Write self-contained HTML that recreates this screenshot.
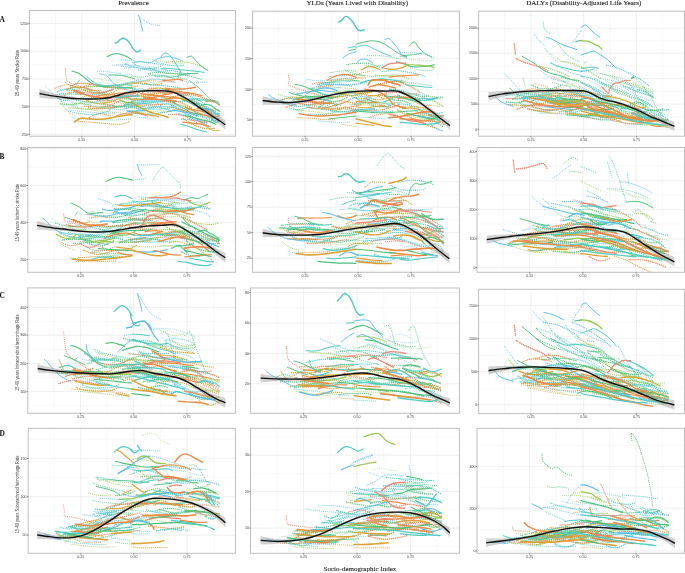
<!DOCTYPE html><html><head><meta charset="utf-8"><style>html,body{margin:0;padding:0;background:#fff;width:685px;height:573px;overflow:hidden}svg{display:block}.T{stroke:#4ccbc1}.S{stroke:#55bdea}.G{stroke:#4cc27a}.LG{stroke:#98c84a}.O{stroke:#ec8a45}.GO{stroke:#dca030}.R{stroke:#f0866f}.PT{stroke:#a8dcef}.PG{stroke:#bde0a5}.PO{stroke:#edd0a6}.DG{stroke:#2fb35f}.w8{stroke-width:0.8}.w9{stroke-width:0.9}.w10{stroke-width:1.0}.w11{stroke-width:1.1}.w12{stroke-width:1.2}.w13{stroke-width:1.3}.w14{stroke-width:1.4}.w15{stroke-width:1.5}.w16{stroke-width:1.6}.w17{stroke-width:1.7}.d{stroke-dasharray:.05 1.9}.e{stroke-dasharray:.05 1.8}</style></head><body>
<svg width="685" height="573" viewBox="0 0 685 573" style="will-change:transform">
<defs><filter id="bl" x="-5%" y="-5%" width="110%" height="110%"><feGaussianBlur stdDeviation="0.12"/></filter><filter id="bl2" x="0" y="0" width="100%" height="100%"><feGaussianBlur stdDeviation="0.28"/></filter></defs><rect width="685" height="573" fill="#fff"/><g filter="url(#bl2)">
<g><line x1="29.5" y1="37.3" x2="235.5" y2="37.3" stroke="#f3f3f3" stroke-width="0.6"/><line x1="29.5" y1="65" x2="235.5" y2="65" stroke="#f3f3f3" stroke-width="0.6"/><line x1="29.5" y1="92.7" x2="235.5" y2="92.7" stroke="#f3f3f3" stroke-width="0.6"/><line x1="29.5" y1="120.4" x2="235.5" y2="120.4" stroke="#f3f3f3" stroke-width="0.6"/><line x1="55.5" y1="10.5" x2="55.5" y2="136.2" stroke="#f3f3f3" stroke-width="0.6"/><line x1="108.2" y1="10.5" x2="108.2" y2="136.2" stroke="#f3f3f3" stroke-width="0.6"/><line x1="161" y1="10.5" x2="161" y2="136.2" stroke="#f3f3f3" stroke-width="0.6"/><line x1="213.8" y1="10.5" x2="213.8" y2="136.2" stroke="#f3f3f3" stroke-width="0.6"/><line x1="29.5" y1="23.4" x2="235.5" y2="23.4" stroke="#ebebeb" stroke-width="0.8"/><line x1="29.5" y1="51.2" x2="235.5" y2="51.2" stroke="#ebebeb" stroke-width="0.8"/><line x1="29.5" y1="79" x2="235.5" y2="79" stroke="#ebebeb" stroke-width="0.8"/><line x1="29.5" y1="106.7" x2="235.5" y2="106.7" stroke="#ebebeb" stroke-width="0.8"/><line x1="29.5" y1="134.3" x2="235.5" y2="134.3" stroke="#ebebeb" stroke-width="0.8"/><line x1="81.8" y1="10.5" x2="81.8" y2="136.2" stroke="#ebebeb" stroke-width="0.8"/><line x1="134.6" y1="10.5" x2="134.6" y2="136.2" stroke="#ebebeb" stroke-width="0.8"/><line x1="187.4" y1="10.5" x2="187.4" y2="136.2" stroke="#ebebeb" stroke-width="0.8"/></g>
<g clip-path="url(#cA1)"><g filter="url(#bl)"><g fill="none" stroke-linecap="round" stroke-linejoin="round"><path class="T w11 d" d="M121.5 59.9c1.1 0 4.5 0 6.8 .2c2.3 .2 4.5 .6 6.8 .9c2.3 .3 4.5 .5 6.8 .8c2.3 .3 4.5 .5 6.8 .8c2.3 .3 4.6 .8 6.9 1.2c2.3 .4 5.7 .9 6.8 1.1"/><path class="S w12 d" d="M138.8 70.3c1.2-.2 4.9-.9 7.3-1.1c2.4-.2 4.8-.1 7.2-.2c2.4-.1 4.9-.4 7.3-.2c2.4 .2 4.9 .8 7.3 1.2c2.4 .4 4.9 .6 7.3 1.1c2.4 .5 4.9 1.4 7.3 2c2.4 .6 6.1 1.5 7.3 1.8"/><path class="PG w11 d" d="M149.1 59.2c1.2 .2 4.7 .8 7.1 1.2c2.4 .4 4.7 1 7.1 1.5c2.4 .5 4.7 1.1 7.1 1.3c2.4 .2 4.7 0 7.1 .1c2.4 .1 5.9 .4 7.1 .5"/><path class="G w12 d" d="M149.4 67.8c1.1 .5 4.5 2 6.8 2.8c2.3 .8 4.6 1.3 6.8 1.8c2.2 .5 4.4 .9 6.7 1.1c2.2 .2 4.6 .2 6.8 .3c2.2 .1 4.4 .2 6.7 .1c2.2 0 5.7-.3 6.8-.4"/><path class="G w10" d="M108.6 75c1.1 0 4.4-.1 6.6 0c2.2 .1 4.3 .1 6.5 .4c2.2 .3 4.3 1 6.5 1.6c2.2 .6 5.5 1.5 6.6 1.8"/><path class="G w11 d" d="M134.1 64c1.1 .5 4.5 2 6.7 2.8c2.2 .8 4.5 1.5 6.7 1.7c2.2 .2 4.5-.2 6.7-.5c2.2-.3 5.6-1.3 6.7-1.6"/><path class="PT w12 d" d="M116.7 64.6c1.1 0 4.4-.2 6.6-.2c2.2 0 4.5 .2 6.7 .4c2.2 .2 4.5 .4 6.7 .6c2.2 .2 4.5 .4 6.7 .6c2.2 .2 4.5 .4 6.7 .7c2.2 .3 5.5 1.1 6.6 1.3"/><path class="T w12 d" d="M155.4 76.2c1.1-.1 4.3-.5 6.4-.5c2.1 0 4.3 .2 6.4 .3c2.1 .1 4.3-.2 6.4 .2c2.1 .4 4.3 1.4 6.4 2c2.1 .6 5.3 1.5 6.4 1.8"/><path class="PT w11 d" d="M112.5 65.4c1.2 0 4.6 .1 6.9 .1c2.3 0 4.6 .1 6.9 .1c2.3 0 4.6-.2 6.9 0c2.3 .2 4.6 .6 6.9 1c2.3 .4 4.6 1 6.9 1.5c2.3 .5 4.6 .9 6.9 1.5c2.3 .6 5.8 1.8 6.9 2.1"/><path class="S w11 d" d="M121.7 66.1c1.1 .1 4.6 .6 6.9 .8c2.3 .2 4.6 .1 6.9 .4c2.3 .2 4.6 .9 6.9 1.1c2.3 .2 4.6 .1 6.9 .3c2.3 .2 5.7 .8 6.9 1"/><path class="T w12 d" d="M156.1 61.7c1.2 .4 4.7 1.6 7.1 2.2c2.4 .6 4.7 1 7.1 1.3c2.4 .3 4.7 .6 7.1 .6c2.4 0 5.9-.5 7.1-.6"/><path class="T w10 d" d="M97.5 71.7c1.3 0 5.1-.5 7.7-.3c2.6 .2 5.2 .8 7.8 1.2c2.6 .4 6.5 .8 7.8 1"/><path class="G w12 d" d="M148.8 73.3c1.3-.1 5.1-.7 7.6-.8c2.5-.1 5 .3 7.5 .4c2.5 .1 5.1 .2 7.6 .4c2.5 .2 5.1 .3 7.6 .7c2.5 .4 5.1 1 7.6 1.5c2.5 .5 5.1 1.1 7.6 1.8c2.5 .7 6.2 1.8 7.5 2.1"/><path class="S w12 d" d="M125.5 63.9c1.3 .5 5.2 2.1 7.8 2.9c2.6 .8 5.1 1.2 7.7 1.7c2.6 .5 5.2 1.2 7.8 1.6c2.6 .4 5.2 .8 7.8 1c2.6 .2 5.1 0 7.7-.1c2.6-.1 6.5-.2 7.8-.3"/><path class="G w11 d" d="M148.5 73.9c1.2 .3 5 1.5 7.4 2c2.4 .5 4.8 .8 7.3 1c2.4 .2 4.9 .3 7.4 .2c2.5-.1 6.1-.6 7.3-.7"/><path class="LG w12 d" d="M166.6 62c1.2-.1 5-.4 7.5-.4c2.5 0 5-.1 7.5 .1c2.5 .2 5 .4 7.5 .9c2.5 .5 5 1.2 7.5 1.9c2.5 .7 6.2 2 7.5 2.4"/><path class="PG w11 d" d="M93.5 77.7c1.2 .2 4.6 1.1 6.9 1.5c2.3 .4 4.6 .9 6.9 1c2.3 .1 4.6-.2 6.9-.2c2.3 0 5.7 .1 6.9 .1"/><path class="T w10" d="M161.7 68.3c1.2 0 4.7 0 7.1 .1c2.4 .1 4.8 .3 7.1 .6c2.3 .3 4.7 .7 7 1c2.3 .3 4.7 .5 7.1 .7c2.4 .2 4.8 .4 7.1 .7c2.3 .3 5.8 .8 7 1"/><path class="T w14 d" d="M124.7 108.6c1.1-.2 4.2-1.1 6.4-1.5c2.2-.4 4.3-.8 6.5-.9c2.2-.1 5.4 .3 6.5 .4"/><path class="O w13 d" d="M89.4 117.4c1.2-.5 4.7-2.5 7-3.1c2.3-.6 4.8-.7 7.1-.4c2.3 .3 5.8 1.8 7 2.1"/><path class="O w15 d" d="M172 97c1.2-.2 4.7-1.1 7-1.4c2.3-.3 4.7-.6 7-.7c2.3-.1 4.7-.2 7 .1c2.3 .3 4.7 1.2 7 1.9c2.3 .7 4.7 1.5 7 2.3c2.3 .8 5.8 2.2 7 2.6"/><path class="GO w13 d" d="M148.7 92.8c1.1 .1 4.5 .4 6.7 .5c2.2 .1 4.5 .3 6.7 .3c2.2 0 4.4-.3 6.6-.4c2.2 0 5.6 .1 6.7 .1"/><path class="O w12 d" d="M168.6 114.7c1.2-.1 5-.6 7.4-.4c2.4 .2 4.9 .8 7.3 1.6c2.4 .8 4.9 1.9 7.4 3.2c2.5 1.2 6.2 3.6 7.4 4.3"/><path class="GO w14 d" d="M145.8 83.3c.9 .2 3.8 1.2 5.6 1.4c1.8 .2 3.7 .3 5.5 .1c1.8-.2 4.7-1.1 5.6-1.3"/><path class="PT w13" d="M137.2 81.9c1.2-.3 5-1.1 7.5-1.6c2.5-.5 5-1 7.5-1.2c2.5-.2 5 0 7.5 .2c2.5 .2 5 .8 7.5 1.3c2.5 .5 6.2 1.2 7.5 1.4"/><path class="G w12 d" d="M192.5 99.4c1.1 .1 4.5 .5 6.7 .7c2.2 .2 4.5 .4 6.7 .5c2.2 .1 4.5-.1 6.7 0c2.2 .1 5.6 .5 6.7 .6"/><path class="G w14 d" d="M202.3 110.7c.9 .1 3.8 0 5.7 .4c1.9 .4 3.7 1.2 5.6 2c1.9 .8 4.8 2.1 5.7 2.5"/><path class="S w13" d="M210.6 117.1c.7 .8 3 4.2 4.4 4.9c1.4 .7 3.6-.7 4.3-.8"/><path class="T w13 d" d="M57.9 98.4c.9 .3 3.6 1.4 5.4 1.7c1.8 .3 3.6 .5 5.4 .3c1.8-.2 4.5-1.2 5.4-1.5"/><path class="PT w11" d="M119.5 96.1c1.2-.7 4.8-3.2 7.1-4.2c2.3-1 4.7-1.3 7-1.8c2.3-.5 4.7-1.3 7-1.2c2.3 .1 4.8 1.1 7.1 1.6c2.3 .5 5.8 1.3 7 1.6"/><path class="O w14 d" d="M111.7 96.4c1.1-.1 4.5-.1 6.7-.5c2.2-.4 4.5-1.5 6.7-1.9c2.2-.5 4.5-.5 6.7-.8c2.2-.3 5.7-.8 6.8-1"/><path class="T w13 d" d="M100.8 107.7c1-.1 4.1-.5 6.1-.7c2-.2 4.1-.1 6.2-.2c2-.1 5.1-.2 6.1-.3"/><path class="LG w13 d" d="M125.7 97.3c1.3-.2 5.3-.9 8-1c2.7-.1 5.3 .3 8 .2c2.7-.1 5.2-.5 7.9-.7c2.7-.2 6.7-.5 8-.6"/><path class="T w12 d" d="M68.9 111c1.2 .3 4.6 1.6 6.9 2.1c2.3 .5 4.7 .5 7 .7c2.3 .2 4.6 .7 6.9 .7c2.3 0 4.6-.1 6.9-.4c2.3-.3 4.7-.9 7-1.5c2.3-.6 5.8-1.9 6.9-2.3"/><path class="S w12" d="M127.3 111.4c1 0 3.9 0 5.9-.1c2-.1 3.9-.4 5.9-.5c2-.1 4.9-.1 5.9-.1"/><path class="T w13 d" d="M163.9 93.5c1.2-.2 4.9-1.3 7.3-1.4c2.4-.1 4.9 .3 7.3 .8c2.4 .5 5 1.6 7.4 2.4c2.4 .8 4.9 1.2 7.3 2.2c2.4 1 4.9 2.4 7.3 3.6c2.4 1.2 6.1 3.2 7.3 3.8"/><path class="T w14 d" d="M102.2 92.7c1.1-.4 4.5-1.4 6.7-2.1c2.2-.7 4.5-1.6 6.8-2.1c2.2-.5 4.5-.4 6.7-.6c2.2-.2 4.5-.4 6.7-.3c2.2 .1 5.6 .9 6.7 1.1"/><path class="O w14" d="M197.2 108.5c1.3 .1 5.1-.6 7.7 .6c2.6 1.2 6.4 5.6 7.7 6.7"/><path class="G w12 d" d="M121.7 85.8c1.1-.4 4.3-2.1 6.5-2.6c2.2-.5 4.4-.6 6.6-.6c2.2 0 5.4 .3 6.5 .4"/><path class="O w12 d" d="M67.6 90.7c1.2-.1 4.6-.3 6.9-.4c2.3-.1 4.7-.2 7-.3c2.3-.1 4.7-.3 7-.2c2.3 .1 4.6 .8 6.9 .9c2.3 .1 5.8-.1 7-.1"/><path class="G w13 d" d="M60.3 103.8c1 .2 3.9 .7 5.8 .9c1.9 .2 3.8 .2 5.7 .1c1.9-.1 4.8-.7 5.8-.8"/><path class="LG w12 d" d="M144.2 90.7c1.3-.2 5.2-1.2 7.7-1.5c2.6-.3 5-.4 7.6-.4c2.6 0 5.1 .1 7.7 .3c2.6 .2 5.1 .6 7.6 1c2.5 .4 6.3 1.3 7.6 1.6"/><path class="O w13" d="M106.8 99.3c1.3-.3 5.1-1.7 7.7-2.1c2.6-.4 5.1-.4 7.7-.2c2.6 .2 6.5 1 7.8 1.2"/><path class="T w14 d" d="M130.8 107.2c1.2 .2 4.8 1.1 7.2 1.4c2.4 .3 4.8 .2 7.2 .3c2.4 .1 4.9 .1 7.3 .1c2.4 0 4.8 .2 7.2 .1c2.4-.1 4.8-.6 7.2-.9c2.4-.3 6-.7 7.2-.8"/><path class="LG w12 d" d="M67 104.6c1-.1 4.1-.5 6.1-.8c2-.2 4.1-.7 6.1-.7c2 0 4.1 .5 6.1 .9c2 .4 5.1 1.2 6.1 1.5"/><path class="S w14 d" d="M179.4 114.6c1.3 .3 5.2 .8 7.9 1.7c2.7 .9 5.3 2.3 8 3.5c2.7 1.2 5.3 2.3 8 3.5c2.7 1.2 6.6 3.2 7.9 3.8"/><path class="T w14 d" d="M161.4 97.6c1.2 .3 5 1.2 7.5 1.8c2.5 .6 4.9 1.5 7.4 1.8c2.5 .3 4.9 .3 7.4 .1c2.5-.2 6.2-.9 7.4-1.1"/><path class="GO w14 d" d="M200.3 121.4c1.1 .9 4.2 3.8 6.3 5.3c2.1 1.5 4.3 2.9 6.4 3.5c2.1 .6 5.2 .1 6.3 .1"/><path class="R w13 d" d="M143 92.3c1-.6 4-3 6.1-3.6c2.1-.6 4.1-.8 6.2-.3c2.1 .5 5.2 2.9 6.2 3.5"/><path class="GO w12" d="M185.2 107.2c1.1 .5 4.5 2.1 6.8 3.1c2.3 1 4.5 1.8 6.8 2.7c2.3 .9 4.6 1.7 6.9 2.5c2.3 .8 4.5 1.9 6.8 2.4c2.3 .5 5.7 .5 6.8 .6"/><path class="R w11" d="M149.5 91c1.1 .2 4.5 .7 6.7 .9c2.2 .2 4.5 .2 6.7 .3c2.2 .1 4.5 .1 6.7 .2c2.2 .1 4.5 0 6.7 .2c2.2 .2 4.5 .6 6.7 .7c2.2 .1 5.5 0 6.6 0"/><path class="T w14 d" d="M131.6 112.6c1.2 .2 4.8 .8 7.2 1c2.4 .2 4.9 .3 7.3 .3c2.4 0 4.8 .2 7.2 0c2.4-.2 4.8-.9 7.2-1.2c2.4-.3 6.1-.5 7.3-.6"/><path class="GO w12 d" d="M91.4 97.4c1-.2 4.2-.8 6.3-1.2c2.1-.4 4.1-.8 6.2-.9c2.1-.1 4.1 .1 6.2 .2c2.1 .1 5.3 .2 6.3 .2"/><path class="O w14 d" d="M114.4 95c1 .2 4.2 .9 6.3 .9c2.1 0 4.2-.3 6.3-.7c2.1-.4 4.2-1 6.3-1.4c2.1-.5 5.2-1.1 6.3-1.3"/><path class="PT w14" d="M140.1 99.4c1.1 0 4.3 0 6.5 0c2.2 0 4.3 0 6.5 .1c2.2 .1 4.4 .2 6.6 .3c2.2 0 4.3-.1 6.5 0c2.2 .1 5.5 .5 6.6 .6"/><path class="O w14 d" d="M105.9 87.4c1.1 .1 4.4 .3 6.6 .4c2.2 .1 4.3 .3 6.5 .3c2.2 0 4.4-.2 6.6-.4c2.2-.2 4.4-.3 6.6-.6c2.2-.3 5.4-1.1 6.5-1.3"/><path class="T w12" d="M114.6 97.6c1 0 4 0 6-.2c2-.2 4-.8 6-1c2-.2 4.1 .1 6.1 0c2-.1 5-.5 6-.6"/><path class="O w14 d" d="M103.5 103.5c1 .2 4 1.6 5.9 1.5c2-.1 3.8-1.1 5.8-1.9c2-.8 4.9-2.3 5.9-2.8"/><path class="GO w13 d" d="M147.8 91.9c1.3-.6 5.3-3.3 7.9-3.8c2.6-.5 5.3-.2 7.9 .5c2.6 .7 6.6 3.1 7.9 3.7"/><path class="GO w14 d" d="M169.1 99.9c1.3 .2 5.1 .7 7.6 1.4c2.5 .7 5.1 1.7 7.6 2.8c2.5 1.1 6.3 3.1 7.6 3.7"/><path class="R w13 d" d="M82.8 87.3c1-.4 4-2.1 6-2.6c2-.5 4-.6 6-.3c2 .3 5 1.8 6 2.1"/><path class="PG w11" d="M68.5 107.8c1.3 .1 5.1 .2 7.7 .4c2.6 .2 5.1 .9 7.7 1c2.6 .1 5.1 0 7.7-.1c2.6-.1 5.1-.5 7.7-.7c2.6-.2 6.4-.5 7.7-.6"/><path class="G w14 d" d="M160.5 105.1c.9-.2 3.6-1 5.4-1.1c1.8-.1 3.5 .1 5.3 .5c1.8 .4 4.5 1.8 5.4 2.1"/><path class="PG w12 d" d="M108.1 83.5c1.2 .2 4.7 1.2 7.1 1.5c2.4 .2 4.7 .1 7.1 0c2.4-.1 4.7-.4 7.1-.7c2.4-.3 4.7-.7 7.1-1.2c2.4-.5 4.7-.9 7.1-1.6c2.4-.7 5.9-1.9 7.1-2.3"/><path class="PT w12 d" d="M142.6 101.9c1.1 .1 4.5 .4 6.7 .4c2.2 0 4.5-.4 6.7-.4c2.2 0 5.5 .3 6.6 .4"/><path class="S w12 d" d="M148.4 106.8c1.2-.1 4.8-.5 7.2-.5c2.4 0 4.8 .1 7.2 .2c2.4 .1 4.8-.1 7.2 .2c2.4 .3 6 1.6 7.2 1.9"/><path class="S w14 d" d="M131.3 101.3c1.2-.1 4.9-.5 7.4-.6c2.4-.1 4.9 .1 7.3 .1c2.4 0 5 .1 7.4 .1c2.4 0 4.9-.3 7.3-.3c2.4 0 4.9 0 7.3 .3c2.4 .3 6.2 1.1 7.4 1.3"/><path class="GO w13" d="M66 90.1c1.1-.5 4.3-2.2 6.5-2.7c2.2-.5 4.3-.3 6.5-.2c2.2 .1 4.2 0 6.4 .6c2.2 .6 5.4 2.7 6.5 3.2"/><path class="T w13 d" d="M75.7 98.6c1.1 0 4.5-.1 6.7-.1c2.2 0 4.5-.1 6.7-.1c2.2 0 4.5-.1 6.7-.1c2.2 0 4.5 0 6.7-.2c2.2-.2 4.5-.9 6.7-1.1c2.2-.2 5.7-.2 6.8-.3"/><path class="PT w12 d" d="M55.9 94.8c1.3-.1 5.2-.7 7.8-.9c2.6-.2 5.3-.1 7.9-.1c2.6 0 5.2-.1 7.8 .1c2.6 .2 5.3 .7 7.9 1.1c2.6 .4 6.5 1 7.8 1.2"/><path class="G w13 d" d="M109.2 109.3c1.1-.3 4.5-1.5 6.8-1.9c2.2-.4 4.5-.6 6.7-.7c2.2-.1 4.5 0 6.8 .1c2.2 0 5.6 .2 6.7 .2"/><path class="T w12 d" d="M59.4 93.8c1.1 0 4.5 .1 6.8 .1c2.3 0 4.5 0 6.8 .1c2.3 .1 4.5 .2 6.8 .3c2.3 .1 4.5 0 6.8 .1c2.3 .1 4.5 .2 6.8 .3c2.3 .1 5.7 .2 6.8 .2"/><path class="LG w12 d" d="M79.2 103c1.1-.2 4.5-1.1 6.8-1.3c2.3-.2 4.5 .2 6.8 .2c2.3 0 4.6-.2 6.9-.1c2.3 .1 5.7 .7 6.8 .8"/><path class="GO w13 d" d="M182 96.8c1.2 .5 4.9 1.7 7.4 2.7c2.5 1 4.9 2.3 7.4 3.6c2.5 1.3 4.9 2.8 7.4 4.3c2.4 1.5 6.1 3.9 7.3 4.7"/><path class="O w15 d" d="M131.2 105.7c1.3-.1 5.2-.5 7.8-.6c2.6-.1 5.2 0 7.8-.1c2.6 0 5.2-.1 7.8-.2c2.6-.1 6.6-.4 7.9-.5"/><path class="PT w12 d" d="M191.2 103.4c1.3 .9 5.3 3.8 7.9 5.4c2.6 1.6 5.2 3 7.8 4.3c2.6 1.3 6.5 2.9 7.8 3.5"/><path class="PG w14 d" d="M147.1 80.8c1 .4 4.1 1.9 6.1 2.2c2 .3 4 .1 6-.2c2-.3 5.1-1.2 6.1-1.4"/><path class="O w11" d="M177.6 108.8c1.2 .3 4.7 1.3 7 2c2.3 .7 4.6 1.5 6.9 2c2.3 .5 4.7 .9 7 1.3c2.3 .4 4.6 .8 6.9 1.1c2.3 .4 4.7 .9 7 1c2.3 .1 5.8-.2 6.9-.2"/><path class="O w12 d" d="M159 91.2c1.2-.2 5-1.4 7.5-1.4c2.5 0 6.3 1.1 7.6 1.3"/><path class="O w14 d" d="M70.6 86c1-.4 4-2 6-2.4c2-.4 4.1-.1 6.1-.1c2 0 4.1-.2 6.1 .1c2 .3 5.1 1.7 6.1 2"/><path class="GO w12 d" d="M173 109.4c.9 0 3.8-.1 5.6 .1c1.8 .2 3.7 .8 5.5 1.1c1.8 .3 4.7 .8 5.6 .9"/><path class="LG w12 d" d="M79.3 98.9c.9-.5 3.7-2.2 5.5-2.7c1.8-.5 3.7-.5 5.5 0c1.8 .5 4.6 2.6 5.5 3.1"/><path class="G w12 d" d="M189.5 108c1.2 .9 5 3.9 7.5 5.5c2.5 1.6 4.9 2.9 7.4 4.1c2.5 1.2 5 2.3 7.5 2.8c2.5 .5 6.2 .2 7.4 .3"/><path class="G w14 d" d="M116.6 97c1.2 .3 4.8 1.2 7.2 1.6c2.4 .3 4.7 .4 7.1 .5c2.4 .1 4.8 .2 7.2 .1c2.4-.1 4.7-.3 7.1-.5c2.4-.2 4.7-.3 7.1-.8c2.4-.5 6-1.8 7.2-2.2"/><path class="T w14 d" d="M57.4 91.7c1.1-.4 4.5-2 6.8-2.5c2.3-.5 4.5-.5 6.8-.2c2.3 .2 4.5 1 6.8 1.7c2.3 .8 5.7 2.3 6.8 2.8"/><path class="S w12 d" d="M181.6 119.2c1.1 0 4.4 .1 6.6 .2c2.2 .1 4.4 .2 6.6 .6c2.2 .4 4.5 1.4 6.7 1.9c2.2 .5 5.5 1.2 6.6 1.4"/><path class="T w13 d" d="M143.4 102.2c1.3-.2 5.2-.9 7.9-1c2.7-.1 5.3 .3 8 .3c2.7 0 5.3-.4 8-.2c2.7 .2 6.7 1 8 1.2"/><path class="T w15 d" d="M184 99.5c1.2-.1 4.8-.6 7.1-.7c2.3-.1 4.7-.1 7 .1c2.3 .2 4.8 .5 7.1 .9c2.3 .4 4.7 1 7 1.5c2.3 .5 5.9 1.5 7.1 1.8"/><path class="PT w15 d" d="M157.3 102.5c1.1 .2 4.5 .7 6.7 .9c2.2 .2 4.4 0 6.7 .3c2.2 .3 4.6 .8 6.8 1.4c2.2 .6 5.6 1.8 6.7 2.2"/><path class="O w11" d="M95.9 96.4c1.2-.2 4.9-1.2 7.4-1.5c2.5-.3 5-.3 7.5-.6c2.5-.3 5-.8 7.5-1c2.5-.2 5-.3 7.5-.4c2.5-.1 6.3-.1 7.5-.1"/><path class="T w11" d="M196.7 102.8c1.3 1.2 5.1 5.4 7.6 7.2c2.5 1.8 5 3.1 7.5 3.7c2.5 .6 6.2 .1 7.5 .1"/><path class="GO w15 d" d="M86.8 100.4c1.1 .4 4.5 1.6 6.7 2.2c2.2 .5 4.4 1.1 6.6 1.1c2.2 0 4.4-.5 6.6-.9c2.2-.4 4.5-.6 6.7-1.5c2.2-.9 5.5-3.2 6.6-3.9"/><path class="T w15 d" d="M183.2 98.1c1.2 .3 4.8 1.2 7.2 1.9c2.4 .7 4.8 1.4 7.2 2.4c2.4 1 4.9 2.7 7.3 3.9c2.4 1.2 4.8 2.1 7.2 3.5c2.4 1.4 6 4 7.2 4.8"/><path class="GO w14 d" d="M103.9 87.2c1.2-.1 4.9-.2 7.4-.5c2.5-.3 4.9-.7 7.4-1.1c2.5-.4 4.9-1.2 7.4-1.5c2.5-.3 5-.3 7.4-.5c2.4-.2 4.9-.5 7.3-.5c2.4 0 6.2 .2 7.4 .2"/><path class="R w13 d" d="M97.5 100.3c1.1 .1 4.5 .6 6.7 .6c2.2 0 4.5-.4 6.8-.7c2.2-.3 4.5-.9 6.7-1.2c2.2-.3 4.5-.3 6.8-.8c2.2-.5 4.4-1.6 6.7-2.2c2.2-.6 5.7-1.1 6.8-1.3"/><path class="O w11" d="M130.7 99.1c1.1 0 4.4-.1 6.6 0c2.2 .1 4.4 .4 6.6 .4c2.2 0 4.4 0 6.6-.1c2.2-.1 5.5-.6 6.6-.7"/><path class="T w12 d" d="M196.3 116.5c.9 .1 3.8 .2 5.7 .4c1.9 .2 3.9 .1 5.8 .7c1.9 .6 4.8 2.2 5.8 2.7"/><path class="PT w15 d" d="M76.5 99.9c1.1 .3 4.5 1.5 6.8 2.1c2.3 .5 4.5 1.2 6.8 1.2c2.3 0 4.6-.8 6.9-1.3c2.3-.5 5.7-1.4 6.8-1.7"/><path class="T w11" d="M176.3 92.8c1.1 .9 4.5 3.8 6.7 5.5c2.2 1.7 4.4 3.1 6.7 4.4c2.2 1.3 4.6 2.6 6.8 3.6c2.2 1 4.5 1.5 6.7 2.1c2.2 .7 5.6 1.5 6.7 1.8"/><path class="LG w15 d" d="M87 86.8c1.2 0 4.9-.2 7.3-.2c2.4 0 4.8 0 7.2-.1c2.4 0 6-.2 7.2-.2"/><path class="S w12" d="M167.9 111.3c1.2-.1 4.9-.7 7.4-.6c2.5 .1 4.9 .6 7.4 1.1c2.5 .5 4.9 1 7.4 1.6c2.5 .6 6.2 1.8 7.4 2.1"/><path class="GO w14 d" d="M183.2 118.5c1.3 .8 5.2 3.7 7.8 5.1c2.6 1.4 5.2 2.2 7.8 3.1c2.6 .9 5.2 1.9 7.8 2.1c2.6 .2 6.5-.5 7.8-.6"/><path class="LG w13" d="M120 99.8c.9 .4 3.8 2.1 5.6 2.5c1.8 .4 3.7 .6 5.5 0c1.8-.6 4.6-3.2 5.5-3.8"/><path class="T w11" d="M123.5 105.8c1.2-.3 4.7-1.5 7-1.8c2.3-.3 4.7 .1 7 0c2.3-.1 4.7-.5 7-.5c2.3 0 5.8 .4 6.9 .5"/><path class="T w14 d" d="M124.4 104.5c1.1-.3 4.5-1.3 6.8-1.7c2.2-.4 4.5-.3 6.7-.5c2.2-.2 4.5-.6 6.8-.6c2.3 0 4.5 .2 6.8 .5c2.3 .3 5.7 .9 6.8 1.1"/><path class="GO w15 d" d="M135.9 95.5c1.1 0 4.3-.2 6.4-.3c2.1-.1 4.3-.1 6.4-.3c2.1-.2 5.2-.7 6.3-.8"/><path class="T w13 d" d="M142.3 84.3c1.2 .1 4.7 .3 7.1 .4c2.4 .1 4.7 .2 7.1 .4c2.4 .2 4.8 .3 7.2 .5c2.4 .2 4.7 .5 7.1 .8c2.4 .3 4.7 .8 7.1 1.3c2.4 .5 6 1.7 7.2 2"/><path class="S w14 d" d="M118.9 97.5c1-.3 4-1.7 6-2.1c2-.4 4-.3 6-.2c2 .1 5 .5 6 .6"/><path class="GO w13" d="M164.7 99.4c1.1-.2 4.5-.9 6.7-1.1c2.2-.2 4.4-.6 6.6-.4c2.2 .2 4.5 1 6.7 1.7c2.2 .7 5.6 2.2 6.7 2.6"/><path class="GO w14 d" d="M84.3 106.1c1.1 .1 4.4 .2 6.6 .4c2.2 .2 4.4 .7 6.6 .7c2.2 0 4.3-.4 6.5-.6c2.2-.2 5.5-.7 6.6-.8"/><path class="O w14 d" d="M88.6 107.8c1.2 .2 4.6 .8 6.9 .9c2.3 .2 4.6 .2 6.9 0c2.3-.2 4.6-.6 6.9-.9c2.3-.3 4.6-.4 6.9-.9c2.3-.5 5.7-1.6 6.9-1.9"/><path class="T w15 d" d="M112.7 105.7c1.3 .1 5.1 .9 7.7 .9c2.6 0 5.1-.4 7.7-.8c2.6-.4 5.2-.6 7.7-1.4c2.6-.8 6.3-3 7.6-3.6"/><path class="GO w12 d" d="M54.8 88.3c1-.4 4.1-1.8 6.2-2.4c2.1-.6 4.2-1.2 6.3-1.2c2.1 0 4.2 .5 6.3 1.2c2.1 .7 5.2 2.7 6.2 3.2"/><path class="LG w13 d" d="M92.8 90.2c1.2 .6 4.7 2.9 7 3.5c2.3 .6 4.7 .5 7 .2c2.3-.3 4.7-1.1 7-2.1c2.3-1 5.8-3.5 6.9-4.2"/><path class="O w14 d" d="M83.8 90.1c1.2 .4 4.9 1.9 7.4 2.5c2.5 .6 4.9 1 7.4 .9c2.5-.1 5-.7 7.5-1.4c2.5-.7 6.2-2.4 7.4-2.9"/><path class="GO w12 d" d="M202.6 106.8c.9 .4 3.7 1.8 5.5 2.3c1.8 .5 3.7 .9 5.6 .9c1.9 0 4.7-.5 5.6-.6"/><path class="S w14 d" d="M171.4 105.6c1.2 .6 4.8 2.2 7.2 3.5c2.4 1.3 4.8 3.1 7.2 4.4c2.4 1.3 4.7 2.1 7.1 3.3c2.4 1.2 4.8 2.7 7.2 3.6c2.4 .9 6 1.6 7.2 1.9"/><path class="GO w13 d" d="M143.6 98.7c1.3-.5 5.2-2.8 7.8-3.3c2.6-.5 5.3-.3 7.9 .2c2.6 .5 6.5 2.4 7.8 2.9"/><path class="O w13" d="M206 101.4c1.1-.1 4.5-1.3 6.7-.7c2.2 .6 5.5 3.5 6.6 4.2"/><path class="R w13 d" d="M76.6 90.7c1.2 .3 4.7 1.4 7.1 1.8c2.4 .4 4.8 .5 7.2 .5c2.4 0 4.7-.2 7.1-.4c2.4-.2 4.7-.6 7.1-1.1c2.4-.5 5.9-1.4 7.1-1.7"/><path class="T w12 d" d="M100.2 84.5c1.1 .2 4.6 .9 6.9 1.1c2.3 .2 4.6 .1 6.9-.1c2.3-.2 4.5-.7 6.8-1.2c2.3-.5 4.6-1.2 6.9-1.7c2.3-.5 4.6-.8 6.9-1.5c2.3-.7 5.7-2 6.8-2.4"/><path class="T w13 d" d="M207.1 101.2c1-.2 4.1-1.9 6.1-1.3c2 .6 5.1 4.2 6.1 5.1"/><path class="R w10" d="M113.5 117.3c1.1-.5 4.5-2.2 6.8-2.9c2.3-.7 4.6-1.1 6.9-1.3c2.3-.2 4.6-.3 6.9-.2c2.3 .2 4.5 .5 6.8 1.1c2.3 .5 5.8 1.8 6.9 2.2"/><path class="T w12 d" d="M132.8 89.6c1.2 .2 4.9 .9 7.4 1.1c2.5 .2 4.9 .3 7.4 .3c2.5 0 5-.2 7.5-.4c2.5-.2 4.9-.5 7.4-.7c2.5-.2 6.2-.4 7.4-.5"/><path class="T w14 d" d="M136.4 110.8c1.2-.4 4.6-2.1 6.9-2.6c2.3-.5 4.6-.1 6.9-.3c2.3-.2 4.6-.9 6.9-.8c2.3 .1 4.6 .8 6.9 1.4c2.3 .6 5.7 1.9 6.8 2.3"/><path class="O w13 d" d="M162.9 101.2c1.2 .2 4.9 .6 7.3 1.1c2.4 .5 4.9 1.4 7.3 2.1c2.4 .7 4.9 1.3 7.3 2c2.4 .7 6.1 1.8 7.3 2.1"/><path class="G w14 d" d="M172.3 101.6c1.2 .8 4.8 3.1 7.2 4.5c2.4 1.4 4.7 2.7 7.1 3.9c2.4 1.2 4.8 2.4 7.2 3.2c2.4 .8 6 1.3 7.2 1.6"/><path class="GO w13 d" d="M64.4 95.5c1-.5 3.9-2.9 5.9-3.3c2-.4 4 .3 6 .8c2 .5 4.9 2 5.9 2.4"/><path class="PT w9 d" d="M54.4 87.4c1.5 .4 5.5 1.5 8.8 2.2c3.3 .7 7.3 1.4 11 2.2c3.7 .8 7.7 1.9 11 2.6c3.3 .7 7.3 1.2 8.8 1.4"/><path class="S w9 d" d="M45.6 86.5c.5 .5 2.2 1.9 3.3 3.1c1.1 1.2 2 2.7 3.3 4c1.3 1.3 2.6 2.5 4.4 3.9c1.8 1.5 4 3.5 6.6 4.8c2.6 1.2 6.2 1.8 8.8 2.7c2.6 .9 5.5 2.3 6.6 2.8"/><path class="LG w10 d" d="M59.9 97.9c.4 .9 1.3 3.7 2.2 5.5c.9 1.8 2 3.4 3.3 5.1c1.3 1.7 2.9 3.6 4.4 4.8c1.5 1.2 3.7 1.8 4.4 2.2"/><path class="G w10 d" d="M65.4 82.6c1.1 .5 4 2.3 6.6 3.3c2.6 1 5.9 1.9 8.8 2.8c2.9 .9 5.9 2 8.8 2.7c2.9 .7 5.9 1.3 8.8 1.7c2.9 .4 7.3 .8 8.8 .9"/><path class="T w10 d" d="M72 102.3c2.2 .4 8.8 1.5 13.2 2.2c4.4 .7 8.8 1.5 13.2 2.2c4.4 .7 8.8 1.7 13.2 2.2c4.4 .5 9.7 .8 13.1 1.1c3.4 .3 6.1 .6 7.3 .7"/><path class="G w10 d" d="M76.4 100.1c2.2 .4 8.8 1.5 13.2 2.2c4.4 .7 8.8 1.5 13.2 2.2c4.4 .7 8.2 1.3 13.1 1.8c4.9 .5 13.4 .8 16.1 .9"/><path class="LG w10 d" d="M72 106.7c2.2 .4 8.8 1.5 13.2 2.2c4.4 .7 8.8 1.6 13.2 2.2c4.4 .5 8.8 .7 13.2 1.1c4.4 .4 9.7 .8 13.1 1.1c3.4 .3 6.1 .4 7.3 .5"/><path class="S w9 d" d="M69.8 110c2.2 .3 8.4 1.1 13.2 1.6c4.8 .5 9.9 1 15.4 1.3c5.5 .3 14.6 .3 17.5 .4"/><path class="T w10 d" d="M72 117.7c2.2 .2 8.4 1 13.2 1.4c4.8 .4 10.3 .7 15.4 .8c5.1 .1 10.1 .2 15.3 0c5.2-.2 13.4-.9 16.1-1.1"/><path class="GO w15" d="M74.2 122.1c1.1-.7 4-3.3 6.6-3.9c2.6-.5 5.5 .4 8.8 .6c3.3 .2 7.3 .7 11 .5c3.7-.2 7.7-1 11-1.6c3.3-.5 5.3-1.2 8.7-1.7c3.4-.5 9.8-1.1 11.7-1.3"/><path class="GO w12 d" d="M76.4 121c2.2 .2 8.8 .7 13.2 1.1c4.4 .4 8.8 .7 13.2 1.1c4.4 .4 9.5 1 13.1 1.1c3.7 0 6.4-.2 8.8-.8c2.4-.5 4.6-2.1 5.5-2.5"/><path class="R w11 d" d="M65.4 68.3c.1 .9 .2 3.6 .4 5.5c.2 1.9 .2 4.6 .9 6.1c.7 1.5 1.1 1.7 3.1 2.7c2 1 5.9 2.3 8.8 3.3c2.9 1 5.9 1.8 8.8 2.6c2.9 .8 6.6 1.9 8.8 2.4c2.2 .5 3.7 .8 4.4 .9"/><path class="G w11" d="M72 71.1c1.1 .4 4.4 1 6.6 2.2c2.2 1.2 4.6 3.4 6.6 4.9c2 1.5 3.3 3.1 5.5 4.4c2.2 1.3 4.2 2.6 7.7 3.3c3.5 .7 9.2 .8 13.2 1.1c4 .2 7.5 .2 10.9 .4c3.4 .2 7.9 .6 9.5 .7"/><path class="T w10" d="M87.4 77.1c.5 .5 1.8 1.7 3.3 2.8c1.5 1.1 3.1 2.8 5.5 3.8c2.4 1 5.5 2 8.8 2.2c3.3 .2 7.6-.5 10.9-.7c3.3-.2 6.1-.4 8.8-.4c2.7 0 6.1 .5 7.3 .6"/><path class="S w8" d="M99.5 73.8c1.3 .4 5.5 .7 7.7 2.2c2.2 1.5 3.7 4.9 5.5 6.6c1.8 1.7 3 2.2 5.4 3.3c2.4 1.1 7.3 2.8 8.8 3.3"/><path class="T w9" d="M75.3 85.2c.4-.4 1.5-1.7 2.2-2.6c.7-.9 1.8-2.2 2.2-2.7"/><path class="O w17" d="M74.2 90.9c1.1 .4 4.4 1.5 6.6 2.2c2.2 .7 4.4 1.6 6.6 2.2c2.2 .6 4.4 .9 6.6 1.3c2.2 .4 4.2 .8 6.6 .9c2.4 .1 6.4-.3 7.7-.4"/><path class="G w11" d="M107.2 56.6c1.5-.5 5.8-3 8.7-3.1c2.9-.1 6.1 1.2 8.8 2.2c2.7 1 6.1 3.2 7.3 3.8"/><path class="T w10 d" d="M115.9 75.5c1.5-.1 6.1-.2 8.8-.4c2.7-.2 6.1-.8 7.3-.9"/><path class="S w10 d" d="M124.7 68.3l7.3-.7"/><path class="G w10 d" d="M94 97.9c2.2 .4 8.8 1.5 13.2 2.2c4.4 .7 9 1.4 13.1 1.8c4.1 .4 9.8 .3 11.7 .4"/><path class="O w10 d" d="M100.6 100.1c1.8 .2 7.3 .6 11 1.1c3.7 .5 7.5 1.6 10.9 2.2c3.4 .6 7.9 1.3 9.5 1.6"/><path class="R w10 d" d="M120.3 89.2l11.7 1.1"/><path class="S w10" d="M138.6 15.5c.3 .9 1.1 2.9 1.8 5.5c.7 2.6 1.8 8.2 2.2 9.9"/><path class="S w10 d" d="M138.6 15.5c1.1 .9 4.4 4 6.6 5.5c2.2 1.5 4 2.5 6.6 3.3c2.6 .8 7.3 1.2 8.8 1.5"/><path class="S w9" d="M132 62.8c1.5-.2 5.9-1.1 8.8-1.1c2.9 0 6.2 1.5 8.8 1.1c2.6-.4 4.8-2.5 6.6-3.3c1.8-.8 2.4-1.1 4.4-1.6c2-.5 5.1-1.4 7.7-1.3c2.6 .1 5.3 1.1 7.7 1.8c2.4 .7 5.5 2.2 6.6 2.6"/><path class="T w10" d="M160.6 57.3c.7-.7 2.9-4 4.4-4.4c1.5-.4 2.9 .9 4.4 2.2c1.5 1.3 2.9 3.4 4.4 5.5c1.5 2.1 3.3 5.1 4.4 7c1.1 1.9 2.2 3 2.2 4.4c0 1.4-1.8 3.3-2.2 4"/><path class="G w10" d="M187 57.3c.7-.2 2.9-1.6 4.4-1.1c1.5 .5 2.8 2.8 4.4 4.4c1.7 1.6 3.5 3.8 5.5 5.5c2 1.7 5.5 3.7 6.6 4.4"/><path class="G w11 d" d="M132 76c1.8 .2 7.3 1.3 11 1.1c3.7-.2 7.3-2 11-2.2c3.7-.2 7.3 .4 11 1.1c3.7 .7 9.2 2.8 11 3.3"/><path class="G w10" d="M178.2 76c1.5-.4 5.5-1.8 8.8-2.2c3.3-.5 9.2-.4 11-.5"/><path class="S w10 d" d="M184.8 81.5c1.5 .2 5.1 1 8.8 1.1c3.7 .1 11-.4 13.2-.5"/><path class="O w14" d="M162.8 80.4c1.5-.1 6.2-.3 8.8-.5c2.6-.2 4.8-.7 6.6-.6c1.8 .1 3.7 .9 4.4 1.1"/><path class="O w13" d="M165 88.1c1.8 .2 7.3 1 11 1.1c3.7 .1 7.7-.2 11-.5c3.3-.3 7.3-1.1 8.8-1.3"/><path class="O w11" d="M167.2 89.2c2.2 .4 8.8 1.9 13.2 2.6c4.4 .7 9.5 1.1 13.2 1.8c3.7 .7 7.3 1.8 8.8 2.2"/><path class="O w10 d" d="M132 82.6c1.5-.2 5.5-.8 8.8-1.1c3.3-.3 7.3-.7 11-.7c3.7 0 7 .4 11 .7c4 .3 11 .9 13.2 1.1"/><path class="O w14" d="M140.8 93.6c1.5 .2 5.9 .7 8.8 1.1c2.9 .4 5.9 .8 8.8 1.1c2.9 .3 5.9 .6 8.8 1c2.9 .4 6.2 .7 8.8 1.1c2.6 .4 5.5 .9 6.6 1.1"/><path class="O w14" d="M143 96.8c1.8 .4 7.3 1.7 11 2.2c3.7 .5 7.3 .7 11 1.1c3.7 .4 9.2 .9 11 1.1"/><path class="O w13" d="M145.2 97.9c1.8-.2 7.7-.6 11-1.1c3.3-.5 6.2-1.6 8.8-2.1c2.6-.5 5.5-.9 6.6-1.1"/><path class="GO w14" d="M132 102.3c1.1 .7 4.4 3.1 6.6 4.4c2.2 1.3 4 2.2 6.6 3.3c2.6 1.1 5.9 2.4 8.8 3.3c2.9 .9 6.4 1.5 8.8 2.2c2.4 .7 4.6 1.5 5.5 1.8"/><path class="GO w12" d="M132 111.1c1.5 .4 5.9 1.5 8.8 2.2c2.9 .7 5.9 1.2 8.8 1.8c2.9 .5 7.3 1.2 8.8 1.5"/><path class="T w10 d" d="M132 115.5c1.5 .4 5.9 1.8 8.8 2.2c2.9 .5 7.3 .4 8.8 .5"/><path class="LG w10 d" d="M132 113.3c2.2-.2 8.8-.7 13.2-1.1c4.4-.4 8.8-1 13.2-1.1c4.4-.1 11 .4 13.2 .5"/><path class="G w11" d="M198 106.7c1.1-.4 4.4-2 6.6-2.2c2.2-.2 4.8 .4 6.6 1.1c1.8 .7 2.9 2.3 4.4 3.3c1.5 1 3.6 2.2 4.3 2.7"/><path class="S w12" d="M204.6 107.8c1.1 .4 4.8 1.3 6.6 2.2c1.8 .9 3.7 2.8 4.4 3.3"/><path class="O w14" d="M187 108.9c1.5 .2 5.9 .5 8.8 1.1c2.9 .5 6.2 1.7 8.8 2.2c2.6 .5 5.5 .9 6.6 1.1"/><path class="T w11" d="M180.4 124.3c1.5 .4 5.9 1.3 8.8 2.2c2.9 .9 5.9 2.4 8.8 3.3c2.9 .9 7.3 1.8 8.8 2.2"/><path class="G w12" d="M184.8 115.5c1.5 .4 5.9 1.5 8.8 2.2c2.9 .7 5.9 1.5 8.8 2.2c2.9 .7 6.6 1.5 8.8 2.2c2.2 .7 3.7 1.8 4.4 2.2"/><path class="O w13" d="M182.6 122.1c1.5 .2 5.5 .7 8.8 1.1c3.3 .4 8.1 .5 11 1.1c2.9 .5 5.5 1.8 6.6 2.2"/><path class="R w12 d" d="M189.2 119.9c1.5 .2 5.9 .7 8.8 1.1c2.9 .4 7.3 .9 8.8 1.1"/><path class="G w8" d="M189.2 80.4c1.5 1.1 6.2 4.4 8.8 6.6c2.6 2.2 4.4 4.4 6.6 6.6c2.2 2.2 5.5 5.4 6.6 6.5"/><path class="G w10" d="M182.6 100.1c1.5 .4 6.2 1.5 8.8 2.2c2.6 .7 5.5 1.8 6.6 2.2"/><path class="T w10 d" d="M176 113.3c1.5 .2 5.9 .7 8.8 1.1c2.9 .4 7.3 .9 8.8 1.1"/><path class="LG w10 d" d="M165 106.7c1.8 .2 7.3 .7 11 1.1c3.7 .4 9.2 .9 11 1.1"/><path class="T w14" d="M115.2 43.1c.4-.2 1.8-.5 2.6-1.1c.8-.6 1.6-1.8 2.4-2.4c.8-.6 1.7-1.3 2.6-1.4c.9-.1 1.7 .4 2.6 .9c.9 .5 2.1 1.4 3 2.3c.9 .9 1.5 2 2.3 3.2c.8 1.2 1.4 2.9 2.3 4.1c.9 1.2 2.1 2.4 3 2.9c.9 .5 1.6 .2 2.3 0c.7-.2 1.7-1.2 2-1.5"/></g></g><path d="M39.5 89.3c2.1 .6 8.6 2.6 12.8 3.6c4.1 1 8.1 1.7 12.1 2.4c4 .7 8.1 1.5 12.2 2c4 .5 8.1 .6 12.1 .7c4 .1 8.7 0 12.2-.3c3.5-.2 6.1-.6 9.1-1.2c3-.6 6.1-1.7 9.1-2.5c3-.8 5.5-1.8 9.1-2.4c3.6-.7 9-1.2 12.6-1.5c3.6-.3 5.9-.3 8.8-.4c2.9-.1 6.2 0 8.8 0c2.6 0 4.5 0 6.5 .2c2 .2 3.7 .3 5.5 .7c1.8 .4 3.7 .8 5.5 1.5c1.8 .7 3.8 1.7 5.6 2.7c1.8 1 3.5 1.9 5.5 3.1c2 1.2 4.4 2.8 6.6 4.2c2.2 1.4 4.4 2.8 6.6 4.2c2.2 1.4 4.4 2.6 6.6 3.9c2.2 1.3 4.4 2.5 6.6 3.7c2.2 1.2 4.6 2.2 6.6 3.2c2 1 4.5 2.4 5.4 2.9L225.4 129.6c-.9-.8-3.4-3.1-5.4-4.7c-2-1.6-4.4-3.2-6.6-4.9c-2.2-1.7-4.4-3.4-6.6-5.1c-2.2-1.7-4.4-3.3-6.6-5c-2.2-1.7-4.4-3.6-6.6-5.2c-2.2-1.6-4.6-3.3-6.6-4.6c-2-1.3-3.7-2.3-5.5-3.3c-1.8-1-3.8-2-5.6-2.7c-1.8-.7-3.7-1.1-5.5-1.5c-1.8-.4-3.5-.5-5.5-.7c-2-.2-3.9-.2-6.5-.2c-2.6 0-5.9-.1-8.8 0c-2.9 .1-5.2 .1-8.8 .4c-3.6 .3-9 .8-12.6 1.5c-3.6 .7-6.1 1.6-9.1 2.4c-3 .8-6.1 1.9-9.1 2.5c-3 .6-5.5 1-9.1 1.2c-3.5 .2-8.2 .2-12.2 .3c-4 0-8.1 .1-12.1 0c-4-.1-8.1-.2-12.2-.4c-4-.2-8-.3-12.1-.6c-4.1-.3-10.7-1.1-12.8-1.3Z" fill="#9a9a9a" fill-opacity="0.45"/><path d="M39.5 93.5c2.1 .4 8.6 1.7 12.8 2.4c4.1 .7 8.1 1.1 12.1 1.6c4 .5 8.1 1 12.2 1.2c4 .2 8.1 .3 12.1 .3c4 0 8.7 0 12.2-.3c3.5-.2 6.1-.6 9.1-1.2c3-.6 6.1-1.7 9.1-2.5c3-.8 5.5-1.8 9.1-2.4c3.6-.7 9-1.2 12.6-1.5c3.6-.3 5.9-.3 8.8-.4c2.9-.1 6.2 0 8.8 0c2.6 0 4.5 0 6.5 .2c2 .2 3.7 .3 5.5 .7c1.8 .4 3.7 .8 5.5 1.5c1.8 .7 3.8 1.7 5.6 2.7c1.8 1 3.5 1.9 5.5 3.2c2 1.3 4.4 2.9 6.6 4.4c2.2 1.5 4.4 3.2 6.6 4.7c2.2 1.5 4.4 2.9 6.6 4.4c2.2 1.5 4.4 3 6.6 4.4c2.2 1.4 4.6 2.8 6.6 4.1c2 1.3 4.5 3.2 5.4 3.8" fill="none" stroke="#111" stroke-width="1.35"/></g>
<clipPath id="cA1"><rect x="29.5" y="10.5" width="206" height="125.7"/></clipPath>
<rect x="29.5" y="10.5" width="206" height="125.7" fill="none" stroke="#bfbfbf" stroke-width="1"/>
<g font-family="Liberation Sans, sans-serif" font-size="3.6" fill="#3a3a3a"><line x1="28.3" y1="23.4" x2="29.5" y2="23.4" stroke="#444" stroke-width="0.7"/><text x="27.9" y="24.6" text-anchor="end">1250</text><line x1="28.3" y1="51.2" x2="29.5" y2="51.2" stroke="#444" stroke-width="0.7"/><text x="27.9" y="52.4" text-anchor="end">1000</text><line x1="28.3" y1="79" x2="29.5" y2="79" stroke="#444" stroke-width="0.7"/><text x="27.9" y="80.2" text-anchor="end">750</text><line x1="28.3" y1="106.7" x2="29.5" y2="106.7" stroke="#444" stroke-width="0.7"/><text x="27.9" y="107.9" text-anchor="end">500</text><line x1="28.3" y1="134.3" x2="29.5" y2="134.3" stroke="#444" stroke-width="0.7"/><text x="27.9" y="135.5" text-anchor="end">250</text><line x1="81.8" y1="136.2" x2="81.8" y2="137.4" stroke="#444" stroke-width="0.7"/><text x="81.8" y="140.8" text-anchor="middle">0.25</text><line x1="134.6" y1="136.2" x2="134.6" y2="137.4" stroke="#444" stroke-width="0.7"/><text x="134.6" y="140.8" text-anchor="middle">0.50</text><line x1="187.4" y1="136.2" x2="187.4" y2="137.4" stroke="#444" stroke-width="0.7"/><text x="187.4" y="140.8" text-anchor="middle">0.75</text></g>
<g><line x1="252.5" y1="12.9" x2="459.5" y2="12.9" stroke="#f3f3f3" stroke-width="0.6"/><line x1="252.5" y1="43.5" x2="459.5" y2="43.5" stroke="#f3f3f3" stroke-width="0.6"/><line x1="252.5" y1="74" x2="459.5" y2="74" stroke="#f3f3f3" stroke-width="0.6"/><line x1="252.5" y1="104.5" x2="459.5" y2="104.5" stroke="#f3f3f3" stroke-width="0.6"/><line x1="252.5" y1="135.1" x2="459.5" y2="135.1" stroke="#f3f3f3" stroke-width="0.6"/><line x1="278.6" y1="11.2" x2="278.6" y2="136.2" stroke="#f3f3f3" stroke-width="0.6"/><line x1="331.6" y1="11.2" x2="331.6" y2="136.2" stroke="#f3f3f3" stroke-width="0.6"/><line x1="384.6" y1="11.2" x2="384.6" y2="136.2" stroke="#f3f3f3" stroke-width="0.6"/><line x1="437.7" y1="11.2" x2="437.7" y2="136.2" stroke="#f3f3f3" stroke-width="0.6"/><line x1="252.5" y1="28.2" x2="459.5" y2="28.2" stroke="#ebebeb" stroke-width="0.8"/><line x1="252.5" y1="58.6" x2="459.5" y2="58.6" stroke="#ebebeb" stroke-width="0.8"/><line x1="252.5" y1="89.3" x2="459.5" y2="89.3" stroke="#ebebeb" stroke-width="0.8"/><line x1="252.5" y1="119.8" x2="459.5" y2="119.8" stroke="#ebebeb" stroke-width="0.8"/><line x1="305.1" y1="11.2" x2="305.1" y2="136.2" stroke="#ebebeb" stroke-width="0.8"/><line x1="358.1" y1="11.2" x2="358.1" y2="136.2" stroke="#ebebeb" stroke-width="0.8"/><line x1="411.1" y1="11.2" x2="411.1" y2="136.2" stroke="#ebebeb" stroke-width="0.8"/></g>
<g clip-path="url(#cA2)"><g filter="url(#bl)"><g fill="none" stroke-linecap="round" stroke-linejoin="round"><path class="PG w12 d" d="M402.3 57c1.3 .4 5.3 1.8 8 2.3c2.7 .5 5.4 .2 8 .5c2.6 .2 5.2 1 7.9 1c2.6 0 6.7-.8 8-.9"/><path class="T w10 d" d="M400.6 52.7c1.1-.1 4.4-.4 6.7-.4c2.2 0 4.6 .2 6.8 .4c2.2 .2 4.5 .6 6.7 1c2.2 .4 4.5 .9 6.7 1.5c2.2 .6 5.6 1.7 6.7 2.1"/><path class="G w11" d="M396.3 61.6c1.3 .4 5.1 1.7 7.6 2.5c2.5 .8 5.1 2 7.6 2.4c2.5 .5 5 .3 7.5 .3c2.5 0 5.1-.2 7.6-.6c2.5-.4 6.3-1.3 7.6-1.6"/><path class="G w10 d" d="M409 66.3c1.1 .5 4.2 2.1 6.3 2.8c2.1 .7 4.2 .9 6.3 1.2c2.1 .3 4.2 .5 6.3 .4c2.1-.1 5.2-.9 6.3-1.1"/><path class="LG w11" d="M404.5 63.9c1.2 .1 4.9 .7 7.4 .9c2.5 .2 4.9 .1 7.4 .3c2.5 .2 5 .4 7.5 .8c2.5 .4 6.2 1.2 7.4 1.4"/><path class="G w10 d" d="M367.7 55.6c1.2 0 4.6 0 6.9 0c2.3 0 4.6 0 6.9 .2c2.3 .2 4.5 .5 6.8 .9c2.3 .4 4.6 .9 6.9 1.3c2.3 .4 5.8 .9 6.9 1.1"/><path class="G w10 d" d="M344.9 70.2c1.1 .4 4.6 1.9 6.9 2.6c2.3 .7 4.6 1 6.9 1.5c2.3 .5 4.6 .9 6.9 1.3c2.3 .4 4.6 .8 6.9 1c2.3 .2 4.6 .2 6.9 .2c2.3 0 4.6-.2 6.9-.4c2.3-.2 5.8-.4 6.9-.5"/><path class="G w12 d" d="M346.9 64.7c1.2-.2 4.8-1 7.2-1.2c2.4-.2 4.9-.3 7.3-.3c2.4 0 4.8-.2 7.2 .2c2.4 .4 4.9 1.6 7.3 2.4c2.4 .8 6 2.2 7.2 2.6"/><path class="T w12 d" d="M306.9 114.5c1.1 0 4.3 .3 6.5 .3c2.2 0 4.4-.2 6.5-.3c2.1-.1 4.2-.1 6.4-.4c2.2-.3 4.3-1 6.5-1.4c2.2-.4 5.4-.8 6.5-.9"/><path class="GO w14 d" d="M359.1 93.5c1.2 .2 4.7 1 7.1 1.4c2.4 .4 4.7 .9 7.1 .9c2.4 0 4.7-.5 7.1-.8c2.4-.3 5.9-1.1 7.1-1.3"/><path class="GO w15 d" d="M334.9 92.2c1.1 .1 4.6 .5 6.9 .6c2.3 .1 4.7 .1 7 .1c2.3 0 4.6-.1 6.9-.2c2.3-.1 4.6-.5 6.9-.6c2.3-.1 4.6 .2 6.9 0c2.3-.2 5.8-1.1 6.9-1.3"/><path class="G w14 d" d="M319.9 102.3c1.2 0 4.7 .3 7 .2c2.3-.1 4.7-.6 7-.9c2.3-.3 4.7-.5 7-1.2c2.3-.7 5.8-2.7 6.9-3.2"/><path class="PG w14 d" d="M278.7 94.1c1.2 .4 4.7 1.9 7.1 2.4c2.4 .5 4.7 .4 7.1 .5c2.4 .1 4.7 .5 7.1 .3c2.4-.2 4.7-.9 7.1-1.6c2.4-.7 5.9-2.2 7.1-2.7"/><path class="O w11" d="M306.8 107.2c1.2 .2 4.7 .9 7.1 1c2.4 .1 4.7 .1 7.1-.1c2.4-.2 4.7-.4 7.1-.9c2.4-.5 4.7-1.3 7.1-2c2.4-.7 4.8-1.2 7.2-1.9c2.4-.8 5.9-2.2 7.1-2.6"/><path class="T w12" d="M291 103c1.3-.4 5.4-1.5 8-2.2c2.6-.7 5.3-1.4 7.9-1.8c2.6-.4 5.2-.7 7.9-.6c2.7 .1 5.4 .5 8 1c2.6 .5 6.6 1.4 7.9 1.7"/><path class="LG w13 d" d="M375.4 75.2c1.1 0 4.5 .3 6.7 .3c2.2 0 4.5-.2 6.7-.3c2.2-.1 4.4-.5 6.6-.3c2.2 .2 4.5 .7 6.7 1.4c2.2 .7 5.6 2.2 6.7 2.6"/><path class="R w13 d" d="M312.5 83.9c.9-.2 3.7-1.1 5.5-1.3c1.8-.2 3.6-.2 5.5-.1c1.9 .1 4.7 .8 5.6 .9"/><path class="GO w14 d" d="M308.9 99.1c1.1-.2 4.5-.6 6.7-1c2.2-.4 4.5-1.3 6.8-1.6c2.2-.2 4.5 .1 6.7 .1c2.2 0 4.5-.2 6.8-.2c2.2 0 5.6 .2 6.7 .3"/><path class="O w14 d" d="M378.7 94.4c1.2 .4 4.8 1.8 7.1 2.2c2.4 .4 4.7 .3 7 .3c2.3 0 4.7-.6 7.1-.5c2.4 .1 5.8 1.1 7 1.3"/><path class="O w13 d" d="M347.8 107.8c1.2 .2 4.9 .9 7.3 1.2c2.4 .3 4.9 .6 7.3 .9c2.4 .3 4.9 .6 7.3 .7c2.4 0 4.8-.2 7.2-.4c2.4-.2 4.9-.4 7.3-.9c2.4-.5 6.1-1.8 7.3-2.1"/><path class="R w12 d" d="M314.5 98.7c1.3-.4 5.1-1.9 7.7-2.2c2.6-.3 5.1-.2 7.6 .1c2.6 .3 6.4 1.2 7.7 1.5"/><path class="T w15 d" d="M431.5 124.9c1 .7 3.9 3 5.9 4c2 1 4.9 1.8 5.9 2.2"/><path class="T w13" d="M361.1 82.7c1.2-.3 4.8-1.5 7.1-2c2.3-.5 4.7-.7 7-1c2.3-.3 4.7-.7 7-.7c2.3 0 4.7 .5 7 .7c2.3 .2 4.7 .3 7 .8c2.3 .5 5.8 1.8 7 2.2"/><path class="PT w13 d" d="M292.9 92.7c.9 .2 3.8 1 5.7 1.1c1.9 .1 3.7-.1 5.6-.5c1.9-.4 4.7-1.7 5.6-2"/><path class="T w12 d" d="M325.8 106.1c1.3-.5 5.3-3.1 8-3.1c2.7 0 6.7 2.4 8 2.9"/><path class="T w14 d" d="M325.3 83.7c1.2 .1 4.7 .4 7.1 .6c2.4 .2 4.6 .6 7 .7c2.4 .1 4.8-.1 7.1-.2c2.4-.1 4.7 0 7-.2c2.3-.2 4.6-.7 7-1.1c2.4-.4 5.9-.9 7.1-1.1"/><path class="G w13 d" d="M399.6 92.7c1.2 .3 4.9 1.3 7.3 1.7c2.4 .4 4.9 .2 7.3 .5c2.4 .3 4.8 1.3 7.2 1.6c2.4 .3 4.9 0 7.3 .1c2.4 .1 4.9 .4 7.3 .5c2.4 .1 6.1 .2 7.3 .2"/><path class="G w14 d" d="M392.6 99.9c1 .1 4.1 .1 6.1 .4c2 .2 4 .5 6 1.1c2 .7 5.1 2.3 6.1 2.8"/><path class="R w12 d" d="M351.1 104.8c1.3-.5 5-2.2 7.6-3c2.6-.8 5.1-1.7 7.7-1.7c2.6 0 5.1 .8 7.6 1.4c2.5 .7 6.3 2.1 7.6 2.5"/><path class="S w14 d" d="M351 110.5c1.1-.2 4.3-.9 6.5-1.1c2.2-.2 4.3 .1 6.5 0c2.2-.1 4.3-.7 6.5-.6c2.2 .1 5.4 .9 6.5 1.1"/><path class="T w13 d" d="M289.7 108.2c1.1 .2 4.5 1.4 6.7 1.5c2.2 .1 4.4-.2 6.6-.7c2.2-.5 5.5-2 6.6-2.4"/><path class="G w12" d="M292.8 100.1c1.1-.3 4.5-1.4 6.7-1.9c2.2-.5 4.5-.9 6.7-1.2c2.2-.3 4.4-.3 6.6-.5c2.2-.2 4.5-.5 6.7-.4c2.2 .1 4.5 .5 6.7 .9c2.2 .4 5.6 1.2 6.7 1.4"/><path class="S w10" d="M295.2 94.5c1.3-.3 5.3-1.4 7.9-1.9c2.6-.5 5.3-.7 8-1.1c2.7-.4 5.4-1 8-1.1c2.6 0 5.2 .5 7.9 .8c2.6 .2 6.7 .6 8 .7"/><path class="T w13 d" d="M283.2 103.2c1.2 .3 4.9 1.4 7.4 1.9c2.5 .5 4.9 1.1 7.4 1.2c2.5 .1 4.9-.2 7.4-.5c2.5-.3 5-.8 7.5-1.3c2.5-.5 4.9-.8 7.4-1.7c2.5-.9 6.2-3.1 7.4-3.7"/><path class="GO w15 d" d="M324.4 108.7c1.2 .2 4.9 .8 7.3 1c2.4 .2 4.9 .5 7.3 0c2.4-.5 6-2.5 7.2-3"/><path class="GO w12 d" d="M314.2 105.8c1.1-.3 4.5-1.3 6.8-1.9c2.3-.5 4.6-1.1 6.9-1.4c2.3-.3 4.6-.5 6.9-.7c2.3-.2 4.5-.8 6.8-.7c2.3 0 4.6 .6 6.9 1c2.3 .4 5.8 1.2 6.9 1.5"/><path class="GO w14 d" d="M330 80.8c1.2-.2 4.8-.8 7.2-1.1c2.4-.3 4.9-.8 7.3-.9c2.4-.1 4.9 .2 7.3 .1c2.4-.1 4.8-.8 7.2-.9c2.4-.2 6.1 0 7.3 0"/><path class="O w15 d" d="M378.9 84c1.1-.2 4.5-.7 6.8-1.1c2.3-.4 4.5-1 6.8-1.2c2.3-.2 4.5-.5 6.8 0c2.3 .5 4.5 1.9 6.8 2.9c2.3 1 4.5 1.8 6.8 3c2.2 1.2 5.6 3.8 6.7 4.5"/><path class="G w12 d" d="M329.1 77.1c1.2-.2 4.8-1.1 7.2-1.4c2.4-.3 4.8-.1 7.2-.3c2.4-.2 4.8-.6 7.2-.7c2.4-.1 4.7 0 7.1 .2c2.4 .2 6 1 7.2 1.2"/><path class="GO w12 d" d="M352 96.8c1.2 .3 4.9 1.5 7.3 1.9c2.4 .4 4.9 .2 7.3 .3c2.4 .1 4.9 .3 7.3 .4c2.4 .1 4.9 .2 7.3 0c2.4-.2 4.9-.6 7.3-1.1c2.4-.5 6.1-1.5 7.3-1.8"/><path class="S w12" d="M354.4 104.6c1.2-.3 4.8-1.4 7.1-1.7c2.4-.3 4.7-.1 7-.1c2.3 0 4.7 0 7 0c2.3 0 4.6-.2 7 0c2.4 .2 5.9 1.2 7.1 1.4"/><path class="G w13 d" d="M280.6 100.3c1.1-.3 4.3-1.5 6.5-1.8c2.2-.3 4.4-.1 6.6 .1c2.2 .2 5.4 .9 6.5 1.1"/><path class="T w12 d" d="M382.3 71.3c1.2-.1 4.8-.3 7.2-.4c2.4-.1 4.9-.4 7.3-.3c2.4 .1 4.8 .6 7.2 .9c2.4 .3 4.8 .8 7.2 1.2c2.4 .4 4.9 .7 7.3 1.4c2.4 .7 6 2.1 7.2 2.5"/><path class="GO w14 d" d="M397.5 110.1c1.2 .8 5 3.1 7.5 4.5c2.5 1.4 5 2.8 7.5 4c2.5 1.2 5 1.8 7.5 2.9c2.5 1.1 5 2.8 7.5 3.8c2.5 1 6.2 2.1 7.5 2.5"/><path class="G w15 d" d="M425.1 112.1c.9 .6 3.6 2.7 5.4 3.6c1.8 1 3.6 1.5 5.4 2.1c1.8 .6 4.5 1.2 5.4 1.4"/><path class="PG w10" d="M307.9 90c1.2-.3 4.6-1.2 7-1.6c2.4-.4 4.8-.5 7.1-.6c2.4-.1 5.8 .2 7 .2"/><path class="R w15 d" d="M379.3 105c1.1 .3 4.3 1.5 6.5 1.8c2.2 .3 4.3 .4 6.5 .1c2.2-.3 5.4-1.7 6.5-2"/><path class="R w14 d" d="M286 107.4c1.2-.5 4.9-2 7.3-2.7c2.4-.7 4.8-1 7.2-1.4c2.4-.4 4.8-1 7.2-1c2.4 0 4.8 .5 7.2 .9c2.4 .4 6 1.2 7.2 1.5"/><path class="G w14 d" d="M420.6 120.5c1.2-.2 5-1.4 7.5-1.2c2.5 .2 5.1 1.2 7.6 2.5c2.5 1.3 6.3 4.3 7.6 5.2"/><path class="PG w15 d" d="M401.3 80.2c1.3 .9 5.2 3.7 7.8 5.3c2.6 1.6 5.2 3 7.8 4.5c2.6 1.5 5.1 3.2 7.7 4.4c2.6 1.2 5.2 2 7.8 2.8c2.6 .8 6.5 1.7 7.8 2"/><path class="GO w15 d" d="M364.7 98.5c1-.5 4.1-2.2 6.2-2.7c2.1-.5 4.2-.5 6.3 0c2.1 .5 5.2 2.4 6.3 2.9"/><path class="O w15 d" d="M300.5 100.3c1 .1 4.1 .6 6.1 .5c2.1-.1 4.1-.6 6.2-.9c2.1-.3 4.1-.4 6.2-.9c2.1-.5 5.1-2 6.1-2.4"/><path class="GO w11" d="M402.5 108.6c1.3-.1 5.3-.6 7.9-.5c2.6 .1 5.3 .5 7.9 1.2c2.6 .7 6.6 2.7 7.9 3.2"/><path class="G w15 d" d="M368.1 103.3c1.1 .5 4.5 2.2 6.8 2.8c2.3 .6 4.5 .6 6.8 .6c2.3 0 4.5 .1 6.8-.6c2.3-.7 5.7-3 6.8-3.6"/><path class="PG w13 d" d="M385.6 101.1c1.2-.5 4.7-2.1 7-2.7c2.3-.6 4.6-1.1 6.9-.9c2.3 .2 4.6 1 6.9 1.9c2.3 .9 5.8 3.1 6.9 3.7"/><path class="PG w15 d" d="M399.2 107.4c1.3-.1 5.3-1.2 7.9-.7c2.6 .5 5.3 2 7.9 3.4c2.6 1.4 5.2 2.7 7.8 4.9c2.6 2.2 6.6 6.8 7.9 8.2"/><path class="T w14 d" d="M354.8 97.3c.9 .6 3.8 2.9 5.7 3.4c1.9 .5 3.7 .4 5.6-.2c1.9-.6 4.8-2.7 5.7-3.2"/><path class="T w13 d" d="M423.3 108.9c1.1 .6 4.4 2.9 6.6 3.7c2.2 .8 4.5 1.1 6.7 1c2.2-.1 5.6-1.2 6.7-1.4"/><path class="T w15 d" d="M331 110.8c1.2 .2 4.8 .8 7.2 .9c2.4 .1 4.8-.1 7.2-.2c2.4-.1 4.8-.4 7.2-.6c2.4-.2 4.8-.4 7.2-.6c2.4-.2 4.8-.1 7.2-.4c2.4-.3 6.1-1.2 7.3-1.5"/><path class="G w15 d" d="M389.7 89.1c1.3 .4 5.2 1.5 7.8 2.3c2.6 .8 5.3 1.9 7.9 2.8c2.6 .9 5.2 1.8 7.8 2.6c2.6 .8 6.6 1.8 7.9 2.1"/><path class="R w13 d" d="M409.5 97.4c1.2 .9 5 4 7.5 5.4c2.5 1.4 5.1 2.6 7.6 3c2.5 .4 6.2-.4 7.5-.5"/><path class="T w11" d="M366.5 98.7c1.1 .5 4.3 2.3 6.5 2.9c2.2 .6 4.3 1 6.5 .9c2.2-.1 4.3-.6 6.5-1.3c2.2-.7 5.4-2.2 6.5-2.6"/><path class="O w12" d="M326.8 80.4c1.2-.6 4.9-2.6 7.3-3.6c2.4-1 4.9-2 7.4-2.3c2.4-.3 4.9-.1 7.3 .4c2.4 .5 6.2 2.1 7.4 2.5"/><path class="GO w11" d="M361 70.1c1.1-.5 4.3-2.7 6.4-3.2c2.1-.5 4.3-.3 6.4 .2c2.1 .5 5.2 2.2 6.3 2.7"/><path class="O w14 d" d="M295 102c1.1 .3 4.5 1.7 6.7 2.1c2.2 .4 4.4 .5 6.6 .4c2.2-.1 4.5-.3 6.7-.8c2.2-.5 4.4-1.2 6.6-2.1c2.2-.9 5.6-2.7 6.7-3.2"/><path class="GO w15 d" d="M410.3 106.6c1.2 .1 4.9 .1 7.3 .4c2.4 .3 4.9 .6 7.4 1.5c2.4 .9 4.9 2.4 7.3 3.8c2.4 1.4 6.1 4 7.3 4.8"/><path class="S w11" d="M306.8 93.5c1.3-.5 5.1-2.4 7.7-3.3c2.6-.9 5.2-1.6 7.8-1.9c2.6-.3 5.1-.5 7.7-.1c2.6 .4 6.4 2.2 7.7 2.7"/><path class="GO w14 d" d="M328.4 98.7c1.1-.2 4.5-1.1 6.7-1.5c2.2-.4 4.4-.5 6.6-.8c2.2-.3 4.5-.7 6.7-.9c2.2-.2 4.5-.1 6.7-.2c2.2-.1 5.5-.2 6.6-.2"/><path class="G w14 d" d="M305.3 95.6c1.2 .4 5 1.6 7.5 2.2c2.5 .6 5.1 1.4 7.6 1.5c2.5 .1 5-.5 7.5-.9c2.5-.4 5-.7 7.5-1.3c2.5-.6 6.2-2.1 7.5-2.5"/><path class="GO w12 d" d="M279.4 100.9c1.1-.5 4.6-2.1 6.9-2.7c2.3-.6 4.5-1 6.8-1c2.3 0 4.6 .2 6.9 .8c2.3 .6 5.7 2.2 6.8 2.7"/><path class="O w14 d" d="M411.1 118.2c1.1 .2 4.4 1 6.5 1.4c2.1 .4 4.3 .7 6.4 1c2.1 .3 4.2 .7 6.4 .8c2.1 .2 4.4 0 6.5 .1c2.1 .1 5.3 .5 6.4 .6"/><path class="T w15 d" d="M397.8 95.2c1.3 .5 5.2 2.1 7.8 2.9c2.6 .8 5.2 1.4 7.8 1.8c2.6 .4 5.2 .6 7.8 .6c2.6 0 5.2-.2 7.8-.6c2.6-.4 6.5-1.3 7.8-1.6"/><path class="PG w12 d" d="M328.6 94.8c1.3-.2 5.3-1.1 8-1.4c2.7-.3 5.3-.4 8-.6c2.7-.2 5.3-.6 8-.5c2.7 .1 5.4 .7 8 .9c2.6 .2 6.6 .2 7.9 .2"/><path class="R w12" d="M389 114.3c1.2 .3 4.9 1 7.3 1.7c2.4 .7 4.9 1.9 7.3 2.7c2.4 .8 4.9 1.7 7.3 2.2c2.4 .5 4.9 .5 7.3 1c2.4 .5 6.1 1.5 7.3 1.8"/><path class="R w14 d" d="M319 87.1c1.3-.2 5.1-.9 7.7-1.3c2.6-.4 6.4-.7 7.7-.9"/><path class="PG w13 d" d="M399.3 110c1.1 .6 4.6 2.7 6.9 3.7c2.3 1 4.7 1.6 7 2.4c2.3 .8 4.6 1.6 6.9 2.2c2.3 .6 4.6 1 6.9 1.2c2.3 .2 5.8-.2 7-.3"/><path class="LG w14 d" d="M421.1 98.6c1.2 0 4.9-.3 7.4 .3c2.5 .6 4.9 1.8 7.4 3.1c2.5 1.3 6.2 3.8 7.4 4.6"/><path class="T w12 d" d="M397.9 103.9c1.1 0 4.2 0 6.3 .2c2.1 .2 4.3 .5 6.4 1.2c2.1 .7 4.3 1.5 6.4 2.7c2.1 1.2 5.3 3.9 6.4 4.7"/><path class="G w12 d" d="M337.7 93.2c1.1 .3 4.5 1.5 6.7 1.9c2.2 .4 4.5 .8 6.7 .7c2.2-.1 4.4-.8 6.6-1.4c2.2-.6 5.6-1.8 6.7-2.2"/><path class="T w14 d" d="M389.8 90.2c1.1-.1 4.4-.5 6.6-.4c2.2 .1 4.3 .5 6.5 1.1c2.2 .6 5.5 2 6.6 2.4"/><path class="O w14 d" d="M322.1 109.3c1.3-.1 5.3-.2 8-.4c2.7-.2 5.3-.4 8-.6c2.7-.2 5.3-.2 8-.5c2.7-.3 5.4-1 8-1.5c2.6-.5 6.6-1.5 7.9-1.8"/><path class="PG w12" d="M376 101.2c1.1 .2 4.2 1.1 6.3 1.5c2.1 .4 4.2 .8 6.3 .8c2.1 0 4.1-.8 6.2-1c2.1-.2 5.2-.2 6.3-.2"/><path class="PG w13 d" d="M350.1 104.2c1.1-.1 4.5-.4 6.8-.5c2.3-.1 4.6-.3 6.8-.3c2.2 0 4.4 .2 6.7 .3c2.2 0 4.5 0 6.8 0c2.3 0 4.5 .1 6.8 .1c2.3 0 5.7-.2 6.8-.3"/><path class="O w12" d="M398 98.6c1.2-.2 4.9-1.2 7.3-1.3c2.4-.1 4.9 .1 7.4 .8c2.4 .7 6.1 2.8 7.3 3.4"/><path class="G w12" d="M428.6 114.4c1.2 .5 4.8 2.7 7.3 2.9c2.4 .2 6.2-1.5 7.4-1.8"/><path class="R w13 d" d="M384.9 92.9c1.1 0 4.5-.1 6.7-.2c2.2-.1 4.4-.4 6.6-.3c2.2 .1 4.4 .6 6.6 .8c2.2 .2 4.5 0 6.7 .2c2.2 .2 5.5 .7 6.6 .8"/><path class="O w15 d" d="M429.4 114.7c1.2 .1 4.7 .4 7 .6c2.3 .2 5.8 .6 6.9 .7"/><path class="G w15 d" d="M318 84.4c1.1-.2 4.5-1.1 6.8-1.5c2.3-.4 4.6-.5 6.9-.9c2.3-.4 4.6-1 6.9-1.3c2.3-.3 4.5-.2 6.8-.3c2.3-.1 4.6-.2 6.9-.1c2.3 .1 5.8 .6 6.9 .7"/><path class="GO w15 d" d="M336.4 94.3c1.2 0 5 .3 7.4 .2c2.4-.1 4.9-.8 7.3-1c2.4-.2 4.8-.1 7.3-.2c2.4-.1 5 .1 7.4-.2c2.4-.3 6.1-1.2 7.3-1.5"/><path class="G w15 d" d="M318.7 107.3c1.1-.6 4.3-3.1 6.4-3.8c2.1-.7 4.4-.9 6.5-.5c2.1 .4 5.3 2.6 6.4 3.1"/><path class="T w13 d" d="M338.6 94.7c1-.5 4.1-2.4 6.1-2.9c2-.5 4.1-.8 6.1-.3c2.1 .5 5.2 2.9 6.2 3.5"/><path class="PT w13 d" d="M319.7 86c1.3-.5 5.2-2.5 7.8-3.2c2.6-.7 5.2-.8 7.8-1.1c2.6-.3 5.2-1 7.8-1c2.6 0 6.4 .7 7.7 .8"/><path class="PG w14 d" d="M408.4 99.9c1.3 .4 5.2 1.6 7.8 2.2c2.6 .6 5.1 1.1 7.7 1.6c2.6 .5 5.1 1.1 7.7 1.5c2.6 .4 6.5 .9 7.8 1.1"/><path class="S w12 d" d="M349 99.8c1.1-.4 4.4-1.6 6.6-2.2c2.2-.6 4.4-1.2 6.6-1.3c2.2 0 4.4 .5 6.6 1c2.2 .5 5.6 1.7 6.7 2"/><path class="PT w15 d" d="M331.7 95.1c1.2-.3 4.9-1.3 7.4-1.7c2.5-.4 5-.5 7.5-.5c2.5 0 6.2 .6 7.5 .7"/><path class="T w12 d" d="M416.2 113.3c1.1 0 4.5-.2 6.8 0c2.3 .2 4.6 .6 6.8 1.1c2.2 .5 4.4 1.2 6.7 2.2c2.2 1 5.7 3.1 6.8 3.7"/><path class="S w13 d" d="M312.8 88.2c1.3-.4 5.2-1.9 7.8-2.6c2.6-.7 5.2-1.3 7.8-1.6c2.6-.2 5.2 0 7.8 .1c2.6 .1 5.2 .1 7.8 .5c2.6 .4 6.5 1.4 7.8 1.7"/><path class="PG w11" d="M332.3 93.2c1.3-.3 5.1-1.5 7.7-1.9c2.6-.4 5.1-.5 7.6-.6c2.5-.1 5-.1 7.6 0c2.6 .1 6.4 .6 7.7 .7"/><path class="O w12 d" d="M369 117.5c1.1-.4 4.5-1.8 6.8-2.4c2.3-.6 4.5-.9 6.8-1.1c2.3-.2 4.5-.4 6.8-.2c2.3 .2 4.5 .2 6.8 1.1c2.3 .9 5.7 3.4 6.8 4.1"/><path class="G w14 d" d="M279.7 102.2c1.1 0 4.4 .3 6.6 .3c2.2 0 4.5-.1 6.7-.3c2.2-.2 4.4-.6 6.6-.6c2.2 0 5.5 .3 6.6 .4"/><path class="T w12 d" d="M353.6 111.4c1.3 0 5.2 .1 7.9 .1c2.6 0 5.4-.3 8-.3c2.6 0 5.3 .2 7.9 .2c2.6 0 5.2 0 7.9 0c2.7 0 6.7-.2 8-.2"/><path class="PT w12 d" d="M299.9 100.5c1.2-.3 4.9-1.5 7.4-1.9c2.5-.4 4.9-.2 7.4-.3c2.5 0 4.9-.1 7.4 0c2.5 .1 6.2 .4 7.4 .5"/><path class="O w13 d" d="M414.7 115.7c1.2-.2 4.7-.9 7.1-.9c2.4 0 4.8 .3 7.2 1c2.4 .7 4.7 1.6 7.1 3c2.4 1.4 6 4.6 7.2 5.5"/><path class="PT w9 d" d="M278.4 95.8c1.5 .4 5.9 1.5 8.8 2.1c2.9 .7 7.3 1.5 8.8 1.8"/><path class="S w9" d="M268.5 94.7c.7 .5 2.8 2.3 4.4 3.2c1.6 .9 3.5 1.5 5.5 2.2c2 .7 3.7 1.4 6.6 2.2c2.9 .8 9.2 2.2 11 2.7"/><path class="LG w10 d" d="M285 102.3c1.1 .7 4.4 3 6.6 4.4c2.2 1.4 4.4 2.9 6.6 4c2.2 1.1 5.5 2.2 6.6 2.6"/><path class="G w10 d" d="M304.8 104.5c2.2 .4 8.8 1.7 13.2 2.2c4.4 .5 8.8 .8 13.2 1.1c4.4 .3 9 .4 13.1 .7c4.1 .3 9.8 .8 11.7 .9"/><path class="T w10 d" d="M309.2 107.8c2.2 .3 8.8 1.1 13.2 1.6c4.4 .5 8.8 1.2 13.2 1.7c4.4 .5 9.7 1.1 13.1 1.4c3.4 .3 6.1 .3 7.3 .4"/><path class="LG w10 d" d="M296 110c2.2 .2 8.8 .6 13.2 1.1c4.4 .5 8.8 1.3 13.2 1.8c4.4 .5 11 1.2 13.2 1.5"/><path class="GO w11 d" d="M297.1 117.3c2 .2 7.9 .6 12.1 .9c4.2 .3 8.8 .8 13.2 1.1c4.4 .3 11 .5 13.2 .6"/><path class="T w10 d" d="M318 121c1.8 .1 7.4 .4 11 .7c3.6 .3 7.2 .8 10.9 .9c3.6 .1 9.2-.4 11-.5"/><path class="PO w10 d" d="M339.9 102.3c1.5 .2 6.1 .7 8.8 1.1c2.7 .4 6.1 .9 7.3 1.1"/><path class="R w10 d" d="M335.6 106.7c1.8 .5 7.5 2 10.9 2.7c3.4 .7 7.9 1.1 9.5 1.3"/><path class="O w10 d" d="M342.1 124.3c1.1 .2 4.3 .7 6.6 1.1c2.3 .4 6.1 .9 7.3 1.1"/><path class="G w10 d" d="M330.1 72.7c1.6-.3 6.7-1.2 9.8-1.6c3.1-.4 6.1-.6 8.8-.6c2.7 0 6.1 .5 7.3 .6"/><path class="S w10 d" d="M307 79.3c1.8 .2 7.3 1.4 11 1.5c3.7 .1 7.4-.5 11-.9c3.6-.4 6.4-1 10.9-1.3c4.5-.3 13.4-.3 16.1-.4"/><path class="T w10 d" d="M322.4 82.1c2.2 .1 8.8 .6 13.2 .5c4.4-.1 9.7-.8 13.1-1.1c3.4-.3 6.1-.6 7.3-.7"/><path class="LG w10 d" d="M324.6 85.9c1.8 .2 7.4 1.1 11 1.5c3.6 .4 7.5 .5 10.9 .7c3.4 .2 7.9 .5 9.5 .6"/><path class="S w10 d" d="M322.4 87c1.5 .2 5.9 1 8.8 1.1c2.9 .1 7.2-.6 8.7-.7"/><path class="R w11 d" d="M288.3 75.5c.2 .8 1 3.4 1.1 4.9c.1 1.5-1.6 3.1-.5 4.4c1.1 1.3 4.5 2.3 7.1 3.3c2.6 1 5.9 1.9 8.8 2.8c2.9 .9 5.9 2 8.8 2.7c2.9 .7 7.3 1.4 8.8 1.7"/><path class="G w10" d="M294.9 84.3c1.3 .3 5.1 .8 7.7 1.6c2.6 .8 5.1 2.2 7.7 3.3c2.6 1.1 5.3 2.4 7.7 3.3c2.4 .9 5.5 1.8 6.6 2.2"/><path class="T w9" d="M310.3 88.1c.9 .5 3.5 1.9 5.5 2.8c2 .9 4.4 2 6.6 2.7c2.2 .7 5.5 1.4 6.6 1.7"/><path class="G w10" d="M289.4 92.5c1.1 .4 4.4 1.6 6.6 2.2c2.2 .6 4.4 1 6.6 1.5c2.2 .5 5.5 1.4 6.6 1.7"/><path class="O w16" d="M297.1 99c1.3 .2 4.9 .6 7.7 1.1c2.8 .5 5.9 1.3 8.8 1.8c2.9 .5 5.9 .9 8.8 1.1c2.9 .2 7.3 .2 8.8 .2"/><path class="O w14" d="M299.3 113.8c1.3 .2 4.6 .9 7.7 1.3c3.1 .4 7.3 .8 11 .9c3.7 .1 7.4-.3 11-.5c3.6-.2 7.6-.4 10.9-.8c3.3-.4 6.1-1 8.8-1.4c2.7-.4 6.1-.9 7.3-1.1"/><path class="G w10" d="M329 118.8c1.8-.2 7.2-.7 10.9-1.1c3.6-.4 8.3-.8 11-1.1c2.7-.3 4.2-.5 5.1-.6"/><path class="T w9" d="M348.3 47.8l7.7-1.5"/><path class="G w9" d="M348.7 50.7l7.3-1.6"/><path class="S w9" d="M343.2 57.9c.9-.6 3.4-2.9 5.5-3.9c2.1-1 6.1-1.8 7.3-2.2"/><path class="G w10" d="M356 44.1c1.5-.4 5.9-1.6 8.8-2.2c2.9-.6 5.9-1.3 8.8-1.1c2.9 .2 5.9 .9 8.8 2.2c2.9 1.3 6.2 3.9 8.8 5.5c2.6 1.6 4 3 6.6 4.4c2.6 1.4 7.3 3.1 8.8 3.7"/><path class="T w9" d="M356 47.4c1.5-.4 5.9-2.4 8.8-2.2c2.9 .2 5.9 2 8.8 3.3c2.9 1.3 5.9 3.1 8.8 4.4c2.9 1.3 7.3 2.8 8.8 3.3"/><path class="S w9" d="M384.6 39.7c.7-.2 2.9-1.6 4.4-1.1c1.5 .5 2.9 2.8 4.4 4.4c1.5 1.6 2.9 3.5 4.4 5.5c1.5 2 2.9 5.1 4.4 6.6c1.5 1.5 3.7 1.8 4.4 2.2"/><path class="G w10" d="M409.9 45.2c.7-.5 2.9-3.7 4.4-3.3c1.5 .4 2.8 3.7 4.4 5.5c1.6 1.8 3.3 3.9 5.5 5.5c2.2 1.6 6.4 3.7 7.7 4.4"/><path class="G w9" d="M400 56.2c1.5-.2 5.9-.7 8.8-1.1c2.9-.4 6.6-.7 8.8-1.1c2.2-.4 3.7-.9 4.4-1.1"/><path class="S w9" d="M357.1 62.8c.6-.5 1.6-2.8 3.3-3.3c1.6-.5 4.6-.5 6.6 0c2 .5 4.6 2.8 5.5 3.3"/><path class="T w10 d" d="M364.8 65c1.5 .2 5.9 1.1 8.8 1.1c2.9 0 7.3-.9 8.8-1.1"/><path class="R w12" d="M382.4 67.6c1.1-.6 4-2.9 6.6-3.7c2.6-.8 6.1-1 8.8-1.1c2.8-.1 6.4 .3 7.7 .4"/><path class="GO w12" d="M384.6 68.3c1.5 .2 5.9 1.2 8.8 1.1c2.9-.1 6.6-1.1 8.8-1.8c2.2-.7 3.7-1.8 4.4-2.2"/><path class="GO w11 d" d="M356 74.9c1.1-.4 4.4-1.7 6.6-2.2c2.2-.5 5.5-.9 6.6-1.1"/><path class="O w12" d="M389 77.1c1.8-.2 7.7-.8 11-1.1c3.3-.3 5.7-.3 8.8-.5c3.1-.2 8.2-.5 9.9-.6"/><path class="O w17" d="M368.1 84.8c.6-.7 1.6-3.6 3.3-4.4c1.6-.8 4.4-.5 6.6-.5c2.2 0 4.4 0 6.6 .5c2.2 .5 4.4 1.5 6.6 2.2c2.2 .7 5.1 1.2 6.6 1.7c1.5 .5 1.8 1.3 2.2 1.6"/><path class="O w14" d="M369.2 87c1.5-.4 5.9-2 8.8-2.2c2.9-.2 5.9 .6 8.8 1.1c2.9 .5 7.3 1.8 8.8 2.2"/><path class="O w14" d="M364.8 89.2c1.5 .2 5.9 .4 8.8 1.1c2.9 .7 6.2 1.8 8.8 3.3c2.6 1.5 4.8 3.6 6.6 5.4c1.8 1.8 2.6 4.2 4.4 5.5c1.8 1.3 4.6 1.7 6.6 2.2c2 .5 4.6 .9 5.5 1.1"/><path class="G w10 d" d="M400 80.4c1.5 .4 5.9 1.6 8.8 2.2c2.9 .5 5.9 .7 8.8 1.1c2.9 .4 6.4 .7 8.8 1.1c2.4 .4 4.6 .9 5.5 1.1"/><path class="T w10" d="M406.6 84.8c1.5 .2 5.9 .7 8.8 1.1c2.9 .4 6.1 .8 8.8 1.1c2.8 .2 6.4 .3 7.7 .4"/><path class="S w10 d" d="M411 93.6c1.5 .2 5.9 .7 8.8 1.1c2.9 .4 7.3 .9 8.8 1.1"/><path class="T w11" d="M411 97.9c1.5 .3 5.9 1.4 8.8 1.8c2.9 .4 5.9 .7 8.8 .4c2.9-.3 7.3-1.8 8.8-2.2"/><path class="G w10" d="M384.6 95.8c1.5 .2 5.9 .6 8.8 1c2.9 .4 5.9 .6 8.8 1.1c2.9 .5 5.9 1.5 8.8 2.2c2.9 .7 7.3 1.8 8.8 2.2"/><path class="O w11 d" d="M395.6 95.8c1.5 .2 5.9 .5 8.8 1c2.9 .5 7.3 1.8 8.8 2.2"/><path class="GO w11" d="M356 101.2c1.8 .2 7.3 .9 11 1.1c3.7 .2 9.2 0 11 0"/><path class="GO w11" d="M356 106.7c1.5 .2 5.9 1.1 8.8 1.1c2.9 0 5.5-.7 8.8-1.1c3.3-.4 9.2-.9 11-1.1"/><path class="G w10" d="M356 111.1c2.2 .2 8.8 .8 13.2 1.1c4.4 .3 8.8 .7 13.2 .7c4.4 0 8.8-.4 13.2-.7c4.4-.3 9.5-.9 13.2-1.1c3.7-.2 7.3-.3 8.8-.4"/><path class="O w17" d="M389 117.7c1.8-.2 7.3-.6 11-1.1c3.7-.5 7.3-1.5 11-2.2c3.7-.7 7.7-1.7 11-2.2c3.3-.5 6.6-.8 8.8-.6c2.2 .2 3.7 1.4 4.4 1.7"/><path class="O w14" d="M400 118.8c1.8 .1 7.3 .3 11 .7c3.7 .4 7.7 1.4 11 1.5c3.3 .1 6.6-.7 8.8-1.1c2.2-.4 3.7-.9 4.4-1.1"/><path class="T w12" d="M400 122.1c1.8 .2 7.3 .7 11 1.1c3.7 .4 7.3 1 11 1.1c3.7 .1 8.1-.1 11-.4c2.9-.3 5.5-1.1 6.6-1.3"/><path class="G w12" d="M406.6 113.3c1.5 .4 5.9 1.5 8.8 2.2c2.9 .7 5.9 1.7 8.8 2.2c2.9 .5 7.3 .9 8.8 1.1"/><path class="GO w14" d="M356 118.8c1.5 .4 5.9 1.5 8.8 2.2c2.9 .7 5.9 1.5 8.8 2.2c2.9 .7 5.9 1.7 8.8 2.2c2.9 .5 7.3 .9 8.8 1.1"/><path class="GO w11" d="M356 123.2c1.5 .2 5.9 .7 8.8 1.1c2.9 .4 7.3 .9 8.8 1.1"/><path class="T w10 d" d="M356 116.6c2.2 .2 8.8 .8 13.2 1.1c4.4 .3 8.8 .6 13.2 .5c4.4-.1 11-.8 13.2-.9"/><path class="S w10" d="M422 97.9c1.5 .2 6.2 1.1 8.8 1.1c2.6 0 5.5-.9 6.6-1.1"/><path class="LG w10 d" d="M356 104.5c2.2 .1 8.8 .5 13.2 .5c4.4 0 11-.4 13.2-.5"/><path class="T w11" d="M417.6 115.5c1.5 .3 5.9 1.2 8.8 1.8c2.9 .5 6.6 .9 8.8 1.5c2.2 .6 3.7 1.8 4.4 2.2"/><path class="T w14" d="M338.5 22c.5-.3 2.3-1.1 3.2-1.8c.9-.7 1.6-2 2.3-2.6c.7-.6 1.2-1.2 2-1.2c.8 0 1.9 .6 2.7 1.2c.8 .6 1.5 1.4 2.3 2.3c.8 .9 1.6 1.7 2.4 2.9c.8 1.2 1.5 2.9 2.3 4.1c.8 1.2 1.4 2.4 2.3 3c.9 .6 2 .9 3 .8c1-.1 2.7-.9 3.2-1.1"/></g></g><path d="M262.6 96.3c2.3 .5 9.4 2.1 13.7 2.9c4.3 .8 8 1.5 12.1 1.7c4.1 .2 8.2 .1 12.2-.3c4.1-.4 8-1.2 12.1-2c4.1-.8 8.1-2.1 12.2-3.1c4.1-1 8.1-2 12.1-2.7c4.1-.8 8.1-1.3 12.2-1.8c4.1-.5 8.1-.7 12.1-.9c4.1-.2 8.1-.3 12.2-.3c4.1 0 8.6 .3 12.1 .3c3.5 0 6.6-.5 9.1-.3c2.5 .2 3.6 .2 6.1 1.2c2.5 1 6.1 2.9 9.1 4.5c3 1.6 6.1 3.2 9.1 5.1c3 1.9 6.1 4.1 9.1 6.1c3 2 6.1 4.1 9.1 6.2c3 2.1 7 5.1 9.1 6.4c2.1 1.3 3.1 1.1 3.7 1.3L450 130.2c-.6-.6-1.6-1.6-3.7-3.6c-2.1-2-6.1-5.5-9.1-8.2c-3-2.7-6.1-5.3-9.1-7.8c-3-2.5-6.1-5-9.1-7.2c-3-2.2-6.1-4.1-9.1-5.8c-3-1.7-6.6-3.6-9.1-4.6c-2.5-1-3.6-1-6.1-1.2c-2.5-.2-5.6 .3-9.1 .3c-3.5 0-8.1-.3-12.1-.3c-4.1 0-8.1 .1-12.2 .3c-4.1 .2-8.1 .5-12.1 .9c-4.1 .5-8.1 1-12.2 1.8c-4.1 .8-8.1 1.7-12.1 2.7c-4.1 1-8.1 2.2-12.2 3.1c-4.1 .9-8 1.6-12.1 2.2c-4.1 .6-8.2 1.3-12.2 1.6c-4.1 .3-7.8 .3-12.1 .4c-4.3 0-11.4-.1-13.7-.1Z" fill="#9a9a9a" fill-opacity="0.45"/><path d="M262.6 100.5c2.3 .2 9.4 1.2 13.7 1.5c4.3 .3 8 .6 12.1 .6c4.1 0 8.2-.4 12.2-.9c4.1-.5 8-1.2 12.1-2.1c4.1-.9 8.1-2.1 12.2-3.1c4.1-1 8.1-2 12.1-2.7c4.1-.8 8.1-1.3 12.2-1.8c4.1-.5 8.1-.7 12.1-.9c4.1-.2 8.1-.3 12.2-.3c4.1 0 8.6 .3 12.1 .3c3.5 0 6.6-.5 9.1-.3c2.5 .2 3.6 .2 6.1 1.2c2.5 1 6.1 2.8 9.1 4.5c3 1.7 6.1 3.5 9.1 5.5c3 2 6.1 4.4 9.1 6.7c3 2.3 6.1 4.6 9.1 7c3 2.4 7 5.7 9.1 7.3c2.1 1.6 3.1 2 3.7 2.4" fill="none" stroke="#111" stroke-width="1.35"/></g>
<clipPath id="cA2"><rect x="252.5" y="11.2" width="207" height="125"/></clipPath>
<rect x="252.5" y="11.2" width="207" height="125" fill="none" stroke="#bfbfbf" stroke-width="1"/>
<g font-family="Liberation Sans, sans-serif" font-size="3.6" fill="#3a3a3a"><line x1="251.3" y1="28.2" x2="252.5" y2="28.2" stroke="#444" stroke-width="0.7"/><text x="250.9" y="29.4" text-anchor="end">200</text><line x1="251.3" y1="58.6" x2="252.5" y2="58.6" stroke="#444" stroke-width="0.7"/><text x="250.9" y="59.8" text-anchor="end">150</text><line x1="251.3" y1="89.3" x2="252.5" y2="89.3" stroke="#444" stroke-width="0.7"/><text x="250.9" y="90.5" text-anchor="end">100</text><line x1="251.3" y1="119.8" x2="252.5" y2="119.8" stroke="#444" stroke-width="0.7"/><text x="250.9" y="121" text-anchor="end">50</text><line x1="305.1" y1="136.2" x2="305.1" y2="137.4" stroke="#444" stroke-width="0.7"/><text x="305.1" y="140.8" text-anchor="middle">0.25</text><line x1="358.1" y1="136.2" x2="358.1" y2="137.4" stroke="#444" stroke-width="0.7"/><text x="358.1" y="140.8" text-anchor="middle">0.50</text><line x1="411.1" y1="136.2" x2="411.1" y2="137.4" stroke="#444" stroke-width="0.7"/><text x="411.1" y="140.8" text-anchor="middle">0.75</text></g>
<g><line x1="478.6" y1="15.6" x2="684.5" y2="15.6" stroke="#f3f3f3" stroke-width="0.6"/><line x1="478.6" y1="40.8" x2="684.5" y2="40.8" stroke="#f3f3f3" stroke-width="0.6"/><line x1="478.6" y1="66.1" x2="684.5" y2="66.1" stroke="#f3f3f3" stroke-width="0.6"/><line x1="478.6" y1="91.4" x2="684.5" y2="91.4" stroke="#f3f3f3" stroke-width="0.6"/><line x1="478.6" y1="116.7" x2="684.5" y2="116.7" stroke="#f3f3f3" stroke-width="0.6"/><line x1="504.5" y1="11.2" x2="504.5" y2="136.2" stroke="#f3f3f3" stroke-width="0.6"/><line x1="557.3" y1="11.2" x2="557.3" y2="136.2" stroke="#f3f3f3" stroke-width="0.6"/><line x1="610" y1="11.2" x2="610" y2="136.2" stroke="#f3f3f3" stroke-width="0.6"/><line x1="662.8" y1="11.2" x2="662.8" y2="136.2" stroke="#f3f3f3" stroke-width="0.6"/><line x1="478.6" y1="28.2" x2="684.5" y2="28.2" stroke="#ebebeb" stroke-width="0.8"/><line x1="478.6" y1="53.2" x2="684.5" y2="53.2" stroke="#ebebeb" stroke-width="0.8"/><line x1="478.6" y1="78.6" x2="684.5" y2="78.6" stroke="#ebebeb" stroke-width="0.8"/><line x1="478.6" y1="104.1" x2="684.5" y2="104.1" stroke="#ebebeb" stroke-width="0.8"/><line x1="478.6" y1="129.3" x2="684.5" y2="129.3" stroke="#ebebeb" stroke-width="0.8"/><line x1="530.9" y1="11.2" x2="530.9" y2="136.2" stroke="#ebebeb" stroke-width="0.8"/><line x1="583.7" y1="11.2" x2="583.7" y2="136.2" stroke="#ebebeb" stroke-width="0.8"/><line x1="636.4" y1="11.2" x2="636.4" y2="136.2" stroke="#ebebeb" stroke-width="0.8"/></g>
<g clip-path="url(#cA3)"><g filter="url(#bl)"><g fill="none" stroke-linecap="round" stroke-linejoin="round"><path class="PT w11 d" d="M582.6 70.8c1.3 .1 5.1 .4 7.7 .8c2.6 .4 5.1 1 7.7 1.5c2.6 .5 5.1 .8 7.7 1.5c2.6 .8 5.1 2.1 7.7 3c2.5 .9 5.1 1.3 7.6 2.4c2.5 1.1 5.1 2.9 7.7 4.2c2.6 1.3 6.4 3.2 7.7 3.8"/><path class="LG w10 d" d="M634 82.7c1.1 .9 4.3 4 6.4 5.5c2.1 1.5 4.3 2.8 6.4 3.3c2.1 .5 5.2 0 6.3 0"/><path class="PG w10 d" d="M550.9 54c1.3 .8 5.2 3.6 7.8 5c2.6 1.4 5.1 2.3 7.7 3.4c2.6 1.1 5.2 2.2 7.8 3.1c2.6 .9 5.2 1.5 7.8 2.2c2.6 .7 5.2 1.4 7.8 1.9c2.6 .5 6.4 .9 7.7 1.1"/><path class="S w12 d" d="M634.1 98c1.1 .3 4.3 .9 6.4 1.6c2.1 .7 4.2 1.2 6.3 2.5c2.1 1.2 5.2 4.2 6.3 5"/><path class="S w11 d" d="M633.7 90.1c1.1 0 4.3-.4 6.5 0c2.2 .4 4.4 1 6.5 2.2c2.1 1.2 5.3 4.2 6.4 5"/><path class="PT w11 d" d="M576.9 74.4c1.2 .6 4.9 2.5 7.4 3.7c2.5 1.2 4.9 2.4 7.4 3.6c2.5 1.2 4.9 2.2 7.4 3.4c2.5 1.2 4.9 2.4 7.4 3.5c2.5 1.1 4.9 2.1 7.4 3.2c2.5 1.1 6.2 2.7 7.4 3.2"/><path class="T w12 d" d="M623.6 86c1.2 .5 4.9 2 7.3 3c2.4 1 4.9 1.9 7.4 2.7c2.5 .8 4.9 1.4 7.4 2.4c2.5 1 6.2 2.8 7.4 3.4"/><path class="PG w11 d" d="M608.1 87.2c1.2 .7 5 2.8 7.5 4c2.5 1.2 5 2.4 7.5 3.4c2.5 1 5 1.7 7.5 2.4c2.5 .7 5 1.3 7.5 1.8c2.5 .5 5 1.1 7.5 1.3c2.5 .2 6.2 0 7.5 0"/><path class="LG w12 d" d="M561.1 61.5c1.3 .2 5.3 .4 8 1c2.7 .6 5.3 1.6 8 2.7c2.7 1.1 5.3 2.2 8 3.7c2.7 1.5 5.3 3.3 8 5c2.7 1.7 6.7 4.3 8 5.2"/><path class="T w11 d" d="M601.5 82.9c1.2 .5 4.8 2 7.2 3.1c2.4 1.1 4.8 2.3 7.2 3.4c2.4 1.1 4.9 2.2 7.3 3.4c2.4 1.2 4.8 2.5 7.2 3.6c2.4 1.1 4.8 1.7 7.2 2.8c2.4 1.1 4.9 2.6 7.3 3.8c2.4 1.2 6 2.8 7.2 3.3"/><path class="PT w11 d" d="M620.6 85.2c1.1 .6 4.3 2.4 6.4 3.8c2.1 1.4 4.2 3.1 6.4 4.4c2.1 1.3 4.4 2.5 6.5 3.4c2.1 .9 4.3 1.5 6.4 2.2c2.1 .8 5.3 1.9 6.4 2.3"/><path class="T w10 d" d="M540.2 70.5c1.2 .8 4.8 3.6 7.2 5.1c2.4 1.5 4.9 2.8 7.3 3.7c2.4 .9 4.8 1.5 7.2 1.8c2.4 .3 6.1-.2 7.3-.2"/><path class="S w12 d" d="M579.4 86.3c1.3 .6 5.1 2.6 7.7 3.8c2.6 1.2 5.1 2.2 7.6 3.3c2.5 1.1 5.1 2.3 7.7 3.4c2.5 1 5.1 1.9 7.6 2.9c2.5 1 5.1 2.3 7.7 3.3c2.6 1 5.1 1.9 7.7 2.8c2.5 .9 6.3 2.1 7.6 2.5"/><path class="LG w12 d" d="M539.2 66.2c1.3 .3 5.2 .9 7.8 1.6c2.6 .7 5.1 1.6 7.7 2.5c2.6 .9 5.1 1.9 7.7 3c2.6 1.1 6.5 2.8 7.8 3.4"/><path class="PG w10 d" d="M599 86.5c1.1 .8 4.6 3.2 6.9 4.7c2.3 1.5 4.6 3 6.9 4.2c2.3 1.2 4.6 1.9 6.9 3c2.3 1.1 4.6 2.5 6.9 3.4c2.3 .9 4.6 1.4 6.9 2.1c2.3 .7 4.7 1.4 7 2c2.3 .6 5.8 1.5 6.9 1.8"/><path class="S w10 d" d="M605.6 79.3c1.3 .2 5.3 .8 7.9 1.4c2.6 .6 5.2 1.3 7.9 2c2.6 .7 5.4 1.5 8 2.3c2.6 .8 5.3 1.6 7.9 2.4c2.6 .8 5.3 1.7 7.9 2.7c2.6 1 6.6 2.8 7.9 3.3"/><path class="PT w12 d" d="M600.5 77.4c1.1 .7 4.3 2.8 6.5 4c2.2 1.2 4.4 2.2 6.6 3.1c2.2 .9 4.4 1.8 6.6 2.3c2.2 .5 4.4 .5 6.6 .7c2.2 .2 5.5 .2 6.6 .3"/><path class="G w10 d" d="M618.4 82.6c1.2 .6 4.7 2.4 7 3.6c2.3 1.2 4.6 2.5 6.9 3.6c2.3 1.1 4.6 2.2 6.9 3c2.3 .8 4.7 1.2 7 1.8c2.3 .6 5.8 1.4 6.9 1.7"/><path class="LG w11 d" d="M552.8 76.8c1.1 .5 4.5 1.8 6.8 2.8c2.3 1 4.5 2.2 6.8 3.2c2.3 1 4.6 1.5 6.9 2.5c2.3 1 4.5 2.3 6.8 3.3c2.3 1 5.7 2.3 6.8 2.8"/><path class="PG w12 d" d="M605.8 74.9c1.3 .6 5.1 2.2 7.7 3.4c2.6 1.1 5.1 2.5 7.7 3.5c2.6 1 5.1 2 7.7 2.8c2.5 .8 5.1 1.2 7.6 2c2.5 .8 5.1 1.8 7.7 2.6c2.6 .8 6.4 1.9 7.7 2.3"/><path class="LG w10 d" d="M599.4 83.3c1.3 .5 5.1 1.7 7.7 2.8c2.6 1.1 5.1 2.6 7.6 3.9c2.5 1.3 5.1 2.5 7.7 3.8c2.6 1.3 5.1 2.6 7.7 3.9c2.6 1.3 5.1 2.4 7.7 3.7c2.5 1.3 5 2.9 7.6 4.4c2.6 1.5 6.4 3.9 7.7 4.7"/><path class="T w11 d" d="M581.2 76.1c1.3 .2 5.1 .7 7.6 1.4c2.5 .7 5 1.8 7.5 2.8c2.5 1 5.1 1.9 7.6 3.2c2.5 1.3 5 2.9 7.5 4.7c2.5 1.8 6.3 5 7.6 6"/><path class="LG w11 d" d="M625.8 82.4c1.1 .3 4.5 1.2 6.8 1.8c2.3 .6 4.6 1 6.9 1.6c2.3 .6 4.5 1.6 6.8 2.3c2.3 .7 5.7 1.5 6.8 1.8"/><path class="G w12 d" d="M561.6 77.5c1.2 .3 4.7 1 7.1 1.6c2.4 .5 4.7 1 7.1 1.7c2.4 .7 4.8 1.4 7.2 2.2c2.4 .8 4.7 1.5 7.1 2.6c2.4 1 4.8 2.4 7.2 3.7c2.4 1.3 4.7 2.5 7.1 3.9c2.4 1.5 6 4 7.2 4.8"/><path class="G w11 d" d="M638 89.2c1.3 .5 5.1 2 7.6 3.3c2.5 1.2 6.2 3.5 7.5 4.2"/><path class="T w12 d" d="M593 89.4c1.3 1 5.2 4.6 7.8 6.1c2.6 1.5 5.2 2.5 7.8 3.1c2.6 .5 6.5 .2 7.8 .2"/><path class="S w12 d" d="M606.6 65.4c1.2 .2 4.7 .6 7 1.2c2.3 .6 4.7 1.4 7 2.4c2.3 1 4.7 2.4 7 3.6c2.3 1.2 4.7 2.1 7 3.4c2.3 1.3 4.7 2.7 7 4.3c2.3 1.6 5.8 4.3 7 5.2"/><path class="G w10 d" d="M563.6 81.4c1.1 1.1 4.6 5 6.9 6.6c2.3 1.6 4.6 2.8 6.9 3.2c2.3 .4 5.8-.5 6.9-.6"/><path class="GO w15 d" d="M598.8 105.2c1.1 .1 4.3 .4 6.4 .5c2.1 .1 4.3 0 6.5 .4c2.2 .4 5.4 1.8 6.5 2.1"/><path class="PT w12 d" d="M625.6 111.5c1.1-.4 4.5-2.1 6.8-2.4c2.3-.3 4.6 0 6.9 .7c2.3 .7 5.7 3.1 6.8 3.7"/><path class="G w12 d" d="M596.5 105.5c1.1-.1 4.5-.4 6.7-.5c2.2-.1 4.5 .1 6.8 .1c2.2 0 4.5-.1 6.7 0c2.2 .1 4.5 .3 6.7 .7c2.2 .4 5.6 1.4 6.7 1.7"/><path class="GO w14 d" d="M548.3 98.4c1.2 .3 4.9 1.5 7.4 1.9c2.5 .4 4.9 .6 7.4 .3c2.5-.3 6.2-1.7 7.4-2"/><path class="G w14 d" d="M601.9 109.5c1.1 .5 4.5 2 6.8 2.8c2.3 .8 4.6 1.8 6.9 2.3c2.3 .5 4.5 .7 6.8 1c2.3 .3 4.5 .7 6.8 1c2.3 .3 4.6 .9 6.9 1c2.3 .1 5.7-.2 6.8-.2"/><path class="GO w12 d" d="M639.8 116.6c1.2 .1 4.7 .2 7.1 .6c2.4 .4 4.7 1 7.1 1.8c2.4 .8 4.8 2 7.2 3.2c2.4 1.2 5.9 3.3 7.1 4"/><path class="G w14 d" d="M563.8 91.2c1 0 3.9-.1 5.8-.2c1.9-.1 3.9-.3 5.8-.3c1.9 0 4.8 .4 5.8 .5"/><path class="R w15 d" d="M506.1 98.5c1.2 0 4.7 .3 7.1 .2c2.4-.1 4.7-.6 7.1-.7c2.4-.1 4.8 .2 7.1 .1c2.4-.1 4.6-.3 7-.5c2.4-.2 5.9-.6 7.1-.7"/><path class="S w12 d" d="M570.5 92.5c1.2 .2 4.7 .7 7.1 .9c2.4 .2 4.7 .1 7.1 .3c2.4 .2 4.7 .8 7.1 1.1c2.4 .3 4.7 .4 7.1 .5c2.4 .1 4.8 .2 7.1 .2c2.4 0 5.8 0 7 0"/><path class="PG w12 d" d="M625.1 116.4c1.1-.1 4.6-.9 6.9-.6c2.3 .3 4.6 1.4 6.9 2.6c2.3 1.2 5.7 3.8 6.8 4.6"/><path class="PG w13 d" d="M568.3 94c1.2 .1 4.6 .4 7 .6c2.4 .2 4.7 .4 7.1 .5c2.4 .1 4.8-.2 7.1-.1c2.4 .1 4.6 .7 7 .7c2.4 0 4.7-.6 7.1-.6c2.4 0 5.9 .3 7.1 .4"/><path class="T w13" d="M576.9 101.1c1.3-.4 5.1-2.2 7.6-2.6c2.5-.4 5.1-.3 7.6 .4c2.5 .7 6.2 3.3 7.5 4"/><path class="G w14 d" d="M620.3 109.4c1-.3 4-1.7 6-2c2-.3 4.1-.8 6.1-.1c2 .7 5 3.5 6 4.2"/><path class="PT w11" d="M542.9 96.5c1.3 0 5.2-.2 7.8-.3c2.6-.1 5.1-.4 7.7-.3c2.6 .1 6.5 .8 7.8 .9"/><path class="O w14 d" d="M649.6 113.3c1 .7 4.1 3.1 6.2 4.2c2.1 1.1 4.2 2.2 6.3 2.5c2.1 .3 5.2-.7 6.2-.8"/><path class="PT w15 d" d="M533.8 110.4c.9 .1 3.7 .6 5.6 .7c1.9 .1 3.7 0 5.6-.1c1.9-.1 4.7-.4 5.6-.5"/><path class="G w14 d" d="M594.9 96.5c1.1 .6 4.5 2.5 6.7 3.6c2.2 1.1 4.4 2.1 6.7 2.8c2.2 .7 4.6 1.3 6.8 1.6c2.2 .3 4.5 .2 6.7 .4c2.2 .2 4.5 .6 6.7 .8c2.2 .2 5.6 .5 6.7 .6"/><path class="PT w14 d" d="M642.1 107.2c1.3 .6 5.1 2.6 7.7 3.6c2.6 1 5.1 1.5 7.7 2.2c2.6 .7 6.4 1.5 7.7 1.8"/><path class="R w13 d" d="M587.5 101.4c1.3 .1 5.1 .3 7.6 .5c2.5 .2 6.4 .5 7.7 .6"/><path class="G w12" d="M576.2 107.3c1.2 .2 5 .5 7.5 .9c2.5 .4 4.9 1.2 7.4 1.5c2.5 .3 5 .1 7.5 .1c2.5 0 4.9 .1 7.4-.1c2.5-.2 6.2-1 7.5-1.2"/><path class="G w12 d" d="M550.5 102.5c1.2 0 4.9 .1 7.3 .2c2.4 .1 4.9 .3 7.3 .2c2.4-.1 4.8-.6 7.2-.6c2.4 0 4.9 .3 7.3 .4c2.4 .1 4.9-.1 7.3 0c2.4 .1 6.1 .7 7.3 .8"/><path class="G w12 d" d="M617.9 120.8c1.2 .4 4.9 1.9 7.4 2.4c2.5 .5 4.9 .5 7.3 .7c2.4 .2 4.9 .3 7.3 .5c2.4 .2 6.1 .5 7.3 .6"/><path class="G w13" d="M553.8 103.3c1.1 .4 4.6 1.9 6.9 2.6c2.3 .7 4.5 1.5 6.8 1.7c2.3 .2 4.6-.1 6.9-.4c2.3-.3 4.6-.7 6.9-1.2c2.3-.5 5.8-1.3 6.9-1.6"/><path class="O w13 d" d="M556.6 88.5c1.2 .3 4.7 1.5 7.1 2.1c2.4 .6 4.7 1.1 7.1 1.4c2.4 .3 4.7 .3 7.1 .4c2.4 .1 4.7 .1 7.1 .2c2.4 0 4.7-.1 7.1 .1c2.4 .2 5.9 1.1 7.1 1.3"/><path class="G w13 d" d="M598 109.6c1.1 .2 4.4 1 6.6 1.4c2.2 .4 4.4 .4 6.6 .8c2.2 .4 5.5 1.5 6.6 1.8"/><path class="T w13 d" d="M609.5 107.7c1.2-.2 4.7-1.1 7.1-1.5c2.4-.4 4.7-.7 7.1-.6c2.4 0 4.8 .3 7.2 .9c2.4 .6 4.7 1.7 7.1 2.7c2.4 1 5.9 2.7 7.1 3.2"/><path class="S w12 d" d="M558.8 94.3c1.2-.3 4.9-1.4 7.3-1.8c2.5-.4 4.9-.3 7.4-.5c2.5-.2 4.8-.7 7.3-.6c2.5 .1 5 .5 7.4 1.2c2.5 .7 4.8 1.8 7.3 2.7c2.5 .9 6.2 2.2 7.4 2.7"/><path class="T w12 d" d="M554.8 102.1c1.1-.2 4.6-1.2 6.8-1.5c2.2-.3 4.4-.6 6.7-.6c2.2 0 4.6 .3 6.8 .6c2.2 .3 5.6 1.2 6.7 1.4"/><path class="GO w14 d" d="M562.5 101.7c1.2 .3 4.7 1.5 7.1 2c2.4 .5 4.8 .7 7.2 1c2.4 .3 4.7 .3 7.1 .6c2.4 .3 4.7 1 7.1 1.4c2.4 .4 4.7 .8 7.1 1.1c2.4 .3 5.9 .6 7.1 .7"/><path class="O w11" d="M622.1 114.1c1.1 .7 4.4 3.4 6.6 4.3c2.2 .9 4.4 .9 6.6 .9c2.2 0 5.5-.6 6.6-.7"/><path class="T w15 d" d="M562.7 101.9c1.2 .1 4.7 .3 7.1 .6c2.4 .2 4.8 .6 7.2 .9c2.4 .3 4.7 .4 7.1 .7c2.4 .3 4.8 .8 7.2 1c2.4 .2 4.8 .2 7.2 .4c2.4 .2 5.9 .5 7.1 .6"/><path class="O w12" d="M590.7 110.2c1.2 .2 5 .6 7.5 1c2.5 .4 4.9 1 7.4 1.5c2.5 .5 6.2 1.5 7.5 1.8"/><path class="G w15 d" d="M506.3 102c1.1 .1 4.3 .5 6.4 .6c2.1 .1 4.3 .1 6.4-.2c2.1-.3 5.2-1.4 6.3-1.7"/><path class="O w12" d="M544.3 99.9c1.2 0 4.9 0 7.3 .1c2.5 .1 4.9 .4 7.4 .3c2.5-.1 4.8-.6 7.3-.7c2.5-.1 5 0 7.4 0c2.5 0 6.1 .3 7.3 .3"/><path class="T w12 d" d="M562.2 109.7c1.1 .3 4.5 1.5 6.8 1.9c2.3 .4 4.6 .8 6.9 .4c2.3-.3 5.7-2.1 6.8-2.5"/><path class="O w14 d" d="M527.8 108.8c1.2 .3 4.9 1.2 7.4 1.6c2.5 .4 5 .7 7.5 .7c2.5 0 4.9-.3 7.4-.5c2.5-.2 5-.4 7.5-.8c2.5-.4 6.2-1.3 7.4-1.6"/><path class="GO w15 d" d="M540.4 96.1c1.1-.2 4.5-.8 6.8-1.2c2.3-.4 4.5-1 6.8-1.2c2.3-.2 4.5 0 6.8 0c2.3 0 4.5 .2 6.8 .3c2.3 .1 4.5-.1 6.8 .2c2.3 .3 5.7 1.5 6.8 1.8"/><path class="O w13 d" d="M538.2 106.1c1.3 0 5.2-.1 7.8 0c2.6 .1 5.3 .4 7.9 .5c2.6 .1 5.3 .2 7.9 .1c2.6-.1 5.2-.3 7.8-.5c2.6-.2 6.6-.3 7.9-.4"/><path class="R w12 d" d="M581.4 103.1c1.1 .4 4.3 1.7 6.5 2.5c2.2 .8 4.3 1.7 6.5 2.6c2.2 .9 4.4 2.1 6.6 2.7c2.2 .6 5.4 .7 6.5 .8"/><path class="G w13 d" d="M633.6 113.5c1.2 .2 4.7 .8 7 1.3c2.3 .5 4.6 1.2 6.9 1.8c2.3 .5 4.6 1 6.9 1.5c2.3 .5 4.7 1.2 7 1.5c2.3 .3 5.8 .4 6.9 .5"/><path class="LG w13 d" d="M575.7 92.9c1.1 .4 4.4 1.8 6.6 2.6c2.2 .8 4.4 1.3 6.6 1.9c2.2 .6 4.4 1.4 6.6 1.6c2.2 .2 4.5 0 6.7-.4c2.2-.4 5.5-1.5 6.6-1.8"/><path class="PT w15 d" d="M540.1 113.2c1.1 0 4.6-.3 6.9-.2c2.3 .1 4.6 .6 6.9 .6c2.3 0 4.7-.4 7-.4c2.3 0 4.6 .4 6.9 .4c2.3 0 4.7-.4 7-.4c2.3 0 5.8 .2 6.9 .2"/><path class="T w12 d" d="M566 114.3c1.1 .1 4.5 .4 6.8 .7c2.3 .3 4.5 1 6.8 1.4c2.3 .4 4.6 .6 6.9 .9c2.3 .3 4.5 .7 6.8 1.1c2.3 .4 4.5 1.2 6.8 1.4c2.3 .2 5.7 0 6.8 0"/><path class="GO w14 d" d="M589.7 113.7c1.3 .3 5.2 1.1 7.9 1.7c2.6 .6 5.3 1.3 8 1.9c2.7 .6 5.4 1.2 8 1.9c2.6 .7 6.6 1.9 7.9 2.3"/><path class="T w12" d="M545.1 100.9c1.2-.3 4.7-1.5 7.1-2c2.4-.5 4.7-1.1 7.1-1.1c2.4 0 4.7 .5 7.1 1c2.4 .5 5.9 1.9 7.1 2.3"/><path class="GO w12 d" d="M631.4 113.9c1.2 .6 4.8 2.5 7.2 3.7c2.4 1.2 4.7 2.4 7.1 3.4c2.4 1 4.8 1.7 7.2 2.5c2.4 .8 4.7 1.7 7.1 2.4c2.4 .7 6 1.4 7.2 1.7"/><path class="R w12 d" d="M565.9 112.3c1.2 .4 5 1.9 7.5 2.5c2.5 .6 5.1 .9 7.6 1.3c2.5 .4 5.1 .8 7.6 1.3c2.5 .5 5.1 1.2 7.6 1.5c2.5 .3 6.2 .1 7.5 .1"/><path class="T w13 d" d="M604.4 107.4c1.1 .3 4.6 1.5 6.9 2.1c2.3 .6 4.7 1.4 7 1.4c2.3 0 5.8-1 7-1.2"/><path class="T w14 d" d="M649.2 117.9c1.1-.5 4.3-2.6 6.4-3c2.1-.4 4.2 0 6.3 .8c2.1 .8 5.3 3.1 6.4 3.7"/><path class="T w14 d" d="M549.6 98.3c1 .2 4.1 .8 6.1 1c2 .2 4.1 .2 6.2 .2c2 0 4.1 .3 6.1 0c2-.3 5.2-1.6 6.2-1.9"/><path class="O w11" d="M631.9 115.8c1.2 .7 4.7 3 7 4.2c2.3 1.2 4.7 2.4 7 3.3c2.3 .9 4.7 1.8 7 2.3c2.3 .5 4.6 .7 7 .8c2.4 .1 5.9-.3 7.1-.4"/><path class="O w12" d="M569.5 111c1.3-.4 5.3-1.9 7.9-2.3c2.6-.4 5.2-.6 7.8-.2c2.6 .4 5.3 1.3 7.9 2.8c2.6 1.5 6.6 5.3 7.9 6.4"/><path class="T w14 d" d="M520 103.5c.9 .3 3.7 1.5 5.6 1.8c1.9 .3 3.8 .7 5.7 .3c1.9-.4 4.7-2.4 5.6-2.9"/><path class="PG w14 d" d="M637.9 113.4c1.1 .5 4.2 2.1 6.3 2.9c2.1 .8 4.2 1.5 6.3 1.9c2.1 .4 4.1 .5 6.2 .7c2.1 .2 5.2 .4 6.3 .5"/><path class="S w13 d" d="M590 102c1 .1 4.1 .1 6.2 .7c2.1 .6 4.2 1.9 6.3 2.7c2.1 .8 5.2 1.8 6.2 2.2"/><path class="O w15 d" d="M606.9 113.6c1.3 .2 5.1 1.1 7.6 1.4c2.5 .3 5.1 .3 7.6 .7c2.5 .4 5.1 .9 7.6 1.5c2.5 .6 5.1 1.3 7.6 1.9c2.5 .6 6.3 1.5 7.6 1.8"/><path class="PT w12 d" d="M590.6 106.3c1.2 .7 4.8 3.1 7.2 4.4c2.4 1.3 4.8 2.7 7.2 3.5c2.4 .8 4.8 1.2 7.2 1.3c2.4 .1 4.8-.5 7.2-.7c2.4-.2 5.9-.6 7.1-.7"/><path class="R w12 d" d="M619.5 112.8c1.3 .1 5.1 .3 7.6 .5c2.5 .2 5.1 .4 7.6 .9c2.5 .5 5.1 1.3 7.7 2.2c2.5 .9 6.3 2.7 7.6 3.2"/><path class="T w14 d" d="M515.8 98.9c1.2-.1 4.7-.6 7.1-.6c2.4 0 4.7 .6 7.1 .6c2.4 0 4.7-.2 7.1-.3c2.4-.1 4.8-.3 7.1-.5c2.4-.2 5.8-.5 7-.6"/><path class="T w12 d" d="M628.9 104.7c1.1-.2 4.5-1.3 6.7-1.3c2.2 0 4.4 .8 6.6 1.6c2.2 .8 5.5 2.8 6.6 3.4"/><path class="LG w14 d" d="M528.3 96.6c1.1-.1 4.3-.2 6.5-.4c2.2-.1 4.3-.3 6.5-.5c2.2-.2 4.3-.6 6.5-.6c2.2 0 4.3 .5 6.5 .7c2.2 .2 5.5 .4 6.6 .5"/><path class="PT w12 d" d="M578.1 92.1c1 .4 3.9 2.1 5.8 2.6c1.9 .5 3.8 .7 5.7 .6c1.9-.1 4.8-1 5.8-1.2"/><path class="G w12 d" d="M618.1 111.8c1.1 0 4.3-.1 6.5 0c2.2 .1 4.4 .1 6.6 .5c2.2 .4 4.3 .9 6.5 1.6c2.2 .8 4.3 1.8 6.5 2.9c2.2 1.1 5.5 3.2 6.6 3.8"/><path class="G w15 d" d="M581.4 116.4c1-.1 4.1-.3 6.1-.4c2-.1 4-.2 6-.1c2 .1 4 .2 6 .6c2 .4 5 1.3 6 1.6"/><path class="S w13 d" d="M516.9 94.3c1.2-.1 4.8-.3 7.1-.6c2.4-.3 4.7-1.2 7-1.4c2.3-.2 4.6 0 7 .1c2.4 .1 4.8 .4 7.1 .7c2.4 .3 5.8 .8 7 .9"/><path class="R w15 d" d="M517.3 109.1c1.3-.4 5.3-2 7.9-2.6c2.6-.6 5.3-.7 7.9-.9c2.6-.2 5.2-.5 7.9-.4c2.6 .1 5.4 .3 8 .8c2.6 .5 6.6 1.8 7.9 2.2"/><path class="PG w12 d" d="M583.8 97.1c1.2 .4 4.9 1.6 7.3 2.2c2.4 .6 4.9 .9 7.3 1.3c2.4 .4 4.9 1.1 7.3 1.1c2.4 0 4.9-.6 7.3-.8c2.4-.2 4.9 .2 7.3-.1c2.4-.3 6.1-1.5 7.3-1.8"/><path class="LG w13 d" d="M565.3 111.2c1.2 .3 4.6 1.3 7 1.9c2.4 .6 4.7 1.3 7.1 1.6c2.4 .3 4.7 .3 7.1 .1c2.4-.2 4.8-.6 7.1-1.1c2.4-.5 5.8-1.4 7-1.7"/><path class="PT w12 d" d="M613.3 114.9c1.3 .6 5.2 3.1 7.7 3.8c2.5 .7 6.3 .2 7.6 .2"/><path class="G w12 d" d="M619.1 116.4c1.1 .2 4.5 .6 6.8 1.2c2.3 .6 4.5 1.6 6.8 2.2c2.3 .6 4.5 1.1 6.8 1.5c2.3 .4 4.5 .6 6.8 1c2.3 .4 4.5 1.1 6.8 1.5c2.3 .4 5.7 .6 6.8 .7"/><path class="S w13 d" d="M564.7 95.4c1.1 0 4.6 .3 6.9 .3c2.3 0 4.6-.3 6.9-.3c2.3 0 4.6 0 6.9 .2c2.3 .2 5.8 1 6.9 1.2"/><path class="R w13 d" d="M612.6 116.4c1.2 0 5-.4 7.5-.3c2.5 .1 5.1 .5 7.6 .7c2.5 .2 5.1 0 7.6 .4c2.5 .4 5.1 1.6 7.6 2.2c2.5 .6 6.3 1.2 7.6 1.4"/><path class="T w13 d" d="M639.5 107c1.2 .4 4.8 2 7.2 2.5c2.4 .5 4.8 .5 7.2 .7c2.4 .2 4.8 .5 7.2 .4c2.4-.1 6-1 7.2-1.2"/><path class="O w14 d" d="M570 95.6c1.3 .2 5.2 .8 7.8 1.1c2.6 .3 5.2 .4 7.8 .8c2.6 .4 6.6 1.2 7.9 1.5"/><path class="T w12 d" d="M641.5 113.2c1-.2 4-1 6-1c2 0 4.1 .2 6.1 .9c2 .7 4 1.8 6 3.1c2 1.3 5 3.8 6 4.6"/><path class="O w15 d" d="M532 106.5c1.2 .3 4.7 1.5 7.1 2c2.4 .5 4.7 1.1 7.1 1.3c2.4 .2 4.7 0 7.1-.2c2.4-.2 4.7-.3 7.1-.8c2.4-.5 5.9-1.9 7.1-2.3"/><path class="G w14 d" d="M567.3 115c1.3 .1 5.1 .3 7.7 .4c2.6 .1 5.2 .3 7.8 .3c2.6 0 5.2-.2 7.8-.3c2.6-.1 6.5-.1 7.8-.1"/><path class="G w13 d" d="M565.4 100.3c1.3 .4 5.1 1.7 7.7 2.2c2.6 .5 5.1 .5 7.6 .7c2.5 .2 5.1 .5 7.7 .5c2.5 0 5.1 0 7.6-.2c2.5-.2 6.4-.9 7.7-1.1"/><path class="G w13 d" d="M542.4 93.6c1.1-.2 4.2-1.2 6.3-1.5c2.1-.3 4.2-.5 6.3-.2c2.1 .3 5.2 1.7 6.2 2"/><path class="G w14 d" d="M512.8 99.3c1-.5 3.8-2.8 5.7-3.3c1.9-.5 3.9 0 5.8 .4c1.9 .4 4.8 1.7 5.8 2"/><path class="R w14 d" d="M539.2 99c1.2 .3 4.9 1.2 7.3 1.7c2.4 .5 4.8 .9 7.2 1c2.4 .1 4.9-.1 7.3-.1c2.4 0 4.9 .4 7.3 .2c2.4-.2 4.9-.8 7.3-1.3c2.4-.5 6-1.3 7.2-1.6"/><path class="LG w15 d" d="M617.4 111.7c1.2 .6 4.7 2.7 7 3.5c2.3 .8 4.6 1.4 6.9 1.6c2.3 .2 5.8-.2 6.9-.3"/><path class="S w12" d="M547.6 102.6c1.1 .2 4.5 .9 6.7 1c2.2 .1 4.4-.3 6.6-.4c2.2-.1 4.4 0 6.6 0c2.2 0 5.6-.2 6.7-.3"/><path class="PG w12" d="M637.8 122.5c1.3 .2 5.1 .8 7.6 1.1c2.5 .3 5.1 .6 7.6 .9c2.5 .3 5.2 .4 7.7 .9c2.5 .5 6.3 1.9 7.6 2.3"/><path class="T w14 d" d="M594.6 113.2c1 .5 4.2 2.3 6.3 3c2.1 .7 4.2 1.1 6.3 1.2c2.1 .1 4.2 0 6.3-.4c2.1-.4 5.2-1.7 6.2-2"/><path class="GO w14 d" d="M508.6 104.6c1.3 .1 5.4 .2 8 .4c2.6 .2 5.2 .6 7.9 .5c2.6-.1 5.4-.6 8-.9c2.6-.3 5.2-.5 7.9-.9c2.6-.3 6.7-1 8-1.2"/><path class="O w12 d" d="M518.8 92.7c1.1-.4 4.6-1.8 6.9-2.5c2.3-.7 4.5-1.4 6.8-1.4c2.3 0 4.6 .7 6.9 1.2c2.3 .5 5.7 1.7 6.8 2"/><path class="PT w13 d" d="M643.8 117.6c1 .7 4.1 3.2 6.1 4.2c2 1 4.1 1.3 6.1 1.7c2 .4 4.2 1 6.2 .9c2-.1 5.1-1.2 6.1-1.4"/><path class="G w15 d" d="M630.7 103.9c.9-.3 3.6-1.7 5.4-1.8c1.8-.1 3.6 .5 5.4 1.2c1.8 .7 4.6 2.2 5.5 2.7"/><path class="GO w11" d="M550.1 106.3c1.2-.3 4.8-1.6 7.2-2.1c2.4-.5 4.9-.7 7.3-1c2.4-.3 4.8-.9 7.2-.9c2.4 0 4.8 .5 7.2 .9c2.4 .5 4.9 .7 7.3 1.8c2.4 1.1 6 4.2 7.2 5"/><path class="R w14 d" d="M531.1 92.8c1-.4 3.9-1.9 5.8-2.3c1.9-.4 3.9-.3 5.8-.1c2 .2 4.9 1.2 5.9 1.5"/><path class="T w14 d" d="M581.4 98.9c1-.1 4.1-.8 6.2-.7c2.1 .1 4.1 .5 6.2 1.1c2.1 .6 5.2 2 6.2 2.4"/><path class="GO w13 d" d="M551.1 103.4c1.2 .1 4.9 .5 7.4 .8c2.5 .3 5 .9 7.5 1c2.5 .1 5-.1 7.5-.1c2.5 0 5 .1 7.5 0c2.5-.1 5-.3 7.5-.4c2.5-.1 6.2-.3 7.5-.4"/><path class="PG w13 d" d="M521.8 93.1c1.1 0 4.4-.2 6.6-.3c2.2-.1 4.4-.5 6.6-.5c2.2 0 4.4 .3 6.6 .4c2.2 .1 4.4 .1 6.6 .1c2.2 0 5.6-.1 6.7-.1"/><path class="R w13 d" d="M606.8 118.5c1.3 .4 5.2 1.8 7.8 2.5c2.6 .7 5.3 .9 7.9 1.4c2.6 .5 5.2 1.3 7.8 1.5c2.6 .2 5.3-.4 7.9-.6c2.6-.2 6.5-.4 7.8-.5"/><path class="O w13 d" d="M555.2 100.8c1.2 .3 5 1.6 7.5 1.9c2.5 .3 5 .5 7.5 .1c2.5-.4 6.2-1.8 7.5-2.2"/><path class="LG w15 d" d="M547.9 100.7c1.2 .1 4.9 .4 7.4 .5c2.5 .1 5 .2 7.5 .4c2.5 .2 5 .7 7.5 .6c2.5 0 4.9-.6 7.4-.9c2.5-.3 6.2-.6 7.5-.7"/><path class="T w12 d" d="M506.1 95.1c1.3-.5 5.1-2.1 7.6-2.7c2.5-.6 5-1.2 7.6-.9c2.5 .3 6.4 2.3 7.7 2.8"/><path class="G w11" d="M554.5 102.7c1 .1 3.9 .3 5.8 .4c1.9 0 3.9 0 5.8-.1c1.9-.1 4.8-.4 5.8-.5"/><path class="T w10" d="M529.3 102.6c1.1-.5 4.4-2.4 6.6-3.1c2.2-.7 4.4-1.2 6.6-1.2c2.2 0 4.3 .5 6.5 1.1c2.2 .6 5.5 2 6.6 2.4"/><path class="T w11" d="M520 98.8c1.3-.4 5.3-1.8 7.9-2.2c2.6-.4 5.3-.2 7.9-.1c2.6 .2 6.6 .8 7.9 1"/><path class="O w13 d" d="M632.8 112.7c1.2 .1 4.7 .5 7 .9c2.3 .4 4.6 .8 6.9 1.5c2.3 .7 4.7 1.6 7 2.4c2.3 .8 4.6 1.5 6.9 2.4c2.3 .9 5.8 2.6 7 3.1"/><path class="GO w13 d" d="M569.4 113.3c1.2 .1 5 .6 7.5 .8c2.5 .2 4.9 .1 7.4 .2c2.5 .1 4.9 0 7.4 .4c2.5 .4 5 1.3 7.5 1.7c2.5 .4 4.9 .5 7.4 .6c2.5 .1 6.2 .2 7.4 .2"/><path class="GO w12 d" d="M559.4 111.8c1.3-.3 5.3-1.4 8-1.8c2.7-.4 5.3-.5 8-.5c2.7 0 5.4 .2 8 .5c2.6 .3 5.2 .8 7.9 1.5c2.6 .7 6.7 2 8 2.4"/><path class="GO w14 d" d="M627.3 113.8c1.3 .8 5.3 3.8 7.9 4.9c2.6 1.2 5.3 1.8 8 2c2.7 .2 6.7-.4 8-.5"/><path class="T w13 d" d="M609.6 105c1.3 .4 5.3 2 7.9 2.6c2.6 .6 5.2 .6 7.8 .9c2.6 .3 5.3 .8 7.9 1c2.6 .2 6.5 0 7.8 0"/><path class="G w13 d" d="M531.8 85.2c1.2 .5 4.9 2.5 7.3 3.1c2.4 .6 4.9 .4 7.3 .4c2.4 0 4.9-.1 7.3-.6c2.4-.5 6.1-2.2 7.3-2.6"/><path class="R w12 d" d="M550.6 102.2c1.3 .2 5.2 1.1 7.8 1.4c2.6 .3 5.2 .5 7.8 .6c2.6 .1 5.2 .2 7.8 .1c2.6-.1 5.2-.7 7.8-.8c2.6-.1 6.5 .1 7.8 .1"/><path class="G w15 d" d="M640.9 117c1 .4 3.8 1.9 5.7 2.4c1.9 .5 3.7 .4 5.6 .5c1.9 .1 4.7 .1 5.6 .1"/><path class="G w14 d" d="M595.3 114.4c1.2-.1 4.8-.8 7.2-.5c2.4 .2 4.7 1.1 7.1 2c2.4 .9 5.9 2.8 7.1 3.4"/><path class="G w14 d" d="M644.5 111.7c.9-.2 3.7-1.2 5.6-1.4c1.9-.2 3.8 0 5.7 .5c1.9 .5 4.7 1.9 5.6 2.3"/><path class="G w13 d" d="M621.6 107.8c.9-.2 3.6-1.1 5.4-1.1c1.8 0 3.7 .4 5.5 1c1.8 .6 4.5 2 5.4 2.4"/><path class="O w12" d="M599 102.9c1.1 .1 4.5 .2 6.7 .5c2.2 .2 4.5 .8 6.7 1c2.2 .2 4.5 0 6.7 .2c2.2 .2 4.5 .7 6.7 1.2c2.2 .5 4.4 1.1 6.6 1.6c2.2 .5 5.6 1.2 6.7 1.4"/><path class="T w12 d" d="M505.1 94.9c1.2 0 5 0 7.5 0c2.5 0 4.9 0 7.4 0c2.5 0 5 .1 7.5 0c2.5-.1 5-.7 7.5-.8c2.5-.1 4.9 .4 7.4 .4c2.5 0 6.2-.2 7.5-.2"/><path class="GO w15 d" d="M596.4 108.1c1 .6 4.1 2.7 6.1 3.4c2 .8 4.1 1 6.2 1.1c2.1 .1 5.2-.5 6.2-.6"/><path class="G w14 d" d="M641.4 107.8c1.2 .4 4.8 2 7.2 2.4c2.4 .4 4.7 .4 7.1 .2c2.4-.2 6-1.2 7.2-1.5"/><path class="T w12 d" d="M523.5 99c1.2-.5 4.8-2.2 7.2-2.8c2.4-.5 4.8-.9 7.2-.5c2.4 .4 6 2.4 7.2 2.9"/><path class="LG w15 d" d="M556.2 102.8c1.2-.4 4.7-2 7-2.4c2.3-.4 4.7-.3 7-.2c2.3 .1 4.6 .2 6.9 .7c2.3 .5 5.8 2 7 2.4"/><path class="O w13 d" d="M542 99.4c1.1-.3 4.6-1.5 6.9-2.1c2.3-.6 4.7-1.3 7-1.5c2.3-.2 4.6 .1 6.9 .3c2.3 .2 4.6 .4 6.9 1c2.3 .6 5.8 2.2 7 2.6"/><path class="G w12 d" d="M588.2 105.2c1-.1 4.1-.5 6.1-.5c2 0 4.1 .1 6.1 .4c2 .3 4.1 .9 6.1 1.6c2 .7 5.1 2.1 6.1 2.5"/><path class="R w16 d" d="M514.3 44.1c.1 .7 .4 2.8 .6 4.4c.2 1.6 .4 4.6 .5 5.5"/><path class="R w16 d" d="M516.5 58.8c1.3 .6 5 2.5 7.7 3.5c2.8 1 5.9 1.8 8.8 2.7c2.9 .9 6.2 1.5 8.8 2.6c2.6 1.1 5.5 3.3 6.6 4"/><path class="G w10" d="M522 56.2c1.1 .6 4.4 2.6 6.6 3.9c2.2 1.3 4.8 2.5 6.6 3.8c1.8 1.2 2.6 2.4 4.4 3.7c1.8 1.3 4.4 3 6.6 4c2.2 1 4 1.5 6.6 2.2c2.6 .7 5.9 1.3 8.8 2.2c2.9 .9 5.8 2.6 8.7 3.3c2.9 .7 7.3 .9 8.8 1.1"/><path class="S w10 d" d="M534.1 34.2c.5 .7 2 2.9 3.3 4.4c1.3 1.5 3.1 3.1 4.4 4.4c1.3 1.3 2.8 2.8 3.3 3.3"/><path class="G w10 d" d="M543.3 22.1c.1 .9 .2 4 .7 5.5c.5 1.5 1.1 2.2 2.2 3.3c1.1 1.1 3.7 2.8 4.4 3.3"/><path class="S w10" d="M546.2 37.5c.7 .2 2.6 .4 4.4 1.1c1.8 .7 4.4 2.2 6.6 3.3c2.2 1.1 4.4 2.4 6.6 3.3c2.2 .9 4.3 1.5 6.5 2.2c2.2 .7 5.5 1.8 6.6 2.2"/><path class="T w11" d="M550.6 62.8c1.1 .5 4.1 2.4 6.6 3.3c2.5 .9 5.8 1.5 8.7 2.2c2.9 .7 6.1 1.7 8.8 2.2c2.7 .5 6.1 .5 7.3 .6"/><path class="T w10 d" d="M545.1 48.5c.5 .7 2 2.9 3.3 4.4c1.3 1.5 2.9 2.8 4.4 4.4c1.5 1.6 3.7 4.6 4.4 5.5"/><path class="G w10 d" d="M557.2 43c.7 .9 3 3.7 4.4 5.5c1.4 1.8 2.5 3.9 4.3 5.5c1.8 1.6 4.4 3.1 6.6 4.4c2.2 1.3 5.5 2.8 6.6 3.3"/><path class="T w10 d" d="M561.6 68.3c1.1 .5 4.3 2.4 6.5 3.3c2.2 .9 4.3 1.5 6.6 2.2c2.3 .7 6.1 1.4 7.3 1.7"/><path class="G w12" d="M575.8 41.9c.5-.2 2.3-.8 3.3-1.1c1-.3 2.4-.4 2.9-.5"/><path class="S w10 d" d="M572.5 43c.7-1.1 2.8-4.4 4.4-6.6c1.6-2.2 4.2-5.5 5.1-6.6"/><path class="S w10 d" d="M504.4 73.8c.7 .7 2.9 2.9 4.4 4.4c1.5 1.5 2.9 2.7 4.4 4.4c1.5 1.7 2.9 3.7 4.4 5.5c1.5 1.8 3.7 4.6 4.4 5.5"/><path class="G w9" d="M509.9 88.1c.6 .5 2 2.2 3.3 3.3c1.3 1.1 3.7 2.8 4.4 3.3"/><path class="S w10" d="M494.5 95.8c.7 .7 2.8 3 4.4 4.3c1.6 1.3 3.5 2.4 5.5 3.3c2 .9 5.1 1.7 6.6 2.2c1.5 .5 1.8 .6 2.2 .7"/><path class="PT w9 d" d="M496.7 95.8c1.3 .4 5.3 1.9 7.7 2.1c2.4 .2 5.5-.9 6.6-1.1"/><path class="GO w10 d" d="M534.1 83.7c.9 .2 3.9 .7 5.5 1.1c1.6 .4 2.9 .7 4.4 1.1c1.5 .4 3.7 1.2 4.4 1.5"/><path class="G w10 d" d="M523.1 78.2c.2 .7 .7 2.9 1.1 4.4c.4 1.5 .9 3.7 1.1 4.4"/><path class="O w16" d="M523.1 100.1c1.3 .4 4.9 1.5 7.7 2.2c2.8 .7 5.9 1.7 8.8 2.2c2.9 .5 5.9 .7 8.8 1.1c2.9 .4 5.9 1 8.8 1.1c2.9 .1 5.8-.4 8.7-.4c2.9 0 6.1 .4 8.8 .4c2.7 0 6.1-.3 7.3-.4"/><path class="GO w14" d="M528.6 96.8c1.1 .4 4 1.6 6.6 2.2c2.6 .6 5.9 1 8.8 1.6c2.9 .5 5.9 1.1 8.8 1.7c2.9 .6 5.9 1.3 8.8 1.8c2.9 .5 5.8 .8 8.7 .9c2.9 .1 7.3-.4 8.8-.5"/><path class="R w10 d" d="M535.2 93.6c1.5 .4 5.9 1.5 8.8 2.2c2.9 .7 7.3 1.8 8.8 2.1"/><path class="G w10 d" d="M519.8 89.2c1.1 .5 4 2.4 6.6 3.3c2.6 .9 5.9 1.5 8.8 2.2c2.9 .7 5.9 1.2 8.8 2.1c2.9 .9 5.9 2.4 8.8 3.3c2.9 .9 7.3 1.8 8.8 2.2"/><path class="S w10 d" d="M522 97.9c1.5 .4 5.9 1.5 8.8 2.2c2.9 .7 7.3 1.8 8.8 2.2"/><path class="T w10 d" d="M533 107.8c1.8 .3 7.3 1.1 11 1.6c3.7 .5 7.4 .9 11 1.3c3.6 .4 7.2 .6 10.9 .9c3.6 .2 9.2 .5 11 .6"/><path class="LG w10 d" d="M522 106.7c1.8 .5 7.3 2.4 11 3.3c3.7 .9 7.3 1.7 11 2.2c3.7 .5 9.2 .9 11 1.1"/><path class="GO w10 d" d="M528.6 108.9c1.8 .4 7.3 1.5 11 2.2c3.7 .7 7.3 1.4 11 1.8c3.7 .5 7.4 .6 11 .9c3.6 .2 7.5 .5 10.9 .6c3.4 .2 7.9 .2 9.5 .3"/><path class="S w9" d="M544 106.7c1.8 .2 7.4 .7 11 1.1c3.6 .4 7.2 .7 10.9 1.1c3.6 .4 9.2 .9 11 1.1"/><path class="G w9" d="M555 96.8c1.8 .4 7.2 1.7 10.9 2.2c3.6 .5 8.3 .5 11 .7c2.7 .2 4.2 .3 5.1 .4"/><path class="PT w9 d" d="M561.6 80.4c1.4 .4 5.8 1.5 8.7 2.2c2.9 .7 7.3 1.8 8.8 2.2"/><path class="G w10 d" d="M552.8 82.6c1.5 .4 5.9 1.5 8.8 2.2c2.9 .7 7.2 1.4 8.7 1.7"/><path class="S w10" d="M581 27.6c.7-.4 2.9-2.8 4.4-2.6c1.5 .2 2.9 2.3 4.4 3.7c1.5 1.4 2.8 3.1 4.4 4.4c1.6 1.4 4.6 3.1 5.5 3.7"/><path class="LG w13" d="M581 40.8c1.1 .1 4.4-.1 6.6 .4c2.2 .5 4.8 2 6.6 2.9c1.8 .9 3.1 1.4 4.4 2.2c1.3 .8 2.8 2.3 3.3 2.8"/><path class="T w10" d="M581 55.1c1.1-.4 4.4-1.6 6.6-2.2c2.2-.6 4.4-2 6.6-1.6c2.2 .4 4.4 2.4 6.6 3.8c2.2 1.4 4.8 2.9 6.6 4.4c1.8 1.5 2.9 2.9 4.4 4.4c1.5 1.5 3.7 3.7 4.4 4.4"/><path class="S w10 d" d="M584.3 62.8l3.3-1.1"/><path class="T w10" d="M581 68.3c1.1-.1 4.4-.5 6.6-.7c2.2-.2 4.8-.5 6.6-.4c1.8 .1 3.7 .9 4.4 1.1"/><path class="S w9" d="M581 71.6c1.1-.2 4.4-.6 6.6-1.1c2.2-.5 5.5-1.3 6.6-1.6"/><path class="G w10 d" d="M600.8 73.8c1.5 .3 6.2 1.2 8.8 1.7c2.6 .5 4.4 1.1 6.6 1.6c2.2 .5 5.5 .9 6.6 1.1"/><path class="R w11" d="M601.9 87c.6 .5 2.2 2.2 3.3 3.3c1.1 1.1 2.6 3.5 3.3 3.3c.7-.2 .2-2.8 1.1-4.4c.9-1.6 2.8-4.4 4.4-5.5c1.6-1.1 3.7-.6 5.5-1.1c1.8-.5 3.7-1.9 5.5-2.2c1.8-.3 4.6 .3 5.5 .4"/><path class="S w10 d" d="M625 80.4c.7 .5 2.9 1.8 4.4 3.3c1.5 1.5 3.3 3.7 4.4 5.5c1.1 1.8 1.5 4 2.2 5.5c.7 1.5 1.8 2.7 2.2 3.2"/><path class="G w10 d" d="M632.7 77.1c.9 .5 3.9 1.8 5.5 3.3c1.6 1.5 2.9 3.7 4.4 5.5c1.5 1.8 2.9 3.5 4.4 5.5c1.5 2 2.9 4 4.4 6.5c1.5 2.5 3.3 6.8 4.4 8.8c1.1 2 1.8 2.8 2.2 3.3"/><path class="DG w14" d="M631.6 78.2l2.2-1.1"/><path class="GO w12" d="M603 95.8c1.5 .2 5.9 .5 8.8 1c2.9 .5 5.9 1.3 8.8 2.2c2.9 .9 5.9 2 8.8 3.3c2.9 1.3 6.2 3.5 8.8 4.4c2.6 .9 5.5 .9 6.6 1.1"/><path class="O w13" d="M581 95.8c1.5 .5 5.9 2.1 8.8 3.2c2.9 1.1 5.9 2 8.8 3.3c2.9 1.3 5.9 2.9 8.8 4.4c2.9 1.5 5.9 2.9 8.8 4.4c2.9 1.5 5.9 3.3 8.8 4.4c2.9 1.1 5.9 1.5 8.8 2.2c2.9 .7 5.9 1.7 8.8 2.2c2.9 .5 7.3 .9 8.8 1.1"/><path class="O w13" d="M581 100.1c1.8 .7 7.3 2.9 11 4.4c3.7 1.5 7.3 2.9 11 4.4c3.7 1.5 7.3 2.9 11 4.4c3.7 1.5 7.3 3.3 11 4.4c3.7 1.1 9.2 1.8 11 2.2"/><path class="O w16" d="M587.6 106.7c1.5 .5 5.9 2.5 8.8 3.3c2.9 .8 5.9 1 8.8 1.6c2.9 .5 5.9 1 8.8 1.7c2.9 .7 5.9 1.5 8.8 2.2c2.9 .7 5.9 1.5 8.8 2.2c2.9 .7 5.9 1.2 8.8 1.8c2.9 .5 5.9 1.2 8.8 1.5c2.9 .2 7.3 0 8.8 0"/><path class="GO w13" d="M581 111.1c1.5 .4 5.9 1.5 8.8 2.2c2.9 .7 5.5 1.2 8.8 1.8c3.3 .5 7.3 .9 11 1.5c3.7 .6 7.3 1.5 11 2.2c3.7 .7 7.3 1.6 11 2.2c3.7 .6 9.2 1.3 11 1.6"/><path class="T w13" d="M581 108.9c1.8 .4 7.3 1.5 11 2.2c3.7 .7 7.3 1.5 11 2.2c3.7 .7 7.3 1.3 11 2.2c3.7 .9 7.3 2.4 11 3.3c3.7 .9 7.3 1.5 11 2.2c3.7 .7 7.3 1.7 11 2.2c3.7 .5 8.1 .7 11 1.1c2.9 .4 5.5 .9 6.6 1.1"/><path class="T w10 d" d="M581 115.5c1.8 .4 7.3 1.5 11 2.2c3.7 .7 7.3 1.2 11 1.8c3.7 .5 9.2 1.2 11 1.5"/><path class="G w12" d="M592 100.1c1.8 .4 7.3 1.5 11 2.2c3.7 .7 7.3 1.3 11 2.2c3.7 .9 7.3 2.1 11 3.3c3.7 1.2 7.3 2.5 11 3.8c3.7 1.3 7.3 2.7 11 3.9c3.7 1.2 8.1 2.4 11 3.3c2.9 .9 5.5 1.8 6.6 2.2"/><path class="S w10" d="M581 82.6c1.1 .5 4.4 2.2 6.6 3.3c2.2 1.1 4.4 2 6.6 3.3c2.2 1.3 4.8 3.1 6.6 4.4c1.8 1.3 3.7 2.7 4.4 3.2"/><path class="T w10 d" d="M581 76c1.5 .4 5.9 1.1 8.8 2.2c2.9 1.1 5.9 2.9 8.8 4.4c2.9 1.5 7.3 3.7 8.8 4.4"/><path class="LG w10 d" d="M607.4 108.9c1.5 .7 5.9 3.1 8.8 4.4c2.9 1.3 5.5 2.3 8.8 3.3c3.3 1 9.2 2.4 11 2.9"/><path class="R w10 d" d="M594.2 106.7c.7-.4 2.6-2.2 4.4-2.2c1.8 0 5.5 1.8 6.6 2.2"/><path class="S w11" d="M631.6 113.3c1.8 .5 7.3 2.4 11 3.3c3.7 .9 7.7 1.5 11 2.2c3.3 .7 7.3 1.8 8.8 2.2"/><path class="T w12" d="M636 115.5c1.8 .5 7.3 2 11 2.7c3.7 .7 7.7 1 11 1.7c3.3 .7 7.3 1.8 8.8 2.2"/><path class="G w10 d" d="M614 89.2c1.8 .5 7.3 2 11 3.3c3.7 1.3 7.7 2.7 11 4.3c3.3 1.6 6.2 3.8 8.8 5.5c2.6 1.7 5.5 3.7 6.6 4.4"/><path class="T w10 d" d="M594.2 78.2c1.5 .7 5.9 3.1 8.8 4.4c2.9 1.3 5.9 2.2 8.8 3.3c2.9 1.1 5.9 2 8.8 3.3c2.9 1.3 7.3 3.7 8.8 4.4"/></g></g><path d="M488.5 92.3c2.1-.2 8.7-.9 12.8-1.2c4.1-.3 8-.3 12.1-.5c4-.2 8.1-.3 12.2-.4c4.1-.1 8.1-.3 12.1-.4c4-.1 8.1-.2 12.2-.3c4 0 8.1 0 12.1 0c4 0 8.7 0 12.2 0c3.5 0 6.6 0 9.1 .3c2.5 .3 4.1 1 6.1 1.8c2 .8 4 2 6 3c2 1 4.1 2.3 6.1 3.1c2 .8 4.1 1.3 6.1 1.8c2 .5 3.5 .6 6 1.2c2.5 .6 6.1 1.4 9.2 2.4c3 1 6.1 2.3 9.1 3.5c3 1.2 6.1 2.2 9.1 3.5c3 1.2 6.1 2.8 9.1 4c3 1.2 6.1 1.9 9.1 2.9c3 1 6.6 2.3 9.1 3.1c2.5 .8 5.1 1.2 6.1 1.4L674.4 131.1c-1-.6-3.6-2-6.1-3.4c-2.5-1.4-6.1-3.4-9.1-4.9c-3-1.5-6.1-2.8-9.1-4.4c-3-1.6-6.1-3.5-9.1-5.1c-3-1.6-6.1-2.9-9.1-4.3c-3-1.4-6.1-2.9-9.1-3.9c-3-1-6.7-1.8-9.2-2.4c-2.5-.6-4-.7-6-1.2c-2-.5-4.1-1-6.1-1.8c-2-.8-4.1-2.1-6.1-3.1c-2-1-4-2.2-6-3c-2-.8-3.6-1.5-6.1-1.8c-2.5-.3-5.5-.2-9.1-.3c-3.5 0-8.2 0-12.2 0c-4 0-8.1 0-12.1 0c-4 0-8.1 .1-12.2 .3c-4 .2-8 .3-12.1 .8c-4.1 .5-8.2 1.2-12.2 1.9c-4.1 .8-7.9 1.6-12.1 2.6c-4.1 1-10.7 3-12.8 3.6Z" fill="#9a9a9a" fill-opacity="0.45"/><path d="M488.5 96.5c2.1-.4 8.7-1.8 12.8-2.4c4.1-.7 8-1 12.1-1.5c4-.5 8.1-.9 12.2-1.2c4.1-.3 8.1-.5 12.1-.6c4-.2 8.1-.2 12.2-.3c4 0 8.1 0 12.1 0c4 0 8.7 0 12.2 0c3.5 0 6.6 0 9.1 .3c2.5 .3 4.1 1 6.1 1.8c2 .8 4 2 6 3c2 1 4.1 2.3 6.1 3.1c2 .8 4.1 1.3 6.1 1.8c2 .5 3.5 .6 6 1.2c2.5 .6 6.1 1.4 9.2 2.4c3 1 6.1 2.4 9.1 3.7c3 1.3 6.1 2.5 9.1 3.9c3 1.4 6.1 3.2 9.1 4.6c3 1.4 6.1 2.3 9.1 3.6c3 1.3 6.6 2.9 9.1 4c2.5 1.1 5.1 2 6.1 2.4" fill="none" stroke="#111" stroke-width="1.35"/></g>
<clipPath id="cA3"><rect x="478.6" y="11.2" width="205.9" height="125"/></clipPath>
<rect x="478.6" y="11.2" width="205.9" height="125" fill="none" stroke="#bfbfbf" stroke-width="1"/>
<g font-family="Liberation Sans, sans-serif" font-size="3.6" fill="#3a3a3a"><line x1="477.4" y1="28.2" x2="478.6" y2="28.2" stroke="#444" stroke-width="0.7"/><text x="477" y="29.4" text-anchor="end">2000</text><line x1="477.4" y1="53.2" x2="478.6" y2="53.2" stroke="#444" stroke-width="0.7"/><text x="477" y="54.4" text-anchor="end">1500</text><line x1="477.4" y1="78.6" x2="478.6" y2="78.6" stroke="#444" stroke-width="0.7"/><text x="477" y="79.8" text-anchor="end">1000</text><line x1="477.4" y1="104.1" x2="478.6" y2="104.1" stroke="#444" stroke-width="0.7"/><text x="477" y="105.3" text-anchor="end">500</text><line x1="477.4" y1="129.3" x2="478.6" y2="129.3" stroke="#444" stroke-width="0.7"/><text x="477" y="130.5" text-anchor="end">0</text><line x1="530.9" y1="136.2" x2="530.9" y2="137.4" stroke="#444" stroke-width="0.7"/><text x="530.9" y="140.8" text-anchor="middle">0.25</text><line x1="583.7" y1="136.2" x2="583.7" y2="137.4" stroke="#444" stroke-width="0.7"/><text x="583.7" y="140.8" text-anchor="middle">0.50</text><line x1="636.4" y1="136.2" x2="636.4" y2="137.4" stroke="#444" stroke-width="0.7"/><text x="636.4" y="140.8" text-anchor="middle">0.75</text></g>
<g><line x1="27.8" y1="167.3" x2="235.5" y2="167.3" stroke="#f3f3f3" stroke-width="0.6"/><line x1="27.8" y1="204.2" x2="235.5" y2="204.2" stroke="#f3f3f3" stroke-width="0.6"/><line x1="27.8" y1="241.1" x2="235.5" y2="241.1" stroke="#f3f3f3" stroke-width="0.6"/><line x1="54" y1="147.5" x2="54" y2="272.3" stroke="#f3f3f3" stroke-width="0.6"/><line x1="107.2" y1="147.5" x2="107.2" y2="272.3" stroke="#f3f3f3" stroke-width="0.6"/><line x1="160.4" y1="147.5" x2="160.4" y2="272.3" stroke="#f3f3f3" stroke-width="0.6"/><line x1="213.6" y1="147.5" x2="213.6" y2="272.3" stroke="#f3f3f3" stroke-width="0.6"/><line x1="27.8" y1="148.8" x2="235.5" y2="148.8" stroke="#ebebeb" stroke-width="0.8"/><line x1="27.8" y1="185.5" x2="235.5" y2="185.5" stroke="#ebebeb" stroke-width="0.8"/><line x1="27.8" y1="222.4" x2="235.5" y2="222.4" stroke="#ebebeb" stroke-width="0.8"/><line x1="27.8" y1="259.6" x2="235.5" y2="259.6" stroke="#ebebeb" stroke-width="0.8"/><line x1="80.6" y1="147.5" x2="80.6" y2="272.3" stroke="#ebebeb" stroke-width="0.8"/><line x1="133.8" y1="147.5" x2="133.8" y2="272.3" stroke="#ebebeb" stroke-width="0.8"/><line x1="187" y1="147.5" x2="187" y2="272.3" stroke="#ebebeb" stroke-width="0.8"/></g>
<g clip-path="url(#cB1)"><g filter="url(#bl)"><g fill="none" stroke-linecap="round" stroke-linejoin="round"><path class="G w11 d" d="M195.7 207.7c1.2-.2 4.8-1.6 7.2-1.4c2.4 .2 6.1 2.2 7.3 2.6"/><path class="LG w12 d" d="M141.6 198.5c1.2 .4 5 1.7 7.4 2.3c2.4 .6 4.9 .8 7.3 1.3c2.4 .4 4.8 1.2 7.3 1.4c2.4 .2 5-.3 7.4-.5c2.4-.2 4.9-.2 7.3-.5c2.4-.3 6.1-1.3 7.3-1.6"/><path class="T w11" d="M152.3 202.6c1.2 .5 4.7 2.1 7 2.8c2.3 .8 4.7 1.2 7 1.7c2.3 .5 4.7 1 7 1.3c2.3 .3 4.7 .4 7 .5c2.3 .1 4.7 .1 7 0c2.3-.1 4.7-.4 7-.8c2.3-.4 5.8-1.5 7-1.8"/><path class="PT w12 d" d="M92.3 211.7c1.2 .2 4.9 .7 7.3 .9c2.4 .2 4.8 .3 7.2 .5c2.4 .2 4.9 .2 7.3 .5c2.4 .3 4.9 1 7.3 1.1c2.4 .1 4.8-.3 7.2-.4c2.4-.1 4.9 0 7.3 0c2.4 0 6-.1 7.2-.1"/><path class="PT w12 d" d="M155.2 196.2c1.2-.2 4.6-.8 6.9-1c2.3-.2 4.7-.3 7-.5c2.3-.2 4.7-.5 7-.4c2.3 .1 4.7 .8 7 1.1c2.3 .3 4.7 .2 7 .8c2.3 .6 5.8 2.1 7 2.5"/><path class="PG w11 d" d="M78.1 213.4c1.2 .2 4.9 .8 7.3 1c2.4 .2 4.9 .3 7.3 .5c2.4 .2 4.8 .4 7.2 .6c2.4 .2 4.9 .2 7.3 .3c2.4 .1 4.9 .2 7.3 .2c2.4 0 6 0 7.2 0"/><path class="G w12 d" d="M173.2 207.4c1.2 .6 4.7 2.8 7 3.4c2.3 .6 4.6 .5 6.9 .1c2.3-.4 5.8-1.9 7-2.3"/><path class="LG w11" d="M187.6 200.7c1.2 .6 5 3.1 7.5 3.8c2.5 .7 5.1 .9 7.6 .5c2.5-.4 6.2-2.6 7.5-3.1"/><path class="G w12 d" d="M114.4 208.7c1.2 0 4.8-.1 7.2-.2c2.4-.1 4.9-.6 7.3-.5c2.4 .1 4.8 .3 7.2 .8c2.4 .5 6 1.8 7.2 2.1"/><path class="LG w11 d" d="M122.2 205.4c1.1-.1 4.6-.3 6.9-.3c2.3 0 4.5 .2 6.8 .3c2.3 .1 4.6 .1 6.9 .2c2.3 .1 4.5 .2 6.8 .5c2.3 .3 4.5 1.1 6.8 1.6c2.3 .5 5.8 1 6.9 1.2"/><path class="PG w11 d" d="M196.5 207.6c1.2 .1 4.6 .5 6.9 .7c2.3 .2 5.7 .4 6.8 .5"/><path class="S w12 d" d="M140.3 204c1.1 0 4.4-.3 6.6-.2c2.2 .1 4.4 .7 6.6 .9c2.2 .2 4.5 .1 6.7 .3c2.2 .2 4.4 .5 6.6 .7c2.2 .2 5.6 .3 6.7 .4"/><path class="G w10 d" d="M159.7 212.2c1.2-.3 4.8-1.3 7.1-1.6c2.3-.3 4.7-.2 7-.1c2.3 .2 4.7 .3 7.1 1c2.4 .7 5.9 2.7 7.1 3.2"/><path class="T w12 d" d="M120.3 203.9c1.2-.2 4.6-.8 6.9-1c2.3-.2 4.5-.4 6.8-.3c2.3 .1 4.6 .7 6.9 1c2.3 .3 4.5 .1 6.8 .6c2.3 .5 5.7 2 6.8 2.4"/><path class="S w11 d" d="M151 202c1.1-.2 4.2-1 6.3-1.3c2.1-.3 4.2-.4 6.3-.3c2.1 .1 4.1 .4 6.2 .8c2.1 .4 5.2 1.4 6.3 1.7"/><path class="T w12 d" d="M181.3 207.9c1.2-.1 4.8-.4 7.2-.5c2.4-.1 4.8-.2 7.2-.1c2.4 .1 4.9 .3 7.3 .6c2.4 .3 6 1.1 7.2 1.3"/><path class="PT w10" d="M137.7 196.8c1.2 .1 4.8 .3 7.2 .6c2.4 .3 4.8 .8 7.2 1.1c2.4 .2 4.7 .2 7.1 .4c2.4 .2 4.8 .3 7.2 .5c2.4 .2 4.8 .5 7.2 .6c2.4 .1 4.7 .1 7.1 0c2.4-.1 6-.4 7.2-.5"/><path class="T w11 d" d="M168.8 204.4c1.3 .5 5.3 2.4 7.9 3.1c2.6 .7 5.3 1.2 7.9 .9c2.6-.3 6.6-2.3 7.9-2.7"/><path class="G w15 d" d="M119.2 242.8c1.2-.4 4.9-1.9 7.4-2.5c2.5-.6 4.9-1.1 7.4-1.3c2.5-.2 4.9-.2 7.4-.2c2.5 0 4.9 .1 7.4 .2c2.5 .1 4.9 0 7.4 .4c2.5 .4 6.2 1.5 7.4 1.8"/><path class="G w14 d" d="M205.1 248.7c1.2 .6 4.7 3 7.1 3.5c2.4 .5 5.9-.2 7.1-.3"/><path class="T w12 d" d="M90 232c1.3 .1 5.3 .6 8 .7c2.7 .1 5.3 .1 8 0c2.7-.1 5.2-.5 7.9-.7c2.7-.2 5.3-.3 8-.7c2.7-.4 6.7-1.5 8-1.8"/><path class="S w15 d" d="M60 233.1c1.3 .5 5.1 2.1 7.7 2.8c2.6 .8 5.1 1.5 7.7 1.7c2.6 .2 5.1-.1 7.7-.6c2.5-.5 6.3-1.8 7.6-2.2"/><path class="T w12 d" d="M134.5 242.1c1.2 0 4.9-.2 7.4-.2c2.5 0 4.9 .3 7.4 .3c2.5 0 5-.3 7.5-.4c2.5-.1 4.9 .2 7.4 .1c2.5-.1 4.9-.8 7.4-.8c2.5 0 6.2 .5 7.5 .6"/><path class="O w13 d" d="M91.6 217.9c1.3-.3 5.2-2.1 7.7-2.1c2.5 0 6.3 1.6 7.6 1.9"/><path class="GO w14 d" d="M102.3 247.3c1.2 .5 4.6 2.3 7 2.8c2.4 .5 4.8 .2 7.1 .2c2.3 0 4.7-.1 7-.4c2.3-.3 4.8-.7 7.1-1.5c2.3-.8 5.8-3 7-3.6"/><path class="PG w14 d" d="M125.9 221.7c1.2 .1 4.7 .6 7 .8c2.3 .2 4.6 .7 6.9 .7c2.3 0 4.7-.5 7-.8c2.3-.3 4.7-.3 7-.8c2.3-.5 5.7-1.8 6.9-2.1"/><path class="R w14 d" d="M100.6 225.7c1.2 .1 5 .8 7.5 .8c2.5 .1 4.9-.3 7.4-.5c2.5-.2 5-.5 7.5-.7c2.5-.2 5 0 7.5-.2c2.5-.2 6.2-.7 7.4-.8"/><path class="GO w13 d" d="M140.5 228.1c1.2-.4 5-1.6 7.5-2.2c2.5-.6 5.1-1.2 7.6-1.5c2.5-.3 5-.6 7.5-.5c2.5 .1 5.1 .4 7.6 1c2.5 .6 6.3 2.3 7.6 2.8"/><path class="O w12 d" d="M62 242.7c1 .4 4.1 2.2 6.1 2.6c2 .4 4.1 .3 6.1 .1c2-.2 5.2-1.2 6.2-1.5"/><path class="LG w11" d="M112.2 232.6c1.3 .4 5.3 2.2 7.9 2.5c2.6 .3 5.2 .3 7.9-.4c2.7-.7 6.7-3.2 8-3.9"/><path class="GO w12 d" d="M156.4 232.6c1.1 .2 4.5 1 6.7 1.3c2.2 .3 4.5 .1 6.7 .3c2.2 .2 4.5 .8 6.7 1c2.2 .2 4.4 .2 6.6 .4c2.2 .2 5.6 .7 6.7 .8"/><path class="S w12" d="M102.5 209.2c1.2 .2 4.7 1.1 7 1.2c2.3 .1 4.6-.6 6.9-.8c2.3-.2 4.7 0 7-.3c2.3-.3 4.7-1 7-1.7c2.3-.7 5.8-1.9 7-2.3"/><path class="T w13 d" d="M158.5 234.5c1 .2 4.1 1.1 6.1 1.3c2 .2 4.1-.1 6.1-.3c2-.2 5.1-.6 6.1-.7"/><path class="LG w11" d="M56.1 234.1c1.1 .6 4.4 2.6 6.6 3.3c2.2 .7 4.4 1.3 6.6 1c2.2-.3 5.5-2.6 6.6-3.1"/><path class="R w12" d="M149 197.7c1.2-.1 4.6-.3 6.9-.3c2.3 0 4.7 .1 7 .2c2.3 .1 4.7 .3 7 .4c2.3 .1 4.6-.1 6.9 .2c2.3 .3 4.7 1 7 1.4c2.3 .4 5.8 1 7 1.2"/><path class="G w12 d" d="M86 241.7c1.2 .5 4.6 2.5 6.9 3.2c2.3 .7 4.5 1.2 6.8 1.1c2.3-.1 4.5-.7 6.8-1.6c2.3-.9 5.8-3.1 6.9-3.7"/><path class="G w14 d" d="M120.7 242.1c1.3 0 5.2 .2 7.8 .1c2.6-.1 5.2-.2 7.8-.4c2.6-.2 5.1-.7 7.7-1c2.6-.3 6.5-.8 7.8-1"/><path class="G w15 d" d="M170.2 239c1.1-.3 4.5-1.5 6.7-1.7c2.2-.2 4.5 .4 6.7 .7c2.2 .3 4.5 .7 6.7 1.3c2.2 .6 4.5 1.6 6.7 2.5c2.2 .9 5.6 2.2 6.7 2.7"/><path class="GO w12" d="M118.5 205.2c1.2 .1 4.7 .6 7.1 .6c2.4 0 4.8-.7 7.1-.8c2.3-.1 4.7 .3 7 .2c2.3-.1 4.7-.6 7.1-.9c2.4-.3 4.8-.5 7.1-.8c2.3-.3 5.8-1 7-1.2"/><path class="PG w12" d="M147.8 215.1c1.2-.2 4.8-.7 7.2-.9c2.4-.2 4.7 0 7.1-.2c2.4-.2 4.7-.7 7.1-.7c2.4 0 4.8 .5 7.2 .8c2.4 .3 4.7 .5 7.1 1.1c2.4 .6 5.9 2.1 7.1 2.5"/><path class="GO w14 d" d="M194.4 227.4c1 .6 4.1 2.4 6.2 3.7c2.1 1.3 4.2 2.9 6.3 4c2.1 1.1 4.1 1.7 6.2 2.5c2.1 .8 5.2 2.2 6.2 2.6"/><path class="G w13 d" d="M181.2 251.8c1 .4 4 1.7 6 2.5c2 .8 4.1 1.8 6.1 2.1c2 .3 4 .2 6-.1c2-.3 5-1.2 6-1.5"/><path class="PT w13 d" d="M107.9 228.8c1-.3 4.2-1.6 6.3-1.8c2.1-.2 4.2 .1 6.3 .3c2.1 .2 5.3 .7 6.4 .9"/><path class="PT w13 d" d="M164.3 233.7c1.2-.3 4.8-1.8 7.3-2.1c2.4-.3 4.9-.1 7.4 .3c2.5 .4 5 1 7.4 2.1c2.4 1.1 4.8 3 7.3 4.5c2.4 1.5 6.2 3.9 7.4 4.7"/><path class="PT w13 d" d="M144.3 235.7c1.1 .1 4.5 .5 6.7 .8c2.2 .3 4.4 .8 6.6 1c2.2 .2 4.4 .3 6.6 0c2.2-.3 4.5-1.3 6.7-1.6c2.2-.3 5.5-.3 6.6-.4"/><path class="S w13 d" d="M79 233.8c1 .1 4 .2 6 .4c2 .2 4 .4 6 .5c2 .1 5 .1 6 .1"/><path class="G w14 d" d="M121 227c1.1-.4 4.5-1.9 6.7-2.5c2.2-.6 4.5-1 6.7-1.2c2.2-.2 4.5-.1 6.8-.1c2.2 0 4.5 0 6.7 .1c2.2 .1 4.5 .2 6.8 .6c2.2 .3 5.6 1.2 6.7 1.5"/><path class="O w14 d" d="M165.9 233.8c1.2-.3 4.8-1.4 7.2-1.7c2.4-.3 4.8-.6 7.2 .1c2.4 .7 4.8 2.6 7.2 3.9c2.4 1.3 4.8 2.5 7.2 4c2.4 1.5 4.7 2.9 7.1 4.8c2.4 1.9 6 5.3 7.2 6.4"/><path class="O w13 d" d="M138.6 230.1c1-.2 4.1-.9 6.2-1.1c2.1-.2 4.1-.3 6.2-.2c2.1 .1 5.2 .5 6.3 .6"/><path class="G w14 d" d="M125.3 215.5c1.2 .1 5 .5 7.5 .4c2.5-.1 5.1-.8 7.6-1.2c2.5-.4 6.2-.8 7.5-1"/><path class="G w12" d="M110.5 233.5c1.2-.2 4.6-.9 6.9-1.3c2.3-.4 4.7-.9 7-1.2c2.3-.3 4.7-.6 7-.7c2.3-.1 4.6 .2 6.9 .2c2.3 0 4.7-.3 7-.4c2.3-.1 5.7 .1 6.9 .1"/><path class="S w14 d" d="M130.7 240.7c1.1-.4 4.5-2 6.8-2.5c2.3-.5 4.6-.8 6.9-.7c2.3 .1 5.7 1 6.8 1.2"/><path class="G w13 d" d="M174.2 231.3c1.3 .2 5.3 .7 8 1.5c2.7 .8 6.7 2.7 8 3.2"/><path class="T w14 d" d="M113.2 222.6c1.3-.1 5.2-.2 7.8-.5c2.6-.3 5.2-1.1 7.8-1.4c2.6-.3 5.2-.6 7.8-.7c2.6-.1 5.3-.2 7.9-.1c2.6 .1 6.5 .7 7.8 .8"/><path class="G w12 d" d="M119.2 220.1c1.2-.1 4.9-.3 7.4-.6c2.5-.3 4.9-.9 7.4-1.1c2.5-.2 4.9-.3 7.4-.3c2.5 0 4.9 .2 7.4 .2c2.5 .1 4.9 .1 7.4 .1c2.5 0 6.2 .2 7.5 .2"/><path class="LG w13 d" d="M155.7 230.5c1.3-.1 5.1-.7 7.7-.8c2.6-.2 5.2-.2 7.7-.1c2.5 .1 5 .3 7.6 .6c2.6 .3 5.1 .6 7.7 1.2c2.6 .6 6.4 1.8 7.7 2.2"/><path class="G w14 d" d="M186.5 240.9c1.2 .8 4.7 3.3 7 4.8c2.3 1.5 4.6 3.2 6.9 4.1c2.3 .9 4.7 1 7 1.4c2.3 .3 5.8 .6 6.9 .7"/><path class="S w13" d="M134.8 251.3c1.1 .1 4.2 .4 6.4 .6c2.2 .2 4.3 .4 6.5 .3c2.2-.1 4.2-.5 6.4-.7c2.2-.2 4.3-.1 6.5-.4c2.2-.3 5.3-1.1 6.4-1.3"/><path class="O w11" d="M67.8 225.2c1.2 .2 4.6 1.1 6.9 1.4c2.3 .3 4.6 .3 6.9 .3c2.3 0 4.6-.2 6.9-.3c2.3-.2 5.8-.5 6.9-.6"/><path class="T w13" d="M171.3 248.5c1.3-.5 5.3-3.7 7.9-3c2.6 .7 6.6 5.8 7.9 7"/><path class="S w12 d" d="M85.9 246.7c1.2 .5 4.7 2.4 7.1 3.1c2.4 .7 4.7 .9 7.1 .9c2.4 0 4.8-.2 7.2-.9c2.4-.7 5.9-2.5 7.1-3"/><path class="O w13" d="M139.3 226.1c1.1-.4 4.5-2 6.7-2.5c2.2-.5 4.5-.6 6.7-.7c2.2-.1 4.5 0 6.7-.1c2.2-.1 4.5-.5 6.7-.4c2.2 .1 4.5 .5 6.7 1c2.2 .5 5.7 1.8 6.8 2.2"/><path class="T w15 d" d="M180.3 231.5c1.3 .4 5.1 1.7 7.7 2.7c2.6 1 5.1 2.1 7.7 3.4c2.6 1.3 5.1 2.8 7.7 4.4c2.6 1.6 5.1 3.4 7.7 5.3c2.6 1.9 6.4 5 7.7 6"/><path class="G w14 d" d="M79.1 236.5c1.2-.1 4.9-.5 7.4-.4c2.5 .1 4.9 .6 7.4 .7c2.5 .1 4.9-.1 7.4-.1c2.5 0 5 0 7.5-.1c2.5-.1 4.9-.2 7.4-.4c2.5-.2 6.2-.5 7.4-.6"/><path class="G w13 d" d="M73.9 243.5c1.1 0 4.5 0 6.8-.2c2.3-.2 4.5-.7 6.8-.8c2.3-.1 4.5-.1 6.8 0c2.3 .1 4.5 .3 6.8 .6c2.3 .3 5.7 1.1 6.8 1.3"/><path class="T w13 d" d="M184.6 229.9c1.2 .2 4.6 .8 6.9 1.2c2.3 .4 4.7 .8 7 1.5c2.3 .7 4.6 2 6.9 2.9c2.3 .9 4.6 1.7 6.9 2.7c2.3 1 5.8 2.7 7 3.2"/><path class="PG w13" d="M64 234.5c1.2 .6 5 2.9 7.4 3.7c2.5 .8 4.8 1 7.3 1.1c2.5 .1 4.9-.3 7.4-.7c2.5-.4 6.2-1.4 7.4-1.7"/><path class="GO w12 d" d="M206.2 240.2c1.1-.2 4.3-1.8 6.5-1.1c2.2 .7 5.5 4.2 6.6 5.1"/><path class="G w14 d" d="M63.7 229.1c1.2 .3 4.9 1.4 7.3 1.6c2.4 .2 4.9-.4 7.3-.6c2.4-.2 6-.5 7.2-.6"/><path class="G w13 d" d="M187.3 232.2c1.3 .7 5.3 3 8 4.1c2.7 1.1 5.3 1.9 8 2.7c2.7 .8 5.3 1.7 8 1.9c2.7 .2 6.7-.4 8-.5"/><path class="PG w12 d" d="M142.4 215.2c1.2 .2 4.9 .6 7.3 .9c2.4 .3 4.8 .7 7.2 .8c2.4 .1 4.9 0 7.3 0c2.4 0 4.8 0 7.2-.1c2.4-.1 4.9-.4 7.3-.4c2.4 0 6.1 .5 7.3 .6"/><path class="G w12 d" d="M121.6 214c1.1-.2 4.5-.8 6.7-1.2c2.2-.4 4.5-1 6.8-1.2c2.2-.2 4.5-.3 6.7-.1c2.2 .2 5.7 .9 6.8 1.1"/><path class="PG w13" d="M145 222.9c1.2 .2 4.9 1.1 7.3 1.5c2.4 .4 4.9 .6 7.4 .7c2.4 .1 4.9 0 7.3 0c2.4 0 4.9-.4 7.3-.2c2.4 .2 4.9 .7 7.3 1.2c2.4 .5 6.1 1.5 7.3 1.8"/><path class="PG w14 d" d="M159 245.9c1.3 0 5.2-.2 7.9-.2c2.7 0 5.3 0 8 .3c2.7 .3 5.3 .9 7.9 1.6c2.6 .7 6.6 2 7.9 2.4"/><path class="G w13 d" d="M103.9 216c1 .2 4 .9 6 1.1c2 .2 4 .4 6 .3c2-.1 4-.5 6-1c2-.5 5.1-1.8 6.1-2.2"/><path class="GO w12 d" d="M169.4 242.7c1.2-.2 4.8-1.2 7.1-1.2c2.3 0 4.7 .7 7 1.4c2.3 .7 4.8 1.7 7.1 2.7c2.3 1 4.7 2.2 7 3.6c2.3 1.4 4.7 3 7.1 4.7c2.4 1.7 5.9 4.7 7.1 5.6"/><path class="R w15 d" d="M79.8 243.5c1.1 .6 4.5 2.7 6.7 3.3c2.2 .6 4.5 .6 6.7 .1c2.2-.5 5.5-2.6 6.6-3.1"/><path class="PG w12 d" d="M76.9 234.6c1.1 .3 4.3 1.1 6.5 1.6c2.2 .5 4.3 1.3 6.5 1.5c2.2 .2 4.3-.3 6.5-.4c2.2-.1 4.3 .1 6.5-.4c2.2-.5 5.4-2 6.5-2.4"/><path class="R w15 d" d="M144.6 213.4c1.1-.5 4.4-2.2 6.6-2.8c2.2-.6 4.5-.9 6.7-.5c2.2 .4 5.5 2.3 6.6 2.7"/><path class="O w15 d" d="M130.3 239.2c1.3 .1 5.1 .6 7.7 .4c2.6-.2 6.5-1.5 7.8-1.8"/><path class="O w14 d" d="M140.4 235.9c1.3-.2 5.2-1 7.8-1.2c2.6-.2 5.2-.3 7.8-.3c2.6 0 5.3 .1 7.9 .2c2.6 .1 5.2 .1 7.8 .3c2.6 .2 6.5 .8 7.8 .9"/><path class="O w14 d" d="M98.9 225.1c1.2 .2 5 1.3 7.5 1.5c2.5 .2 5-.3 7.5-.4c2.5-.1 5-.1 7.5-.4c2.5-.2 5-.6 7.5-1.1c2.5-.6 6.2-1.8 7.5-2.2"/><path class="PT w12 d" d="M75.5 225.2c1.2 .5 4.7 2.7 7.1 3.2c2.4 .6 4.7 .5 7.1 .1c2.4-.4 5.9-2 7.1-2.4"/><path class="LG w12" d="M79.9 238.5c1.1 .2 4.5 .9 6.8 1.4c2.3 .5 4.6 1.4 6.9 1.5c2.3 .1 4.5-.5 6.8-.8c2.3-.3 4.5-.4 6.8-.8c2.3-.4 5.7-1.2 6.9-1.5"/><path class="LG w14 d" d="M155.4 208.9c1.3 .1 5 .3 7.6 .4c2.6 .1 5.1 .2 7.7 .2c2.6 0 5.1-.1 7.6 0c2.5 .1 6.3 .4 7.6 .5"/><path class="G w12" d="M181.8 221.8c1.2 .6 5 2.6 7.5 3.8c2.5 1.2 5 2.1 7.5 3.4c2.5 1.3 5 2.9 7.5 4.2c2.5 1.2 5 2.2 7.5 3.3c2.5 1.1 6.2 2.8 7.5 3.4"/><path class="LG w12" d="M97.6 242.7c1.3-.2 5.2-1.3 7.8-1.4c2.6-.1 6.6 .9 7.9 1.1"/><path class="T w11" d="M99 229c1.2 .3 4.8 1.5 7.3 1.8c2.5 .3 5 .3 7.4-.1c2.5-.4 6.1-1.8 7.3-2.2"/><path class="R w15 d" d="M129.6 226.6c1 .3 3.8 1.7 5.7 1.9c1.9 .2 3.8-.3 5.7-.8c1.9-.5 4.8-1.9 5.7-2.3"/><path class="O w12" d="M152.4 211.3c1.2-.1 4.6-.3 6.9-.3c2.3 0 4.6 .3 6.9 .3c2.3 0 4.6-.2 6.9-.2c2.3 0 4.6-.2 6.9 .2c2.3 .4 4.6 1.5 6.9 2.1c2.3 .6 5.8 1.1 6.9 1.3"/><path class="G w14 d" d="M153.1 233.2c1.3 .2 5.2 1.2 7.8 1.5c2.6 .3 5.2 .7 7.8 .6c2.6-.1 5.3-.6 7.9-.9c2.6-.3 6.5-.7 7.8-.8"/><path class="LG w12 d" d="M166 227c1.3 .5 5 2.3 7.6 3c2.6 .7 5.2 1.2 7.7 1.4c2.6 .2 6.3-.2 7.6-.3"/><path class="PG w13 d" d="M88 217.4c1.2-.1 4.9-.2 7.3-.3c2.4-.1 4.9 0 7.3 0c2.4 0 4.9-.1 7.3-.2c2.4-.1 6.1-.2 7.3-.2"/><path class="G w12 d" d="M178.8 237.6c1.1 .3 4.4 1.1 6.7 1.6c2.2 .5 4.6 .8 6.8 1.2c2.2 .4 4.4 1 6.7 1.4c2.2 .4 4.6 1 6.8 1.3c2.2 .3 4.4 .5 6.7 .6c2.2 .1 5.7-.2 6.8-.2"/><path class="LG w12 d" d="M183.3 218.6c1.2 .5 4.6 2.2 6.9 3c2.3 .8 4.6 1.1 6.9 1.5c2.3 .4 4.7 .7 7 .9c2.3 .2 4.6 .5 6.9 .4c2.3-.1 5.8-.8 6.9-1"/><path class="T w14 d" d="M113.5 212.6c1.2-.5 5-2.6 7.5-3.2c2.5-.6 4.9-.5 7.4-.2c2.5 .3 6.2 1.8 7.5 2.1"/><path class="R w12 d" d="M62.8 226c1.3-.4 5.1-2.1 7.6-2.4c2.5-.3 5.1-.1 7.6 .6c2.5 .7 6.3 2.9 7.6 3.5"/><path class="T w12 d" d="M68.5 232.5c1.2 .3 4.9 1.1 7.4 1.7c2.5 .6 4.9 1.4 7.4 1.7c2.5 .3 4.9 .3 7.4 .2c2.5-.1 4.9-.3 7.4-.9c2.5-.6 6.2-2.2 7.4-2.6"/><path class="GO w12 d" d="M157.6 235c1.2-.4 4.8-1.6 7.2-2.2c2.4-.6 4.9-1.2 7.3-1.2c2.4 0 4.9 .3 7.3 1.2c2.4 .9 4.9 2.5 7.3 4.2c2.4 1.7 6 4.8 7.2 5.7"/><path class="O w15 d" d="M184 217.5c1.3 .7 5.2 2.7 7.8 4.1c2.6 1.4 5.2 3 7.8 4.3c2.6 1.3 6.4 3.2 7.7 3.8"/><path class="GO w14 d" d="M190.6 232c1.2 .4 4.8 1.3 7.2 2.2c2.4 .8 4.7 2 7.1 2.9c2.4 .9 4.8 1.7 7.2 2.5c2.4 .8 6 1.8 7.2 2.2"/><path class="O w13 d" d="M129 217.3c1.2 .3 4.8 1.4 7.1 1.9c2.3 .5 4.7 .9 7 .9c2.3 0 4.7-.6 7-.9c2.3-.3 4.7-.3 7-.8c2.3-.4 5.8-1.6 7-1.9"/><path class="PG w13 d" d="M87.4 220.2c1 .3 4 1.7 6 2.1c2 .4 4.1 .8 6.1 .5c2-.3 5-2.2 6-2.6"/><path class="S w11" d="M100.2 221.4c1-.1 3.9-.4 5.9-.4c2 0 3.9 .4 5.9 .3c2-.1 4.9-.7 5.9-.8"/><path class="PG w14 d" d="M68.9 227.1c1.2 .3 4.7 1.7 7.1 2.1c2.4 .4 4.7 .4 7.1 .6c2.4 .2 4.7 .6 7.1 .6c2.4 0 4.7-.3 7.1-.5c2.4-.2 4.7-.2 7.1-.5c2.4-.3 5.9-1.3 7.1-1.6"/><path class="O w13" d="M104.3 238.3c1.3-.5 5.1-2.2 7.6-3c2.5-.8 5-1.5 7.5-1.8c2.5-.3 5.1-.6 7.6-.3c2.5 .3 6.3 1.7 7.6 2"/><path class="G w12 d" d="M55.6 223.1c1 .3 4.2 1.6 6.3 2.1c2.1 .5 4.3 .9 6.4 1.1c2.1 .2 4.3 .2 6.4 .1c2.1-.2 5.3-.8 6.4-1"/><path class="O w13 d" d="M155.4 217.2c1.2-.4 4.8-2 7.2-2.6c2.4-.6 4.9-1 7.3-1c2.4 0 4.8 .1 7.2 1c2.4 .9 6.1 3.5 7.3 4.2"/><path class="G w13 d" d="M182.7 237.7c1.3 .3 5.1 1.2 7.6 1.9c2.6 .7 5.1 1.8 7.7 2.4c2.6 .6 5.1 .6 7.6 1c2.5 .4 6.3 1.2 7.6 1.4"/><path class="GO w14 d" d="M83.5 250.1c1.3 .5 5.2 2.3 7.8 3c2.6 .7 5.3 1.4 7.9 1.3c2.6-.1 5.3-1 7.9-1.7c2.6-.7 6.6-2.2 7.9-2.6"/><path class="O w11" d="M133.6 232.5c1.2 .4 4.7 1.8 7 2.2c2.3 .4 4.7 .5 7 .3c2.3-.2 4.7-.8 7-1.4c2.3-.6 5.9-1.6 7.1-1.9"/><path class="S w12 d" d="M194.1 235.4c1.1 .2 4.2 .7 6.3 1.2c2.1 .5 4.2 1.2 6.3 1.8c2.1 .6 4.2 1.1 6.3 1.8c2.1 .7 5.2 2 6.3 2.4"/><path class="GO w13 d" d="M73.8 221c.9 .3 3.7 1.7 5.6 2c1.9 .3 3.8 0 5.7-.3c1.9-.3 4.7-1.1 5.6-1.3"/><path class="G w15 d" d="M113 222.3c1.1-.3 4.5-1.4 6.7-1.8c2.2-.4 4.5-.5 6.7-.7c2.2-.2 4.4-.6 6.6-.6c2.2-.1 4.5 0 6.7 .3c2.2 .3 5.6 1.2 6.7 1.4"/><path class="S w11" d="M114.9 211.6c1.3 .3 5.2 1.4 7.8 1.8c2.6 .4 5.2 .8 7.8 .5c2.6-.3 5.2-1.4 7.8-2.2c2.6-.8 6.5-2.2 7.8-2.7"/><path class="T w14 d" d="M83.9 241.1c1.3-.4 5.2-1.8 7.8-2.5c2.6-.7 5.1-1.3 7.7-1.5c2.6-.2 5.2 .5 7.8 .6c2.6 .1 5.2-.2 7.8 .1c2.6 .3 6.5 1.6 7.8 1.9"/><path class="GO w12 d" d="M150.7 238.2c1.1-.1 4.5-.5 6.7-.7c2.2-.2 4.4-.5 6.6-.5c2.2 0 5.5 .4 6.6 .5"/><path class="GO w12 d" d="M91 252.4c1.2-.2 4.7-1.1 7-1.4c2.3-.3 4.7-.4 7-.5c2.3-.1 4.7-.4 7-.3c2.3 .1 5.8 .9 7 1.1"/><path class="GO w14 d" d="M152.6 203.9c1.1 .5 4.5 2.3 6.7 2.8c2.2 .5 4.4 .5 6.6 0c2.2-.5 5.5-2.4 6.6-2.9"/><path class="GO w12 d" d="M78.4 257.4c1.2 0 4.9 0 7.4-.1c2.5-.1 4.9-.6 7.4-.7c2.5-.1 4.9-.1 7.4-.1c2.5 0 4.9 .2 7.4 .1c2.5-.1 4.9-.5 7.4-.5c2.5 0 6.2 .5 7.4 .6"/><path class="G w15 d" d="M62.6 239.9c1.2-.1 4.9-.5 7.3-.6c2.4-.1 4.9-.3 7.3-.2c2.4 .1 4.8 .5 7.2 .9c2.4 .4 6.1 1.3 7.3 1.6"/><path class="T w13" d="M92 259.8c1-.4 4-2.1 6.1-2.5c2-.4 4.1-.1 6.2-.1c2.1-.1 4.1-.4 6.2-.2c2.1 .2 5.2 1.4 6.2 1.7"/><path class="G w12 d" d="M91.7 225c1.3 .3 5.4 1.3 8 1.7c2.6 .4 5.2 .6 7.9 .5c2.7-.1 5.3-.6 8-1.1c2.7-.5 6.7-1.8 8-2.2"/><path class="PT w9 d" d="M51.1 217.4c.9 .7 3.5 3.1 5.5 4.4c2 1.3 4 2.3 6.6 3.3c2.6 1 7.3 2.3 8.8 2.8"/><path class="S w9" d="M43.4 218.5c.7 .7 2.9 2.9 4.4 4.4c1.5 1.5 2.6 2.9 4.4 4.4c1.8 1.5 4 3.3 6.6 4.4c2.6 1.1 6.6 1.6 8.8 2.1c2.2 .5 3.7 .9 4.4 1.1"/><path class="LG w10 d" d="M57.7 238.2c.4 .7 1.1 3.1 2.2 4.4c1.1 1.3 2.8 2.3 4.4 3.3c1.7 1 3.5 2 5.5 2.7c2 .7 5.5 1.4 6.6 1.7"/><path class="G w10 d" d="M72 233.8c1.8 .2 7.3 .8 11 1.1c3.7 .3 7.3 .5 11 .5c3.7 0 7.3-.3 11-.5c3.7-.2 6.4-.2 10.9-.4c4.5-.2 13.4-.6 16.1-.7"/><path class="T w10 d" d="M74.2 237.1c1.8 .2 7.3 .7 11 1.1c3.7 .4 7.3 1 11 1.1c3.7 .1 7.4-.2 11-.4c3.6-.2 6.8-.5 10.9-.7c4.1-.2 11.6-.5 13.9-.6"/><path class="LG w10 d" d="M78.6 241.5c1.8 .1 7.3 .3 11 .5c3.7 .2 7.3 .6 11 .6c3.7 0 7.3-.4 11-.6c3.7-.2 7.5-.3 10.9-.5c3.4-.2 7.9-.3 9.5-.4"/><path class="T w10 d" d="M85.2 226.2c1.5 .3 5.5 1.2 8.8 1.7c3.3 .6 7.3 1.4 11 1.6c3.7 .2 9.1-.6 10.9-.7"/><path class="GO w11 d" d="M76.4 261.3c2.2 .1 8.8 .5 13.2 .5c4.4 0 8.8-.3 13.2-.5c4.4-.2 10.9-.3 13.1-.4"/><path class="T w10 d" d="M69.8 258l11 1.1"/><path class="G w10 d" d="M94 252.5c1.8 .2 7.3 .9 11 1.1c3.7 .2 7.2 .1 10.9 0c3.7-.1 9.2-.5 11-.6"/><path class="T w10 d" d="M100.6 254.7c1.8 .1 7.3 .5 11 .5c3.7 0 7.5-.3 10.9-.5c3.4-.2 7.9-.3 9.5-.4"/><path class="S w10 d" d="M87.4 243.7c1.8 .2 7.3 1 11 1.1c3.7 .1 9.2-.5 11-.6"/><path class="LG w10 d" d="M122.5 209.7l9.5-1.1"/><path class="T w10 d" d="M113.8 204.6c1.5-.1 5.7-.2 8.7-.4c3-.2 7.9-.4 9.5-.5"/><path class="S w10 d" d="M98.4 198.7c1.1 .4 4.6 1.5 6.6 2.2c2 .7 4 1.1 5.5 2.2c1.5 1.1 2.4 3.1 3.3 4.4c.9 1.3 1.8 2.8 2.1 3.3"/><path class="R w11 d" d="M63.6 214.1c.1 .6 .5 2.2 .7 3.3c.2 1.1-.7 2.6 .6 3.3c1.3 .7 4.4 .7 7.1 1.1c2.7 .4 7.3 .9 8.8 1.1"/><path class="G w11" d="M106.1 181.5c.9-.4 3.5-1.9 5.5-2.6c2-.7 4.3-1.5 6.5-1.6c2.2-.1 4.3 .4 6.6 .9c2.3 .4 6.1 1.5 7.3 1.8"/><path class="G w10" d="M70.9 203.1c.9 .4 3.5 1.1 5.5 2.2c2 1.1 4.8 3.1 6.6 4.4c1.8 1.3 2.6 2.7 4.4 3.3c1.8 .6 4 .5 6.6 .4c2.6-.1 7.3-.8 8.8-.9"/><path class="T w9" d="M75.3 215.2l2.2-3.3"/><path class="T w11" d="M114.8 197.1c.9-.3 3.7-1.5 5.5-1.7c1.8-.2 3.5-.2 5.5 .4c2 .6 5.2 2.4 6.2 2.9"/><path class="S w9" d="M87.4 214.1c1.1 .2 4 .7 6.6 1.1c2.6 .4 5.9 1.1 8.8 1.1c2.9 0 5.9-.6 8.8-1.1c2.9-.6 5.3-1.6 8.7-2.2c3.4-.6 9.8-.9 11.7-1.1"/><path class="G w10" d="M65.4 217.4c1.1 .4 4.4 1.5 6.6 2.2c2.2 .7 4.4 1.5 6.6 2.2c2.2 .7 5.5 1.8 6.6 2.2"/><path class="O w17" d="M73.1 219.6c.9 .4 3.5 1.4 5.5 2.2c2 .8 4.4 2.1 6.6 2.6c2.2 .5 4 .6 6.6 .7c2.6 .1 6.2 .2 8.8 0c2.6-.2 5.5-.9 6.6-1.1"/><path class="GO w15" d="M72 259.1c1.8 .2 7.3 .9 11 1.1c3.7 .2 7.3 .2 11 0c3.7-.2 7.3-.7 11-1.1c3.7-.4 7.6-.7 10.9-1.1c3.3-.4 6.1-.7 8.8-1.1c2.7-.4 6.1-.9 7.3-1.1"/><path class="G w11" d="M98.4 248.6c1.5 .1 5.9 .4 8.8 .6c2.9 .2 5.8 .5 8.7 .7c2.9 .2 6.1 .2 8.8 .4c2.7 .2 6.1 .4 7.3 .5"/><path class="GO w12" d="M115.9 247c1.5 .2 6.1 .7 8.8 1.1c2.7 .4 6.1 .9 7.3 1.1"/><path class="O w12" d="M118.1 252.5c1.1 .3 4.3 1.4 6.6 1.8c2.3 .4 6.1 .7 7.3 .9"/><path class="S w10" d="M137.5 164.6c.2 .7 .4 2.6 1.1 4.4c.7 1.8 2.8 5.5 3.3 6.6"/><path class="S w10 d" d="M137.5 164.6c1.3 .1 4.9 .4 7.7 .4c2.8 0 6.2-.3 8.8-.4c2.6-.1 5.5-.3 6.6-.4"/><path class="T w10 d" d="M152.9 180c.9-1.5 3.8-6.7 5.5-8.8c1.7-2.1 2.9-4 4.4-4c1.5 0 2.9 2.6 4.4 4c1.5 1.4 2.9 2.9 4.4 4.4c1.5 1.5 3.1 3.2 4.4 4.4c1.3 1.2 2.6 1.5 3.3 2.6c.7 1.1 1.1 2.8 1.1 4c0 1.2-.9 2.8-1.1 3.3"/><path class="G w10 d" d="M132 180.4c1.1-.2 4-.5 6.6-.9c2.6-.4 7.3-1.1 8.8-1.3"/><path class="GO w10 d" d="M141.9 199.8c1.3-.4 4.9-1.8 7.7-2.2c2.8-.5 7.3-.4 8.8-.5"/><path class="O w12" d="M160.6 197.6c1.1-.1 4.4-.2 6.6-.5c2.2-.3 4.4-.5 6.6-1.3c2.2-.8 5.5-3.1 6.6-3.7"/><path class="G w10" d="M184.8 199.8c1.1-.4 4.4-2 6.6-2.2c2.2-.2 4.8 1.3 6.6 1.1c1.8-.2 2.8-1.5 4.4-2.2c1.7-.7 4.6-1.8 5.5-2.2"/><path class="T w10" d="M132 200.9c1.5 .2 5.9 1.1 8.8 1.1c2.9 0 5.9-.7 8.8-1.1c2.9-.4 7.3-.9 8.8-1.1"/><path class="T w10 d" d="M171.6 204.6c1.5-.2 5.9-.7 8.8-.9c2.9-.2 5.9-.4 8.8-.6c2.9-.2 5.9-.9 8.8-.7c2.9 .2 7.3 1.5 8.8 1.8"/><path class="S w10" d="M140.8 206.4c1.5-.1 5.9-.6 8.8-.5c2.9 .1 5.9 .6 8.8 .9c2.9 .3 7.3 .6 8.8 .7"/><path class="G w11" d="M132 210.8c1.5-.2 5.9-1 8.8-1.1c2.9-.1 5.9 .4 8.8 .6c2.9 .2 5.9 .2 8.8 .5c2.9 .3 5.9 .9 8.8 1.1c2.9 .2 5.9 .2 8.8 0c2.9-.2 5.9-.7 8.8-1.1c2.9-.4 7.3-.9 8.8-1.1"/><path class="O w13" d="M165 211.9c1.5-.2 5.9-1 8.8-1.1c2.9-.1 6.2 .6 8.8 .4c2.6-.2 4.6-1.1 6.6-1.5c2-.4 4.6-.9 5.5-1.1"/><path class="S w10 d" d="M193.6 209.7c1.1 .4 4.4 1.5 6.6 2.2c2.2 .7 5 1.4 6.6 2.2c1.7 .8 2.8 2.3 3.3 2.8"/><path class="R w14" d="M143 222.9c.7-1 2.6-4.7 4.4-6c1.8-1.3 4.4-1.9 6.6-1.7c2.2 .2 4.4 1.7 6.6 2.6c2.2 .9 4.6 2.2 6.6 2.9c2 .7 4.6 .9 5.5 1.1"/><path class="R w11 d" d="M132 219.6c1.5 .1 5.9 .4 8.8 .4c2.9 0 7.3-.3 8.8-.4"/><path class="O w14" d="M149.6 225.1c1.5-.2 5.9-.7 8.8-1.1c2.9-.4 5.9-.7 8.8-1.1c2.9-.4 7.3-.9 8.8-1.1"/><path class="O w13" d="M145.2 231.7c1.5-.2 5.9-1.1 8.8-1.1c2.9 0 7.3 .9 8.8 1.1"/><path class="T w11" d="M132 234.9c1.8 .1 7.3 .5 11 .5c3.7 0 7.3-.2 11-.5c3.7-.3 7.3-.8 11-1.1c3.7-.3 9.2-.8 11-1"/><path class="G w10" d="M182.6 217.4c.7 .9 2.9 4 4.4 5.5c1.5 1.5 2.9 2.2 4.4 3.3c1.5 1.1 3.7 2.8 4.4 3.3"/><path class="G w12" d="M198 231.7c1.1-.3 4.8-1.8 6.6-1.6c1.8 .2 2.9 1.9 4.4 2.7c1.5 .8 2.8 1.2 4.4 2.1c1.6 .9 4.5 2.7 5.4 3.3"/><path class="S w13" d="M206.8 241.5c.7 .4 2.9 1.5 4.4 2.2c1.5 .7 3.1 1.2 4.4 1.8c1.3 .6 2.7 1.2 3.2 1.5"/><path class="O w14" d="M158.4 241.5c1.5-.4 5.9-1.5 8.8-2.2c2.9-.7 5.9-1.8 8.8-2.2c2.9-.4 7.3-.3 8.8-.4"/><path class="R w12" d="M171.6 237.1c1.5 .1 6.2 .3 8.8 .5c2.6 .2 5.5 .5 6.6 .6"/><path class="O w11 d" d="M132 242.6c1.5-.2 5.9-.8 8.8-1.1c2.9-.2 7.3-.3 8.8-.4"/><path class="GO w14" d="M132 250.3c1.5 .4 5.9 1.5 8.8 2.2c2.9 .7 5.9 1.6 8.8 2.2c2.9 .6 5.9 1.1 8.8 1.1c2.9 0 7.3-.9 8.8-1.1"/><path class="O w13" d="M154 250.3c1.5 .4 5.9 1.5 8.8 2.2c2.9 .7 5.9 1.8 8.8 2.2c2.9 .4 7.3 .4 8.8 .5"/><path class="O w16" d="M184.8 248.1c1.5-.2 5.9-.9 8.8-1.1c2.9-.2 6.2-.2 8.8 0c2.6 .2 5.5 .9 6.6 1.1"/><path class="O w13" d="M184.8 256.9c1.5-.2 5.9-.8 8.8-1.1c2.9-.3 5.9-.4 8.8-.6c2.9-.2 7.3-.4 8.8-.5"/><path class="T w12" d="M178.2 261.3c1.5 .2 5.9 .5 8.8 1.1c2.9 .6 5.9 1.7 8.8 2.2c2.9 .6 6.2 1.1 8.8 1.1c2.6 0 5.5-.9 6.6-1.1"/><path class="G w12" d="M184.8 250.3c1.5 .4 5.9 1.5 8.8 2.2c2.9 .7 5.9 1.5 8.8 2.2c2.9 .7 7.3 1.5 8.8 1.8"/><path class="T w12" d="M189.2 258c1.5 .3 5.9 1.1 8.8 1.6c2.9 .6 6.2 1.3 8.8 1.7c2.6 .4 5.5 .4 6.6 .5"/><path class="LG w10 d" d="M132 245.9c2.2 .2 8.8 1 13.2 1.1c4.4 .1 8.8-.4 13.2-.6c4.4-.2 11-.4 13.2-.5"/><path class="T w10 d" d="M132 239.3c2.2-.1 8.8-.2 13.2-.4c4.4-.2 11-.6 13.2-.7"/><path class="G w11" d="M176 245.9c1.5-.1 5.9 0 8.8-.4c2.9-.4 7.3-1.5 8.8-1.8"/><path class="T w10 d" d="M182.6 230.6c1.5 .4 5.9 1.7 8.8 2.2c2.9 .5 7.3 .8 8.8 1"/></g></g><path d="M37.1 221.1c2.5 .7 10.1 2.8 15.2 4c5.1 1.2 10.1 2.1 15.2 3c5.1 .9 10.2 1.8 15.2 2.3c5 .5 10.5 .6 15.1 .6c4.5 0 8.2-.2 12.2-.6c4-.4 8-1.2 12.1-1.8c4-.7 7.6-1.5 12.2-2.1c4.6-.6 10.6-1.2 15.2-1.6c4.6-.4 8.3-.4 12.1-.6c3.8-.2 7.6-.8 10.6-.6c3 .2 4.8 .7 7.6 1.9c2.8 1.2 6.1 3.4 9.1 5.2c3 1.8 6 3.7 9.1 5.6c3.1 1.9 6.1 3.9 9.2 5.9c3.1 2 6.1 4.1 9.1 5.9c3 1.8 7.6 4 9.1 4.8L225.4 262.6c-1.5-1.2-6.1-4.8-9.1-7.3c-3-2.6-6.1-5.4-9.1-8c-3.1-2.6-6.1-5.2-9.2-7.5c-3.1-2.3-6.1-4.6-9.1-6.6c-3-2-6.3-4.3-9.1-5.6c-2.8-1.2-4.6-1.7-7.6-1.9c-3-.2-6.8 .4-10.6 .6c-3.8 .2-7.5 .2-12.1 .6c-4.6 .4-10.6 1-15.2 1.6c-4.6 .6-8.2 1.4-12.2 2.1c-4 .7-8 1.4-12.1 1.8c-4 .4-7.7 .6-12.2 .6c-4.5 0-10-.3-15.1-.6c-5-.3-10.1-1-15.2-1.3c-5.1-.3-10.1-.3-15.2-.6c-5.1-.3-12.7-.8-15.2-1Z" fill="#9a9a9a" fill-opacity="0.45"/><path d="M37.1 225.3c2.5 .4 10.1 1.8 15.2 2.5c5.1 .7 10.1 1.2 15.2 1.8c5.1 .6 10.2 1.4 15.2 1.8c5 .4 10.5 .6 15.1 .6c4.5 0 8.2-.2 12.2-.6c4-.4 8-1.2 12.1-1.8c4-.7 7.6-1.5 12.2-2.1c4.6-.6 10.6-1.2 15.2-1.6c4.6-.4 8.3-.4 12.1-.6c3.8-.2 7.6-.8 10.6-.6c3 .2 4.8 .7 7.6 1.9c2.8 1.2 6.1 3.5 9.1 5.4c3 1.9 6 4 9.1 6.1c3.1 2.1 6.1 4.4 9.2 6.7c3.1 2.3 6.1 4.8 9.1 7c3 2.2 7.6 5 9.1 6" fill="none" stroke="#111" stroke-width="1.35"/></g>
<clipPath id="cB1"><rect x="27.8" y="147.5" width="207.7" height="124.8"/></clipPath>
<rect x="27.8" y="147.5" width="207.7" height="124.8" fill="none" stroke="#bfbfbf" stroke-width="1"/>
<g font-family="Liberation Sans, sans-serif" font-size="3.6" fill="#3a3a3a"><line x1="26.6" y1="148.8" x2="27.8" y2="148.8" stroke="#444" stroke-width="0.7"/><text x="26.2" y="150" text-anchor="end">800</text><line x1="26.6" y1="185.5" x2="27.8" y2="185.5" stroke="#444" stroke-width="0.7"/><text x="26.2" y="186.7" text-anchor="end">600</text><line x1="26.6" y1="222.4" x2="27.8" y2="222.4" stroke="#444" stroke-width="0.7"/><text x="26.2" y="223.6" text-anchor="end">400</text><line x1="26.6" y1="259.6" x2="27.8" y2="259.6" stroke="#444" stroke-width="0.7"/><text x="26.2" y="260.8" text-anchor="end">200</text><line x1="80.6" y1="272.3" x2="80.6" y2="273.5" stroke="#444" stroke-width="0.7"/><text x="80.6" y="276.9" text-anchor="middle">0.25</text><line x1="133.8" y1="272.3" x2="133.8" y2="273.5" stroke="#444" stroke-width="0.7"/><text x="133.8" y="276.9" text-anchor="middle">0.50</text><line x1="187" y1="272.3" x2="187" y2="273.5" stroke="#444" stroke-width="0.7"/><text x="187" y="276.9" text-anchor="middle">0.75</text></g>
<g><line x1="252.5" y1="169" x2="459.5" y2="169" stroke="#f3f3f3" stroke-width="0.6"/><line x1="252.5" y1="194.5" x2="459.5" y2="194.5" stroke="#f3f3f3" stroke-width="0.6"/><line x1="252.5" y1="220" x2="459.5" y2="220" stroke="#f3f3f3" stroke-width="0.6"/><line x1="252.5" y1="245.5" x2="459.5" y2="245.5" stroke="#f3f3f3" stroke-width="0.6"/><line x1="252.5" y1="270.9" x2="459.5" y2="270.9" stroke="#f3f3f3" stroke-width="0.6"/><line x1="278.6" y1="147.5" x2="278.6" y2="272.3" stroke="#f3f3f3" stroke-width="0.6"/><line x1="331.6" y1="147.5" x2="331.6" y2="272.3" stroke="#f3f3f3" stroke-width="0.6"/><line x1="384.6" y1="147.5" x2="384.6" y2="272.3" stroke="#f3f3f3" stroke-width="0.6"/><line x1="437.7" y1="147.5" x2="437.7" y2="272.3" stroke="#f3f3f3" stroke-width="0.6"/><line x1="252.5" y1="156.3" x2="459.5" y2="156.3" stroke="#ebebeb" stroke-width="0.8"/><line x1="252.5" y1="181.7" x2="459.5" y2="181.7" stroke="#ebebeb" stroke-width="0.8"/><line x1="252.5" y1="207.1" x2="459.5" y2="207.1" stroke="#ebebeb" stroke-width="0.8"/><line x1="252.5" y1="232.5" x2="459.5" y2="232.5" stroke="#ebebeb" stroke-width="0.8"/><line x1="252.5" y1="258.2" x2="459.5" y2="258.2" stroke="#ebebeb" stroke-width="0.8"/><line x1="305.1" y1="147.5" x2="305.1" y2="272.3" stroke="#ebebeb" stroke-width="0.8"/><line x1="358.1" y1="147.5" x2="358.1" y2="272.3" stroke="#ebebeb" stroke-width="0.8"/><line x1="411.1" y1="147.5" x2="411.1" y2="272.3" stroke="#ebebeb" stroke-width="0.8"/></g>
<g clip-path="url(#cB2)"><g filter="url(#bl)"><g fill="none" stroke-linecap="round" stroke-linejoin="round"><path class="LG w12 d" d="M373.2 201.4c1 .3 4.1 1.3 6.2 1.7c2.1 .4 4.2 .4 6.2 .6c2.1 .2 4 .6 6.1 .5c2.1-.1 5.2-.9 6.2-1.1"/><path class="T w12 d" d="M348.5 208c1.3 .3 5.1 1.2 7.6 1.6c2.5 .4 5 .6 7.6 .8c2.6 .2 5.1 .2 7.7 .2c2.6 0 6.3-.1 7.6-.1"/><path class="T w11 d" d="M391 185.5c1.2 .5 4.7 2.4 7.1 3.2c2.4 .8 4.7 1.3 7.1 1.6c2.4 .3 4.7 0 7.1 0c2.4 0 4.7 .3 7.1-.1c2.4-.4 5.9-1.8 7.1-2.1"/><path class="S w10" d="M352.3 190.1c1.1 .6 4.4 3 6.6 3.8c2.2 .8 4.5 .9 6.7 1c2.2 .1 4.5 .1 6.7-.2c2.2-.3 5.6-1.2 6.7-1.5"/><path class="T w9" d="M367.1 197.8c1.1 .3 4.6 1.3 6.9 1.7c2.3 .4 4.5 .4 6.8 .7c2.3 .3 4.6 1 6.9 1.1c2.3 .1 4.5-.2 6.8-.3c2.3-.1 5.7-.1 6.8-.1"/><path class="T w12 d" d="M398.3 182.3c1.2-.2 4.8-1.2 7.2-1.5c2.4-.3 4.7-.6 7.1-.6c2.4 0 4.8 .2 7.2 .5c2.4 .3 4.8 .9 7.2 1.6c2.4 .7 6 2.2 7.2 2.6"/><path class="G w11 d" d="M366.2 192c1.3 .2 5.3 .8 7.9 1.1c2.6 .2 5.3 .2 7.9 .4c2.6 .2 5.3 .7 7.9 .9c2.6 .2 5.3 0 7.9 .1c2.6 .1 6.6 .6 7.9 .7"/><path class="S w12 d" d="M391.9 206.1c1.3 .5 5.1 2.4 7.7 3.2c2.6 .8 5.1 1.1 7.7 1.4c2.6 .3 5 .5 7.6 .3c2.6-.2 6.4-1.1 7.7-1.3"/><path class="G w10 d" d="M381.8 191.8c1.1-.3 4.5-1.4 6.7-1.6c2.2-.2 4.4-.1 6.7 .2c2.2 .3 4.6 1.1 6.8 1.8c2.2 .7 5.6 1.8 6.7 2.2"/><path class="R w11" d="M403 222.1c1.1 .3 4.5 1 6.7 1.6c2.2 .6 4.4 1.4 6.7 2.1c2.2 .8 4.6 1.8 6.8 2.4c2.2 .6 4.5 .6 6.7 1.1c2.2 .5 4.5 1.4 6.7 1.8c2.2 .4 5.6 .6 6.7 .7"/><path class="G w12 d" d="M429.7 246c1.1-.3 4.5-2.7 6.8-2c2.3 .7 5.7 5 6.8 6"/><path class="PG w13 d" d="M397.3 225.6c1.1 .5 4.4 2.3 6.6 3.2c2.2 .9 4.4 1.3 6.6 2c2.2 .7 4.4 1.8 6.6 2.2c2.2 .4 4.3 .1 6.5 .2c2.2 .1 5.5 .5 6.6 .6"/><path class="T w10" d="M312 236.4c1.1 .1 4.3 .5 6.4 .5c2.1 0 4.2-.3 6.3-.4c2.1-.1 5.2-.2 6.3-.3"/><path class="G w14 d" d="M313.3 230.1c1.3 0 5.3 .2 7.9 .2c2.6 0 5.3-.1 7.9-.3c2.6-.2 5.3-.8 7.9-1.1c2.6-.3 5.3-.4 7.9-.8c2.6-.4 6.5-1.4 7.8-1.7"/><path class="G w14 d" d="M373 210.8c1.2-.2 4.9-1.1 7.4-1.5c2.5-.4 4.9-.7 7.4-1c2.5-.3 4.9-1 7.4-.7c2.5 .3 6.2 2.2 7.4 2.6"/><path class="T w13" d="M323.4 248.4c1.1 .3 4.5 1.5 6.7 1.8c2.2 .3 4.5 0 6.7-.2c2.2-.2 4.4-.3 6.6-.7c2.2-.3 4.5-.8 6.7-1.4c2.2-.7 5.6-2.1 6.7-2.5"/><path class="S w13 d" d="M363.6 241.7c1.1-.2 4.5-.9 6.8-1.2c2.3-.3 4.5-.3 6.8-.5c2.3-.2 4.5-.7 6.8-.9c2.3-.2 4.5-.1 6.8-.2c2.3-.1 4.5-.5 6.8-.2c2.3 .3 5.7 1.8 6.8 2.1"/><path class="G w12 d" d="M419.7 227.1c1.3 .1 5.2 .2 7.8 .6c2.6 .3 5.3 .8 7.9 1.5c2.6 .8 6.6 2.5 7.9 3"/><path class="T w14 d" d="M301.2 238.9c1.1 .3 4.3 1.6 6.5 2.1c2.2 .5 4.3 .8 6.5 .9c2.2 .2 4.3 .3 6.4 0c2.1-.3 4.3-1.1 6.5-1.7c2.2-.6 5.4-1.7 6.5-2"/><path class="LG w15 d" d="M279.6 227.9c1.2 .1 4.6 .4 7 .5c2.4 .1 4.8 .2 7.1 .1c2.3-.1 4.6-.5 7-.6c2.4-.1 4.8 0 7.1 0c2.4 0 5.8 0 7 0"/><path class="T w12 d" d="M351.5 230c1.2-.5 4.9-2.1 7.3-2.8c2.4-.7 4.9-1 7.3-1.3c2.4-.3 4.8-.3 7.2-.3c2.4 0 4.9-.2 7.3 .1c2.4 .2 6.1 1.2 7.3 1.4"/><path class="PT w14 d" d="M404.9 246.7c1.2-.1 5-.9 7.5-.4c2.5 .5 4.9 1.9 7.4 3.3c2.5 1.4 6.2 4.2 7.5 5"/><path class="GO w13 d" d="M346.3 223.8c1.2-.5 4.7-2.5 7-3.2c2.3-.7 4.7-.9 7.1-1.2c2.4-.3 4.8-.6 7.1-.8c2.4-.2 4.6-.3 7-.2c2.4 .1 5.9 .8 7.1 1"/><path class="T w14 d" d="M374.4 254.5c1.2 .4 4.9 1.8 7.4 2.3c2.5 .5 5 .7 7.5 .9c2.5 .2 4.9 .2 7.4 .1c2.5-.1 5-.6 7.5-.8c2.5-.2 6.2-.3 7.4-.4"/><path class="S w13 d" d="M392.3 230.4c1.1 0 4.5-.4 6.8-.2c2.3 .2 4.5 .7 6.8 1.3c2.3 .6 4.6 1.3 6.9 2.2c2.3 .9 4.5 2 6.8 3.3c2.3 1.3 5.8 3.7 6.9 4.4"/><path class="O w11" d="M297.4 218.2c1.1-.1 4.5-.3 6.8-.3c2.3 0 4.6 .2 6.9 .2c2.3 0 4.5-.1 6.8-.1c2.3 0 4.6 .1 6.9 0c2.3-.1 5.7-.6 6.8-.7"/><path class="T w12 d" d="M366.2 238.6c1.2 0 4.7-.2 7.1-.3c2.4-.1 4.7-.3 7.1-.4c2.4-.1 4.7-.1 7.1-.1c2.4 0 4.7 0 7.1-.1c2.4-.1 5.9-.4 7.1-.5"/><path class="T w11" d="M427.7 225.4c1.3 .5 5.2 2.3 7.8 2.8c2.6 .5 6.5 .2 7.8 .3"/><path class="LG w12 d" d="M284.8 230.4c1.3 .4 5.3 2.1 7.9 2.2c2.6 .1 6.6-1.2 7.9-1.5"/><path class="G w14 d" d="M362.1 228.1c1.2-.5 4.9-2.3 7.4-3.1c2.4-.8 4.9-1.1 7.3-1.6c2.4-.5 4.9-1 7.3-1.3c2.4-.3 4.8-.7 7.3-.5c2.4 .2 5 .9 7.4 1.8c2.4 .9 6.1 3.1 7.3 3.7"/><path class="O w13 d" d="M361.2 215.6c1.2-.3 4.6-1.6 7-2.1c2.4-.5 4.8-.6 7.1-1c2.4-.4 4.7-1.3 7-1.6c2.3-.3 4.7-.4 7.1-.3c2.4 .1 4.6 .3 7 .9c2.4 .6 5.9 2.2 7.1 2.6"/><path class="R w11" d="M405.1 231.1c1.1 .2 4.4 1.1 6.6 1.5c2.2 .4 4.4 .4 6.6 .8c2.2 .4 4.4 1.1 6.6 1.5c2.2 .4 4.4 .4 6.6 .8c2.2 .3 5.5 1.1 6.6 1.3"/><path class="T w13 d" d="M384.5 218.7c1.2 .4 5 1.6 7.5 2.2c2.5 .7 5 1.3 7.5 1.7c2.5 .4 5 .6 7.5 .5c2.5-.1 6.2-1 7.4-1.2"/><path class="LG w15 d" d="M368.3 224.3c1.1 .2 4.4 1 6.5 1.2c2.1 .2 4.2 0 6.4 .1c2.1 .1 4.3 .4 6.5 .2c2.2-.2 4.3-1.3 6.4-1.6c2.1-.3 5.4-.4 6.5-.5"/><path class="S w14 d" d="M288.4 230.1c1.3-.4 5.2-1.8 7.8-2.3c2.6-.5 5.3-.7 7.9-.8c2.6-.1 5.2-.3 7.8 .2c2.6 .5 6.5 2.2 7.8 2.7"/><path class="T w12 d" d="M399.5 225.7c.9 .3 3.6 1.3 5.4 2c1.8 .7 3.5 1.6 5.3 2.2c1.8 .6 4.5 1.2 5.4 1.4"/><path class="G w13 d" d="M423.1 232.6c1.1 .7 4.4 3.2 6.7 4.1c2.2 .9 4.6 1.3 6.8 1.2c2.2-.1 5.6-1.6 6.7-1.9"/><path class="R w13" d="M401 211.1c1.3 .1 5.3 .2 7.9 .7c2.6 .5 5.3 1.2 7.9 2.3c2.6 1.1 5.3 2.8 7.9 4.5c2.6 1.7 5.3 3.6 7.9 5.5c2.6 1.9 6.6 5 7.9 6"/><path class="G w14 d" d="M329.3 236.8c1.2-.1 4.7-.6 7.1-.8c2.4-.2 4.7-.3 7.1-.5c2.4-.2 4.7-.3 7.1-.6c2.4-.2 4.7-.5 7.1-.9c2.4-.4 4.7-1 7.1-1.4c2.4-.4 5.9-1.1 7.1-1.3"/><path class="O w13 d" d="M352.1 222.9c1 .1 4.1 .7 6.2 .8c2.1 .1 4.1 .2 6.2-.1c2.1-.3 5.2-1.4 6.2-1.7"/><path class="T w15 d" d="M280.6 228.1c1.3 0 5.3 0 8 0c2.7 0 5.3 0 8-.1c2.7-.1 5.3-.4 8-.4c2.7 0 5.3 .4 8 .5c2.7 .1 6.7-.2 8-.2"/><path class="T w12 d" d="M375.4 223.6c1.2 .2 4.8 1 7.1 1.3c2.4 .3 4.7 .6 7 .8c2.3 .2 4.7 .2 7 .3c2.3 .1 4.7 .4 7 .4c2.3 0 4.7-.2 7-.5c2.3-.3 5.8-.9 7-1.1"/><path class="S w12 d" d="M368.3 223.8c1.2-.1 4.7-.3 7.1-.4c2.4-.1 4.6-.1 7-.2c2.4-.1 4.7-.2 7.1-.4c2.4-.2 5.9-.8 7.1-1"/><path class="PG w15 d" d="M357.2 245.2c.9-.4 3.8-2 5.6-2.4c1.9-.4 3.7-.4 5.5-.1c1.8 .3 4.7 1.6 5.6 1.9"/><path class="R w12 d" d="M385.6 241.8c1.2-.1 4.8-.7 7.2-.8c2.4-.1 4.8 0 7.2 .2c2.4 .2 4.7 .3 7.1 .9c2.4 .6 4.8 1.9 7.2 2.7c2.4 .8 6 1.8 7.2 2.2"/><path class="LG w12 d" d="M378.9 201.8c1.1-.4 4.5-1.7 6.8-2.4c2.3-.7 4.5-1.5 6.8-1.7c2.3-.2 4.5-.2 6.8 .3c2.3 .5 4.5 1.5 6.8 2.7c2.3 1.2 5.7 3.8 6.8 4.5"/><path class="R w12 d" d="M415.7 215.6c1.2 .2 4.6 .4 6.9 .9c2.3 .5 4.6 1.2 6.9 2.3c2.3 1.1 4.6 2.6 6.9 4.1c2.3 1.5 5.8 4.2 6.9 5.1"/><path class="O w13 d" d="M307.5 243.5c1.1 0 4.5 .2 6.8 0c2.3-.2 4.6-.8 6.8-1c2.2-.2 4.4 .1 6.7 0c2.2-.1 4.5-.4 6.8-.8c2.3-.4 4.5-1.2 6.8-1.5c2.3-.3 5.7-.5 6.8-.6"/><path class="PG w14 d" d="M339.3 230.7c1.3-.6 5.2-2.8 7.8-3.5c2.6-.7 5.2-1 7.8-.6c2.6 .4 6.5 2.6 7.8 3.1"/><path class="T w12 d" d="M380.9 232.9c1.3 0 5.1 .2 7.6 .1c2.5-.1 5.1-.6 7.6-.6c2.5 0 5.1 .2 7.6 .7c2.5 .5 6.3 1.8 7.6 2.1"/><path class="O w12" d="M337.9 215.5c1.1 .4 4.2 2.3 6.3 2.7c2.1 .4 4.1 0 6.2-.5c2.1-.5 5.2-2.1 6.3-2.5"/><path class="O w12 d" d="M432 252c.9 .1 3.7 .1 5.6 .8c1.9 .8 4.8 3.1 5.7 3.7"/><path class="T w12 d" d="M364.5 232.5c1.3-.7 5.2-3.3 7.8-4c2.6-.7 5.2-.7 7.8-.3c2.6 .4 6.5 2.3 7.8 2.8"/><path class="LG w13 d" d="M386.1 213.6c1.2 0 4.8-.1 7.3-.1c2.4 0 5-.1 7.4-.1c2.4 0 4.9-.3 7.3-.1c2.4 .2 4.9 .8 7.3 1.2c2.4 .4 4.9 .9 7.3 1.4c2.4 .5 6.1 1.3 7.3 1.6"/><path class="PG w14 d" d="M402.3 214.4c1.2 .7 4.9 3 7.4 4.1c2.5 1.1 4.9 2 7.4 2.6c2.5 .6 4.9 1.1 7.4 1.2c2.5 .2 6.2-.2 7.5-.3"/><path class="G w13 d" d="M332.4 231c1.2 .3 4.9 1.7 7.4 2.1c2.5 .4 4.9 .6 7.4 .5c2.4-.1 4.9-.4 7.3-.9c2.4-.5 6.2-1.8 7.4-2.1"/><path class="S w13 d" d="M358 260.1c1.2 .2 4.9 .7 7.3 1c2.4 .3 4.9 .7 7.3 .8c2.4 .1 4.9 .1 7.3 0c2.4-.1 4.9-.2 7.3-.7c2.4-.5 6.1-2.1 7.3-2.5"/><path class="R w14 d" d="M372.5 228.5c1.3-.3 5.3-1.7 7.9-2.1c2.6-.4 5.2-.3 7.8-.3c2.6 0 6.6 .5 7.9 .6"/><path class="T w13 d" d="M387.7 237.1c1.2 .2 4.9 .7 7.3 1.2c2.4 .5 4.9 1 7.3 1.6c2.4 .6 4.9 1.3 7.3 2.1c2.4 .8 4.8 1.9 7.3 2.7c2.4 .8 5 1.4 7.4 2.1c2.4 .7 6.1 1.8 7.3 2.2"/><path class="R w13" d="M427 233.2c.9 .1 3.7 .1 5.5 .8c1.8 .8 3.6 2.1 5.4 3.7c1.8 1.6 4.5 5 5.4 6"/><path class="R w13 d" d="M371.2 242c1.1-.3 4.3-1.4 6.5-1.8c2.2-.4 4.3-.6 6.4-.8c2.1-.2 4.3-.5 6.5-.4c2.2 .1 4.3 .6 6.5 1.1c2.2 .5 5.4 1.5 6.5 1.8"/><path class="G w13 d" d="M394.3 223.6c1.3-.6 5.1-3.9 7.7-3.5c2.6 .4 6.4 4.9 7.7 5.9"/><path class="G w14 d" d="M281.3 225.4c1.2-.2 4.9-.7 7.4-1c2.5-.3 5-.5 7.5-.6c2.5-.1 4.9-.2 7.4-.2c2.5 0 4.9 0 7.4 .2c2.5 .2 6.2 1 7.5 1.2"/><path class="O w12 d" d="M331.7 226.7c1.1 .1 4.3 .5 6.5 .6c2.2 .1 4.3-.1 6.5-.1c2.2 0 4.3 0 6.5-.1c2.2-.1 4.4-.2 6.6-.4c2.2-.2 5.4-.9 6.5-1.1"/><path class="PG w14 d" d="M352.1 228.5c1.2 0 5 0 7.5 .1c2.5 .1 4.9 .3 7.4 .3c2.5 0 4.9-.3 7.4-.4c2.5-.1 5 .1 7.5 .1c2.5 0 4.9-.1 7.4-.2c2.5-.1 6.2-.2 7.5-.2"/><path class="T w12 d" d="M350.1 205.6c1.2-.3 4.7-1.7 7.1-2.1c2.4-.4 4.7-.2 7.1-.2c2.4 0 5.9 0 7.1 0"/><path class="S w12" d="M339.5 256c1-.6 4.1-3.2 6.1-3.8c2.1-.6 4.1-.1 6.2 .4c2.1 .5 5.1 2.3 6.1 2.7"/><path class="O w13 d" d="M333.2 226.5c1.2 .3 4.9 1.4 7.4 1.8c2.5 .4 4.9 .8 7.4 .9c2.5 .1 4.9-.1 7.4-.3c2.5-.2 4.9-.7 7.4-1.1c2.5-.4 4.9-.8 7.4-1.5c2.5-.7 6.2-2 7.4-2.4"/><path class="S w13 d" d="M292.5 236.9c1.1 .4 4.4 1.6 6.6 2.2c2.2 .6 4.3 1.1 6.5 1.2c2.2 .1 4.4-.4 6.6-.7c2.2-.3 4.3-.8 6.5-1.4c2.2-.6 5.5-1.8 6.6-2.2"/><path class="G w13" d="M421.5 213.7c1.2 .8 4.9 3.5 7.3 4.5c2.4 1 4.8 1.2 7.2 1.4c2.4 .2 6.1-.4 7.3-.5"/><path class="O w14 d" d="M420.6 227.3c1.2 .4 5 1.3 7.5 2.3c2.5 1 5.1 2.3 7.6 3.7c2.5 1.4 6.3 4.1 7.6 4.9"/><path class="T w13 d" d="M385.1 220c1.2-.1 4.9-.5 7.4-.4c2.4 .1 4.9 .5 7.3 .7c2.4 .2 4.9 .4 7.3 .8c2.4 .4 4.9 1.1 7.4 1.6c2.4 .5 4.9 .7 7.3 1.2c2.4 .5 6.2 1.6 7.4 1.9"/><path class="T w14 d" d="M417.8 214.2c1.1 .8 4.3 3.6 6.4 5.1c2.1 1.6 4.2 3.1 6.3 4.2c2.1 1.1 4.3 1.8 6.4 2.3c2.1 .5 5.3 .7 6.4 .8"/><path class="GO w11" d="M287.5 239c1.2 0 4.9 .1 7.3 .1c2.4 0 4.8-.3 7.2-.3c2.4 0 4.9 .1 7.3 .2c2.4 .1 6 .2 7.2 .2"/><path class="R w15 d" d="M391 217.8c1.2-.2 4.6-.7 7-.9c2.4-.2 4.7-.3 7.1-.1c2.4 .2 4.7 .9 7.1 1.3c2.4 .4 4.7 .7 7.1 1.3c2.4 .6 4.7 1.4 7.1 2.4c2.4 1 5.9 2.8 7.1 3.4"/><path class="O w14 d" d="M293.8 238.4c1.2 .2 4.9 .8 7.4 .9c2.5 .1 4.9-.4 7.4-.4c2.5 0 4.9 .6 7.4 .6c2.5 0 4.9-.3 7.4-.5c2.5-.2 5-.3 7.5-.7c2.5-.4 6.2-1.2 7.4-1.5"/><path class="GO w12" d="M417.7 231.8c1.1 .9 4.3 3.9 6.4 5.2c2.1 1.3 4.3 2 6.4 2.7c2.1 .7 4.3 1.5 6.4 1.7c2.1 .2 5.3-.3 6.4-.4"/><path class="O w14 d" d="M368.7 200.7c1.3 .2 5.2 .8 7.8 1c2.6 .2 5.1 .1 7.7 0c2.6-.1 5.2-.6 7.8-.8c2.6-.2 5.1-.3 7.7-.3c2.6 0 6.5 .1 7.8 .1"/><path class="GO w14 d" d="M400.7 236.3c1-.2 4.1-1.1 6.1-1.1c2 0 4 .5 6 1.1c2 .6 4 1.2 6 2.5c2 1.3 5.1 4.6 6.1 5.5"/><path class="GO w12 d" d="M362.8 213.9c1.2 .2 5 1.2 7.5 1.4c2.5 .2 5.1-.3 7.6-.5c2.5-.2 5-.4 7.5-.7c2.5-.3 5.1-.7 7.6-1.1c2.5-.4 6.2-1.2 7.5-1.4"/><path class="O w13 d" d="M293.5 231.7c1.1 .3 4.4 1.2 6.6 1.7c2.2 .5 4.4 1 6.6 1.2c2.2 .2 4.4 .4 6.6 .2c2.2-.2 4.4-.5 6.6-1.1c2.2-.6 5.5-2.2 6.6-2.6"/><path class="R w12 d" d="M287.7 232.2c1.1 .3 4.4 1.3 6.6 1.6c2.2 .3 4.4 .4 6.6 .1c2.2-.3 5.6-1.8 6.7-2.2"/><path class="PG w14 d" d="M364.4 204.4c1.1 .3 4.5 1.6 6.8 2c2.3 .4 4.6 .5 6.8 .6c2.2 .1 4.4 0 6.7-.2c2.2-.2 4.6-.3 6.8-.8c2.2-.5 5.6-1.8 6.7-2.1"/><path class="T w14 d" d="M322.2 234.4c.9-.6 3.8-2.9 5.7-3.6c1.9-.7 3.7-.9 5.6-.5c1.9 .4 4.7 2.3 5.6 2.8"/><path class="PG w13" d="M343.5 227.6c1.1-.4 4.5-2.2 6.8-2.7c2.3-.5 4.5-.3 6.8-.3c2.3 0 5.7 .2 6.8 .3"/><path class="GO w12 d" d="M392.7 228.5c1.2 0 5-.4 7.5-.2c2.5 .2 5 .4 7.5 1.2c2.5 .8 6.2 2.8 7.4 3.3"/><path class="G w13 d" d="M422.7 241.4c1.2 1.1 4.6 5 6.9 6.6c2.3 1.6 4.5 2.6 6.8 3c2.3 .4 5.8-.3 6.9-.4"/><path class="GO w14 d" d="M348.2 246.2c1.1-.4 4.3-2.1 6.5-2.6c2.2-.5 4.3-.3 6.5-.2c2.2 .1 5.3 .6 6.4 .7"/><path class="G w11" d="M287 230c1.1-.1 4.6-.5 6.9-.5c2.3 0 4.6 .6 6.9 .5c2.3-.1 4.6-.8 6.9-.9c2.3-.1 4.6 .6 6.9 .6c2.3 0 4.6-.5 6.9-.5c2.3 0 5.8 .3 6.9 .4"/><path class="S w14" d="M360.4 208.2c1-.5 4.1-2.4 6.2-3c2.1-.6 4.1-.7 6.2-.5c2.1 .2 5.2 1.5 6.2 1.8"/><path class="PT w14 d" d="M400.8 238.3c1.3 .5 5.1 2.4 7.7 3.2c2.6 .8 5.1 1 7.7 1.6c2.6 .6 5.1 1.7 7.7 2c2.6 .3 6.4 .1 7.7 .1"/><path class="G w13 d" d="M349.2 230.8c1.2 .1 4.9 .5 7.3 .7c2.4 .2 4.9 .3 7.3 .3c2.4 0 4.9-.3 7.3-.5c2.4-.2 4.9-.4 7.3-.7c2.4-.3 6-1.1 7.2-1.3"/><path class="G w12 d" d="M323.5 239.8c1.1 .2 4.5 .9 6.7 1.3c2.2 .4 4.4 1 6.6 1.1c2.2 .1 4.5-.1 6.7-.4c2.2-.2 4.5-.7 6.7-1.1c2.2-.4 4.5-.8 6.7-1.5c2.2-.7 5.6-2.2 6.7-2.6"/><path class="T w12 d" d="M360.7 231.6c1.3-.3 5.3-1.2 8-1.6c2.7-.4 5.3-1 7.9-1.1c2.6-.1 6.7 .5 8 .6"/><path class="R w10" d="M394.6 210.6c1.2-.1 4.9-.5 7.4-.6c2.5-.1 4.9 .1 7.4 .1c2.5 0 4.9-.2 7.4 0c2.5 .2 4.9 1.1 7.4 1.4c2.5 .3 6.2 .6 7.4 .7"/><path class="O w13" d="M373.4 220.7c1.3-.5 5.2-2.4 7.7-3c2.6-.6 5-.8 7.6-.5c2.6 .3 6.4 2 7.7 2.4"/><path class="GO w11" d="M400.4 217.5c1.3 .5 5.2 2 7.9 3.2c2.7 1.2 5.3 2.7 8 4.2c2.7 1.5 5.4 3.2 8 4.8c2.6 1.6 6.6 4.2 7.9 5"/><path class="R w15 d" d="M405.7 227.4c1 .5 3.9 2.3 5.8 3.1c1.9 .8 3.9 1.1 5.8 1.4c1.9 .3 4.8 .3 5.8 .4"/><path class="T w14 d" d="M427.5 234.2c1.3-.6 5.3-3.6 7.9-3.4c2.6 .2 6.6 4 7.9 4.8"/><path class="PO w10 d" d="M276.2 227.3c1.5 .5 5.9 2.1 8.8 2.8c2.9 .7 5.9 1.2 8.8 1.6c2.9 .4 7.3 .9 8.8 1.1"/><path class="S w9" d="M268.5 227.9c.7 .6 2.8 2.6 4.4 3.8c1.6 1.2 3.5 2.1 5.5 3.2c2 1.1 4.4 2.6 6.6 3.3c2.2 .7 4.4 .7 6.6 1.1c2.2 .4 4.4 .8 6.6 1.1c2.2 .3 5.5 .6 6.6 .7"/><path class="T w10 d" d="M302.6 239.3c1.8 .2 7.3 .7 11 1.1c3.7 .4 7.3 1 11 1.1c3.7 .1 7.4-.2 11-.4c3.6-.2 7.5-.5 10.9-.7c3.4-.2 7.9-.5 9.5-.6"/><path class="LG w10 d" d="M307 242.6c1.8 .1 7.3 .5 11 .7c3.7 .2 7.4 .2 11 .4c3.6 .2 7.2 .5 10.9 .5c3.6 0 9.2-.4 11-.5"/><path class="G w10 d" d="M318 237.1c1.8-.1 7.4-.2 11-.4c3.6-.2 7.2-.5 10.9-.7c3.6-.2 8.3-.4 11-.6c2.7-.2 4.2-.4 5.1-.5"/><path class="LG w10 d" d="M282.8 242c.7 .7 2.8 2.8 4.4 3.9c1.6 1.1 3.5 2 5.5 2.7c2 .7 5.5 1.4 6.6 1.7"/><path class="GO w11 d" d="M298.2 252.1c1.8 .1 7.3 .4 11 .4c3.7 0 7.3-.2 11-.4c3.7-.2 9.2-.6 11-.7"/><path class="T w10 d" d="M292.7 252.5l9.9 1.1"/><path class="G w10 d" d="M329 249.2c1.8-.1 7.2-.4 10.9-.6c3.6-.2 8.3-.3 11-.5c2.7-.2 4.2-.3 5.1-.4"/><path class="O w10 d" d="M335.6 236c1.4 .1 5.8 .5 8.7 .7c2.9 .2 7.3 .3 8.8 .4"/><path class="PT w10 d" d="M322.4 245.9c1.8 .2 7.4 .8 11 1.1c3.6 .3 7.1 .7 10.9 .7c3.8 0 9.8-.6 11.7-.7"/><path class="G w10 d" d="M330.1 199.8c.9-.2 3.5-.7 5.5-1.1c2-.4 4.3-.8 6.5-1.1c2.2-.3 4.3-.6 6.6-.5c2.3 .1 6.1 .8 7.3 .9"/><path class="T w10 d" d="M347.6 192.7l8.4 .5"/><path class="T w10 d" d="M339.9 209.7c1.5-.1 6.1-.5 8.8-.7c2.7-.2 6.1-.3 7.3-.4"/><path class="LG w10 d" d="M342.1 214.1l13.9-1.1"/><path class="R w11 d" d="M288.3 218.5c.1 .7-.7 3.4 .6 4.4c1.3 1 4.5 1.2 7.1 1.5c2.6 .2 5.9-.1 8.8 0c2.9 .1 7.3 .6 8.8 .7"/><path class="T w10" d="M342.1 204.6c1.1-.4 4.3-1.8 6.6-2.6c2.3-.8 6.1-1.8 7.3-2.2"/><path class="S w10" d="M322.4 212.5c1.5 .3 5.9 .8 8.8 1.6c2.9 .8 5.8 2.4 8.7 3.3c2.9 .9 6.1 1.7 8.8 2.2c2.7 .5 6.1 .9 7.3 1.1"/><path class="G w10" d="M294.9 216.3c1.3 .4 5.3 1.3 7.7 2.2c2.4 .9 4.4 2.4 6.6 3.3c2.2 .9 4.4 1.8 6.6 2.2c2.2 .4 5.5 .3 6.6 .4"/><path class="T w10" d="M309.2 224c1.1 .1 4.4 .2 6.6 .4c2.2 .2 4 .7 6.6 .7c2.6 0 7.3-.6 8.8-.7"/><path class="O w17" d="M297.1 229.5c1.3 .2 5.3 1 7.7 1.5c2.4 .5 4.4 1 6.6 1.3c2.2 .3 4 .6 6.6 .5c2.6-.1 6.6-.7 8.8-1.1c2.2-.4 3.7-.9 4.4-1.1"/><path class="G w10" d="M289.4 226.2c1.1 .4 4.4 1.9 6.6 2.6c2.2 .7 5.5 1.5 6.6 1.8"/><path class="GO w16" d="M296 253.6c1.5 .2 5.5 .9 8.8 1.1c3.3 .2 7.3 .2 11 0c3.7-.2 7.3-.7 11-1.1c3.7-.4 7.4-1 11-1.5c3.6-.5 7.9-1.3 10.9-1.8c3-.5 6.1-.9 7.3-1.1"/><path class="G w12" d="M318 261.3c1.8 .2 7.4 .8 11 1.1c3.6 .3 7.2 .6 10.9 .7c3.6 .1 8.3-.1 11 0c2.7 .1 4.2 .3 5.1 .4"/><path class="T w11" d="M326.8 258c1.5 .1 5.9 .7 8.8 .7c2.9 0 5.3-.4 8.7-.7c3.4-.3 9.8-.9 11.7-1.1"/><path class="T w10 d" d="M376.9 165.7c.9-1.3 3.7-5.6 5.5-7.7c1.8-2.1 3.9-4.6 5.5-4.8c1.6-.2 2.9 2.2 4.4 3.7c1.5 1.5 2.9 3.8 4.4 5.5c1.5 1.7 2.9 3.3 4.4 4.4c1.5 1.1 3.7 1.8 4.4 2.2"/><path class="GO w11 d" d="M364.8 187.7c1.1-.9 4.4-4.6 6.6-5.5c2.2-.9 4.4 0 6.6 0c2.2 0 5.5 0 6.6 0"/><path class="GO w14" d="M389 183.3c1.1-.3 4.4-1.1 6.6-1.6c2.2-.6 4.8-1 6.6-1.7c1.8-.7 3.3-2.2 3.9-2.7"/><path class="G w11" d="M356 193.2c1.5-.2 5.9-.7 8.8-1.1c2.9-.4 5.9-.7 8.8-1.1c2.9-.4 5.9-.7 8.8-1.1c2.9-.4 6.6-.7 8.8-1.1c2.2-.4 3.7-.9 4.4-1.1"/><path class="S w11" d="M359.3 194.3c1.3-.6 4.9-2.2 7.7-3.3c2.8-1.1 6.2-2.6 8.8-3.3c2.6-.7 5.5-.9 6.6-1.1"/><path class="T w10" d="M356 197.6c1.5-.2 5.9-.7 8.8-1.1c2.9-.4 5.9-.6 8.8-1.1c2.9-.5 5.9-1.2 8.8-1.8c2.9-.6 7.3-1.2 8.8-1.5"/><path class="G w10" d="M408.8 194.3c.4-1.1 1.1-4.8 2.2-6.6c1.1-1.8 2.9-3.8 4.4-4.4c1.5-.6 2.6 1.1 4.4 1.1c1.8 0 4.6-.5 6.6-1.1c2-.6 4.6-1.8 5.5-2.2"/><path class="O w14" d="M389 200.9c1.1-.5 4-2.2 6.6-2.9c2.6-.7 5.9-1.1 8.8-1.5c2.9-.4 6.4-.3 8.8-.7c2.4-.4 4.6-1.2 5.5-1.5"/><path class="O w17" d="M367 205.3c.7-.7 2.9-3.6 4.4-4.4c1.5-.8 2.9-.9 4.4-.7c1.5 .2 2.9 1.3 4.4 1.8c1.5 .5 2.6 .7 4.4 1.1c1.8 .4 4.4 .7 6.6 1.1c2.2 .4 4.8 1.2 6.6 1.1c1.8-.1 3.7-1.3 4.4-1.6"/><path class="R w12" d="M382.4 205.9c1.1-.2 4.4-.8 6.6-1.3c2.2-.5 4.4-1.1 6.6-1.5c2.2-.4 5.5-.9 6.6-1.1"/><path class="S w10" d="M358.2 205.3c.7-.4 2.6-1.8 4.4-2.2c1.8-.4 5.5 0 6.6 0"/><path class="O w14" d="M374.7 211.9c.4 .7 1.6 3.3 2.2 4.4c.6 1.1 .9 1.8 1.1 2.2"/><path class="T w10 d" d="M356 209.7c2.2 .2 8.8 1.1 13.2 1.1c4.4 0 8.8-.8 13.2-1.1c4.4-.3 8.8-.7 13.2-.7c4.4 0 8.8 .6 13.2 .7c4.4 .1 9.3 .1 13.2 0c3.9-.1 8.2-.6 9.9-.7"/><path class="O w14" d="M373.6 210.8c1.8 .4 7.7 2 11 2.2c3.3 .2 6-.4 8.8-1.1c2.8-.7 6.4-2.8 7.7-3.3"/><path class="G w10 d" d="M356 215.2c2.2 .2 8.8 .7 13.2 1.1c4.4 .4 8.8 1 13.2 1.1c4.4 .1 8.8-.3 13.2-.5c4.4-.2 8.8-.4 13.2-.6c4.4-.2 9.3-.5 13.2-.7c3.9-.2 8.2-.3 9.9-.4"/><path class="T w10" d="M360.4 219.1c2.2-.1 8.8-.4 13.2-.6c4.4-.2 11-.6 13.2-.7"/><path class="G w10" d="M400 218.5c1.8-.2 7.3-.8 11-1.1c3.7-.3 7.7-.2 11-.5c3.3-.3 7.3-1.1 8.8-1.3"/><path class="R w12" d="M356 222.9c1.8-.1 7.3-.4 11-.7c3.7-.3 7.7-.5 11-.9c3.3-.4 7.3-1.4 8.8-1.7"/><path class="O w13" d="M367 225.1c1.8 0 7.3 .2 11 0c3.7-.2 7.7-1 11-1.1c3.3-.1 5.9 0 8.8 .4c2.9 .4 7.3 1.8 8.8 2.2"/><path class="S w10" d="M393.4 229.5c1.5-.1 5.9-.5 8.8-.7c2.9-.2 6.2-.6 8.8-.4c2.6 .2 5.5 1.4 6.6 1.7"/><path class="G w10" d="M408.8 222.9c.7-.2 2.9-1.3 4.4-1.1c1.5 .2 2.9 1.1 4.4 2.2c1.5 1.1 2.9 2.9 4.4 4.4c1.5 1.5 3.7 3.7 4.4 4.4"/><path class="GO w13" d="M356 231.7c1.5 .3 5.9 1.6 8.8 2.1c2.9 .5 5.9 1.1 8.8 1.1c2.9 0 6-.4 8.8-1.1c2.8-.7 6.4-2.7 7.7-3.2"/><path class="GO w14" d="M393.4 236c1.5-.2 5.9-1.1 8.8-1.1c2.9 0 6.2 .4 8.8 1.1c2.6 .7 4.8 2.6 6.6 3.3c1.8 .7 3.7 .9 4.4 1.1"/><path class="G w12" d="M424.2 239.3c1.1-.4 4.4-2.2 6.6-2.2c2.2 0 4.4 1.3 6.6 2.2c2.2 .9 5.4 2.8 6.5 3.3"/><path class="T w10 d" d="M356 240.4c2.2 0 8.8 .1 13.2 0c4.4-.1 9.5-.4 13.2-.6c3.7-.2 7.3-.4 8.8-.5"/><path class="LG w10 d" d="M356 243.7c2.2 0 8.8 .1 13.2 0c4.4-.1 11-.3 13.2-.4"/><path class="O w17" d="M376.9 247c1.6 .4 6.8 1.6 9.9 2.2c3.1 .6 5.9 .9 8.8 1.1c2.9 .2 5.9 .2 8.8 0c2.9-.2 5.9-.8 8.8-1.1c2.9-.3 5.9-.4 8.8-.6c2.9-.2 6.8-.5 8.8-.5c2 0 2.8 .4 3.3 .5"/><path class="O w14" d="M389 252.5c1.8 .2 7.7 .7 11 1.1c3.3 .4 5.9 .7 8.8 1.1c2.9 .4 5.9 1 8.8 1.1c2.9 .1 7.3-.5 8.8-.6"/><path class="O w12" d="M391.2 255.8c1.5-.1 5.9-.4 8.8-.6c2.9-.2 7.3-.7 8.8-.9"/><path class="T w12" d="M400 259.1c1.5 .2 5.9 1.1 8.8 1.1c2.9 0 5.9-.7 8.8-1.1c2.9-.4 5.5-.7 8.8-1.1c3.3-.4 9.2-.9 11-1.1"/><path class="G w12" d="M406.6 250.3c1.5 .4 5.9 1.5 8.8 2.2c2.9 .7 5.9 1.4 8.8 1.8c2.9 .4 7.3 .7 8.8 .9"/><path class="GO w16" d="M356 261.3c1.5 .2 5.9 .8 8.8 1.1c2.9 .3 5.9 .5 8.8 .7c2.9 .2 5.9 .3 8.8 .4c2.9 .1 7.3 0 8.8 0"/><path class="GO w12" d="M356 258c1.5 .2 5.9 .7 8.8 1.1c2.9 .4 5.9 .8 8.8 1.1c2.9 .3 7.3 .6 8.8 .7"/><path class="G w11" d="M356 249.2c2.2 .2 8.8 .6 13.2 1.1c4.4 .5 8.8 1.3 13.2 1.8c4.4 .4 11 .8 13.2 .9"/><path class="T w11" d="M356 254.7c2.2 .2 8.8 .7 13.2 1.1c4.4 .4 8.8 .7 13.2 1.1c4.4 .4 8.8 .8 13.2 1.1c4.4 .3 11 .6 13.2 .7"/><path class="S w12" d="M422 252.5c1.5 .3 6.2 1.2 8.8 1.8c2.6 .6 5.5 1.2 6.6 1.5"/><path class="PT w10 d" d="M413.2 218.5c1.5 .2 5.9 .7 8.8 1.1c2.9 .4 7.3 .9 8.8 1.1"/><path class="T w14" d="M338.5 176.7c.5-.1 2.3-.2 3.2-.6c.9-.4 1.6-1.4 2.3-1.8c.7-.4 1-.5 1.8-.5c.8 0 2 .1 2.9 .5c.9 .4 1.4 1.2 2.3 2.1c.9 .9 2 2.4 3 3.2c1 .8 1.9 1.4 2.9 1.8c1 .4 1.9 .8 2.9 .8c1 0 2.1-.7 2.9-.8c.8-.1 1.5 .2 1.8 .2"/></g></g><path d="M262.6 228.7c2.3 .5 8.9 2.3 13.7 3.1c4.8 .8 10.1 1.3 15.2 1.7c5.1 .4 10.6 .6 15.2 .6c4.6 0 8.1-.2 12.1-.6c4-.4 8-1.2 12.1-1.9c4.1-.7 8.2-1.4 12.2-2.1c4.1-.7 8-1.5 12.1-2.1c4.1-.6 8.1-1 12.2-1.5c4.1-.5 7.6-1 12.1-1.6c4.6-.6 11.1-1.8 15.2-1.8c4.1 0 6.1 .7 9.1 1.8c3 1.1 6.1 3.2 9.1 5c3 1.8 6.1 3.6 9.1 5.6c3.1 2 6.1 4.5 9.2 6.7c3.1 2.2 6.1 4.5 9.1 6.6c3 2.1 7.6 4.8 9.1 5.7L449.4 263.5c-1.5-1.4-6.1-5.4-9.1-8.2c-3-2.8-6.1-5.8-9.1-8.6c-3.1-2.8-6.1-5.9-9.2-8.4c-3.1-2.5-6.1-4.6-9.1-6.6c-3-2-6.1-4.2-9.1-5.4c-3-1.2-5.1-1.8-9.1-1.8c-4.1 0-10.6 1.2-15.2 1.8c-4.6 .6-8.1 1.1-12.1 1.6c-4.1 .5-8.1 .9-12.2 1.5c-4.1 .6-8 1.4-12.1 2.1c-4.1 .7-8.2 1.4-12.2 2.1c-4.1 .7-8.1 1.5-12.1 1.9c-4 .4-7.6 .4-12.1 .6c-4.6 .2-10.1 .3-15.2 .5c-5.1 .2-10.4 .4-15.2 .5c-4.8 .1-11.4 0-13.7 0Z" fill="#9a9a9a" fill-opacity="0.45"/><path d="M262.6 232.9c2.3 .3 8.9 1.2 13.7 1.6c4.8 .4 10.1 .5 15.2 .6c5.1 .1 10.6 .1 15.2 0c4.6-.1 8.1-.2 12.1-.6c4-.4 8-1.2 12.1-1.9c4.1-.7 8.2-1.4 12.2-2.1c4.1-.7 8-1.5 12.1-2.1c4.1-.6 8.1-1 12.2-1.5c4.1-.5 7.6-1 12.1-1.6c4.6-.6 11.1-1.8 15.2-1.8c4.1 0 6.1 .6 9.1 1.8c3 1.2 6.1 3.3 9.1 5.2c3 1.9 6.1 3.8 9.1 6.1c3.1 2.3 6.1 5.1 9.2 7.6c3.1 2.5 6.1 5.2 9.1 7.6c3 2.4 7.6 5.8 9.1 6.9" fill="none" stroke="#111" stroke-width="1.35"/></g>
<clipPath id="cB2"><rect x="252.5" y="147.5" width="207" height="124.8"/></clipPath>
<rect x="252.5" y="147.5" width="207" height="124.8" fill="none" stroke="#bfbfbf" stroke-width="1"/>
<g font-family="Liberation Sans, sans-serif" font-size="3.6" fill="#3a3a3a"><line x1="251.3" y1="156.3" x2="252.5" y2="156.3" stroke="#444" stroke-width="0.7"/><text x="250.9" y="157.5" text-anchor="end">125</text><line x1="251.3" y1="181.7" x2="252.5" y2="181.7" stroke="#444" stroke-width="0.7"/><text x="250.9" y="182.9" text-anchor="end">100</text><line x1="251.3" y1="207.1" x2="252.5" y2="207.1" stroke="#444" stroke-width="0.7"/><text x="250.9" y="208.3" text-anchor="end">75</text><line x1="251.3" y1="232.5" x2="252.5" y2="232.5" stroke="#444" stroke-width="0.7"/><text x="250.9" y="233.7" text-anchor="end">50</text><line x1="251.3" y1="258.2" x2="252.5" y2="258.2" stroke="#444" stroke-width="0.7"/><text x="250.9" y="259.4" text-anchor="end">25</text><line x1="305.1" y1="272.3" x2="305.1" y2="273.5" stroke="#444" stroke-width="0.7"/><text x="305.1" y="276.9" text-anchor="middle">0.25</text><line x1="358.1" y1="272.3" x2="358.1" y2="273.5" stroke="#444" stroke-width="0.7"/><text x="358.1" y="276.9" text-anchor="middle">0.50</text><line x1="411.1" y1="272.3" x2="411.1" y2="273.5" stroke="#444" stroke-width="0.7"/><text x="411.1" y="276.9" text-anchor="middle">0.75</text></g>
<g><line x1="477" y1="166.1" x2="684.5" y2="166.1" stroke="#f3f3f3" stroke-width="0.6"/><line x1="477" y1="195.1" x2="684.5" y2="195.1" stroke="#f3f3f3" stroke-width="0.6"/><line x1="477" y1="224.1" x2="684.5" y2="224.1" stroke="#f3f3f3" stroke-width="0.6"/><line x1="477" y1="253.1" x2="684.5" y2="253.1" stroke="#f3f3f3" stroke-width="0.6"/><line x1="503.2" y1="147.5" x2="503.2" y2="272.3" stroke="#f3f3f3" stroke-width="0.6"/><line x1="556.3" y1="147.5" x2="556.3" y2="272.3" stroke="#f3f3f3" stroke-width="0.6"/><line x1="609.5" y1="147.5" x2="609.5" y2="272.3" stroke="#f3f3f3" stroke-width="0.6"/><line x1="662.6" y1="147.5" x2="662.6" y2="272.3" stroke="#f3f3f3" stroke-width="0.6"/><line x1="477" y1="151.6" x2="684.5" y2="151.6" stroke="#ebebeb" stroke-width="0.8"/><line x1="477" y1="180.8" x2="684.5" y2="180.8" stroke="#ebebeb" stroke-width="0.8"/><line x1="477" y1="209.7" x2="684.5" y2="209.7" stroke="#ebebeb" stroke-width="0.8"/><line x1="477" y1="238.9" x2="684.5" y2="238.9" stroke="#ebebeb" stroke-width="0.8"/><line x1="477" y1="267.6" x2="684.5" y2="267.6" stroke="#ebebeb" stroke-width="0.8"/><line x1="529.7" y1="147.5" x2="529.7" y2="272.3" stroke="#ebebeb" stroke-width="0.8"/><line x1="582.9" y1="147.5" x2="582.9" y2="272.3" stroke="#ebebeb" stroke-width="0.8"/><line x1="636" y1="147.5" x2="636" y2="272.3" stroke="#ebebeb" stroke-width="0.8"/></g>
<g clip-path="url(#cB3)"><g filter="url(#bl)"><g fill="none" stroke-linecap="round" stroke-linejoin="round"><path class="T w12 d" d="M593 204.8c1.1 .5 4.4 2 6.6 2.9c2.2 .9 4.4 1.8 6.6 2.4c2.2 .6 4.4 .8 6.6 1c2.2 .2 5.5-.1 6.6-.1"/><path class="G w10 d" d="M578.2 213.4c1.3 .2 5.2 .5 7.8 .9c2.6 .4 5.1 .9 7.7 1.3c2.6 .4 5.1 .4 7.7 1c2.6 .6 5.2 1.6 7.8 2.4c2.6 .8 5.1 1.5 7.7 2.3c2.6 .8 5.1 1.3 7.7 2.3c2.6 1 6.4 2.9 7.7 3.5"/><path class="PG w10 d" d="M607.8 190.8c1.3 0 5.3-.2 7.9 0c2.6 .2 5.2 .3 7.8 1c2.6 .7 5.3 2 7.9 3.4c2.6 1.3 6.5 3.9 7.8 4.7"/><path class="LG w12 d" d="M634.8 213.8c1 0 4.1-.4 6.1-.2c2 .2 4.1 .6 6.1 1.6c2 1 5.1 3.8 6.1 4.5"/><path class="S w12 d" d="M592.8 217.4c1.1 0 4.6-.2 6.8 .2c2.2 .4 4.4 1.4 6.7 2.4c2.2 1 5.7 3 6.8 3.6"/><path class="PG w11 d" d="M569.7 212.1c1.1 .6 4.3 2.6 6.5 3.6c2.2 1 4.3 2.1 6.5 2.6c2.2 .5 4.3 .6 6.5 .5c2.2-.1 5.4-1.1 6.5-1.3"/><path class="G w12 d" d="M588.9 215.6c1.1 .1 4.6 .5 6.8 .8c2.2 .3 4.5 .6 6.7 1c2.2 .4 4.5 1 6.7 1.7c2.2 .7 4.5 1.5 6.8 2.2c2.2 .7 5.6 1.6 6.7 1.9"/><path class="G w10 d" d="M580.2 215.4c1.2 .5 4.7 2.3 7 3.2c2.3 .9 4.7 1.3 7 2.1c2.3 .8 5.8 2.2 7 2.6"/><path class="S w12 d" d="M587 196.2c1.2 .2 4.7 .8 7 1.3c2.3 .5 4.6 .9 6.9 1.7c2.3 .8 5.8 2.5 7 3"/><path class="PT w12 d" d="M583.8 217.6c1.1 .1 4.6 .2 6.9 .5c2.3 .2 4.5 .5 6.8 1c2.3 .5 4.6 1 6.9 1.9c2.3 .9 5.7 3.2 6.8 3.8"/><path class="PT w10" d="M619.6 182.2c1.1 0 4.4-.3 6.6 0c2.2 .3 4.3 1 6.5 1.7c2.2 .7 4.4 1.6 6.6 2.5c2.2 .9 4.3 1.7 6.5 2.8c2.2 1.1 5.5 3.2 6.6 3.9"/><path class="LG w10 d" d="M574.7 210.5c1.2 .2 5 .8 7.5 1.4c2.5 .6 5 1.3 7.5 2.3c2.5 1 6.2 3.1 7.5 3.7"/><path class="S w12 d" d="M551.6 203.2c1.2 .3 4.8 1.1 7.1 1.6c2.4 .5 4.6 1 7 1.6c2.4 .6 4.7 1.2 7.1 1.9c2.4 .7 4.8 1.3 7.1 2.1c2.4 .8 4.6 1.9 7 2.6c2.4 .7 5.9 1.3 7.1 1.6"/><path class="G w10 d" d="M581.6 201.6c1.2 .5 5 2.3 7.5 3.2c2.5 .9 4.9 1.4 7.4 2.3c2.5 .8 4.9 2.1 7.4 2.8c2.5 .8 5 1.1 7.5 1.7c2.5 .6 4.9 1.2 7.4 1.7c2.5 .5 4.9 1 7.4 1.3c2.5 .2 6.2 .2 7.5 .2"/><path class="PG w11 d" d="M570.3 215.2c1.2 .7 5 3.1 7.5 4.2c2.5 1.1 4.9 2 7.4 2.5c2.5 .5 4.9 .4 7.4 .5c2.5 .1 6.2 .2 7.5 .2"/><path class="PG w11 d" d="M623 194.3c1.3 .1 5.1 .4 7.6 .8c2.5 .4 5 .9 7.5 1.7c2.5 .8 5 1.8 7.5 3.3c2.5 1.5 6.2 4.6 7.5 5.5"/><path class="S w12 d" d="M581.5 221c1.2 .3 4.7 1.3 7.1 2c2.4 .7 4.8 1.6 7.2 2.3c2.4 .7 4.7 1.2 7.1 2c2.4 .8 4.7 2.1 7.1 3.1c2.4 1 4.8 2.2 7.2 3.2c2.4 1 5.9 2.6 7.1 3.1"/><path class="T w10 d" d="M607.8 188.6c1.2 .1 4.7 .3 7.1 .4c2.4 .1 4.8-.1 7.1 .2c2.4 .3 4.6 .9 7 1.5c2.4 .6 4.7 1.3 7.1 2.1c2.4 .8 4.8 1.7 7.1 2.8c2.4 1.1 5.8 3 7 3.6"/><path class="LG w12 d" d="M569.1 206.5c1.3 .7 5.1 3.3 7.6 4.4c2.5 1.1 5.1 1.7 7.7 2.1c2.5 .4 6.3 .4 7.6 .5"/><path class="PT w12 d" d="M608.6 211.8c1.3 .7 5.1 3 7.6 4.4c2.5 1.4 5 2.9 7.6 3.9c2.5 1 5.2 1.3 7.7 2c2.5 .7 5.1 1.7 7.6 2.2c2.5 .6 6.3 .9 7.6 1.1"/><path class="LG w9" d="M590.1 216.3c1-.1 4-.5 6-.3c2 .2 4 1.1 6 1.7c2 .6 4 1.2 6 2.1c2 .9 5.1 2.6 6.1 3.1"/><path class="T w12 d" d="M579.3 209.8c1.2-.1 4.9-.7 7.3-.6c2.5 .1 4.9 .8 7.4 1.3c2.5 .6 4.9 1.1 7.3 2c2.4 .9 6.1 2.9 7.3 3.5"/><path class="G w10" d="M626.7 202c1.1-.1 4.4-.6 6.6-.6c2.2 0 4.4-.1 6.6 .4c2.2 .5 4.4 1.4 6.6 2.4c2.2 1 5.5 3.2 6.6 3.8"/><path class="S w12 d" d="M562.6 201.7c1.1 0 4.5-.1 6.8-.2c2.3-.1 4.6-.3 6.8-.1c2.2 .2 4.4 .9 6.7 1.4c2.2 .5 4.6 1 6.8 1.8c2.2 .8 4.4 1.8 6.7 2.7c2.2 .9 5.7 2.3 6.8 2.8"/><path class="LG w12 d" d="M580.3 204.2c1.2 .6 4.7 2.5 7.1 3.6c2.4 1.1 4.8 1.9 7.2 2.9c2.4 1 4.7 2.4 7.1 3.1c2.4 .7 4.7 .8 7.1 1.3c2.4 .5 4.8 1.4 7.2 2c2.4 .6 5.9 1.2 7.1 1.5"/><path class="G w14 d" d="M553.4 251.2c1.1 .1 4.6 .5 6.9 .7c2.3 .2 4.5 .3 6.8 .4c2.3 .1 4.6 .2 6.9 .1c2.3-.2 4.6-.8 6.9-1c2.3-.2 4.6-.1 6.9-.3c2.3-.2 5.8-1 6.9-1.2"/><path class="G w12 d" d="M575.1 247.9c1.3-.2 5.3-1.2 8-1.5c2.7-.3 5.3-.5 8-.5c2.7 0 5.4 .3 8 .6c2.6 .3 5.2 .5 7.9 1c2.6 .5 6.7 1.8 8 2.2"/><path class="GO w12 d" d="M614.3 256.1c1.3 .4 5.3 1.5 7.9 2.5c2.6 1 5.2 2.2 7.9 3.5c2.6 1.3 5.4 3 8 4.3c2.6 1.3 5.2 2.5 7.9 3.7c2.6 1.2 6.7 2.7 8 3.3"/><path class="G w12 d" d="M620.5 248.8c1.1 .1 4.6 0 6.9 .4c2.3 .4 4.7 1.4 7 2.1c2.3 .7 4.6 1.2 6.9 2c2.3 .8 4.6 1.9 6.9 2.8c2.3 .9 4.6 1.5 6.9 2.4c2.3 .9 5.8 2.2 6.9 2.7"/><path class="R w12" d="M511.7 241.8c1.2-.1 4.6-.5 6.9-.7c2.3-.2 4.6-.4 6.9-.6c2.3-.2 5.8-.4 6.9-.5"/><path class="T w12 d" d="M603.5 237.9c1 .4 4.1 1.7 6.1 2.3c2 .6 4 1.3 6 1.5c2 .2 4.1-.3 6.1-.6c2-.3 5-1.2 6-1.4"/><path class="GO w14 d" d="M536.9 226.5c1.1 .3 4.6 1.7 6.9 2.1c2.3 .4 4.6 .4 6.9 .5c2.3 .1 4.6 .5 6.9 .3c2.3-.2 4.6-1 6.9-1.6c2.3-.6 4.6-1.2 6.9-2c2.3-.8 5.8-2.4 6.9-2.9"/><path class="PG w13 d" d="M646.3 232.3c1.2 .7 4.9 3.3 7.3 4.4c2.5 1.1 4.9 1.7 7.4 2.3c2.5 .6 6.1 1 7.3 1.2"/><path class="T w15 d" d="M602.6 240.8c1.1-.2 4.6-1.2 6.9-1.3c2.3-.1 4.6 .1 6.9 .5c2.3 .4 5.8 1.8 6.9 2.2"/><path class="G w12 d" d="M516.7 237.9c1.3 .2 5.4 1.6 8 1.4c2.6-.2 6.6-2.1 7.9-2.5"/><path class="O w14 d" d="M546.8 228.8c1.3-.4 5.3-2 7.9-2.7c2.6-.7 5.4-.9 8-1.3c2.6-.4 5.3-.9 7.9-1c2.6-.1 5.3 .1 7.9 .4c2.6 .3 6.6 1.3 7.9 1.6"/><path class="T w14 d" d="M576.8 232.8c1.1 .1 4.5 .4 6.7 .7c2.2 .3 4.5 .6 6.7 .9c2.2 .3 4.5 .6 6.7 .9c2.2 .3 4.4 .9 6.6 1c2.2 .1 4.5-.2 6.7-.3c2.2-.1 5.6-.4 6.7-.5"/><path class="T w12 d" d="M584.9 249.8c1 .1 4 .4 6 .5c2 .1 4-.3 6-.1c2 .2 5 .9 6 1.1"/><path class="O w13 d" d="M641.5 248.1c1.1 .1 4.5 .3 6.7 .7c2.2 .4 4.5 1.3 6.7 1.8c2.2 .5 4.5 .7 6.7 1.4c2.2 .7 5.6 2.3 6.7 2.8"/><path class="O w14 d" d="M551.9 234.2c1 .2 4.1 1.2 6.2 1.5c2.1 .3 4.1 .6 6.2 .5c2-.1 4-.4 6.1-.9c2.1-.5 5.2-1.8 6.2-2.2"/><path class="O w12" d="M631.1 241c1.2 .5 4.9 2 7.4 3.1c2.5 1.1 5 2.4 7.5 3.3c2.5 .9 4.9 1.7 7.4 2.3c2.5 .6 5 1.2 7.5 1.4c2.5 .2 6.2-.1 7.4-.1"/><path class="T w13 d" d="M640.7 242.6c1.1 .7 4.6 2.8 6.9 3.9c2.3 1.2 4.6 2.1 6.9 3c2.3 .9 4.6 1.9 6.9 2.2c2.3 .3 5.8-.3 6.9-.4"/><path class="G w13 d" d="M554.3 235.1c1 0 4.1-.1 6.1-.1c2 0 4 .1 6 .2c2 .1 4 .2 6 .1c2-.1 5-.4 6-.5"/><path class="O w12 d" d="M569.2 233.3c1.1-.1 4.6-.3 6.9-.5c2.3-.2 4.6-.4 6.9-.4c2.3 0 4.7 .5 7 .6c2.3 .1 4.6-.2 6.9 0c2.3 .2 4.6 .9 6.9 1.1c2.3 .2 5.8-.1 7-.1"/><path class="PT w15 d" d="M523.1 230.2c1-.2 4.2-1 6.3-1.3c2.1-.3 4.2-.5 6.3-.4c2.1 .1 5.2 .6 6.3 .7"/><path class="T w15 d" d="M551.9 234.5c1.2-.1 4.8-.2 7.2-.3c2.4-.2 4.7-.3 7.1-.6c2.4-.3 4.7-.8 7.1-1.1c2.4-.3 4.8-.5 7.2-.5c2.4 0 5.9 .2 7.1 .3"/><path class="GO w15 d" d="M518.3 235.1c1.2 .2 4.9 .8 7.4 1c2.5 .2 4.9 .4 7.4 .2c2.5-.2 4.9-.6 7.4-1.3c2.5-.7 6.2-2.3 7.4-2.8"/><path class="G w14" d="M590.4 220.4c1 .6 3.9 2.9 5.8 3.6c1.9 .7 3.9 .9 5.8 .7c1.9-.2 4.8-1.8 5.8-2.1"/><path class="G w11" d="M594.4 217.3c1.1 .2 4.3 .9 6.4 1.3c2.1 .4 4.3 .8 6.4 .9c2.1 .1 4.2-.6 6.4-.5c2.1 .1 4.4 .7 6.5 .8c2.1 .1 5.3-.2 6.4-.3"/><path class="S w14 d" d="M608.3 225.2c1-.2 4.1-1.2 6.2-1.4c2.1-.2 4.2-.1 6.2 .2c2 .3 5.1 1.2 6.1 1.5"/><path class="T w12 d" d="M646.4 246.9c1.2 .1 4.9 .5 7.3 .8c2.4 .3 4.9 .4 7.3 .9c2.4 .5 6.1 1.9 7.3 2.3"/><path class="T w12 d" d="M538.9 229.8c1.2 0 4.7 .1 7 0c2.3-.1 4.7-.2 7-.4c2.3-.2 4.6-.4 6.9-.7c2.3-.3 5.8-1 7-1.2"/><path class="GO w11" d="M528 249.6c1.1 .2 4.3 1.3 6.4 1.4c2.1 .1 4.2-.2 6.3-.6c2.1-.4 5.3-1.5 6.4-1.8"/><path class="S w12 d" d="M588.5 246.4c1.3-.4 5.1-2 7.7-2.4c2.6-.4 5.1-.2 7.7-.3c2.5-.1 5.1-.3 7.6-.1c2.5 .2 5.1 .8 7.7 1.5c2.6 .7 6.4 2.3 7.7 2.7"/><path class="R w15 d" d="M624.5 226.1c1.2 .4 4.7 1.5 7 2.2c2.3 .8 4.6 1.4 6.9 2.3c2.3 .9 4.7 1.9 7 3c2.3 1.1 4.7 2.2 7 3.3c2.3 1.1 5.8 2.6 6.9 3.1"/><path class="S w12 d" d="M554.2 236.6c1.3-.1 5.2-.6 7.8-.7c2.6-.1 5.2 .2 7.8 .1c2.6-.1 5.2-.3 7.8-.5c2.6-.2 6.5-.7 7.8-.8"/><path class="T w14 d" d="M633.3 235.1c1.1 .7 4.4 3.1 6.6 4.2c2.2 1.1 4.4 1.8 6.6 2.4c2.2 .6 4.3 1.1 6.5 1.2c2.2 .1 5.5-.4 6.6-.5"/><path class="G w14 d" d="M605.8 247.6c1.1-.2 4.5-1.2 6.7-1.5c2.2-.2 4.5-.3 6.7 0c2.2 .3 4.4 .9 6.6 2.1c2.2 1.2 5.6 4.3 6.7 5.2"/><path class="G w12" d="M507.9 243.8c1.2 .1 4.9 .5 7.4 .5c2.5 0 5-.3 7.5-.4c2.5-.1 4.9 .2 7.4 .1c2.5-.1 4.9-.6 7.4-.7c2.5-.1 4.9 .3 7.4 .1c2.5-.2 6.2-1 7.4-1.2"/><path class="O w10" d="M561.5 236.2c1.2-.3 4.8-1.2 7.2-1.7c2.4-.4 4.8-.8 7.2-1c2.4-.2 4.8-.4 7.2-.3c2.4 .1 4.8 .4 7.2 .6c2.4 .2 6 .6 7.2 .7"/><path class="GO w14 d" d="M582.1 247.7c1.1 .2 4.5 .8 6.8 1.4c2.3 .6 4.5 1.5 6.8 2.1c2.3 .6 4.5 1.3 6.8 1.5c2.3 .2 4.6-.3 6.9-.5c2.3-.2 4.5-.3 6.8-.4c2.3-.1 5.7 0 6.8 0"/><path class="G w13 d" d="M569.5 231.8c1.2-.6 4.7-3 7.1-3.8c2.4-.8 4.7-1.2 7.1-1.2c2.4 0 4.7 .5 7.1 1.2c2.4 .7 5.9 2.6 7.1 3.1"/><path class="G w12 d" d="M576.7 222.8c1.2 0 5-.1 7.5 0c2.5 .1 5 .1 7.5 .3c2.5 .2 5 .3 7.5 .6c2.5 .2 6.2 .8 7.5 .9"/><path class="PT w15 d" d="M619.1 245.5c1-.2 4.2-1.1 6.3-1c2.1 .1 4.1 .6 6.2 1.4c2.1 .8 5.2 2.7 6.3 3.3"/><path class="T w14 d" d="M593.4 235.5c1.2 .4 4.7 1.9 7.1 2.6c2.4 .7 4.8 1.3 7.2 1.8c2.4 .5 4.7 .7 7.1 .9c2.4 .2 4.8 .2 7.2 .4c2.4 .2 4.7 .2 7.1 .5c2.4 .2 6 .8 7.2 1"/><path class="S w12 d" d="M645.2 227.4c1.3 .5 5.1 2.1 7.7 3.2c2.6 1.1 5.1 2.4 7.7 3.2c2.6 .8 6.4 1.3 7.7 1.6"/><path class="T w14 d" d="M645.2 245.2c1.3 .4 5.1 1.6 7.7 2.3c2.6 .7 5.1 1.2 7.7 1.9c2.6 .7 6.4 2 7.7 2.4"/><path class="O w14 d" d="M550.7 231.1c1.2-.1 5-.4 7.5-.7c2.5-.3 4.9-.7 7.4-1c2.5-.3 5-.8 7.5-1.1c2.5-.3 4.9-.7 7.4-.8c2.5-.1 5 0 7.5 .2c2.5 .2 6.2 .6 7.4 .7"/><path class="LG w13" d="M563.9 239.8c1.1-.1 4.6-.4 6.9-.7c2.3-.3 4.5-.9 6.8-1c2.3-.1 4.5 .4 6.8 .5c2.3 .1 4.6-.3 6.9-.1c2.3 .2 5.7 .9 6.8 1.1"/><path class="R w13 d" d="M556.7 226.8c1.2-.1 4.8-.5 7.3-.8c2.5-.3 4.9-.6 7.4-1c2.5-.4 4.9-1 7.3-1.2c2.5-.2 5-.2 7.4-.1c2.4 .1 6.1 .4 7.3 .5"/><path class="T w14 d" d="M531 250.9c1.2-.1 4.7-.5 7.1-.7c2.4-.2 4.8-.1 7.1-.4c2.4-.2 4.6-.7 7-1.1c2.4-.4 4.7-.8 7.1-1.1c2.4-.3 4.7-.7 7.1-.9c2.4-.2 5.9-.3 7.1-.4"/><path class="GO w14 d" d="M643.6 240.8c1.1 .9 4.4 4.3 6.7 5.4c2.2 1.1 4.5 1.2 6.8 1.2c2.3 0 5.7-1 6.8-1.2"/><path class="O w11" d="M594.5 232.7c1.3-.1 5.1-.5 7.7-.6c2.6-.1 5.1-.4 7.7-.1c2.5 .3 6.3 1.5 7.6 1.8"/><path class="R w10" d="M586.8 234.7c1.2-.2 5-.8 7.4-1c2.5-.2 4.8-.5 7.3-.4c2.5 .1 4.9 .6 7.4 1c2.5 .4 4.9 .7 7.3 1.4c2.5 .7 6.2 2.4 7.4 2.9"/><path class="GO w12" d="M513.1 240.8c1.1 .1 4.6 .2 6.9 .4c2.3 .2 4.5 .4 6.8 .5c2.3 .1 4.5 .2 6.8 .1c2.3-.1 4.6-.7 6.9-.8c2.3-.1 4.5 .2 6.8 0c2.3-.2 5.7-.9 6.8-1.1"/><path class="GO w12 d" d="M566.1 224.4c1.2-.5 4.8-2.3 7.1-3.1c2.4-.8 4.6-1.5 7-1.9c2.4-.4 4.7-.7 7.1-.4c2.4 .2 4.7 1.1 7 1.9c2.3 .8 5.8 2.5 7 3"/><path class="G w15 d" d="M584.6 239.2c1.2-.1 4.8-.5 7.2-.7c2.4-.2 4.7-.7 7.1-.7c2.4 0 4.8 .3 7.2 .5c2.4 .2 4.8 .4 7.2 .7c2.4 .3 4.7 .5 7.1 1c2.4 .5 6 1.7 7.2 2"/><path class="G w14 d" d="M584.7 230.5c1.3-.1 5.3-.2 8-.3c2.7-.1 5.3-.2 8-.1c2.7 .2 5.3 .7 8 1c2.7 .3 6.7 .8 8 1"/><path class="O w14 d" d="M544.9 232.3c1.2-.1 4.8-.2 7.2-.3c2.4-.1 4.7-.1 7.1-.3c2.4-.2 4.8-.8 7.2-1.1c2.4-.3 4.8-.4 7.2-.6c2.4-.2 5.9-.7 7.1-.8"/><path class="S w14 d" d="M608.3 248.3c1.1 .2 4.3 .8 6.5 1c2.2 .2 4.3 .2 6.5 .2c2.2-.1 5.4-.4 6.5-.5"/><path class="S w12 d" d="M617.7 239.9c1.1 .3 4.5 1.2 6.8 2.1c2.3 .9 4.5 2.1 6.8 3.3c2.3 1.2 4.5 2.6 6.8 3.7c2.3 1.1 4.5 2.1 6.8 3c2.3 .9 4.5 1.7 6.8 2.5c2.3 .8 5.7 1.8 6.8 2.2"/><path class="T w15 d" d="M573.3 224.1c1.2 .1 4.9 .1 7.3 .3c2.5 .2 4.9 .8 7.4 .7c2.5-.1 6.2-.8 7.4-1"/><path class="G w14 d" d="M545 243.8c1.2-.3 4.8-1.7 7.2-2c2.4-.3 4.8-.2 7.2 0c2.4 .2 6.1 1.1 7.3 1.3"/><path class="O w12 d" d="M631.9 245.3c1.3-.2 5.1-2.1 7.6-1.4c2.5 .7 6.2 4.6 7.5 5.5"/><path class="G w13 d" d="M574.6 231.3c1.1-.3 4.6-1.2 6.9-1.7c2.3-.5 4.5-.9 6.8-1.1c2.3-.2 4.6 .1 6.9 .2c2.3 .1 4.6-.1 6.9 .2c2.3 .3 4.6 1.2 6.9 1.8c2.3 .6 5.8 1.2 6.9 1.5"/><path class="O w15 d" d="M524.2 234.8c1.2-.3 5-1.6 7.5-2.1c2.5-.5 5.1-.7 7.6-.8c2.5-.1 5-.2 7.5 .2c2.5 .4 6.2 1.9 7.5 2.3"/><path class="PG w13 d" d="M599.5 229.1c1.1 .1 4.6 .4 6.9 .6c2.3 .2 4.6 .3 6.9 .5c2.3 .2 4.6 .3 6.9 .4c2.3 .1 4.6 .2 6.9 .3c2.3 .1 5.8 .3 6.9 .4"/><path class="G w14 d" d="M535.1 229.5c1.1 .4 4.5 1.8 6.8 2.2c2.3 .4 4.5 .4 6.8 .4c2.3 0 4.5 0 6.8-.3c2.3-.3 4.5-1 6.8-1.6c2.3-.6 5.7-1.6 6.8-1.9"/><path class="GO w14 d" d="M545.4 248.5c1.2 .1 4.8 .7 7.2 .7c2.4 0 4.8-.5 7.2-.7c2.4-.2 4.7-.2 7.1-.3c2.4-.1 4.8-.1 7.2-.3c2.4-.2 4.8-.5 7.2-.7c2.4-.2 5.9-.4 7.1-.5"/><path class="S w12 d" d="M598.1 241.1c1-.1 3.9-.7 5.9-.8c2-.1 4 .1 6 .4c2 .3 5 1.3 6 1.6"/><path class="R w14 d" d="M589.2 256.6c1.2 .6 4.7 2.7 7.1 3.4c2.4 .7 4.7 1 7 .7c2.3-.3 5.8-2.2 7-2.7"/><path class="G w14 d" d="M632.3 255.2c1.2 .2 4.8 1 7.2 1.3c2.4 .3 4.8 .5 7.2 .7c2.4 .2 4.8 .3 7.2 .6c2.4 .3 4.8 .8 7.2 1.3c2.4 .5 6 1.4 7.2 1.7"/><path class="G w14 d" d="M646.5 250.8c1.2 .8 4.9 3.8 7.3 5c2.4 1.2 4.8 1.8 7.2 2.2c2.4 .4 6.1-.1 7.3-.1"/><path class="T w14 d" d="M589.6 247.9c1.1-.3 4.3-1.4 6.5-1.6c2.2-.2 4.3 .1 6.5 .3c2.2 .2 4.3 .3 6.5 .6c2.2 .3 4.3 .7 6.5 1.3c2.2 .7 5.4 2.2 6.5 2.6"/><path class="G w12 d" d="M533.1 225.1c1.3 .4 5.3 2.3 7.9 2.2c2.6-.1 6.6-2.2 7.9-2.6"/><path class="O w12 d" d="M554.1 228.7c1.1 .1 4.5 .4 6.8 .7c2.3 .3 4.5 .8 6.8 .9c2.3 .1 4.6-.1 6.9-.2c2.3-.2 4.5-.5 6.8-.7c2.3-.2 4.6-.1 6.9-.3c2.3-.2 5.7-.8 6.8-1"/><path class="R w12" d="M531.3 235.7c1.3-.3 5.2-1.4 7.8-1.9c2.6-.5 5.2-.7 7.8-1c2.6-.3 5.2-.7 7.8-.7c2.6-.1 5.1 .1 7.7 .4c2.6 .3 6.5 1 7.8 1.2"/><path class="LG w13 d" d="M584.8 240.5c1.2 0 4.7 .2 7 .2c2.3 0 4.7-.3 7-.2c2.3 .1 4.7 .6 7 .9c2.3 .3 4.6 .7 7 1.2c2.4 .5 5.9 1.4 7.1 1.7"/><path class="PG w13 d" d="M627 235.9c1.2 .5 4.8 1.9 7.1 2.8c2.4 .8 4.6 1.8 7 2.3c2.4 .6 4.8 .8 7.1 1c2.4 .2 4.7 .3 7 .1c2.3-.2 5.8-.9 7-1.1"/><path class="PG w14 d" d="M519.2 244c1.3 .1 5.1 .5 7.7 .5c2.5 0 5.1-.2 7.6-.6c2.5-.4 6.3-1.8 7.6-2.1"/><path class="G w14 d" d="M618.8 251.7c1.3 .2 5.3 .1 8 1c2.7 .9 6.7 3.8 8 4.6"/><path class="PT w15 d" d="M531.3 233.1c1.2 .1 4.8 .5 7.2 .5c2.4 0 4.8-.4 7.2-.6c2.4-.2 4.7-.3 7.1-.3c2.4 0 6 .2 7.2 .3"/><path class="G w14 d" d="M531.1 241.5c1.1-.4 4.5-2 6.8-2.7c2.3-.7 4.5-1.2 6.8-1.2c2.3-.1 4.5 .4 6.8 .9c2.3 .5 5.7 1.7 6.8 2"/><path class="T w15 d" d="M584.7 228c1.3-.1 5.1-.5 7.7-.3c2.6 .2 5.1 1.1 7.7 1.4c2.6 .3 5.2 .1 7.8 .2c2.6 .1 5.1 .1 7.7 .5c2.6 .4 6.4 1.5 7.7 1.8"/><path class="O w14 d" d="M629.1 259.8c1.3 0 5.1-.2 7.6-.2c2.5 .1 5 .1 7.5 .5c2.5 .4 5 1 7.5 1.7c2.5 .7 5 1.6 7.5 2.6c2.5 1 6.3 2.7 7.6 3.2"/><path class="GO w13 d" d="M574.7 241.2c1.3-.1 5.1-.3 7.6-.3c2.5 0 5 0 7.6 .1c2.6 .1 6.4 .5 7.7 .6"/><path class="PG w12 d" d="M560 220.5c1.3-.5 5.1-2.5 7.6-3.2c2.5-.7 5.1-1.4 7.6-1.1c2.5 .3 6.3 2.5 7.6 3"/><path class="GO w14 d" d="M619.3 237.2c1.2 .4 4.7 1.3 7.1 2.2c2.4 .9 4.7 2.2 7.1 3.2c2.4 1 4.8 1.8 7.1 2.7c2.4 .9 4.6 1.8 7 2.5c2.4 .7 4.7 1.1 7.1 1.7c2.4 .6 5.9 1.7 7.1 2"/><path class="T w14 d" d="M543.3 227.3c1.1 .2 4.3 .9 6.4 1.1c2.1 .2 4.4 .3 6.5 .1c2.1-.2 4.3-.7 6.4-1.3c2.1-.6 5.3-2 6.4-2.4"/><path class="LG w12 d" d="M608.4 243.8c1.3 .5 5.2 2.1 7.8 2.9c2.6 .8 5.2 1.2 7.8 1.6c2.6 .4 5.1 .7 7.7 .7c2.6 0 5.2-.3 7.8-.7c2.6-.4 6.5-1.6 7.8-1.9"/><path class="S w12" d="M568.7 216.8c1.3-.6 5.1-3.3 7.7-3.5c2.6-.2 6.4 1.8 7.7 2.2"/><path class="GO w12" d="M555.5 236.4c1.1-.2 4.6-1.2 6.9-1.5c2.3-.3 4.6-.4 6.9-.4c2.3 0 4.7 .2 7 .4c2.3 .2 5.8 .8 6.9 1"/><path class="PG w14 d" d="M600.3 231.4c1.1-.2 4.4-.7 6.6-.9c2.2-.2 4.4-.3 6.6-.3c2.2 0 4.4 .1 6.6 .3c2.2 .2 4.3 .5 6.5 1c2.2 .5 5.5 1.8 6.6 2.2"/><path class="R w12 d" d="M643.7 253.5c1 0 4.1-.3 6.2 0c2.1 .3 4.1 .7 6.2 1.8c2.1 1.1 5.2 3.8 6.2 4.6"/><path class="GO w14 d" d="M510.4 242.5c1.3-.4 5.3-1.9 8-2.6c2.7-.7 5.3-1.1 8-1.5c2.7-.4 5.4-1 8-1.1c2.6-.1 5.2 .2 7.9 .7c2.6 .5 6.7 1.8 8 2.2"/><path class="T w13 d" d="M535 245.2c1.2-.1 4.7-.5 7.1-.7c2.4-.2 4.8-.4 7.2-.6c2.4-.2 4.7-.5 7.1-.6c2.4-.1 4.8 .1 7.2 .2c2.4 .1 6 .2 7.2 .3"/><path class="G w15 d" d="M560.6 241.1c1.1 .2 4.6 .7 6.9 1c2.3 .3 4.6 .4 6.9 .6c2.3 .2 4.6 .5 6.9 .5c2.3 0 4.6-.1 6.9-.3c2.3-.2 4.6-.4 6.9-.8c2.3-.4 5.8-1.2 6.9-1.5"/><path class="O w13" d="M636.5 243.6c1.3 .1 5.2 .4 7.9 .8c2.6 .4 5.4 1 8 1.7c2.6 .7 5.2 1.3 7.9 2.3c2.6 1 6.7 2.8 8 3.4"/><path class="GO w15 d" d="M624.8 238.8c1.3 .1 5.3 .1 7.9 .4c2.6 .2 6.5 .9 7.8 1.1"/><path class="T w12 d" d="M577.3 232.2c1.1-.2 4.6-.9 6.9-1.1c2.3-.2 4.5-.1 6.8-.1c2.3 0 4.6 0 6.9 .3c2.3 .3 5.8 1.2 6.9 1.5"/><path class="G w14 d" d="M528.5 237c1.2-.2 4.9-.8 7.3-1.1c2.4-.3 4.8-.7 7.2-.9c2.4-.2 4.9-.4 7.3-.3c2.4 .1 6 .7 7.2 .8"/><path class="T w14 d" d="M637.9 237.3c1.2 .2 4.7 .5 7 .9c2.3 .4 4.6 .6 7 1.4c2.4 .8 4.8 2.1 7.1 3.5c2.4 1.4 5.8 4.2 7 5.1"/><path class="T w11" d="M554.5 247.7c1.1-.3 4.5-1.4 6.8-1.9c2.3-.4 4.6-.5 6.9-.8c2.3-.3 4.5-.8 6.8-.8c2.3-.1 4.5 .3 6.8 .5c2.3 .2 4.5 .5 6.8 .8c2.3 .3 5.7 .8 6.8 1"/><path class="G w13 d" d="M546.3 232.1c1.1 .1 4.5 .3 6.7 .4c2.2 .1 4.5 .2 6.7 .2c2.2 0 4.5 0 6.7 0c2.2 0 4.5 .1 6.7-.1c2.2-.2 4.5-.9 6.7-1.3c2.2-.4 5.6-.9 6.7-1.1"/><path class="T w13" d="M597.1 223.1c1.1 0 4.4-.2 6.6-.3c2.2-.1 4.5-.6 6.7-.5c2.2 .1 4.4 .3 6.6 .8c2.2 .5 4.4 1.1 6.6 2c2.2 .9 5.6 2.8 6.7 3.4"/><path class="R w16 d" d="M513.3 160.2c.1 .9 .4 3.7 .6 5.5c.2 1.8 .2 4.4 .5 5.5c.3 1.1 .9 .9 1.1 1.1"/><path class="R w16 d" d="M516.6 169c1.5-.2 5.9-.5 8.8-1.1c2.9-.6 5.9-1.5 8.8-2.2c2.9-.7 6.6-2.8 8.8-2.2c2.2 .6 3.7 4.6 4.4 5.5"/><path class="S w10 d" d="M552.9 177.8c.9-.6 3.5-1.8 5.5-3.3c2-1.5 4.3-3.8 6.5-5.5c2.2-1.7 5.5-3.7 6.6-4.4"/><path class="G w10 d" d="M563.8 163.5c.9-.7 3.9-3.4 5.5-4.4c1.6-1 2.9-1.7 4.4-1.5c1.5 .2 3.7 2.2 4.4 2.6"/><path class="G w10 d" d="M569.3 172.3c.7-.2 2.5-1.2 4.4-1.1c2 .1 6.1 1.4 7.3 1.7"/><path class="S w10 d" d="M532 196.5c.7 .7 2.6 2.9 4.4 4.4c1.8 1.5 4.4 3.1 6.6 4.4c2.2 1.3 5.5 2.8 6.6 3.3"/><path class="G w10 d" d="M543 198.7c.7 .7 2.9 3.1 4.4 4.4c1.5 1.3 2.9 3 4.4 3.7c1.5 .7 3.7 .6 4.4 .7"/><path class="R w10 d" d="M573.7 199.8c.7 .2 3.2 .7 4.4 1.1c1.2 .4 2.4 .9 2.9 1.1"/><path class="T w10 d" d="M554 210.8c1.1 .7 4.4 3.3 6.6 4.4c2.2 1.1 4.3 1.5 6.5 2.2c2.2 .7 5.5 1.8 6.6 2.2"/><path class="S w10 d" d="M503.4 229.5c1.1 .4 4.4 1.5 6.6 2.2c2.2 .7 4.4 1.4 6.6 2.1c2.2 .7 5.5 1.8 6.6 2.2"/><path class="PO w10 d" d="M533.1 230.6c1.3 .2 4.9 .7 7.7 1.1c2.8 .4 7.3 .9 8.8 1.1"/><path class="LG w10 d" d="M507.8 243.7c1.1 .6 4.4 2.4 6.6 3.3c2.2 .9 4 1.5 6.6 2.2c2.6 .7 5.9 1.7 8.8 2.2c2.9 .6 5.9 1 8.8 1.1c2.9 .1 7.3-.3 8.8-.4"/><path class="O w10 d" d="M534.2 237.1c1.5 .2 5.9 .7 8.8 1.1c2.9 .4 5.9 .7 8.8 1.1c2.9 .4 5.9 .7 8.8 1.1c2.9 .4 5.8 .8 8.7 1.1c2.9 .3 7.3 .4 8.8 .5"/><path class="T w10 d" d="M543 244.8c1.8 .1 7.4 .4 11 .7c3.6 .3 7.2 .7 10.9 .9c3.6 .2 8.3 .4 11 .6c2.7 .2 4.2 .6 5.1 .7"/><path class="G w10 d" d="M521 238.2c1.5 .2 5.9 .6 8.8 1.1c2.9 .5 5.9 1.3 8.8 1.8c2.9 .4 7.3 .8 8.8 .9"/><path class="GO w10 d" d="M564.9 252.5c1.5 .2 6.1 .8 8.8 1.1c2.7 .3 6.1 .6 7.3 .7"/><path class="S w10 d" d="M556.2 238.2c1.5 .1 5.8 .5 8.7 .7c2.9 .2 7.3 .3 8.8 .4"/><path class="LG w10 d" d="M549.6 250.3c1.8 .2 7.4 .9 11 1.1c3.6 .2 9.1 .2 10.9 .3"/><path class="S w10" d="M543 206.4c1.5 .4 5.9 1.5 8.8 2.2c2.9 .7 5.9 1.5 8.8 2.2c2.9 .7 5.8 1.6 8.7 2.2c2.9 .6 7.3 .9 8.8 1.1"/><path class="T w11" d="M562.8 220.7c1.1-.2 4.3-1.3 6.5-1.1c2.2 .2 4.6 1.7 6.6 2.2c2 .6 4.2 .9 5.1 1.1"/><path class="G w10" d="M519.9 218.5c1.3 .4 5.3 1.5 7.7 2.2c2.4 .7 4.4 1.6 6.6 2.2c2.2 .6 4 1 6.6 1.5c2.6 .5 7.3 1.1 8.8 1.3"/><path class="T w10" d="M535.3 222.9c.9 .4 3.5 1.7 5.5 2.2c2 .5 5.5 .9 6.6 1.1"/><path class="S w10" d="M493.5 241.1c.9 .4 3.5 1.6 5.5 2.2c2 .6 4.4 1 6.6 1.5c2.2 .5 5.5 1.3 6.6 1.6"/><path class="O w16" d="M522.1 241.5c1.3 .2 4.9 .8 7.7 1.1c2.8 .3 5.9 .5 8.8 .7c2.9 .2 5.9 .1 8.8 .4c2.9 .2 5.9 .8 8.8 1.1c2.9 .3 5.8 .5 8.7 .7c2.9 .2 6.1 .3 8.8 .4c2.7 .1 6.1 0 7.3 0"/><path class="GO w15" d="M523.2 245.9c1.5 .2 5.9 .7 8.8 1.1c2.9 .4 5.9 .8 8.8 1.1c2.9 .3 5.9 .3 8.8 .5c2.9 .2 5.9 .4 8.8 .6c2.9 .2 7.2 .2 8.7 .3"/><path class="T w10" d="M554 234.9c1.8-.2 7.2-.8 10.9-1.1c3.6-.3 8.3-.4 11-.6c2.7-.2 4.2-.3 5.1-.4"/><path class="T w10 d" d="M609.6 156.9c.4 .5 1.5 2 2.2 3.3c.7 1.3 1.5 2.6 2.2 4.4c.7 1.8 1.3 4 2.2 6.6c.9 2.6 2.4 5.9 3.3 8.8c.9 2.9 1.3 5.9 2.2 8.8c.9 2.9 2.4 6.2 3.3 8.8c.9 2.6 1.8 5.5 2.2 6.6"/><path class="T w10 d" d="M581 166.8c1.1 .4 4 1.1 6.6 2.2c2.6 1.1 7.3 3.7 8.8 4.4"/><path class="T w10 d" d="M607.4 162.4c.4 1.1 1.5 4 2.2 6.6c.7 2.6 1.8 7.3 2.2 8.8"/><path class="S w10 d" d="M627.2 173.4c.2 1.1 .7 4.4 1.1 6.6c.4 2.2 .9 5.5 1.1 6.6"/><path class="LG w10 d" d="M581 181.1c1.1 .6 4.4 2.2 6.6 3.3c2.2 1.1 4.4 2.2 6.6 3.3c2.2 1.1 5.5 2.8 6.6 3.3"/><path class="T w10 d" d="M587.6 191c1.1 .6 4.4 2.2 6.6 3.3c2.2 1.1 5.5 2.8 6.6 3.3"/><path class="R w12" d="M581 203.1c1.1 .1 4.4 .3 6.6 .6c2.2 .2 4.4 .3 6.6 .9c2.2 .6 4.4 2.5 6.6 2.9c2.2 .4 4-.3 6.6-.7c2.6-.4 7.3-1.2 8.8-1.5"/><path class="T w11" d="M581 206.4c1.5-.1 5.9-.6 8.8-.5c2.9 .1 5.9 .5 8.8 .9c2.9 .4 5.9 1.3 8.8 1.8c2.9 .5 7.3 .9 8.8 1.1"/><path class="O w12 d" d="M609.6 206.4c1.1 .7 4.4 3.3 6.6 4.4c2.2 1.1 4.4 1.1 6.6 2.2c2.2 1.1 4.4 2.9 6.6 4.4c2.2 1.5 4.4 2.6 6.6 4.4c2.2 1.8 5.5 5.5 6.6 6.6"/><path class="G w10 d" d="M633.8 211.9c.7-.4 2.9-2.4 4.4-2.2c1.5 .2 2.9 2 4.4 3.3c1.5 1.3 2.9 2.9 4.4 4.4c1.5 1.5 2.9 3.5 4.4 4.4c1.5 .9 3.7 .9 4.4 1.1"/><path class="G w11" d="M581 213c1.5 .2 5.9 .7 8.8 1.1c2.9 .4 5.9 .9 8.8 1.5c2.9 .6 5.9 1.1 8.8 1.8c2.9 .7 5.9 1.5 8.8 2.2c2.9 .7 5.9 1.6 8.8 2.2c2.9 .7 7.3 1.4 8.8 1.7"/><path class="S w10" d="M581 217.4c1.8 .4 7.3 1.5 11 2.2c3.7 .7 7.3 1.7 11 2.2c3.7 .6 9.2 .9 11 1.1"/><path class="O w13" d="M603 217.4c1.1 .4 4.4 1.5 6.6 2.2c2.2 .7 4 1.5 6.6 1.7c2.6 .2 6.2-.3 8.8-.6c2.6-.3 5.5-.9 6.6-1.1"/><path class="O w17" d="M585.4 228.4c1.5 .4 5.9 1.3 8.8 2.2c2.9 .9 5.9 2.3 8.8 3.2c2.9 .9 5.9 1.3 8.8 2.2c2.9 .9 5.9 2 8.8 3.3c2.9 1.3 5.9 2.9 8.8 4.4c2.9 1.5 5.9 2.9 8.8 4.4c2.9 1.5 5.9 3.1 8.8 4.4c2.9 1.3 6.2 2.4 8.8 3.3c2.6 .9 5.5 1.8 6.6 2.2"/><path class="O w13" d="M581 224c1.5 .3 5.9 1 8.8 1.7c2.9 .7 7.3 1.8 8.8 2.2"/><path class="O w14" d="M581 234.9c1.8 .4 7.3 1.5 11 2.2c3.7 .7 7.3 1.4 11 2.2c3.7 .8 7.3 1.6 11 2.7c3.7 1.1 7.3 2.5 11 3.9c3.7 1.4 7.3 3.1 11 4.4c3.7 1.3 7.3 2.4 11 3.3c3.7 .9 9.2 1.8 11 2.2"/><path class="GO w14" d="M594.2 239.3c1.5 .4 5.9 1.5 8.8 2.2c2.9 .7 5.9 1.3 8.8 2.2c2.9 .9 5.9 2.4 8.8 3.3c2.9 .9 5.9 1.5 8.8 2.2c2.9 .7 7.3 1.8 8.8 2.2"/><path class="T w14" d="M581 243.7c1.8 .4 7.3 1.5 11 2.2c3.7 .7 7.3 1.1 11 1.8c3.7 .7 7.3 1.5 11 2.2c3.7 .7 7.3 1.4 11 2.2c3.7 .8 7.3 1.8 11 2.6c3.7 .8 7.3 1.5 11 2.2c3.7 .7 8.1 1.4 11 1.8c2.9 .4 5.5 .3 6.6 .4"/><path class="T w12" d="M581 250.3c1.8 .3 7.3 1.2 11 1.8c3.7 .5 7.3 1.1 11 1.5c3.7 .4 7.3 .7 11 1.1c3.7 .4 7.3 .7 11 1.1c3.7 .4 9.2 .9 11 1.1"/><path class="G w11" d="M581 239.3c1.5 .2 5.9 .7 8.8 1.1c2.9 .4 7.3 1.3 8.8 1.6"/><path class="R w12" d="M581 247c1.5 .3 5.9 1 8.8 1.6c2.9 .6 5.9 1.1 8.8 1.7c2.9 .6 5.9 1.2 8.8 1.8c2.9 .5 7.3 1.2 8.8 1.5"/><path class="GO w13" d="M581 253.6c1.5 .2 5.9 .7 8.8 1.1c2.9 .4 5.9 .8 8.8 1.1c2.9 .3 7.3 .6 8.8 .7"/><path class="S w11" d="M625 233.8c1.5 .2 5.9 .6 8.8 1.1c2.9 .5 7.3 1.8 8.8 2.2"/><path class="LG w10 d" d="M633.8 228.4c1.5 .7 5.9 3.1 8.8 4.4c2.9 1.3 6.2 2.5 8.8 3.2c2.6 .7 5.5 .9 6.6 1.1"/><path class="G w12" d="M638.2 241.5c1.5 .7 5.9 2.9 8.8 4.4c2.9 1.5 5.9 3.1 8.8 4.4c2.9 1.3 7.3 2.8 8.8 3.3"/><path class="T w10 d" d="M620.6 227.3c1.5 .2 5.9 .7 8.8 1.1c2.9 .4 7.3 .9 8.8 1.1"/><path class="S w10 d" d="M647 234.9c1.1 .2 4.8 1 6.6 1.1c1.8 .1 3.7-.5 4.4-.6"/></g></g><path d="M486.7 235.4c2.4-.1 9.6-.5 14.6-.7c5-.2 10.1-.4 15.2-.7c5.1-.3 10.2-.5 15.2-.9c5-.4 10.5-1 15.1-1.5c4.5-.5 8.7-1.2 12.2-1.8c3.5-.6 6.1-1.2 9.1-1.8c3-.6 6.1-1.5 9.1-1.8c3-.3 6.1-.4 9.1-.3c3 .1 6.1 .5 9.1 .9c3 .4 5.6 1.3 9.1 1.8c3.5 .4 8.7 .4 12.2 .9c3.5 .5 6.1 .9 9.1 2.1c3 1.2 6.1 3.4 9.1 5.2c3 1.8 6.1 3.7 9.1 5.5c3 1.8 6.1 3.7 9.1 5.3c3 1.6 5.6 2.9 9.1 4.5c3.5 1.6 10.2 4.1 12.2 4.9L674.4 266.6c-2-1.2-8.6-5-12.2-7.3c-3.5-2.3-6.1-4.2-9.1-6.4c-3-2.2-6.1-4.7-9.1-6.9c-3-2.2-6.1-4.5-9.1-6.6c-3-2.1-6.1-4.5-9.1-5.8c-3-1.3-5.5-1.6-9.1-2.1c-3.5-.5-8.7-.5-12.2-.9c-3.5-.4-6.1-1.3-9.1-1.8c-3-.4-6.1-.8-9.1-.9c-3-.1-6.1-.1-9.1 .3c-3 .3-6.1 1.2-9.1 1.8c-3 .6-5.6 1.2-9.1 1.8c-3.5 .6-7.7 1.2-12.2 1.8c-4.5 .6-10 1-15.1 1.6c-5 .6-10.1 1.3-15.2 2.1c-5.1 .8-10.2 1.9-15.2 3c-5 1.1-12.2 2.9-14.6 3.5Z" fill="#9a9a9a" fill-opacity="0.45"/><path d="M486.7 239.6c2.4-.3 9.6-1.4 14.6-2.1c5-.7 10.1-1.2 15.2-1.8c5.1-.6 10.2-1.1 15.2-1.6c5-.5 10.5-1 15.1-1.5c4.5-.5 8.7-1.2 12.2-1.8c3.5-.6 6.1-1.2 9.1-1.8c3-.6 6.1-1.5 9.1-1.8c3-.3 6.1-.4 9.1-.3c3 .1 6.1 .5 9.1 .9c3 .4 5.6 1.3 9.1 1.8c3.5 .4 8.7 .4 12.2 .9c3.5 .5 6.1 .8 9.1 2.1c3 1.3 6.1 3.6 9.1 5.5c3 1.9 6.1 4.1 9.1 6.1c3 2 6.1 4.1 9.1 6c3 1.9 5.6 3.6 9.1 5.5c3.5 1.9 10.2 5.1 12.2 6.1" fill="none" stroke="#111" stroke-width="1.35"/></g>
<clipPath id="cB3"><rect x="477" y="147.5" width="207.5" height="124.8"/></clipPath>
<rect x="477" y="147.5" width="207.5" height="124.8" fill="none" stroke="#bfbfbf" stroke-width="1"/>
<g font-family="Liberation Sans, sans-serif" font-size="3.6" fill="#3a3a3a"><line x1="475.8" y1="151.6" x2="477" y2="151.6" stroke="#444" stroke-width="0.7"/><text x="475.4" y="152.8" text-anchor="end">400</text><line x1="475.8" y1="180.8" x2="477" y2="180.8" stroke="#444" stroke-width="0.7"/><text x="475.4" y="182" text-anchor="end">300</text><line x1="475.8" y1="209.7" x2="477" y2="209.7" stroke="#444" stroke-width="0.7"/><text x="475.4" y="210.9" text-anchor="end">200</text><line x1="475.8" y1="238.9" x2="477" y2="238.9" stroke="#444" stroke-width="0.7"/><text x="475.4" y="240.1" text-anchor="end">100</text><line x1="475.8" y1="267.6" x2="477" y2="267.6" stroke="#444" stroke-width="0.7"/><text x="475.4" y="268.8" text-anchor="end">0</text><line x1="529.7" y1="272.3" x2="529.7" y2="273.5" stroke="#444" stroke-width="0.7"/><text x="529.7" y="276.9" text-anchor="middle">0.25</text><line x1="582.9" y1="272.3" x2="582.9" y2="273.5" stroke="#444" stroke-width="0.7"/><text x="582.9" y="276.9" text-anchor="middle">0.50</text><line x1="636" y1="272.3" x2="636" y2="273.5" stroke="#444" stroke-width="0.7"/><text x="636" y="276.9" text-anchor="middle">0.75</text></g>
<g><line x1="27.8" y1="293.4" x2="235.4" y2="293.4" stroke="#f3f3f3" stroke-width="0.6"/><line x1="27.8" y1="321.4" x2="235.4" y2="321.4" stroke="#f3f3f3" stroke-width="0.6"/><line x1="27.8" y1="349.5" x2="235.4" y2="349.5" stroke="#f3f3f3" stroke-width="0.6"/><line x1="27.8" y1="377.6" x2="235.4" y2="377.6" stroke="#f3f3f3" stroke-width="0.6"/><line x1="27.8" y1="405.6" x2="235.4" y2="405.6" stroke="#f3f3f3" stroke-width="0.6"/><line x1="54" y1="287.9" x2="54" y2="413.3" stroke="#f3f3f3" stroke-width="0.6"/><line x1="107.1" y1="287.9" x2="107.1" y2="413.3" stroke="#f3f3f3" stroke-width="0.6"/><line x1="160.3" y1="287.9" x2="160.3" y2="413.3" stroke="#f3f3f3" stroke-width="0.6"/><line x1="213.5" y1="287.9" x2="213.5" y2="413.3" stroke="#f3f3f3" stroke-width="0.6"/><line x1="27.8" y1="307.4" x2="235.4" y2="307.4" stroke="#ebebeb" stroke-width="0.8"/><line x1="27.8" y1="335.1" x2="235.4" y2="335.1" stroke="#ebebeb" stroke-width="0.8"/><line x1="27.8" y1="363.6" x2="235.4" y2="363.6" stroke="#ebebeb" stroke-width="0.8"/><line x1="27.8" y1="391.6" x2="235.4" y2="391.6" stroke="#ebebeb" stroke-width="0.8"/><line x1="80.6" y1="287.9" x2="80.6" y2="413.3" stroke="#ebebeb" stroke-width="0.8"/><line x1="133.7" y1="287.9" x2="133.7" y2="413.3" stroke="#ebebeb" stroke-width="0.8"/><line x1="186.9" y1="287.9" x2="186.9" y2="413.3" stroke="#ebebeb" stroke-width="0.8"/></g>
<g clip-path="url(#cC1)"><g filter="url(#bl)"><g fill="none" stroke-linecap="round" stroke-linejoin="round"><path class="T w11" d="M132.4 339.2c1.2 .4 4.7 1.7 7 2.3c2.3 .6 4.7 1.2 7 1.5c2.3 .3 4.8 .1 7.1 .3c2.3 .2 4.7 1.1 7 1.1c2.3 0 5.8-.8 7-1"/><path class="T w11 d" d="M137.9 350.7c1.1 .5 4.5 2.1 6.7 3c2.2 .9 4.5 1.8 6.7 2.4c2.2 .6 4.5 1 6.7 1.4c2.2 .4 4.5 .7 6.7 .8c2.2 .1 4.5 .1 6.7-.2c2.2-.2 5.6-1.1 6.7-1.3"/><path class="PT w10 d" d="M137.9 339.9c1.2 .2 4.7 .9 7.1 1.4c2.4 .6 4.7 1.3 7.1 1.9c2.4 .6 4.7 .9 7.1 1.4c2.4 .5 4.7 1.1 7.1 1.5c2.4 .4 5.9 .8 7.1 1"/><path class="PT w11 d" d="M164.5 346.7c1.2 0 5-.3 7.4-.2c2.4 .1 4.9 .4 7.3 .8c2.4 .4 4.9 .7 7.3 1.4c2.4 .7 6.2 2.4 7.4 2.9"/><path class="S w11 d" d="M84.6 353.7c1.2 .7 4.7 3.2 7 4.2c2.3 1 4.7 1.5 7 1.8c2.3 .3 4.6 .4 6.9 .2c2.3-.2 5.8-1.1 7-1.3"/><path class="LG w11 d" d="M98.1 353c1.3 .4 5.1 1.4 7.7 2.1c2.6 .7 5.1 1.6 7.7 2.2c2.6 .6 5.1 1.3 7.7 1.7c2.6 .4 5.2 .7 7.8 .9c2.6 .2 5.1 .3 7.7 .5c2.6 .2 5.1 .6 7.7 .6c2.6 0 6.4-.6 7.7-.7"/><path class="LG w11 d" d="M169.7 348.2c1.1 0 4.2-.2 6.3 .1c2.1 .3 4.3 1 6.4 1.5c2.1 .5 4.2 .9 6.3 1.5c2.1 .6 5.2 1.7 6.3 2.1"/><path class="PG w11 d" d="M159.8 330c1 .5 4.1 2.3 6.1 3.2c2 .9 4 1.8 6 2.1c2 .4 4 .4 6 0c2-.4 5.1-1.8 6.1-2.2"/><path class="PG w10 d" d="M140.4 329.4c1.2-.1 4.7-.3 7-.4c2.3-.1 4.7-.3 7-.2c2.3 .1 4.7 .7 7 1c2.3 .3 4.7 .3 7 .8c2.3 .5 4.8 1.4 7.1 2.1c2.3 .7 4.7 1.2 7 1.9c2.3 .8 5.8 2.2 7 2.6"/><path class="T w12 d" d="M128.1 340.8c1.3-.1 5.1-.6 7.6-.6c2.5 0 5.1 .2 7.6 .4c2.5 .2 5.1 .2 7.6 .8c2.5 .6 5.1 1.6 7.6 2.6c2.5 1 6.3 2.7 7.6 3.2"/><path class="PT w11 d" d="M161.2 337.7c1.1 .4 4.6 1.9 6.8 2.6c2.2 .8 4.4 1.4 6.7 1.9c2.2 .5 4.6 .7 6.8 1.1c2.2 .4 4.4 .9 6.7 1.2c2.2 .2 5.7 .2 6.8 .3"/><path class="T w10 d" d="M95.1 351.8c1.1 .2 4.5 1.1 6.8 1.5c2.3 .4 4.5 .5 6.8 .9c2.3 .4 4.5 1.1 6.8 1.5c2.3 .4 4.5 .6 6.8 1c2.3 .4 4.5 1.2 6.8 1.5c2.3 .3 5.7 .4 6.8 .5"/><path class="PG w10 d" d="M155.1 342.6c1.3 .2 5.3 1 8 1.5c2.7 .5 5.3 1 8 1.4c2.7 .4 5.2 .5 7.9 .9c2.7 .4 5.3 1.1 8 1.4c2.7 .4 6.7 .6 8 .7"/><path class="LG w12 d" d="M172.4 340.9c1.3 .7 5.1 3.4 7.6 4.3c2.5 .9 5 1.1 7.5 1c2.5-.1 6.2-1.2 7.5-1.5"/><path class="G w12 d" d="M123.4 338.6c1.3 .2 5.3 .9 7.9 1.4c2.6 .5 5.2 1.1 7.8 1.7c2.6 .6 5.2 1.1 7.8 1.6c2.6 .5 5.2 .9 7.8 1.4c2.6 .4 6.5 1.1 7.8 1.3"/><path class="T w12 d" d="M166.2 342.9c1.2 .5 4.8 2.2 7.2 3.1c2.4 .9 4.8 1.6 7.2 2c2.4 .4 4.8 .3 7.2 .2c2.4-.1 6-.6 7.2-.7"/><path class="T w11 d" d="M165.5 340.3c1.2-.3 4.9-1.4 7.3-1.6c2.4-.2 4.9 0 7.4 .3c2.5 .3 4.9 .7 7.4 1.6c2.5 .9 6.2 3.3 7.4 4"/><path class="PT w12 d" d="M153.4 329.5c1.2-.2 4.7-.9 7-1c2.3-.1 4.6 0 6.9 .2c2.3 .2 4.6 .4 6.9 .8c2.3 .4 4.6 1.1 6.9 1.8c2.3 .7 4.7 1.5 7 2.4c2.3 .9 5.8 2.7 6.9 3.2"/><path class="R w12 d" d="M186.6 378c1.1 .1 4.3 .1 6.5 .3c2.2 .2 4.4 .4 6.6 1.2c2.2 .8 4.3 2.3 6.5 3.4c2.2 1.1 4.4 2 6.6 3.3c2.2 1.3 5.4 3.9 6.5 4.7"/><path class="T w12 d" d="M161.4 365.5c1.2-.1 4.8-.5 7.2-.4c2.4 .1 4.9 .6 7.3 .8c2.4 .2 4.9 .1 7.3 .6c2.4 .5 6 1.8 7.2 2.2"/><path class="G w12" d="M169.5 372.4c1.1 .1 4.5 .4 6.8 .7c2.3 .4 4.6 .8 6.9 1.4c2.3 .6 5.7 1.6 6.8 1.9"/><path class="GO w14 d" d="M201.2 391c1 .8 4 3.8 6 4.9c2 1.1 4.1 1.5 6.1 1.6c2 .1 5-.8 6-.9"/><path class="T w14 d" d="M134.6 370.7c1.2 .2 4.9 .9 7.4 1.3c2.5 .4 4.9 1.1 7.4 1.3c2.5 .2 6.2-.1 7.4-.1"/><path class="G w12 d" d="M124.3 362c1.2-.6 4.9-3 7.3-3.9c2.4-.9 4.9-1.2 7.3-1.4c2.4-.2 4.9-.1 7.3 .5c2.4 .6 4.8 2.1 7.2 3.1c2.4 1 6.1 2.4 7.3 2.9"/><path class="T w12 d" d="M98.9 373.7c1.2-.1 5-.6 7.5-.8c2.5-.2 4.9-.2 7.4-.4c2.5-.1 4.9-.5 7.4-.5c2.5 0 4.9 .2 7.4 .3c2.5 .1 6.2 .5 7.4 .6"/><path class="PG w11" d="M147.8 344.7c1.1 .2 4.5 .9 6.7 1.2c2.2 .2 4.5 .1 6.7 .3c2.2 .2 5.5 .7 6.6 .8"/><path class="GO w13 d" d="M187.1 377.4c1.1 .4 4.3 1.7 6.5 2.5c2.2 .8 4.3 1.4 6.4 2.4c2.1 1 4.2 2.5 6.4 3.6c2.2 1.1 4.3 2.1 6.5 3.1c2.2 1 5.3 2.5 6.4 3"/><path class="T w15 d" d="M147.2 376.1c1.1 .5 4.5 2.3 6.7 2.9c2.2 .6 4.5 .5 6.7 .5c2.2 0 4.5-.2 6.7-.6c2.2-.4 5.5-1.3 6.6-1.6"/><path class="G w13 d" d="M151.1 373.3c1.2 0 5-.2 7.5-.2c2.5 0 5.1-.1 7.6 .2c2.5 .2 5.1 .7 7.6 1.3c2.5 .6 5.1 1.2 7.6 2.1c2.5 .9 6.3 2.9 7.6 3.5"/><path class="G w15 d" d="M148.3 360.3c1.3 0 5.3-.2 7.9 0c2.6 .2 6.6 1.1 7.9 1.3"/><path class="O w13 d" d="M57 371c1.2 0 4.7 .1 7 .2c2.3 .1 4.6 .3 6.9 .3c2.3 0 4.7-.3 7-.2c2.3 .1 4.7 .7 7 .8c2.3 .1 4.7-.4 7-.2c2.3 .2 5.8 1 6.9 1.2"/><path class="R w13" d="M122.7 371.2c1.2 .1 4.8 .5 7.2 .6c2.4 .1 4.8 .1 7.2 .1c2.4-.1 4.8-.2 7.2-.4c2.4-.2 6-.6 7.2-.7"/><path class="O w13 d" d="M182 368.1c1.2 .4 4.9 1.5 7.3 2.1c2.4 .6 4.8 1.2 7.2 1.4c2.4 .2 4.9 0 7.3-.1c2.4-.1 6.1-.4 7.3-.5"/><path class="G w13 d" d="M138.6 387.5c1.1 .2 4.5 1.1 6.8 1.5c2.3 .4 4.5 .9 6.8 1.2c2.3 .3 4.6 .6 6.9 .8c2.3 .2 4.5 .5 6.8 .7c2.3 .2 4.5 .4 6.8 .4c2.3 0 5.7-.2 6.8-.3"/><path class="S w13" d="M159.6 389.3c.9 .7 3.6 3.2 5.4 4c1.8 .8 3.6 1.2 5.4 .9c1.8-.3 4.5-2.3 5.4-2.8"/><path class="O w12" d="M152.5 360.4c1.1 .3 4.5 1.4 6.8 1.8c2.3 .4 4.5 .5 6.8 .7c2.3 .2 4.5 .4 6.8 .5c2.3 .1 4.5 .2 6.8 .4c2.3 .2 4.5 .8 6.8 1.1c2.3 .3 5.7 .4 6.8 .5"/><path class="T w13" d="M134.5 380.5c1.2-.4 4.8-1.6 7.2-2.2c2.4-.6 4.7-1.2 7.1-1.3c2.4-.1 4.8 .2 7.2 .4c2.4 .2 4.8 .3 7.2 .7c2.4 .4 4.8 1.1 7.2 1.8c2.4 .7 6 1.9 7.2 2.3"/><path class="LG w14 d" d="M101.2 372.4c1.1 .4 4.5 2.2 6.7 2.5c2.2 .3 4.4-.1 6.7-.6c2.2-.5 5.7-2 6.8-2.4"/><path class="PG w13 d" d="M162.5 357.8c1.1 .3 4.5 1.4 6.7 2c2.2 .6 4.5 1 6.7 1.4c2.2 .4 4.4 .9 6.6 1.1c2.2 .2 4.5 .4 6.7 .4c2.2 0 5.6-.4 6.7-.5"/><path class="R w14 d" d="M58.9 383.5c1.3-.4 5.1-1.6 7.7-2.1c2.6-.5 5.1-.8 7.7-.9c2.6-.1 5.1 .2 7.7 .6c2.6 .4 5.2 .9 7.8 1.5c2.6 .6 6.4 1.6 7.7 1.9"/><path class="GO w12 d" d="M175.5 375.6c1.2 .1 4.6 .3 6.9 .8c2.3 .5 4.6 1.5 6.9 2.2c2.3 .7 4.6 1.2 6.9 1.9c2.3 .7 4.5 1.7 6.8 2.5c2.3 .8 5.8 2 6.9 2.4"/><path class="PG w12 d" d="M55.8 373.2c1.2 .1 4.7 .4 7.1 .5c2.4 .1 4.8 0 7.2 .1c2.4 .1 4.7 .3 7.1 .4c2.4 .1 4.8 0 7.2 0c2.4 0 5.9 .1 7.1 .1"/><path class="PG w13 d" d="M186.7 375c1.1 .3 4.3 1.3 6.5 1.9c2.2 .6 4.4 .9 6.6 1.4c2.2 .5 4.3 1.1 6.5 1.5c2.2 .4 4.3 .7 6.5 1c2.2 .3 5.4 .8 6.5 .9"/><path class="PG w13 d" d="M91.9 378.7c1-.3 4.1-1.3 6.2-1.8c2.1-.5 4.1-1 6.2-1c2.1 0 4.2 .6 6.2 1c2 .4 5.1 1.2 6.1 1.4"/><path class="T w13" d="M59.2 367.7c.9-.3 3.6-1.6 5.4-1.9c1.8-.3 3.5-.7 5.3-.2c1.8 .5 4.5 2.7 5.4 3.3"/><path class="PG w14 d" d="M129 368.5c1.2 .2 5 1 7.5 1.4c2.5 .4 5 .4 7.5 .7c2.5 .3 5 .7 7.5 1c2.5 .3 5 .8 7.5 .8c2.5 0 6.2-.7 7.4-.8"/><path class="O w13 d" d="M74.6 374.8c1.3-.2 5.1-1.1 7.6-1.2c2.5-.1 5 0 7.6 .3c2.5 .3 6.4 1.4 7.7 1.7"/><path class="O w12 d" d="M112.9 368.8c1.2-.3 4.6-1.5 6.9-2c2.3-.5 4.6-1 6.9-1.2c2.3-.2 4.5-.3 6.8 0c2.3 .3 5.8 1.4 6.9 1.7"/><path class="T w12" d="M122.5 369.5c1.2-.2 4.7-.8 7.1-1.2c2.4-.4 4.8-.9 7.2-1.1c2.4-.2 4.7-.1 7.1 0c2.4 .1 4.7 .2 7.1 .4c2.4 .2 4.8 .4 7.2 .8c2.4 .4 5.9 1.3 7.1 1.6"/><path class="O w13 d" d="M197.9 396.7c1.2 .1 4.8-.1 7.2 .3c2.4 .4 4.7 1.1 7.1 2.1c2.4 1 5.9 3.3 7.1 4"/><path class="G w14 d" d="M151.6 387.3c.9-.2 3.7-1.1 5.5-1.3c1.8-.2 3.7-.5 5.5-.2c1.8 .3 4.6 1.7 5.5 2"/><path class="GO w15 d" d="M152.5 353.1c1.3 .3 5.3 1.5 7.9 1.9c2.6 .4 5.3 .3 7.9 .6c2.6 .3 5.2 .8 7.8 1.3c2.6 .5 6.6 1.6 7.9 1.9"/><path class="O w13 d" d="M129.2 353.7c1.2 .2 5 .6 7.5 .9c2.5 .3 4.9 .6 7.4 1c2.5 .4 5 1.2 7.5 1.6c2.5 .4 5 .6 7.5 .6c2.5 0 4.9-.2 7.4-.4c2.5-.2 6.2-.8 7.5-.9"/><path class="GO w14 d" d="M75.4 368.3c1 .3 3.9 1.8 5.9 2.1c2 .2 4-.2 6-.6c2-.3 4.9-1.2 5.9-1.5"/><path class="R w12 d" d="M187 377.2c1.1 .1 4.3 .2 6.5 .6c2.2 .4 4.2 1.1 6.4 1.8c2.2 .7 4.3 1.3 6.5 2.2c2.2 .9 4.2 1.9 6.4 3c2.2 1.1 5.4 3.1 6.5 3.7"/><path class="T w12 d" d="M82.3 384.8c1.2 .4 5 1.9 7.5 2.4c2.5 .5 5.1 .5 7.6 .6c2.5 .1 5 .2 7.5 .1c2.5-.1 5.1-.2 7.6-.8c2.5-.6 6.2-2.4 7.5-2.9"/><path class="G w15 d" d="M109.9 368c1.3-.2 5.1-.8 7.6-1.3c2.5-.6 5-1.7 7.6-2c2.5-.3 5.2 0 7.7 0c2.6 0 5.1-.2 7.6 .2c2.5 .4 6.3 2 7.6 2.4"/><path class="G w13 d" d="M190.5 394.5c1 .6 4.1 2.5 6.2 3.4c2.1 .9 4.2 1.5 6.3 1.7c2.1 .2 5.2-.5 6.2-.6"/><path class="O w14 d" d="M72.7 378.9c1.2-.3 4.7-1.1 7-1.6c2.3-.5 4.7-1.1 7-1.2c2.3-.1 4.7 .4 7 .5c2.3 .1 4.8 .1 7.1 .3c2.3 .2 4.7 .7 7 1.1c2.3 .4 5.8 1.2 7 1.4"/><path class="G w14 d" d="M174.8 370.1c1.2 .7 4.9 3.1 7.4 4.2c2.4 1.1 4.9 2.1 7.3 2.5c2.4 .4 6.1 0 7.3 0"/><path class="PT w14 d" d="M155.3 361.2c1.1 .5 4.5 2.1 6.7 2.9c2.2 .8 4.5 1.6 6.7 2.1c2.2 .5 4.5 .7 6.7 1.1c2.2 .4 4.5 .9 6.7 1.1c2.2 .2 5.6 .1 6.7 .1"/><path class="G w15 d" d="M94.7 357.6c1.2 .2 4.8 1 7.2 1.3c2.4 .3 4.9 .9 7.3 .7c2.4-.2 6.1-1.5 7.3-1.8"/><path class="GO w15 d" d="M160.6 347.4c1.2 .4 4.6 1.4 6.9 2.1c2.3 .7 4.5 1.8 6.8 2.2c2.3 .4 4.6 .3 6.9 .5c2.3 .2 4.6 .5 6.9 .7c2.3 .2 5.7 .5 6.8 .6"/><path class="G w14 d" d="M143.4 381.6c1.3-.2 5.1-.7 7.6-1c2.5-.3 5-.9 7.5-1c2.5-.1 5 .3 7.5 .6c2.5 .3 5.1 .7 7.6 1.4c2.5 .7 6.2 2.5 7.5 3"/><path class="S w15 d" d="M134.2 368.6c1.1-.1 4.3-.7 6.4-.7c2.1-.1 4.3 .2 6.4 .4c2.1 .2 5.3 .8 6.4 1"/><path class="R w14 d" d="M89 369.9c1.3 .4 5.2 2.2 7.8 2.7c2.6 .5 5.1 .7 7.7 .3c2.6-.4 6.4-2.5 7.7-3"/><path class="O w15 d" d="M178.5 372.9c1.1-.3 4.5-1.4 6.8-1.8c2.3-.4 4.5-.8 6.8-.7c2.3 .1 4.5 .6 6.8 1c2.3 .4 4.5 1 6.8 1.5c2.3 .5 4.5 .9 6.8 1.7c2.3 .8 5.7 2.7 6.8 3.3"/><path class="T w12 d" d="M96.6 369.5c1.2-.3 4.9-1.4 7.3-1.9c2.5-.5 4.9-.7 7.4-1c2.5-.3 4.8-.9 7.3-1c2.5-.1 5 .4 7.4 .6c2.4 .2 4.9 .2 7.3 .6c2.4 .4 6.1 1.5 7.3 1.8"/><path class="LG w13 d" d="M205 390.7c1.2-.1 4.7-.7 7.1-.5c2.4 .2 6 1.6 7.2 1.9"/><path class="T w13 d" d="M87.9 363.6c1.2-.5 4.8-2.2 7.2-2.9c2.4-.7 4.9-.9 7.3-1c2.4-.1 4.9 0 7.3 .1c2.4 .1 4.8 .1 7.2 .6c2.4 .5 6.1 1.8 7.3 2.2"/><path class="LG w14 d" d="M84.8 373c1.3-.2 5.2-.9 7.8-1.2c2.6-.3 5.1-.5 7.7-.5c2.6 0 5.2 .4 7.8 .6c2.6 .1 5.2 .2 7.8 .3c2.6 .1 6.4 .2 7.7 .3"/><path class="GO w12 d" d="M155.9 384c1.3-.4 5.2-1.7 7.8-2.2c2.6-.5 5.3-.9 7.9-.8c2.6 .1 5.3 .5 7.9 1.1c2.6 .6 5.2 1.2 7.8 2.3c2.6 1.1 6.6 3.7 7.9 4.4"/><path class="T w13 d" d="M125.6 378.2c1.2-.3 4.7-1.3 7.1-1.6c2.4-.3 4.8-.2 7.2-.3c2.4-.1 4.8-.6 7.2-.5c2.4 .1 4.7 .5 7.1 .8c2.4 .3 4.8 .3 7.2 .8c2.4 .5 6 1.8 7.2 2.2"/><path class="G w13 d" d="M149.2 382c1-.4 3.9-2.1 5.8-2.4c1.9-.3 3.9-.2 5.9 .6c2 .8 4.9 3.3 5.9 3.9"/><path class="GO w14 d" d="M120.8 374.8c1.2-.4 4.9-1.9 7.4-2.5c2.5-.6 4.9-.9 7.4-.9c2.5-.1 4.9 .4 7.4 .6c2.5 .2 5 .2 7.5 .6c2.5 .4 6.2 1.8 7.4 2.1"/><path class="O w11" d="M177.4 373.5c1.2 .1 4.7 .1 7 .3c2.3 .2 4.7 .4 7 .8c2.3 .4 4.7 .9 7 1.3c2.3 .4 4.6 .7 6.9 1.2c2.3 .5 4.7 1.5 7 2c2.3 .5 5.8 .8 7 .9"/><path class="G w12" d="M122.3 350.6c1.2-.4 4.9-1.7 7.4-2.4c2.4-.7 4.9-1.7 7.3-1.9c2.4-.2 4.9 .3 7.4 .8c2.5 .5 5 1.3 7.4 2.1c2.4 .8 6.1 2.3 7.3 2.8"/><path class="LG w12 d" d="M184.5 359.4c.9 .3 3.6 1.5 5.4 2c1.8 .5 3.6 1 5.4 1.1c1.8 .1 4.5-.2 5.4-.2"/><path class="PT w12 d" d="M176.8 376.7c1.3 .3 5.2 1.3 7.8 1.9c2.6 .6 5.3 1.1 7.9 1.6c2.6 .5 5.2 1 7.8 1.3c2.6 .3 6.5 .6 7.8 .7"/><path class="LG w12 d" d="M210 385.1c.8-.4 3.1-2.7 4.7-2.4c1.6 .3 3.8 3.3 4.6 4"/><path class="O w14 d" d="M91.7 360.2c1.2 .4 4.8 1.9 7.1 2.6c2.3 .7 4.6 1.3 7 1.6c2.4 .3 4.7 .1 7.1 0c2.4-.1 4.7 0 7.1-.6c2.4-.6 4.7-2.1 7.1-2.9c2.4-.9 5.9-1.8 7.1-2.2"/><path class="GO w14 d" d="M76.2 387.3c1.2 .4 4.8 2.1 7.1 2.7c2.3 .6 4.6 .5 7 .8c2.4 .3 4.8 1.1 7.1 1.1c2.3 0 4.7-.6 7-.9c2.3-.3 4.7-.2 7-.8c2.3-.6 5.9-2.2 7.1-2.7"/><path class="GO w13 d" d="M195.1 383.3c1 .6 4 2.3 6 3.4c2 1.1 4.1 2.2 6.1 3.1c2 .9 4 1.6 6 2.4c2 .8 5.1 1.9 6.1 2.3"/><path class="G w14 d" d="M127.1 367.1c.9 .2 3.7 1.2 5.6 1.4c1.9 .2 3.8 .1 5.7-.1c1.9-.2 4.7-.8 5.6-.9"/><path class="T w13 d" d="M138.9 352.8c1.2 .1 4.9 .6 7.4 .7c2.5 .1 4.9 0 7.4 0c2.5 0 4.9-.1 7.4-.1c2.5 0 6.2 0 7.4 0"/><path class="T w13 d" d="M183 369.5c1 .1 4.1 0 6.1 .5c2 .5 4 1.2 6.1 2.3c2.1 1.1 4.2 2.5 6.2 4.1c2.1 1.6 5.1 4.5 6.1 5.4"/><path class="G w14 d" d="M98.3 370.6c1.2 .6 4.9 2.9 7.3 3.4c2.4 .5 4.9 .2 7.3-.4c2.4-.6 6.1-2.7 7.3-3.2"/><path class="G w14 d" d="M58 372.8c1.3 .1 5 .2 7.6 .5c2.5 .3 5.1 1 7.7 1.1c2.6 .1 5.1-.2 7.7-.3c2.6-.1 5.2 0 7.7 0c2.5 0 6.3 0 7.6 0"/><path class="T w11" d="M110.1 365.2c1.2-.1 4.9-.3 7.3-.4c2.5-.1 4.9-.1 7.4-.1c2.5 0 4.9 .2 7.3 .1c2.4-.1 6.1-.8 7.3-1"/><path class="LG w12 d" d="M113 362.6c1.3-.3 5.2-1.2 7.8-1.7c2.6-.5 5.3-.9 7.9-1.2c2.6-.2 5.3-.5 7.9-.3c2.6 .2 5.3 .8 7.9 1.4c2.6 .6 6.6 1.7 7.9 2.1"/><path class="PG w14 d" d="M198.5 378.6c1.2 0 4.6-.1 6.9 0c2.3 .1 4.7 .6 7 .8c2.3 .2 5.8 .5 6.9 .6"/><path class="GO w13 d" d="M199.2 400.9c1.1 .6 4.5 2.9 6.7 3.6c2.2 .7 4.5 .9 6.7 .4c2.2-.5 5.6-2.7 6.7-3.2"/><path class="GO w12 d" d="M173.6 358c1.1 .4 4.4 1.4 6.6 2.1c2.2 .7 4.5 1.4 6.7 2c2.2 .6 4.5 .8 6.7 1.3c2.2 .5 4.5 1.1 6.7 1.6c2.2 .6 4.4 1.4 6.6 1.7c2.2 .3 5.6 .2 6.7 .3"/><path class="O w12" d="M65.7 376.4c1.1-.4 4.5-1.7 6.7-2.2c2.2-.5 4.5-.8 6.7-.9c2.2-.1 4.5-.2 6.7 0c2.2 .2 4.5 .5 6.7 1.1c2.2 .6 5.7 2.1 6.8 2.5"/><path class="GO w13 d" d="M150.3 360.6c1 .4 4.1 2.2 6.1 2.7c2 .5 4.1 .3 6.1 .3c2 0 5.1-.2 6.1-.3"/><path class="S w14 d" d="M168.9 366.4c1.2 .2 4.6 .8 6.9 1c2.3 .2 4.5 .2 6.8 .5c2.3 .3 4.6 .7 6.9 1.2c2.3 .5 4.5 1.1 6.8 1.6c2.3 .5 4.6 .7 6.9 1.2c2.3 .5 5.7 1.4 6.8 1.7"/><path class="PG w12 d" d="M116.2 361c1.3 .4 5 2 7.6 2.4c2.5 .4 5.1 .1 7.7-.1c2.6-.2 5.1-.4 7.7-.9c2.6-.5 6.3-1.7 7.6-2"/><path class="PT w13" d="M170.1 381.2c1.2 .6 4.8 2.6 7.2 3.7c2.4 1.1 4.7 1.7 7.1 2.7c2.4 1.1 4.8 2.6 7.2 3.6c2.4 1 4.7 1.6 7.1 2.2c2.4 .6 4.7 1.3 7.1 1.7c2.4 .4 6 .4 7.2 .5"/><path class="PT w12 d" d="M66 374.3c1.2 .2 4.8 .9 7.1 1c2.3 .1 4.7-.2 7-.2c2.3 0 4.7 .2 7.1 .2c2.4-.1 5.9-.4 7.1-.5"/><path class="GO w12 d" d="M123.6 380.7c1.2-.3 5-1.4 7.5-1.6c2.5-.2 6.2 .5 7.5 .6"/><path class="S w13" d="M159.9 356.2c1.2 .4 4.6 1.6 6.9 2.3c2.3 .7 4.7 1.4 7 1.8c2.3 .4 4.6 .6 6.9 .9c2.3 .3 4.6 .8 6.9 .9c2.3 .1 4.7-.3 7-.4c2.3-.1 5.8-.3 6.9-.4"/><path class="PT w15 d" d="M132.9 371.4c1.2 .3 4.8 1.1 7.1 1.6c2.3 .5 4.7 1.2 7 1.6c2.3 .4 4.8 .8 7.1 .9c2.3 .1 4.7 .1 7-.2c2.3-.3 4.7-1.2 7-1.7c2.3-.5 5.9-1.1 7.1-1.3"/><path class="G w12" d="M63.8 371.4c1.3-.1 5.1-.3 7.6-.3c2.5 0 5 .3 7.6 .4c2.5 .1 5.2-.2 7.7-.1c2.5 .1 5.1 .2 7.6 .4c2.5 .2 6.3 .6 7.6 .7"/><path class="T w14 d" d="M200.7 382.2c1-.1 4.1-.8 6.2-.8c2.1 0 4.1 .1 6.2 1c2.1 .9 5.2 3.4 6.2 4.1"/><path class="S w12 d" d="M174.5 384.5c1.1 .7 4.5 3.1 6.7 4.2c2.2 1.1 4.4 1.8 6.6 2.4c2.2 .6 4.4 1.1 6.6 1.1c2.2-.1 5.5-1.2 6.6-1.4"/><path class="T w12 d" d="M91.3 360.2c1.3-.1 5.1-.3 7.6-.3c2.5 0 5.1 .4 7.6 .5c2.5 .1 5.1 0 7.6-.2c2.5-.2 6.3-.8 7.6-1"/><path class="T w14 d" d="M142.1 354.3c1.2 .3 5 1.2 7.5 1.8c2.5 .6 5 1.5 7.5 2c2.5 .5 5 .7 7.5 .9c2.5 .2 5 .1 7.5 .1c2.5 .1 5 .1 7.5 .2c2.5 .1 6.2 .4 7.4 .5"/><path class="PG w14 d" d="M194.1 380.2c1.1-.3 4.2-1.6 6.3-1.8c2.1-.2 4.2 .2 6.3 .4c2.1 .2 4.2 .2 6.3 .9c2.1 .7 5.2 2.8 6.3 3.3"/><path class="O w13 d" d="M120.4 371.4c1.2 .3 5 1.4 7.5 1.8c2.5 .4 5 .4 7.5 .3c2.5-.1 5-.4 7.5-.8c2.5-.4 6.2-1.1 7.5-1.3"/><path class="G w13 d" d="M95.8 379.7c1.1-.3 4.5-1.6 6.8-2c2.2-.4 4.5-.4 6.7-.4c2.2 .1 4.5 .3 6.7 .7c2.2 .4 5.6 1.2 6.7 1.4"/><path class="R w13 d" d="M140.1 363.9c1.1 .4 4.5 2.2 6.7 2.7c2.2 .5 4.4 .4 6.7 .2c2.2-.2 5.7-1.4 6.8-1.7"/><path class="T w14 d" d="M95.1 376.9c1.2 0 4.6-.1 6.9-.1c2.3 0 4.5 0 6.8 0c2.3 0 4.5 .1 6.8-.1c2.3-.2 4.5-.7 6.8-.8c2.3-.1 4.5 .3 6.8 .2c2.3-.1 5.7-.4 6.8-.5"/><path class="O w14 d" d="M72.9 374.5c1.1-.1 4.5-.4 6.8-.5c2.3-.1 4.6-.4 6.9-.1c2.3 .3 5.8 1.4 6.9 1.7"/><path class="O w15 d" d="M186.7 369.4c1 0 3.9-.3 5.8 .2c1.9 .5 3.8 1.4 5.7 2.8c1.9 1.4 4.8 4.5 5.7 5.4"/><path class="PT w14 d" d="M81.8 382.8c1.1-.3 4.2-1.7 6.4-2c2.2-.3 4.4-.1 6.5 0c2.1 .1 4.2 .3 6.4 .7c2.2 .4 5.4 1.5 6.5 1.8"/><path class="PT w12 d" d="M89.4 359.6c1.2-.5 4.9-2.4 7.4-2.9c2.5-.5 5-.9 7.5-.3c2.5 .6 6.2 3.2 7.5 3.9"/><path class="PG w13 d" d="M191.3 387.2c1.2 .1 4.7 .4 7 .8c2.3 .4 4.7 1 7 1.4c2.3 .4 4.7 .5 7 .8c2.3 .3 5.8 .8 7 1"/><path class="T w12 d" d="M134.9 372.7c1.3 .3 5.3 1.2 7.9 1.8c2.6 .6 5.3 1.1 7.9 1.7c2.6 .6 5.2 1.6 7.9 1.8c2.7 .2 5.3-.1 8-.3c2.7-.2 6.6-.8 7.9-.9"/><path class="T w11" d="M134.7 360.9c1.2 .5 4.6 2.5 6.9 3.1c2.3 .6 4.7 1.1 7 .6c2.3-.5 5.8-3.2 6.9-3.8"/><path class="G w14 d" d="M100.3 377.5c1.2 0 4.7 .1 7 .1c2.3 0 4.6 0 7-.1c2.4-.1 5.9-.4 7.1-.5"/><path class="LG w11" d="M91 374.7c1.3-.1 5.3-.4 8-.5c2.7-.1 5.3-.2 8-.1c2.7 .1 5.3 .7 8 .7c2.7 0 5.3-.6 8-.7c2.7-.1 6.6 .3 7.9 .4"/><path class="S w12 d" d="M61.3 369.6c1.1 .2 4.4 .8 6.6 1.1c2.2 .2 4.4 .5 6.6 .4c2.2-.1 5.5-1 6.6-1.2"/><path class="PG w12 d" d="M123 371.7c1.3-.3 5.2-1.2 7.9-1.6c2.7-.4 5.3-.7 8-.8c2.7-.1 5.2 .1 7.9 .3c2.7 .2 5.3 .5 8 1.1c2.7 .6 6.6 1.9 7.9 2.3"/><path class="PO w10 d" d="M52.2 365.4c1.5 .2 5.9 .8 8.8 1.3c2.9 .5 7.3 1.3 8.8 1.6"/><path class="T w10 d" d="M94 349.1c1.1 .4 4.4 1.9 6.6 2.7c2.2 .8 4.1 1.5 6.6 2.2c2.5 .7 5.8 1.5 8.7 2.2c2.9 .7 6.1 1.6 8.8 2.2c2.7 .6 6.1 .9 7.3 1.1"/><path class="S w10 d" d="M83 359.5c1.5 .2 5.9 1.3 8.8 1.1c2.9-.2 5.9-2 8.8-2.2c2.9-.2 5.9 .7 8.8 1.1c2.9 .4 7.2 .9 8.7 1.1"/><path class="T w10 d" d="M124.7 335.3l7.3-.7"/><path class="GO w11 d" d="M72 389.1c1.8 .1 7.3 .3 11 .5c3.7 .2 7.3 .3 11 .6c3.7 .3 7.3 .7 11 1.1c3.7 .4 7.6 .7 10.9 1.1c3.3 .4 6.6 .6 8.8 1.1c2.2 .5 3.7 1.5 4.4 1.8"/><path class="G w10 d" d="M74.2 375.9c1.5 .4 5.9 1.5 8.8 2.2c2.9 .7 5.9 1.5 8.8 2.2c2.9 .7 5.9 1.5 8.8 2.2c2.9 .7 7.3 1.8 8.8 2.2"/><path class="T w10 d" d="M80.8 386.9c1.5 .2 5.5 .7 8.8 1.1c3.3 .4 7.3 .7 11 1.1c3.7 .4 9.2 .9 11 1.1"/><path class="LG w10 d" d="M78.6 391.3c1.8 .2 7.3 .7 11 1.1c3.7 .4 7.3 .7 11 1.1c3.7 .4 7.3 .7 11 1.1c3.7 .4 9.1 .9 10.9 1.1"/><path class="LG w10 d" d="M105 365c1.8 .4 7.6 1.6 10.9 2.2c3.3 .6 6.1 1.3 8.8 1.7c2.7 .4 6.1 .8 7.3 .9"/><path class="O w10 d" d="M111.6 375.9c1.5 .2 5.8 .7 8.7 1.1c2.9 .4 7.3 .9 8.8 1.1"/><path class="R w11 d" d="M63.6 332c.1 1.1 .4 4 .7 6.6c.3 2.6 .6 6.2 1.1 8.8c.5 2.6 1.1 4.8 2.2 6.6c1.1 1.8 2.6 2.9 4.4 4.4c1.8 1.5 4.4 2.9 6.6 4.4c2.2 1.5 4.4 2.9 6.6 4.4c2.2 1.5 5.5 3.7 6.6 4.4"/><path class="T w12" d="M114.2 311.7c.6-.6 2.6-2.9 3.9-3.9c1.3-1 2.5-2.3 4-2.2c1.5 .1 3.2 .9 4.8 2.6c1.7 1.6 4.2 6.1 5.1 7.3"/><path class="T w10" d="M126.9 327.6l5.1-.5"/><path class="S w9" d="M118.1 351.8c1.1-1.1 4.3-4.6 6.6-6.6c2.3-2 6.1-4.6 7.3-5.5"/><path class="G w11" d="M106.1 343.4c.9-.1 3.5-1 5.5-.9c2 .1 4.3 1 6.5 1.6c2.2 .6 5.5 1.8 6.6 2.2"/><path class="G w11" d="M70.9 345.6c.9 .2 3.5 .4 5.5 1.3c2 .9 4.4 2.2 6.6 3.8c2.2 1.6 4.8 3.8 6.6 5.5c1.8 1.7 2.6 2.9 4.4 4.4c1.8 1.5 4.4 3.3 6.6 4.4c2.2 1.1 5.5 1.8 6.6 2.2"/><path class="T w10" d="M86.3 344.7c.2 1 .4 4.1 1.1 6c.7 1.9 1.8 3.8 3.3 5.5c1.5 1.7 3.5 3.1 5.5 4.4c2 1.3 5.5 2.7 6.6 3.3"/><path class="G w10" d="M64.3 355.7c1.3 .5 5.3 2.1 7.7 3.1c2.4 1 4.4 1.9 6.6 2.9c2.2 1 5.5 2.8 6.6 3.3"/><path class="T w9" d="M74.2 360.6l3.3-3.3"/><path class="LG w9" d="M58.8 359.5c.4 .7 1.5 2.8 2.2 4.4c.7 1.6 1.3 3.7 2.2 5.5c.9 1.8 2.8 4.5 3.3 5.4"/><path class="S w9" d="M44.5 359.5c.7 .7 2.9 2.8 4.4 4.4c1.5 1.6 2.8 3.7 4.4 5.5c1.6 1.8 3.7 4 5.5 5.4c1.8 1.4 3.7 2.2 5.5 3.3c1.8 1.1 4.6 2.7 5.5 3.3"/><path class="O w16" d="M73.1 369.8c1.3 .3 5.3 1.1 7.7 1.8c2.4 .7 4.4 1.6 6.6 2.2c2.2 .6 4.4 1.2 6.6 1.7c2.2 .5 4.4 1.1 6.6 1.5c2.2 .4 5.5 .6 6.6 .7"/><path class="GO w14" d="M75.3 381.4c1.3 .3 5 1.1 7.7 1.6c2.8 .5 5.9 .9 8.8 1.3c2.9 .4 5.9 .8 8.8 .9c2.9 .1 7.3-.4 8.8-.5"/><path class="T w11" d="M96.2 382.5c1.5 .4 5.5 1.5 8.8 2.2c3.3 .7 7.6 1.2 10.9 1.8c3.3 .6 6.1 1.1 8.8 1.5c2.7 .4 6.1 .9 7.3 1.1"/><path class="G w11" d="M94 379.2c1.8 .2 7.3 .7 11 1.1c3.7 .4 7.6 .7 10.9 1.1c3.3 .4 6.1 .8 8.8 1.1c2.7 .3 6.1 .4 7.3 .5"/><path class="GO w12" d="M115.9 393.5c1.5 .3 6.6 1.4 8.8 1.8c2.2 .4 3.7 .8 4.4 .9"/><path class="S w10" d="M137.5 293.5c.4 1.3 1.5 4.8 2.2 7.7c.7 2.9 1.8 8.3 2.2 9.9"/><path class="S w10 d" d="M138.6 294.6c1.1 1.8 4.4 7.7 6.6 11c2.2 3.3 4 6.5 6.6 8.8c2.6 2.3 7.3 4 8.8 4.8"/><path class="S w11" d="M132 323.2c1.1-.2 4.6-.7 6.6-1.1c2-.4 4-1.5 5.5-1.1c1.5 .4 2.2 1.8 3.3 3.3c1.1 1.5 2.2 3.7 3.3 5.5c1.1 1.8 2 3.7 3.3 5.5c1.3 1.8 3.7 4.6 4.4 5.5"/><path class="T w10" d="M132 334.2c1.5 .1 5.9 .1 8.8 .4c2.9 .3 7.3 1.1 8.8 1.3"/><path class="G w10 d" d="M161.7 333.1c.6-.2 2.2-1.5 3.3-1.1c1.1 .4 2.4 1.5 3.3 3.3c.9 1.8 1.5 4.9 2.2 7.7c.7 2.8 1.5 6.2 2.2 8.8c.7 2.6 1.8 5.5 2.2 6.6"/><path class="G w10 d" d="M184.8 335.3c.8-.6 3.5-3.7 4.8-3.3c1.3 .4 1.9 2.9 2.9 5.5c1 2.6 2 6.4 3.3 9.9c1.3 3.5 2.9 7.3 4.4 11c1.5 3.7 3.1 8.6 4.4 11c1.3 2.4 2.8 2.8 3.3 3.3"/><path class="S w10 d" d="M165 340.8c1.1 .7 4.4 3 6.6 4.4c2.2 1.4 4.8 3.1 6.6 3.9c1.8 .8 3.7 .8 4.4 .9"/><path class="T w10" d="M132 340.8c1.5 .2 5.9 .4 8.8 1.1c2.9 .7 5.9 2.2 8.8 3.3c2.9 1.1 5.9 2.4 8.8 3.3c2.9 .9 5.9 1.3 8.8 2.2c2.9 .9 7.3 2.8 8.8 3.3"/><path class="O w13" d="M151.8 350.7c.7 .4 2.9 1.3 4.4 2.2c1.5 .9 2.9 2.2 4.4 3.3c1.5 1.1 3.7 2.8 4.4 3.3"/><path class="R w13" d="M144.1 365c.9-.4 3.5-1.6 5.5-2.2c2-.6 4.4-.7 6.6-1.1c2.2-.4 4-1.1 6.6-1.1c2.6 0 5.9 .7 8.8 1.1c2.9 .4 7.3 .9 8.8 1.1"/><path class="O w16" d="M143 362.8c1.1 .2 4.4 .7 6.6 1.1c2.2 .4 4.4 .6 6.6 1.1c2.2 .6 4.4 1.5 6.6 2.2c2.2 .7 4.4 1.5 6.6 2.2c2.2 .7 5.5 1.8 6.6 2.2"/><path class="O w14" d="M154 374.8c1.5 .1 5.9 .3 8.8 .7c2.9 .4 5.9 1.1 8.8 1.5c2.9 .4 5.9 .6 8.8 1.1c2.9 .6 5.9 1.5 8.8 2.2c2.9 .7 7.3 1.8 8.8 2.2"/><path class="G w12" d="M182.6 366.1c1.1 .2 4 .7 6.6 1.1c2.6 .4 7.3 .9 8.8 1.1"/><path class="G w11" d="M165 371.6c1.1 .2 4.4 .7 6.6 1.1c2.2 .4 4 .6 6.6 1.1c2.6 .5 7.3 1.7 8.8 2.1"/><path class="T w12" d="M198 382.5c1.1-.4 4.4-2.3 6.6-2.2c2.2 .1 5.1 2.1 6.6 2.7c1.5 .6 1.8 .5 2.2 .6"/><path class="GO w14" d="M132 380.3c1.5 .7 5.9 3.1 8.8 4.4c2.9 1.3 5.9 2.4 8.8 3.3c2.9 .9 5.9 1.6 8.8 2.2c2.9 .6 7.3 .9 8.8 1.1"/><path class="GO w16" d="M132 389.1c1.5 .2 5.9 .7 8.8 1.1c2.9 .4 5.9 .6 8.8 1.1c2.9 .5 5.9 1.2 8.8 1.8c2.9 .6 5.9 1.1 8.8 1.5c2.9 .4 7.3 .9 8.8 1.1"/><path class="T w12" d="M132 375.9c1.5 .4 5.9 1.5 8.8 2.2c2.9 .7 5.9 1.5 8.8 2.2c2.9 .7 5.9 1.5 8.8 2.2c2.9 .7 5.9 1.5 8.8 2.2c2.9 .7 5.9 1.5 8.8 2.2c2.9 .7 7.3 1.8 8.8 2.2"/><path class="T w12" d="M176 391.3c1.5 .4 5.9 1.5 8.8 2.2c2.9 .7 5.9 1.5 8.8 2.2c2.9 .7 5.9 1.6 8.8 2.2c2.9 .6 6.6 .7 8.8 1.1c2.2 .4 3.7 .9 4.4 1.1"/><path class="O w13" d="M184.8 391.3c1.5 .3 5.9 1.1 8.8 1.8c2.9 .7 6.2 1.6 8.8 2.2c2.6 .6 5.5 1.2 6.6 1.5"/><path class="O w14" d="M178.2 401.2c1.5 .1 5.9 .5 8.8 .7c2.9 .2 5.9 .2 8.8 .4c2.9 .2 6.8 .7 8.8 1.1c2 .4 2.8 .9 3.3 1.1"/><path class="S w12" d="M189.2 393.5c1.5 .6 5.9 2.4 8.8 3.3c2.9 .9 6.1 1.6 8.8 2.2c2.8 .6 6.4 .9 7.7 1.1"/><path class="G w12" d="M132 371.6c1.5 .2 5.9 .6 8.8 1.1c2.9 .5 5.9 1.2 8.8 2.1c2.9 .9 7.3 2.8 8.8 3.3"/><path class="LG w10 d" d="M132 358.4c1.5 .2 5.9 .7 8.8 1.1c2.9 .4 7.3 .9 8.8 1.1"/><path class="T w10 d" d="M132 354c1.5 .2 5.9 .7 8.8 1.1c2.9 .4 7.3 .9 8.8 1.1"/><path class="G w12" d="M132 393.5c1.5 .2 5.9 .7 8.8 1.1c2.9 .4 7.3 .9 8.8 1.1"/><path class="T w10 d" d="M171.6 351.8c1.5 .4 5.9 1.5 8.8 2.2c2.9 .7 6.2 1.1 8.8 2.2c2.6 1.1 5.5 3.7 6.6 4.4"/><path class="T w13" d="M130.5 314c.1 .8 .2 3.2 .8 4.9c.6 1.7 1.6 4.1 2.6 5.3c1 1.2 2.6 1.6 3.5 1.7c.9 .1 1.8-.8 2.2-.9"/><path class="S w12" d="M126.5 328.1c.8-.2 3.1-.4 4.8-1.3c1.7-.9 3.4-3.1 5.2-4c1.8-.9 3.7-1.6 5.3-1.7c1.6-.1 3.1 .5 4.4 1.3c1.3 .8 2.6 2.3 3.5 3.5c.9 1.2 1.4 2.9 1.7 3.5"/></g></g><path d="M37.7 364.3c2.4 .6 9.6 2.5 14.6 3.5c5 1 10.1 1.9 15.2 2.6c5.1 .7 10.2 1.2 15.2 1.6c5 .4 10.5 .5 15.1 .6c4.5 .1 8.7 .4 12.2 .3c3.5-.1 6.1-.5 9.1-.9c3-.4 6.1-1.1 9.1-1.5c3-.4 6.6-.8 9.1-.9c2.5-.1 3.6-.4 6.1 0c2.5 .4 6.1 1.8 9.1 2.4c3 .6 6.1 1 9.1 1.5c3 .5 6.1 1 9.1 1.6c3 .6 6.1 1.2 9.1 2.3c3 1.1 6.1 2.5 9.1 4c3 1.5 6 3.2 9.1 4.8c3.1 1.6 6.1 3.2 9.2 4.7c3.1 1.5 6.1 3 9.1 4.2c3 1.2 7.6 2.4 9.1 2.9L225.4 407.6c-1.5-.9-6.1-3.2-9.1-5.1c-3-1.9-6.1-4.1-9.1-6.1c-3.1-2.1-6.1-4.1-9.2-6.2c-3.1-2.1-6.1-4.3-9.1-6.1c-3-1.8-6.1-3.4-9.1-4.6c-3-1.2-6.1-1.7-9.1-2.4c-3-.7-6.1-1.1-9.1-1.6c-3-.5-6.1-.9-9.1-1.5c-3-.6-6.6-2-9.1-2.4c-2.5-.4-3.6-.1-6.1 0c-2.5 .1-6.1 .5-9.1 .9c-3 .4-6.1 1.1-9.1 1.5c-3 .4-5.5 .8-9.1 .9c-3.5 .1-7.7-.2-12.2-.3c-4.5-.1-10-.4-15.1-.5c-5-.1-10.1-.1-15.2-.2c-5.1-.1-10.2-.3-15.2-.5c-5-.2-12.2-.6-14.6-.7Z" fill="#9a9a9a" fill-opacity="0.45"/><path d="M37.7 368.5c2.4 .4 9.6 1.5 14.6 2.1c5 .6 10.1 1.1 15.2 1.5c5.1 .4 10.2 .6 15.2 .9c5 .2 10.5 .5 15.1 .6c4.5 .1 8.7 .4 12.2 .3c3.5-.1 6.1-.5 9.1-.9c3-.4 6.1-1.1 9.1-1.5c3-.4 6.6-.8 9.1-.9c2.5-.1 3.6-.4 6.1 0c2.5 .4 6.1 1.8 9.1 2.4c3 .6 6.1 1 9.1 1.5c3 .5 6.1 .9 9.1 1.6c3 .7 6.1 1.3 9.1 2.4c3 1.1 6.1 2.6 9.1 4.2c3 1.6 6 3.7 9.1 5.5c3.1 1.8 6.1 3.7 9.2 5.5c3.1 1.8 6.1 3.6 9.1 5.1c3 1.5 7.6 3.3 9.1 4" fill="none" stroke="#111" stroke-width="1.35"/></g>
<clipPath id="cC1"><rect x="27.8" y="287.9" width="207.6" height="125.4"/></clipPath>
<rect x="27.8" y="287.9" width="207.6" height="125.4" fill="none" stroke="#bfbfbf" stroke-width="1"/>
<g font-family="Liberation Sans, sans-serif" font-size="3.6" fill="#3a3a3a"><line x1="26.6" y1="307.4" x2="27.8" y2="307.4" stroke="#444" stroke-width="0.7"/><text x="26.2" y="308.6" text-anchor="end">400</text><line x1="26.6" y1="335.1" x2="27.8" y2="335.1" stroke="#444" stroke-width="0.7"/><text x="26.2" y="336.3" text-anchor="end">300</text><line x1="26.6" y1="363.6" x2="27.8" y2="363.6" stroke="#444" stroke-width="0.7"/><text x="26.2" y="364.8" text-anchor="end">200</text><line x1="26.6" y1="391.6" x2="27.8" y2="391.6" stroke="#444" stroke-width="0.7"/><text x="26.2" y="392.8" text-anchor="end">100</text><line x1="80.6" y1="413.3" x2="80.6" y2="414.5" stroke="#444" stroke-width="0.7"/><text x="80.6" y="417.9" text-anchor="middle">0.25</text><line x1="133.7" y1="413.3" x2="133.7" y2="414.5" stroke="#444" stroke-width="0.7"/><text x="133.7" y="417.9" text-anchor="middle">0.50</text><line x1="186.9" y1="413.3" x2="186.9" y2="414.5" stroke="#444" stroke-width="0.7"/><text x="186.9" y="417.9" text-anchor="middle">0.75</text></g>
<g><line x1="250.5" y1="307.7" x2="459.4" y2="307.7" stroke="#f3f3f3" stroke-width="0.6"/><line x1="250.5" y1="338.1" x2="459.4" y2="338.1" stroke="#f3f3f3" stroke-width="0.6"/><line x1="250.5" y1="368.6" x2="459.4" y2="368.6" stroke="#f3f3f3" stroke-width="0.6"/><line x1="250.5" y1="399" x2="459.4" y2="399" stroke="#f3f3f3" stroke-width="0.6"/><line x1="276.8" y1="288" x2="276.8" y2="413.3" stroke="#f3f3f3" stroke-width="0.6"/><line x1="330.3" y1="288" x2="330.3" y2="413.3" stroke="#f3f3f3" stroke-width="0.6"/><line x1="383.8" y1="288" x2="383.8" y2="413.3" stroke="#f3f3f3" stroke-width="0.6"/><line x1="437.4" y1="288" x2="437.4" y2="413.3" stroke="#f3f3f3" stroke-width="0.6"/><line x1="250.5" y1="292.5" x2="459.4" y2="292.5" stroke="#ebebeb" stroke-width="0.8"/><line x1="250.5" y1="323.1" x2="459.4" y2="323.1" stroke="#ebebeb" stroke-width="0.8"/><line x1="250.5" y1="353.5" x2="459.4" y2="353.5" stroke="#ebebeb" stroke-width="0.8"/><line x1="250.5" y1="383.8" x2="459.4" y2="383.8" stroke="#ebebeb" stroke-width="0.8"/><line x1="303.6" y1="288" x2="303.6" y2="413.3" stroke="#ebebeb" stroke-width="0.8"/><line x1="357.1" y1="288" x2="357.1" y2="413.3" stroke="#ebebeb" stroke-width="0.8"/><line x1="410.6" y1="288" x2="410.6" y2="413.3" stroke="#ebebeb" stroke-width="0.8"/></g>
<g clip-path="url(#cC2)"><g filter="url(#bl)"><g fill="none" stroke-linecap="round" stroke-linejoin="round"><path class="G w12 d" d="M336.6 352c1.2-.1 4.8-.7 7.1-.9c2.3-.2 4.6-.5 7-.5c2.4 0 4.8 .4 7.1 .7c2.4 .3 4.7 .7 7 1.4c2.3 .7 4.7 1.7 7.1 2.7c2.4 1 5.9 2.7 7.1 3.2"/><path class="LG w12 d" d="M309.2 352c1.2 .1 4.8 .6 7.2 .8c2.4 .2 4.8 .1 7.2 .3c2.4 .2 4.8 .4 7.2 .8c2.4 .4 4.8 1.1 7.2 1.4c2.4 .3 4.8 .1 7.2 .4c2.4 .3 4.8 .8 7.2 1.2c2.4 .4 5.9 1.2 7.1 1.4"/><path class="G w11 d" d="M388.5 340.1c1.1 .6 4.6 2.4 6.9 3.3c2.3 .9 4.6 1.4 6.9 2c2.3 .6 4.5 1.2 6.8 1.3c2.3 .1 5.8-.4 6.9-.5"/><path class="PT w10 d" d="M390.6 336.5c1.2-.3 5-1.8 7.5-2c2.5-.2 5 .1 7.5 .9c2.5 .8 6.3 3.1 7.6 3.7"/><path class="PG w11 d" d="M379.3 340.3c1.3 .6 5.1 2.5 7.6 3.3c2.5 .8 5 .9 7.5 1.5c2.5 .6 5.1 1.4 7.6 1.9c2.5 .5 5 .7 7.5 .9c2.5 .2 5.1 .5 7.6 .4c2.5-.1 5-.5 7.5-.8c2.5-.3 6.3-.8 7.6-1"/><path class="PT w10 d" d="M328.3 352.5c1.2 .1 4.7 .3 7 .5c2.3 .2 4.7 .2 7.1 .6c2.4 .4 4.6 1.1 7 1.8c2.4 .7 5.9 2 7.1 2.4"/><path class="PT w12 d" d="M374.7 334.7c1.2 .4 4.7 1.8 7.1 2.7c2.4 .9 4.7 2.1 7.1 2.8c2.4 .7 4.6 .9 7 1.2c2.4 .3 4.7 .6 7.1 .8c2.4 .2 4.7 .5 7.1 .4c2.4-.1 5.9-1 7.1-1.2"/><path class="LG w9" d="M357.1 336.9c1.2-.1 4.9-.6 7.4-.5c2.5 .1 4.9 .4 7.4 .8c2.5 .4 5 .9 7.4 1.7c2.4 .8 6.1 2.5 7.3 3"/><path class="T w12 d" d="M352 350.3c1.3 0 5.1 .1 7.6 .2c2.5 .1 5.1 0 7.6 .2c2.5 .2 5.1 .5 7.6 .8c2.6 .3 5.1 .7 7.7 1c2.6 .3 5.1 .4 7.6 .9c2.5 .5 5.1 1.5 7.6 2.2c2.5 .8 6.3 1.9 7.6 2.3"/><path class="GO w12" d="M365.5 389.3c1.2 0 5-.3 7.5-.2c2.5 .1 4.9 .2 7.4 .6c2.5 .4 6.2 1.3 7.5 1.6"/><path class="T w13 d" d="M397.6 378.4c1.2-.2 4.8-1 7.2-1.3c2.4-.2 4.7-.4 7.1-.2c2.4 .2 4.7 .9 7.1 1.2c2.4 .3 4.7 .2 7.1 .6c2.4 .4 4.8 1.2 7.2 2c2.4 .8 5.9 2.1 7.1 2.5"/><path class="GO w14" d="M310 377.3c1.1-.2 4.6-.7 6.8-1c2.2-.3 4.4-.7 6.7-.9c2.2-.2 4.5-.2 6.8-.3c2.3-.1 4.5-.2 6.8-.2c2.3-.1 4.5-.2 6.8-.1c2.3 .1 5.7 .5 6.8 .6"/><path class="T w14 d" d="M307.5 385c1.2-.2 4.8-.8 7.1-1.1c2.4-.3 4.7-.7 7-.8c2.3-.1 4.6 .3 7 .5c2.4 .2 5.9 .5 7.1 .6"/><path class="GO w13 d" d="M349.8 376.5c1.3 .2 5.3 1 8 1.4c2.7 .4 5.3 1 8 1.2c2.7 .2 5.3 .4 8 .1c2.7-.3 6.7-1.4 8-1.7"/><path class="PT w14 d" d="M417 382.6c1 .4 4.1 1.9 6.1 2.5c2 .6 4.1 .8 6.1 1.3c2 .5 4 1.3 6 1.7c2 .4 5.1 .8 6.1 1"/><path class="T w15 d" d="M372.1 357.2c1.2-.3 4.9-1.3 7.4-1.7c2.5-.4 4.9-.4 7.4-.5c2.4-.1 4.9-.5 7.3-.3c2.4 .2 4.9 .9 7.4 1.3c2.5 .4 4.9 .4 7.4 1c2.5 .6 6.2 2.2 7.4 2.6"/><path class="T w12 d" d="M411.5 382.9c1.2-.1 4.9-.7 7.4-.7c2.5 0 5 .4 7.5 .9c2.5 .5 4.9 1.1 7.4 2c2.5 .9 6.2 2.6 7.5 3.1"/><path class="S w13" d="M299.5 392c1.1 .3 4.4 1.1 6.6 1.6c2.2 .5 4.5 1.2 6.7 1.4c2.2 .2 4.4 .2 6.6-.2c2.2-.4 4.5-1.2 6.7-1.9c2.2-.7 5.6-1.8 6.7-2.2"/><path class="O w14 d" d="M300.1 366.6c1.2 0 4.8 0 7.2 .1c2.4 .1 4.7 .6 7.1 .6c2.4 0 4.8-.6 7.2-.8c2.4-.2 4.8-.1 7.2-.2c2.4-.1 4.8-.4 7.2-.7c2.4-.3 5.9-.8 7.1-1"/><path class="G w12 d" d="M411.6 370.9c1.1 .1 4.3 .3 6.4 .4c2.1 .1 4.3-.3 6.4 0c2.1 .3 4.3 1.2 6.4 1.7c2.1 .5 5.3 1.1 6.4 1.3"/><path class="T w13 d" d="M306.4 362.2c1.2-.2 4.8-.9 7.2-1.4c2.4-.4 4.9-1 7.3-1.3c2.4-.3 4.9-.5 7.3-.7c2.4-.2 4.9-.6 7.3-.7c2.4-.1 4.9 .1 7.3 .2c2.4 .1 6 .2 7.2 .3"/><path class="LG w12 d" d="M326 370.5c1-.4 4-1.9 6-2.6c2-.7 4-1.2 6-1.4c2-.2 4-.1 6 .3c2 .4 5 1.7 6 2.1"/><path class="T w13 d" d="M403 367.9c1.3 .4 5.4 2.2 8 2.7c2.6 .5 5.2 .5 7.9 .2c2.6-.3 6.7-1.6 8-1.9"/><path class="G w13 d" d="M355.7 357.3c1.1-.2 4.6-1.2 6.8-1.5c2.2-.2 4.4-.4 6.7 0c2.2 .4 5.7 2 6.8 2.4"/><path class="G w14 d" d="M294.6 387.3c1.2-.1 4.8-.4 7.2-.6c2.4-.2 4.7-.5 7.1-.5c2.4 0 4.7 .4 7.1 .4c2.4 0 4.7-.2 7.1-.4c2.4-.2 5.9-.6 7.1-.7"/><path class="T w15 d" d="M336.1 384.1c1.1-.3 4.6-1.2 6.9-1.7c2.3-.6 4.6-1.3 6.9-1.6c2.3-.3 4.6-.3 6.9-.4c2.3-.1 4.6-.4 6.9-.1c2.3 .3 4.6 1.1 6.9 1.8c2.3 .7 5.8 2 6.9 2.4"/><path class="LG w13" d="M419.3 372.6c1.2 .5 4.9 2.4 7.4 3c2.4 .6 4.9 1.2 7.3 .8c2.4-.4 6.1-2.5 7.3-3"/><path class="GO w13 d" d="M317.6 386.6c1.3 .2 5.3 .9 7.9 1.2c2.6 .3 5.3 .9 7.9 .9c2.6 0 5.3-.6 7.9-.7c2.6-.1 5.3 .2 7.9-.1c2.6-.3 6.6-1.3 7.9-1.6"/><path class="S w12 d" d="M300.3 371.5c1-.2 4-.8 6-1c2-.2 4-.3 6-.1c2 .2 5 .9 6 1.1"/><path class="G w14 d" d="M379 390.8c1.2 0 4.9 .1 7.3 .2c2.4 .1 4.9 .1 7.4 .2c2.5 .1 4.9-.1 7.4 .1c2.5 .2 4.9 .6 7.4 1.1c2.5 .5 4.9 1.3 7.4 1.9c2.5 .6 6.2 1.6 7.4 1.9"/><path class="O w12 d" d="M309 369.1c1.2 0 4.9 0 7.4 0c2.5 0 4.9-.1 7.4-.1c2.5-.1 5 0 7.5-.2c2.5-.2 4.9-.8 7.4-1.2c2.5-.4 4.9-.5 7.4-.9c2.5-.4 6.2-1.2 7.5-1.5"/><path class="T w14 d" d="M420 390.7c1.2 0 4.7-.3 7.1 .1c2.4 .4 4.7 1.3 7.1 2.2c2.4 .9 5.9 2.8 7.1 3.3"/><path class="O w14 d" d="M406.4 377.8c1.3 .1 5.2-.3 7.7 .7c2.6 1 6.3 4.4 7.6 5.3"/><path class="LG w13" d="M397.7 396.4c1.2 .1 5 .2 7.5 .4c2.5 .2 6.3 .9 7.6 1.1"/><path class="O w14 d" d="M371.4 367.1c1.1 .2 4.4 .9 6.6 1.2c2.2 .3 4.5 .3 6.7 .7c2.2 .4 4.5 .9 6.7 1.4c2.2 .5 5.6 1.2 6.7 1.4"/><path class="R w12" d="M318.6 388.6c1.1-.3 4.5-1.3 6.8-1.7c2.3-.4 4.5-1 6.8-.9c2.3 .1 5.7 1.2 6.8 1.5"/><path class="T w12 d" d="M276.1 377.1c1.3-.4 5.2-2.7 7.9-2.7c2.6 0 6.7 2.3 8 2.8"/><path class="G w12" d="M368.7 377.6c1.3 .1 5.2 .4 7.8 .6c2.6 .2 5.2 .5 7.8 .8c2.6 .3 5.2 .8 7.8 .9c2.6 .1 6.6-.4 7.9-.5"/><path class="G w11" d="M314.2 372.4c1-.4 4-2.2 5.9-2.7c1.9-.5 3.8-.6 5.8-.4c1.9 .2 4.9 1.5 5.9 1.8"/><path class="GO w13 d" d="M296.3 378.1c1.3 .2 5.1 1.1 7.6 1.4c2.5 .3 5.1 .4 7.6 .3c2.5-.1 5.1-.3 7.6-.7c2.6-.4 6.4-1.4 7.7-1.7"/><path class="R w12 d" d="M398.5 359.7c.9-.3 3.7-1.8 5.5-2.1c1.8-.3 3.7-.4 5.5 .2c1.8 .6 4.6 2.9 5.5 3.5"/><path class="LG w14 d" d="M290.7 386.5c1.1-.2 4.5-.8 6.8-1.1c2.3-.3 4.6-.5 6.8-.6c2.2-.1 4.4 .1 6.7 .3c2.2 .2 5.7 .6 6.8 .7"/><path class="GO w13 d" d="M389.5 378.6c1.3 .2 5.1 1.2 7.6 1.5c2.5 .3 5.1 .4 7.6 .5c2.5 .1 6.2-.1 7.5-.1"/><path class="S w12 d" d="M340.5 364.1c1.2 0 4.9 .2 7.4 .2c2.5 0 5 0 7.5-.1c2.5-.1 4.9-.4 7.4-.4c2.5 0 4.9 .4 7.4 .4c2.5 0 6.2-.5 7.4-.6"/><path class="G w14 d" d="M373.2 384.6c1.1 0 4.4 .1 6.6 .1c2.2 0 4.3-.2 6.5-.2c2.2 0 4.3 .3 6.5 .4c2.2 .1 4.4 .2 6.6 .4c2.2 .2 5.4 .6 6.5 .7"/><path class="T w13" d="M387 371.8c1.3-.4 5.2-2 7.8-2.1c2.6-.1 5.2 .4 7.8 1.6c2.6 1.2 6.5 4.4 7.8 5.3"/><path class="T w12 d" d="M405.4 388.4c1.1-.1 4.3-.9 6.4-.8c2.1 .1 4.2 1 6.3 1.7c2.1 .7 5.3 2.2 6.4 2.7"/><path class="T w13 d" d="M405.7 369c1.2 .4 4.8 1.2 7.2 2.1c2.4 .9 4.7 2.2 7.1 3.2c2.4 1 4.7 1.6 7.1 2.6c2.4 1 4.7 2.3 7.1 3.5c2.4 1.2 5.9 2.9 7.1 3.5"/><path class="O w15 d" d="M420.5 372.9c1.1-.2 4.6-1.2 6.9-1.3c2.3-.1 4.7 0 7 .8c2.3 .8 5.8 3.3 6.9 4"/><path class="O w14 d" d="M327.5 357.7c1.3-.1 5.1-.4 7.6-.5c2.6-.1 5.1-.2 7.7-.4c2.6-.2 5-.5 7.6-.6c2.6-.1 6.4 0 7.7 0"/><path class="GO w14 d" d="M424.8 387.6c.9-.4 3.7-2 5.5-2.3c1.8-.3 3.7 .1 5.5 .6c1.8 .4 4.6 1.8 5.5 2.1"/><path class="O w14 d" d="M427.1 399.4c1.2 .2 4.7 .4 7.1 1.1c2.4 .7 5.9 2.5 7.1 3"/><path class="G w11" d="M391.3 380c1.1 .4 4.5 1.6 6.7 2.1c2.2 .5 4.4 .6 6.6 .9c2.2 .3 4.5 .8 6.7 1c2.2 .2 4.5 0 6.7 0c2.2 0 4.5 .3 6.7 .2c2.2-.1 5.5-.6 6.6-.7"/><path class="G w12" d="M346.7 371.5c1.2-.2 4.8-.7 7.2-1.1c2.4-.4 4.8-1.1 7.2-1.2c2.4-.1 4.8 .2 7.2 .3c2.4 .1 4.8 .2 7.2 .4c2.4 .2 4.8 .3 7.2 .6c2.4 .3 6 .9 7.2 1.1"/><path class="LG w12 d" d="M325 379.5c1.1 .1 4.3 .5 6.4 .7c2.1 .2 4.3 .7 6.4 .6c2.1-.1 4.3-.5 6.4-.9c2.1-.4 5.3-1.3 6.4-1.6"/><path class="PG w12 d" d="M329.5 376.5c.9 .2 3.8 1.3 5.6 1.5c1.9 .2 3.6-.2 5.5-.5c1.9-.3 4.7-1 5.6-1.2"/><path class="PT w13 d" d="M356.1 383.9c1 0 4.1-.3 6.1-.2c2 .1 4.1 .8 6.1 .9c2 .1 5.1-.1 6.1-.1"/><path class="O w12 d" d="M412 373.4c1.1 .4 4.6 1.6 6.9 2.4c2.3 .8 4.7 1.7 7 2.5c2.3 .8 4.6 1.3 6.9 2.1c2.3 .8 5.8 2.3 7 2.7"/><path class="GO w14 d" d="M385 366.5c1.3 .8 5.1 4.3 7.7 4.6c2.6 .3 6.4-2.4 7.7-2.9"/><path class="R w14 d" d="M302.4 376.9c1 .3 4 1.3 6 1.7c2 .4 4 .7 6 .8c2 .1 4 0 6-.5c2-.5 5-1.9 6-2.3"/><path class="PG w12 d" d="M297.3 383.8c1.1 .4 4.5 2.1 6.7 2.7c2.2 .6 4.5 .8 6.7 .6c2.2-.1 4.4-.7 6.7-1.5c2.2-.8 5.7-2.7 6.8-3.2"/><path class="T w13 d" d="M389.8 381.2c1.3 .3 5.3 1.7 8 2c2.7 .3 5.3 .2 8 0c2.7-.2 6.7-1 8-1.2"/><path class="T w14 d" d="M326.6 366.4c1.1-.1 4.4-.2 6.5-.5c2.1-.3 4.3-.9 6.4-1.1c2.1-.2 4.2-.1 6.4-.2c2.1-.1 4.4-.2 6.5-.2c2.1 0 5.3 .2 6.4 .2"/><path class="LG w12" d="M304 379.1c1.2 .2 4.7 .8 7 1.1c2.3 .3 4.7 .6 7 .7c2.3 .1 4.7-.1 7-.3c2.3-.2 4.6-.6 7-.9c2.4-.4 4.8-.7 7.1-1.2c2.4-.5 5.8-1.4 7-1.7"/><path class="S w12 d" d="M314.1 382.1c1.1-.4 4.3-1.8 6.5-2.4c2.2-.7 4.3-1.2 6.5-1.5c2.2-.2 4.4-.4 6.5 0c2.1 .4 5.3 1.9 6.4 2.3"/><path class="PT w13 d" d="M328.2 381.2c1.1 .2 4.6 1.3 6.8 1.5c2.2 .2 4.4 .2 6.7-.4c2.2-.6 5.7-2.4 6.8-2.9"/><path class="R w12 d" d="M423 387.1c1 .1 4.1 .2 6.1 .6c2 .4 4.1 1.1 6.1 1.6c2 .5 5.1 1 6.1 1.2"/><path class="S w12" d="M309.3 373.2c1.1 .4 4.3 2 6.5 2.2c2.2 .2 4.3-.3 6.5-.8c2.2-.5 5.4-2 6.5-2.4"/><path class="G w13 d" d="M339.4 394.8c1.1-.2 4.3-.9 6.5-1.2c2.2-.2 4.3-.3 6.5-.3c2.2 0 4.4 .2 6.5 .2c2.1 0 4.2-.4 6.4-.2c2.2 .2 5.4 1.2 6.5 1.4"/><path class="O w11" d="M302.5 387c1.2-.1 4.9-.6 7.4-.8c2.5-.2 4.9-.1 7.4-.3c2.5-.2 4.9-.7 7.4-.8c2.5-.1 4.9 .2 7.4 .2c2.5-.1 4.9-.4 7.4-.5c2.5-.1 6.2 .1 7.4 .1"/><path class="G w14 d" d="M280.8 381.7c1.2-.1 4.8-.4 7.2-.3c2.4 .1 4.8 .6 7.2 .6c2.4 0 4.8-.3 7.2-.4c2.4-.1 4.7-.4 7.1-.4c2.4 0 4.8 .3 7.2 .2c2.4-.1 6-.9 7.2-1.1"/><path class="PT w13 d" d="M411.7 376.9c1.3 .2 5.1 1 7.6 1.4c2.5 .4 5.1 .6 7.6 1.1c2.5 .4 6.3 1.3 7.6 1.6"/><path class="LG w13 d" d="M363.1 373.1c1.3-.2 5.2-1.3 7.8-1.4c2.6-.1 5.3 .3 7.9 .7c2.6 .4 5.3 1 7.9 1.8c2.6 .8 6.6 2.4 7.9 2.9"/><path class="O w11" d="M301.7 375c1.2 .4 4.8 1.6 7.2 2.1c2.4 .5 4.8 .8 7.2 .9c2.4 .1 4.8-.1 7.2-.2c2.4-.1 4.8-.1 7.2-.5c2.4-.4 4.9-.9 7.3-1.6c2.4-.7 6-2.2 7.2-2.7"/><path class="GO w14 d" d="M405.4 371.9c1.2 .1 4.9 .4 7.3 .6c2.4 .2 5 .4 7.4 .6c2.4 .2 6.1 .3 7.3 .4"/><path class="GO w13 d" d="M316.2 394.5c1.1-.2 4.5-.9 6.7-1.2c2.2-.3 4.4-.2 6.6-.4c2.2-.2 4.5-.7 6.7-.7c2.2 0 5.6 .4 6.7 .5"/><path class="S w13" d="M385.4 372.8c.9-.1 3.6-.6 5.4-.6c1.8 0 3.6 .2 5.4 .6c1.8 .4 4.5 1.2 5.4 1.5"/><path class="G w12 d" d="M360.3 366.5c.9 .5 3.7 2.4 5.6 3c1.9 .6 3.6 1 5.5 .7c1.9-.3 4.7-2.2 5.6-2.6"/><path class="T w12 d" d="M413.4 397.3c1.2-.3 4.7-1.7 7-1.8c2.3-.1 4.6 .6 6.9 1.1c2.3 .5 4.7 .9 7 1.9c2.3 1 5.8 3.3 7 4"/><path class="PT w15 d" d="M358.1 348.5c1.2-.5 4.9-2.3 7.3-2.9c2.4-.6 4.9-.9 7.3-.6c2.4 .3 4.8 1.4 7.2 2.4c2.4 1 6.1 2.8 7.3 3.4"/><path class="G w12 d" d="M386.5 364.4c1.2 .2 5 .8 7.5 1c2.5 .2 4.9 0 7.4 .1c2.5 .1 4.9 .4 7.4 .5c2.5 .1 6.2 .3 7.4 .4"/><path class="O w14 d" d="M302.5 383.4c1 .3 4.1 1.5 6.2 1.9c2.1 .4 4.1 .8 6.2 .7c2.1-.1 4.1-.5 6.2-1c2.1-.5 5.2-1.8 6.2-2.2"/><path class="GO w13 d" d="M293 375.9c1.2-.6 4.8-2.9 7.2-3.4c2.4-.5 4.7-.3 7.1 .2c2.4 .5 5.9 2.3 7.1 2.8"/><path class="G w12 d" d="M406.7 383.2c1.2 .5 4.7 2.2 7 3.2c2.3 1 4.6 2.1 6.9 2.8c2.3 .7 4.7 1 7 1.3c2.3 .3 5.8 .6 7 .7"/><path class="GO w12" d="M344.3 374c1.1 .1 4.5 .6 6.8 .7c2.3 .1 4.5 0 6.8-.1c2.3-.1 4.5-.3 6.8-.3c2.3 0 4.5 .2 6.8 .2c2.3 0 5.7-.3 6.8-.4"/><path class="GO w14 d" d="M291.7 372.8c1.2-.1 4.9-.4 7.3-.4c2.4 0 4.9 .5 7.3 .5c2.4 0 4.9-.1 7.4-.3c2.4-.2 4.9-.8 7.3-.9c2.4-.2 6.1 0 7.3 0"/><path class="T w11" d="M423.3 368.1c1 .5 4 2.4 6 2.9c2 .5 4 .6 6 .3c2-.3 5-1.9 6-2.3"/><path class="G w12" d="M403.4 365.9c.9-.2 3.7-.9 5.6-1c1.9-.1 3.7 .1 5.6 .5c1.9 .4 4.7 1.5 5.6 1.8"/><path class="O w11" d="M331.1 369.2c1.1 .1 4.4 .6 6.6 .7c2.2 .1 4.4 .3 6.6 .2c2.2-.1 4.5-.6 6.7-.7c2.2-.1 4.4 0 6.6-.2c2.2-.2 5.5-.8 6.6-1"/><path class="G w13 d" d="M366.9 378.9c1.1 .5 4.5 2.2 6.7 2.9c2.2 .7 4.5 1.1 6.7 1.3c2.2 .2 4.4 .1 6.6 0c2.2-.1 5.6-.5 6.7-.6"/><path class="GO w13 d" d="M422.6 382.1c1 .4 4.1 1.8 6.2 2.6c2.1 .8 4.2 1.6 6.3 2.5c2.1 .9 5.2 2.6 6.2 3.1"/><path class="R w13 d" d="M345.4 356.8c1.1-.2 4.6-.6 6.9-.9c2.3-.4 4.7-1.1 7-1.2c2.3-.1 4.6 .4 6.9 .5c2.3 .1 4.6-.2 6.9 0c2.3 .2 4.6 .8 6.9 1.2c2.3 .4 5.8 1.2 7 1.5"/><path class="G w13 d" d="M412.8 380.5c1.2 .3 4.7 1.2 7.1 1.9c2.4 .7 4.8 1.2 7.2 2.1c2.4 .9 4.7 2.2 7.1 3.4c2.4 1.1 5.9 2.9 7.1 3.5"/><path class="O w13 d" d="M391.4 385.1c1.1-.2 4.6-.9 6.9-1.2c2.3-.3 4.6-.8 6.9-.8c2.3 0 4.6 .4 6.9 .8c2.3 .4 4.6 .7 6.9 1.3c2.3 .6 5.8 1.8 6.9 2.1"/><path class="PT w13 d" d="M425.1 395.1c.9-.3 3.6-1.6 5.4-1.7c1.8-.1 3.6 .2 5.4 .9c1.8 .7 4.5 2.9 5.4 3.5"/><path class="G w14 d" d="M352.3 383.5c1.1-.1 4.5-.4 6.8-.6c2.3-.2 4.6-.6 6.9-.6c2.3 0 4.5 .5 6.8 .8c2.3 .3 5.7 .8 6.8 1"/><path class="GO w12" d="M303.3 369.6c1.1 .1 4.2 .5 6.3 .7c2.1 .2 4.1 .5 6.2 .4c2.1-.1 4.2-.3 6.3-.8c2.1-.5 5.2-1.7 6.2-2"/><path class="LG w13 d" d="M301.1 381.1c1.2 .3 4.9 1.5 7.3 1.9c2.4 .4 4.8 .5 7.2 .7c2.4 .2 4.9 .6 7.3 .5c2.4-.1 4.8-.5 7.2-.8c2.4-.3 4.9-.4 7.3-1.1c2.4-.7 6.1-2.4 7.3-2.9"/><path class="GO w14 d" d="M401 377.4c1.1 .5 4.6 2 6.8 2.9c2.2 .9 4.5 1.9 6.7 2.7c2.2 .8 4.5 1.5 6.7 2.2c2.2 .7 4.5 1.3 6.7 1.9c2.2 .6 4.5 1.3 6.7 1.7c2.2 .4 5.6 .7 6.7 .8"/><path class="PO w10 d" d="M274.2 374.8c1.5 .2 5.9 .7 8.8 1.1c2.9 .4 7.3 .9 8.8 1.1"/><path class="S w10 d" d="M320.4 339c1.5 .6 5.9 2.3 8.8 3.5c2.9 1.2 5.8 2.6 8.7 3.8c2.9 1.2 6.1 2.4 8.8 3.3c2.7 .9 6.1 1.8 7.3 2.2"/><path class="T w10 d" d="M333.6 347.4c1.4 .6 5.8 2.2 8.7 3.3c2.9 1.1 7.3 2.8 8.8 3.3"/><path class="G w10 d" d="M305 382.5c1.8 .3 7.3 1.2 11 1.8c3.7 .6 7.4 1.1 11 1.5c3.6 .4 7.2 .7 10.9 1.1c3.6 .4 9.2 .9 11 1.1"/><path class="T w10 d" d="M294 389.1c1.8 .2 7.3 .7 11 1.1c3.7 .4 7.3 .6 11 1.1c3.7 .5 7.4 1.2 11 1.8c3.6 .6 7.2 1.1 10.9 1.5c3.6 .4 9.2 .9 11 1.1"/><path class="LG w10 d" d="M296.2 391.3c1.8 .3 7.3 1.2 11 1.8c3.7 .6 7.3 1.1 11 1.5c3.7 .4 9.2 .9 11 1.1"/><path class="GO w10 d" d="M340.1 397.9c1.1 .1 4.3 .5 6.6 .7c2.3 .2 6.1 .3 7.3 .4"/><path class="LG w10 d" d="M344.5 365l9.5 .4"/><path class="R w11 d" d="M286.3 346.3c.1 .9 .3 3.5 .6 5.5c.2 2 .1 4.8 .9 6.6c.8 1.8 2.2 2.9 4 4.4c1.8 1.5 4.4 3.1 6.6 4.4c2.2 1.3 5.5 2.8 6.6 3.3"/><path class="T w10" d="M346.7 323.2l7.3-.5"/><path class="G w10" d="M348.9 329.8l5.1-1.8"/><path class="S w9" d="M341.2 341.9c.9-.7 3.4-2.9 5.5-4.4c2.1-1.5 6.1-3.7 7.3-4.4"/><path class="T w10" d="M306.1 350.7c1.3 .1 5.3 .5 7.7 .4c2.4-.1 4.4-.6 6.6-1.1c2.2-.6 4.4-1.6 6.6-2.2c2.2-.6 4.4-1.1 6.6-1.5c2.2-.4 5.4-.6 6.5-.7"/><path class="G w10" d="M329.2 359.5c1.4-.1 5.8-.8 8.7-.7c2.9 .1 6.1 .8 8.8 1.3c2.7 .5 6.1 1.3 7.3 1.6"/><path class="G w10" d="M294 361c1.1 .3 4.4 .9 6.6 1.8c2.2 .9 4.4 2.3 6.6 3.3c2.2 1 4.4 1.9 6.6 2.8c2.2 .9 5.5 2.3 6.6 2.7"/><path class="T w10" d="M309.4 360.1c.2 .8 .4 3.3 1.1 4.9c.7 1.6 1.7 3.1 3.3 4.4c1.6 1.3 5.5 2.8 6.6 3.3"/><path class="G w10" d="M287.4 367.2c1.1 .4 4.4 1.7 6.6 2.6c2.2 .9 4.4 2.1 6.6 2.9c2.2 .8 5.5 1.8 6.6 2.1"/><path class="S w9" d="M266.5 371.6c.7 .5 2.8 2.1 4.4 3.2c1.6 1.1 3.5 2.2 5.5 3.3c2 1.1 4.4 2.2 6.6 3.3c2.2 1.1 4.4 2.4 6.6 3.3c2.2 .9 5.5 1.8 6.6 2.2"/><path class="LG w9" d="M280.8 371.1c.4 .6 1.3 2.5 2.2 3.7c.9 1.2 2.8 2.8 3.3 3.3"/><path class="O w16" d="M295.1 378.1c1.3 .3 4.9 1.2 7.7 1.8c2.8 .6 5.9 1.1 8.8 1.5c2.9 .4 5.9 .7 8.8 1.1c2.9 .4 7.3 .9 8.8 1.1"/><path class="GO w14" d="M298.4 384.7c1.5 .2 5.9 .8 8.8 1.1c2.9 .3 5.9 .5 8.8 .7c2.9 .2 7.3 .3 8.8 .4"/><path class="T w11" d="M322.6 384.7c1.8 .3 7.4 1.2 11 1.8c3.6 .6 7.5 1.1 10.9 1.5c3.4 .4 7.9 .9 9.5 1.1"/><path class="G w11" d="M337.9 382.5c1.5 .1 6.1 .3 8.8 .5c2.7 .2 6.1 .5 7.3 .6"/><path class="T w10" d="M337.9 369.4c1.5 .1 6.1 .2 8.8 .4c2.7 .2 6.1 .6 7.3 .7"/><path class="S w10" d="M354 321c1.5-.2 6.2-1.1 8.8-1.1c2.6 0 4.8 0 6.6 1.1c1.8 1.1 2.9 3.7 4.4 5.5c1.5 1.8 2.9 3.9 4.4 5.5c1.5 1.6 3.7 3.7 4.4 4.4"/><path class="G w11" d="M354 327.6c1.5-.4 6.2-2.2 8.8-2.2c2.6 0 4.4 1.3 6.6 2.2c2.2 .9 4.4 2.2 6.6 3.3c2.2 1.1 5.5 2.8 6.6 3.3"/><path class="G w10 d" d="M384.8 326.5c.6-.2 2.2-1.7 3.3-1.1c1.1 .6 2.4 2.2 3.3 4.4c.9 2.2 1.5 5.9 2.2 8.8c.7 2.9 1.8 7.3 2.2 8.8"/><path class="G w10 d" d="M408.5 330.9c.8-.9 3.5-5.6 4.9-5.1c1.4 .6 2.2 5.2 3.3 8.4c1.1 3.2 2 7.3 3.3 11c1.3 3.7 2.6 7.3 4.4 11c1.8 3.7 5.5 9.2 6.6 11"/><path class="S w10" d="M357.3 336.4c.9-.3 3.5-2 5.5-1.8c2 .2 4.4 1.9 6.6 2.9c2.2 1 4.4 2.2 6.6 3.3c2.2 1.1 4.4 2.5 6.6 3.3c2.2 .8 5.5 1.2 6.6 1.5"/><path class="G w11" d="M365 339.7c1.5 .2 5.9 .4 8.8 1.1c2.9 .7 5.9 2.2 8.8 3.3c2.9 1.1 6.2 2.4 8.8 3.3c2.6 .9 5.5 1.8 6.6 2.2"/><path class="LG w10 d" d="M354 348.5c1.5-.3 5.9-1.5 8.8-1.6c2.9-.1 6.6 .4 8.8 .9c2.2 .5 3.7 1.8 4.4 2.2"/><path class="T w10 d" d="M367.2 344.1c1.5 .6 5.9 2.2 8.8 3.3c2.9 1.1 5.9 2.2 8.8 3.3c2.9 1.1 7.3 2.8 8.8 3.3"/><path class="R w13" d="M382.6 354c1.1-.4 4-1.9 6.6-2.2c2.6-.3 6.1 .1 8.8 .4c2.8 .3 6.4 1.1 7.7 1.3"/><path class="R w13" d="M368.3 359.5c.9-.3 3.5-1.8 5.5-1.6c2 .2 4.4 1.7 6.6 2.7c2.2 1 4.4 2.2 6.6 3.3c2.2 1.1 5.5 2.8 6.6 3.3"/><path class="O w17" d="M373.8 369.8c.7-.2 2.9-1 4.4-.9c1.5 .1 2.6 .8 4.4 1.6c1.8 .8 4.4 2.4 6.6 3.3c2.2 .9 4.4 1.4 6.6 2.1c2.2 .7 4.4 1.5 6.6 2.2c2.2 .7 5.5 1.8 6.6 2.2"/><path class="O w13" d="M382.6 372.7c1.1 .2 4.4 1 6.6 1.5c2.2 .5 5.5 1.4 6.6 1.7"/><path class="G w11" d="M391.4 358.4c1.5-.1 5.9-.5 8.8-.5c2.9 0 5.5 .4 8.8 .5c3.3 .1 8.8 .2 11 .4c2.2 .2 1.8 .6 2.2 .7"/><path class="S w10 d" d="M404.6 360.6c1.1 .6 4.9 2.2 6.6 3.3c1.6 1.1 2.8 2.8 3.3 3.3"/><path class="T w13" d="M417.8 377c1.1 .3 4.4 1.1 6.6 1.6c2.2 .5 4.6 .7 6.6 1.3c2 .6 4.6 1.8 5.5 2.2"/><path class="G w11" d="M402.4 368.3c1.1 .6 4.4 2.2 6.6 3.3c2.2 1.1 4.8 2.2 6.6 3.2c1.8 1 3.7 2.4 4.4 2.9"/><path class="GO w14" d="M391.4 378.1c1.5 .4 5.9 1.5 8.8 2.2c2.9 .7 6.2 1.5 8.8 2.2c2.6 .7 5.5 1.5 6.6 1.8"/><path class="R w11 d" d="M354 375.9c1.5 .3 5.9 1.4 8.8 1.8c2.9 .4 7.3 .8 8.8 .9"/><path class="T w12" d="M354 381.4c1.8 .2 7.3 .7 11 1.1c3.7 .4 7.3 .7 11 1.1c3.7 .4 7.3 .7 11 1.1c3.7 .4 7.3 .8 11 1.1c3.7 .3 7.3 .5 11 .7c3.7 .2 9.2 .3 11 .4"/><path class="G w12" d="M354 388c1.8 .1 7.3 .4 11 .7c3.7 .3 7.3 .7 11 .9c3.7 .2 7.3 .3 11 .6c3.7 .3 7.3 .6 11 1.1c3.7 .5 7.3 1.2 11 1.8c3.7 .6 7.3 1.1 11 1.5c3.7 .4 9.2 .9 11 1.1"/><path class="O w16" d="M380.4 393.5c1.5 .2 5.9 .7 8.8 1.1c2.9 .4 5.9 .7 8.8 1.1c2.9 .4 5.9 .7 8.8 1.1c2.9 .4 5.9 .7 8.8 1.1c2.9 .4 6.4 .7 8.8 1.1c2.4 .4 4.6 .9 5.5 1.1"/><path class="GO w16" d="M354 395.7c1.5 .2 5.9 .7 8.8 1.1c2.9 .4 5.9 .7 8.8 1.1c2.9 .4 5.9 .7 8.8 1.1c2.9 .4 7.3 .9 8.8 1.1"/><path class="T w13" d="M398 397.9c1.5 .2 5.9 .7 8.8 1.1c2.9 .4 5.9 .7 8.8 1.1c2.9 .4 5.9 .9 8.8 1.1c2.9 .2 6.6 .2 8.8 0c2.2-.2 3.7-1.2 4.4-1.5"/><path class="O w12" d="M354 384.7c1.5 .2 5.9 .8 8.8 1.1c2.9 .3 5.9 .5 8.8 .7c2.9 .2 7.3 .3 8.8 .4"/><path class="LG w10 d" d="M354 391.3c2.2 .1 8.8 .3 13.2 .5c4.4 .2 8.8 .4 13.2 .6c4.4 .2 11 .6 13.2 .7"/><path class="T w10 d" d="M354 400.1c1.8 .1 7.3 .3 11 .5c3.7 .2 9.2 .5 11 .6"/><path class="S w10 d" d="M393.6 351.8c1.5 .7 5.9 3.1 8.8 4.4c2.9 1.3 7.3 2.8 8.8 3.3"/><path class="G w10 d" d="M354 358.4c1.5 .4 5.9 1.5 8.8 2.2c2.9 .7 5.9 1.5 8.8 2.2c2.9 .7 7.3 1.8 8.8 2.2"/><path class="T w14" d="M337.3 301.1c.5-.5 2.3-2.1 3.2-3.2c.9-1.1 1.5-2.5 2.3-3.2c.8-.7 1.6-1.2 2.4-1.2c.8 .1 1.4 .7 2.3 1.5c.9 .8 2 2.1 2.9 3.5c.9 1.4 1.7 3.1 2.4 4.7c.7 1.6 1 3.1 1.7 4.7c.7 1.6 1.4 3.4 2.4 4.6c1 1.2 2.4 2.4 3.5 2.7c1.1 .3 2.4-.8 2.9-.9"/></g></g><path d="M260.6 374c2.3 .3 8.9 1.4 13.7 2c4.8 .6 10.1 1 15.2 1.3c5.1 .3 10.6 .7 15.2 .7c4.6 0 8.1-.4 12.1-.8c4-.4 8-1 12.1-1.5c4.1-.5 8.2-1.1 12.2-1.6c4.1-.5 8.5-1.1 12.1-1.5c3.6-.4 6.1-.7 9.2-.6c3.1 .1 6.1 .4 9.1 .9c3 .5 6.1 1.5 9.1 2.2c3 .7 6.1 1.3 9.1 1.8c3 .5 6.1 .5 9.1 1.2c3 .7 6.1 1.8 9.1 3c3 1.2 6.1 2.7 9.1 4.2c3 1.5 6.1 3.1 9.1 4.6c3 1.4 6.1 3 9.1 4.1c3 1.1 6.7 2 9.1 2.7c2.4 .7 4.6 1.1 5.5 1.3L449.8 407.6c-.9-.6-3.1-2.2-5.5-3.6c-2.4-1.4-6.1-2.9-9.1-4.6c-3-1.7-6.1-3.7-9.1-5.6c-3-1.9-6.1-3.9-9.1-5.7c-3-1.8-6.1-3.6-9.1-4.9c-3-1.3-6.1-2.4-9.1-3.1c-3-.7-6.1-.7-9.1-1.2c-3-.5-6.1-1.1-9.1-1.8c-3-.7-6.1-1.7-9.1-2.2c-3-.5-6.1-.8-9.1-.9c-3.1-.1-5.6 .2-9.2 .6c-3.6 .4-8 1-12.1 1.5c-4.1 .5-8.2 1.1-12.2 1.6c-4.1 .5-8.1 1.1-12.1 1.5c-4 .4-7.6 .7-12.1 1c-4.6 .3-10.1 .5-15.2 .7c-5.1 .2-10.4 .5-15.2 .7c-4.8 .2-11.4 .7-13.7 .8Z" fill="#9a9a9a" fill-opacity="0.45"/><path d="M260.6 378.2c2.3 .1 8.9 .4 13.7 .6c4.8 .2 10.1 .2 15.2 .3c5.1 .1 10.6 .1 15.2 0c4.6-.1 8.1-.5 12.1-.9c4-.4 8-1 12.1-1.5c4.1-.5 8.2-1.1 12.2-1.6c4.1-.5 8.5-1.1 12.1-1.5c3.6-.4 6.1-.7 9.2-.6c3.1 .1 6.1 .4 9.1 .9c3 .5 6.1 1.5 9.1 2.2c3 .7 6.1 1.3 9.1 1.8c3 .5 6.1 .5 9.1 1.2c3 .7 6.1 1.7 9.1 3c3 1.3 6.1 3 9.1 4.6c3 1.6 6.1 3.4 9.1 5.1c3 1.7 6.1 3.5 9.1 4.9c3 1.4 6.7 2.7 9.1 3.7c2.4 1 4.6 2 5.5 2.4" fill="none" stroke="#111" stroke-width="1.35"/></g>
<clipPath id="cC2"><rect x="250.5" y="288" width="208.9" height="125.3"/></clipPath>
<rect x="250.5" y="288" width="208.9" height="125.3" fill="none" stroke="#bfbfbf" stroke-width="1"/>
<g font-family="Liberation Sans, sans-serif" font-size="3.6" fill="#3a3a3a"><line x1="249.3" y1="292.5" x2="250.5" y2="292.5" stroke="#444" stroke-width="0.7"/><text x="248.9" y="293.7" text-anchor="end">80</text><line x1="249.3" y1="323.1" x2="250.5" y2="323.1" stroke="#444" stroke-width="0.7"/><text x="248.9" y="324.3" text-anchor="end">60</text><line x1="249.3" y1="353.5" x2="250.5" y2="353.5" stroke="#444" stroke-width="0.7"/><text x="248.9" y="354.7" text-anchor="end">40</text><line x1="249.3" y1="383.8" x2="250.5" y2="383.8" stroke="#444" stroke-width="0.7"/><text x="248.9" y="385" text-anchor="end">20</text><line x1="303.6" y1="413.3" x2="303.6" y2="414.5" stroke="#444" stroke-width="0.7"/><text x="303.6" y="417.9" text-anchor="middle">0.25</text><line x1="357.1" y1="413.3" x2="357.1" y2="414.5" stroke="#444" stroke-width="0.7"/><text x="357.1" y="417.9" text-anchor="middle">0.50</text><line x1="410.6" y1="413.3" x2="410.6" y2="414.5" stroke="#444" stroke-width="0.7"/><text x="410.6" y="417.9" text-anchor="middle">0.75</text></g>
<g><line x1="478.6" y1="322.2" x2="684.5" y2="322.2" stroke="#f3f3f3" stroke-width="0.6"/><line x1="478.6" y1="355.3" x2="684.5" y2="355.3" stroke="#f3f3f3" stroke-width="0.6"/><line x1="478.6" y1="388.3" x2="684.5" y2="388.3" stroke="#f3f3f3" stroke-width="0.6"/><line x1="504.5" y1="289.3" x2="504.5" y2="413.6" stroke="#f3f3f3" stroke-width="0.6"/><line x1="557.3" y1="289.3" x2="557.3" y2="413.6" stroke="#f3f3f3" stroke-width="0.6"/><line x1="610" y1="289.3" x2="610" y2="413.6" stroke="#f3f3f3" stroke-width="0.6"/><line x1="662.8" y1="289.3" x2="662.8" y2="413.6" stroke="#f3f3f3" stroke-width="0.6"/><line x1="478.6" y1="305.7" x2="684.5" y2="305.7" stroke="#ebebeb" stroke-width="0.8"/><line x1="478.6" y1="338.6" x2="684.5" y2="338.6" stroke="#ebebeb" stroke-width="0.8"/><line x1="478.6" y1="371.6" x2="684.5" y2="371.6" stroke="#ebebeb" stroke-width="0.8"/><line x1="478.6" y1="404.8" x2="684.5" y2="404.8" stroke="#ebebeb" stroke-width="0.8"/><line x1="530.9" y1="289.3" x2="530.9" y2="413.6" stroke="#ebebeb" stroke-width="0.8"/><line x1="583.7" y1="289.3" x2="583.7" y2="413.6" stroke="#ebebeb" stroke-width="0.8"/><line x1="636.4" y1="289.3" x2="636.4" y2="413.6" stroke="#ebebeb" stroke-width="0.8"/></g>
<g clip-path="url(#cC3)"><g filter="url(#bl)"><g fill="none" stroke-linecap="round" stroke-linejoin="round"><path class="S w10 d" d="M636.2 370.7c1 .3 3.8 1.2 5.7 2c1.9 .8 3.7 1.6 5.6 2.5c1.9 .9 4.7 2.2 5.6 2.6"/><path class="G w11 d" d="M581.6 355.3c1 .1 4.1 .1 6.1 .5c2 .4 4 1.1 6 2.2c2 1.1 4 3 6 4.7c2 1.7 5 4.7 6 5.6"/><path class="T w12 d" d="M600.8 354.2c1.3 .5 5 2.1 7.6 3.2c2.6 1.1 5.1 2.5 7.7 3.7c2.6 1.2 5.1 2.5 7.7 3.6c2.6 1.1 5.1 2 7.7 3.1c2.6 1.1 6.4 2.9 7.7 3.5"/><path class="G w12 d" d="M548.5 354.4c1.2 .6 4.9 2.5 7.3 3.6c2.4 1.1 4.8 2.1 7.2 3c2.4 .9 4.9 1.6 7.3 2.7c2.4 1.1 6 3 7.2 3.6"/><path class="T w11 d" d="M558.2 344.9c1.1 .7 4.6 3.1 6.9 4.4c2.3 1.3 4.7 2.3 7 3.4c2.3 1.1 4.6 2.1 6.9 3c2.3 .9 4.6 1.5 6.9 2.1c2.3 .6 4.7 1 7 1.6c2.3 .6 5.8 1.6 6.9 1.9"/><path class="PT w11" d="M569.4 357.7c1.2 .3 4.7 1 7.1 1.6c2.4 .6 4.7 1 7.1 1.8c2.4 .8 4.7 1.7 7.1 2.8c2.4 1.1 4.7 2.4 7.1 3.8c2.4 1.4 5.9 4 7.1 4.8"/><path class="PT w11 d" d="M573.7 352.4c1.3 1.1 5.1 4.6 7.7 6.8c2.6 2.2 5.1 4.3 7.7 6.1c2.6 1.8 5.1 3.3 7.7 4.9c2.6 1.6 5.1 3.1 7.7 4.5c2.6 1.4 5.1 2.8 7.7 4c2.6 1.2 6.4 2.8 7.7 3.4"/><path class="LG w11 d" d="M583.2 344c1.2 .1 4.7 .1 7 .6c2.3 .6 4.6 1.3 6.9 2.7c2.3 1.4 5.8 4.8 7 5.7"/><path class="T w11 d" d="M593.7 350.5c1.3 .8 5.2 3.2 7.8 4.8c2.6 1.6 5.1 3.3 7.7 4.6c2.6 1.3 5.1 2.1 7.7 3.1c2.6 1 5.2 2 7.8 2.9c2.6 .9 6.4 2.3 7.7 2.7"/><path class="S w10 d" d="M571.4 328.8c1.1 .4 4.4 1.6 6.6 2.4c2.2 .8 4.5 1.5 6.7 2.5c2.2 1 4.5 2.4 6.7 3.4c2.2 1 4.4 1.9 6.6 2.8c2.2 .9 5.6 2.3 6.7 2.7"/><path class="LG w12 d" d="M587.9 352.3c1.3 1 5.2 4.4 7.8 6.2c2.6 1.8 5.2 3.2 7.8 4.8c2.6 1.6 5.2 3.3 7.8 4.8c2.6 1.5 5.2 2.9 7.8 4.2c2.6 1.3 5.2 2.6 7.8 3.7c2.6 1.1 6.5 2.5 7.8 3"/><path class="T w12 d" d="M556.1 336.8c1.1 .7 4.4 3 6.7 4.4c2.2 1.4 4.6 2.8 6.8 4.2c2.2 1.4 4.4 3.1 6.7 4.4c2.2 1.3 4.6 2.1 6.8 3.4c2.2 1.3 4.4 3.1 6.7 4.4c2.2 1.3 5.7 2.7 6.8 3.2"/><path class="T w11 d" d="M600.8 349.2c1.2 1.1 4.8 4.5 7.1 6.4c2.4 1.9 4.6 3.4 7 4.8c2.4 1.4 4.8 2.5 7.1 3.6c2.4 1.1 5.8 2.3 7 2.8"/><path class="T w11" d="M627.5 360.7c1.1 .4 4.3 1.3 6.4 2.2c2.1 .9 4.3 2.2 6.4 3.4c2.1 1.2 4.3 2.4 6.4 3.9c2.1 1.5 5.3 4.2 6.4 5.1"/><path class="G w12 d" d="M615.2 369.7c1.3 .8 5.1 3.5 7.6 5c2.5 1.5 5.1 2.7 7.6 3.9c2.5 1.2 5 2.6 7.5 3.4c2.5 .8 5.1 1.1 7.6 1.5c2.5 .4 6.3 .7 7.6 .8"/><path class="S w11" d="M553.4 356.9c1.2 1 5 4.2 7.5 6.2c2.5 2 5 3.9 7.5 5.6c2.5 1.7 5 3.1 7.5 4.5c2.5 1.4 5 2.5 7.5 3.6c2.5 1.1 5.1 2.1 7.6 3.1c2.5 .9 6.2 2.2 7.5 2.6"/><path class="S w12 d" d="M572.3 322.5c1.3 .5 5.1 1.6 7.7 2.8c2.6 1.2 5.1 2.9 7.7 4.5c2.6 1.6 5.1 3.1 7.7 4.8c2.6 1.7 5.2 3.3 7.8 5.3c2.6 2 6.4 5.8 7.7 6.9"/><path class="T w10 d" d="M541.5 329.8c1.2 .4 4.8 1.4 7.2 2.4c2.4 1 4.7 2.3 7.1 3.4c2.4 1.1 4.8 2.2 7.2 3.4c2.4 1.2 4.7 2.3 7.1 3.8c2.4 1.5 4.7 3.6 7.1 5.3c2.4 1.7 6 4.1 7.2 4.9"/><path class="S w11 d" d="M631.4 368.6c1.2 .3 4.9 .7 7.3 1.7c2.4 1 4.8 2.4 7.2 4.3c2.4 1.9 6 6 7.2 7.2"/><path class="G w11 d" d="M536.9 339.2c1.2 .5 4.9 2.1 7.3 3.1c2.4 1 4.8 1.8 7.2 2.9c2.4 1.1 4.8 2.5 7.2 3.4c2.4 .9 4.8 1.3 7.2 2.1c2.4 .8 4.9 1.9 7.3 2.8c2.4 .9 4.8 1.7 7.2 2.5c2.4 .8 6 2.1 7.2 2.5"/><path class="G w11 d" d="M634.2 371.5c1 1 4.2 4.7 6.3 6.1c2.1 1.4 4.2 2 6.3 2.6c2.1 .6 5.2 .6 6.3 .7"/><path class="G w12 d" d="M536.6 328.3c1 1.1 4.1 4.6 6.1 6.4c2 1.8 4 3.3 6.1 4.5c2 1.2 4.2 2.1 6.2 2.8c2 .7 5.1 1 6.1 1.2"/><path class="S w12 d" d="M543.8 322.1c1.1 .2 4.6 .9 6.9 1.4c2.3 .5 4.6 .9 6.9 1.7c2.3 .8 4.6 1.7 6.9 2.8c2.3 1.1 4.6 2.2 6.9 3.6c2.3 1.4 5.8 3.9 6.9 4.7"/><path class="LG w11 d" d="M612.3 368.6c1.1 .3 4.4 .9 6.6 1.6c2.2 .7 4.5 1.6 6.7 2.8c2.2 1.2 4.4 2.6 6.6 4.2c2.2 1.6 4.4 3.5 6.6 5.5c2.2 2 5.5 5.6 6.6 6.7"/><path class="LG w12 d" d="M577.3 336.6c1.2 .9 5 3.8 7.5 5.4c2.5 1.6 5 2.8 7.5 4.4c2.5 1.6 5 3.8 7.5 5.3c2.5 1.5 5 2.7 7.5 3.9c2.5 1.2 6.2 3 7.5 3.6"/><path class="G w12 d" d="M612.8 361.3c1.1 .7 4.5 2.7 6.7 4c2.2 1.3 4.5 2.6 6.7 3.6c2.2 1 4.5 1.9 6.8 2.6c2.2 .7 4.5 1 6.7 1.5c2.2 .5 4.5 1.2 6.7 1.7c2.2 .5 5.6 .9 6.7 1.1"/><path class="LG w12 d" d="M600.6 358.8c1.1 1 4.5 4.1 6.8 5.9c2.2 1.8 4.5 3.4 6.7 4.8c2.2 1.4 4.5 2.3 6.8 3.3c2.2 1 4.5 1.7 6.7 2.5c2.2 .8 5.7 1.7 6.8 2.1"/><path class="PG w11 d" d="M613.2 362.6c1.1 .5 4.5 2 6.7 3.2c2.2 1.2 4.5 2.3 6.7 3.8c2.2 1.5 4.5 3.4 6.7 5c2.2 1.6 4.5 3 6.7 4.6c2.2 1.6 5.7 4 6.8 4.8"/><path class="G w11" d="M630.1 391.9c1-.2 4.2-1.1 6.3-1.2c2.1-.1 4.2 0 6.3 .7c2.1 .7 5.2 2.9 6.3 3.5"/><path class="O w13" d="M566 380.3c1.3-.2 5.2-1.3 7.9-1.4c2.6-.1 5.4 .1 8 .6c2.6 .6 5.2 1.5 7.9 2.7c2.6 1.2 6.7 3.8 8 4.5"/><path class="O w11" d="M602.3 375.3c1 .1 4.1 0 6.2 .4c2.1 .4 4.1 1.1 6.2 1.8c2.1 .7 4.2 1.3 6.3 2.2c2.1 .9 5.2 2.8 6.2 3.3"/><path class="T w12 d" d="M611 379.5c1.2 0 4.8-.1 7.2 .1c2.4 .2 4.8 .5 7.2 1c2.4 .5 4.7 1.4 7.1 2.2c2.4 .8 4.8 1.6 7.2 2.6c2.4 1 5.9 2.8 7.1 3.4"/><path class="PG w13 d" d="M593.1 379.8c1.2-.2 4.9-1.1 7.4-1.4c2.5-.3 4.9-.7 7.4-.6c2.5 .1 4.9 .7 7.4 1.2c2.5 .5 4.9 .8 7.4 1.6c2.5 .8 6.2 2.5 7.4 3"/><path class="PG w13 d" d="M581.4 368.1c1-.3 3.8-1.6 5.7-1.9c1.9-.3 3.8-.3 5.7 .2c1.9 .5 4.8 2.4 5.7 2.9"/><path class="GO w14 d" d="M613.2 384.1c1.3-.3 5.4-1.7 8-2c2.6-.3 5.2-.4 7.9 .1c2.6 .5 6.7 2.5 8 3"/><path class="GO w12 d" d="M613.5 382.4c1.3 .5 5.4 1.9 8 2.8c2.6 .9 5.3 1.8 7.9 2.7c2.6 .9 5.2 1.8 7.9 2.6c2.6 .8 5.4 1.4 8 2.1c2.6 .7 6.6 1.6 7.9 1.9"/><path class="GO w14 d" d="M648 398.8c1.1 .3 4.5 1.6 6.7 2c2.2 .4 4.5 .3 6.8 .2c2.3-.1 5.7-.9 6.8-1.1"/><path class="T w15 d" d="M595.8 373.7c1 .3 4.1 1.3 6.2 1.8c2.1 .5 4.1 .9 6.2 1.2c2.1 .3 5.2 .5 6.2 .6"/><path class="T w14 d" d="M527.2 373.1c1.1 .3 4.4 1.2 6.6 1.6c2.2 .4 4.4 1 6.6 1c2.2 0 4.4-.7 6.6-1c2.2-.3 5.5-.9 6.6-1.1"/><path class="GO w13" d="M540.2 370.6c1.2 .3 4.9 1.2 7.4 1.8c2.5 .6 5 1.3 7.5 1.6c2.5 .3 4.9 .2 7.4 0c2.5-.2 5-.6 7.5-1.2c2.5-.6 6.2-2 7.4-2.4"/><path class="LG w15 d" d="M523.9 375.3c1.1-.4 4.4-1.5 6.6-2.1c2.2-.6 4.4-1.4 6.6-1.6c2.2-.2 4.4 .1 6.6 .4c2.2 .3 4.4 .6 6.6 1.2c2.2 .6 5.4 2.2 6.5 2.7"/><path class="O w12 d" d="M521.7 383.7c1.3 0 5.1-.2 7.7-.1c2.5 .1 5.1 .4 7.6 .5c2.5 .1 5.2 .2 7.7 .2c2.5 0 5-.1 7.6-.1c2.5-.1 6.4-.2 7.7-.2"/><path class="PT w14 d" d="M601.5 390c1.3-.1 5.2-1.3 7.8-.5c2.6 .8 6.4 4.6 7.7 5.5"/><path class="GO w13" d="M616.9 378.7c1.2-.2 4.8-1.1 7.2-1.4c2.4-.3 4.8-.4 7.2-.3c2.4 .1 4.8 .5 7.2 1c2.4 .5 4.8 1.1 7.2 1.8c2.4 .8 4.8 1.7 7.2 2.7c2.4 1 6 2.8 7.2 3.3"/><path class="T w12 d" d="M592.1 385c1.3 .9 5.1 4 7.6 5.4c2.5 1.4 5 2 7.5 2.9c2.5 .9 5.1 1.9 7.6 2.3c2.5 .4 5 .3 7.5 .3c2.5 0 6.3-.2 7.6-.2"/><path class="T w11" d="M542.3 366.7c1.3-.2 5.3-.8 7.9-1.1c2.6-.3 5.3-.8 8-.8c2.7 0 5.3 .1 8 .6c2.7 .5 6.7 1.9 8 2.3"/><path class="PT w13 d" d="M515.8 368.2c1.1 .2 4.5 1.1 6.8 1.3c2.3 .2 4.6 .2 6.9 .2c2.3 0 4.6 0 6.9-.3c2.3-.3 5.8-1.2 6.9-1.5"/><path class="G w13 d" d="M550.1 373.7c1.2 .1 4.7 .6 7 .7c2.3 .1 4.6-.1 6.9 0c2.3 .1 4.7 .2 7 .3c2.3 .1 4.6 .1 6.9 .1c2.3 .1 5.8 .2 7 .2"/><path class="O w11" d="M622.1 393.3c1.2 .2 4.8 .7 7.1 1.1c2.4 .4 4.6 .7 7 1.1c2.4 .4 4.7 .9 7.1 1.1c2.4 .2 4.6-.1 7-.1c2.4 0 5.9-.1 7.1-.1"/><path class="S w11" d="M590.2 386c1.3 .3 5.3 1.1 8 1.7c2.7 .6 5.4 1.4 8 2.1c2.6 .7 5.2 1.2 7.9 1.9c2.6 .7 5.3 1.5 8 2.1c2.7 .6 6.7 1.2 8 1.5"/><path class="T w15 d" d="M547.4 378.8c1.3 .1 5.3 .5 8 .8c2.7 .3 5.4 .9 8 1c2.6 .1 6.6-.6 7.9-.7"/><path class="LG w12 d" d="M596.3 367.9c1.2 .6 4.7 2.5 7.1 3.5c2.4 1 4.7 1.8 7.1 2.4c2.4 .7 4.7 1.1 7.1 1.5c2.4 .4 4.7 .7 7.1 .9c2.4 .2 4.7 .1 7.1 .2c2.4 .1 5.9 .1 7.1 .1"/><path class="PT w14 d" d="M524.7 376.1c1 .3 4.1 1.2 6.2 1.7c2 .5 4.1 1.1 6.1 1.2c2 .1 4.1-.5 6.2-.9c2.1-.4 5.2-1.2 6.2-1.5"/><path class="PG w13 d" d="M622.4 379.7c1.2 .5 4.9 2.1 7.4 2.9c2.5 .8 5 1.5 7.5 2c2.5 .5 4.9 1 7.4 1.2c2.5 .2 4.9 0 7.4-.2c2.5-.2 6.2-.8 7.5-1"/><path class="R w12 d" d="M591.9 386.5c1.3 .6 5.3 2.9 8 3.8c2.7 .9 6.7 1.2 8 1.5"/><path class="R w12 d" d="M544.6 387.7c1.1 .2 4.5 1.1 6.8 1.5c2.3 .4 4.6 .8 6.8 1c2.2 .2 4.4-.1 6.7 .1c2.2 .2 4.5 .8 6.8 .8c2.3 0 4.5-.3 6.8-.6c2.3-.3 5.7-.9 6.8-1.1"/><path class="G w14 d" d="M556.8 375.7c1.3 .4 5.3 2 7.9 2.4c2.6 .4 5.2 .3 7.8 .3c2.6-.1 6.6-.5 7.9-.6"/><path class="T w13 d" d="M517.7 376.1c1.2 .5 5 2.5 7.5 3.1c2.5 .6 5 .8 7.5 .7c2.5-.1 5.1-.7 7.6-1.3c2.5-.6 6.2-1.7 7.5-2"/><path class="T w13 d" d="M639.1 390.3c1.2 .1 4.9 .2 7.3 .3c2.4 .1 4.9 0 7.3 .1c2.4 .1 4.9 .3 7.3 .4c2.4 .1 6.1 .3 7.3 .4"/><path class="LG w13 d" d="M648.4 396c1.1 .8 4.4 3.6 6.6 4.6c2.2 1 4.5 1.4 6.7 1.2c2.2-.2 5.5-1.8 6.6-2.2"/><path class="GO w11" d="M532.2 371.2c1.2-.2 4.7-1.1 7.1-1.5c2.4-.4 4.8-.6 7.2-.7c2.4-.1 4.7 .2 7.1 .4c2.4 .1 4.7 .1 7.1 .5c2.4 .4 6 1.8 7.2 2.2"/><path class="S w15 d" d="M520.2 381.8c1.2 .1 4.8 .3 7.2 .4c2.4 .1 4.9-.2 7.3-.1c2.4 .1 4.9 .7 7.3 .8c2.4 .1 4.9 0 7.3-.1c2.4-.1 4.8-.5 7.2-.6c2.4-.1 6.1 .1 7.3 .1"/><path class="G w12 d" d="M639.8 397.6c1.2 .4 4.7 2.1 7.1 2.7c2.4 .6 4.8 .4 7.2 .6c2.4 .1 4.7 .6 7.1 .3c2.4-.3 5.9-1.9 7.1-2.3"/><path class="O w13" d="M612.6 396.1c1.1 .5 4.5 2 6.7 2.8c2.2 .8 4.5 1.5 6.7 2c2.2 .5 4.5 .6 6.7 1.1c2.2 .5 4.4 1.2 6.6 1.8c2.2 .6 4.5 1.1 6.7 1.5c2.2 .4 5.6 .7 6.7 .8"/><path class="T w12 d" d="M549.7 385.1c1.1 .1 4.5 .3 6.8 .3c2.3 0 4.5-.5 6.8-.4c2.3 .1 5.7 .8 6.8 .9"/><path class="G w12 d" d="M588.5 377.6c1-.4 4.2-2.2 6.3-2.3c2.1-.1 4.3 .7 6.4 1.7c2.1 1 5.2 3.6 6.3 4.3"/><path class="R w14 d" d="M529.3 378.4c1.2-.4 4.9-2 7.4-2.7c2.5-.7 5-1.1 7.4-1.3c2.4-.2 4.9-.3 7.3 0c2.4 .3 4.9 1.1 7.4 1.8c2.5 .7 6.1 2.1 7.3 2.5"/><path class="G w14 d" d="M527.2 372.9c1.2 .4 4.8 1.9 7.2 2.6c2.4 .7 4.8 1.4 7.2 1.5c2.4 .1 4.8-.4 7.2-1c2.4-.6 6-2.2 7.2-2.6"/><path class="G w13" d="M638.4 393.1c1.2-.1 5-.6 7.5-.6c2.5-.1 5-.1 7.5 .3c2.5 .4 4.9 1.2 7.4 1.9c2.5 .7 6.2 2.1 7.5 2.5"/><path class="GO w12" d="M544.3 367.5c1.1 .2 4.5 .7 6.7 1.1c2.2 .4 4.5 .9 6.8 1.1c2.2 .2 4.5 .3 6.7 .1c2.2-.2 5.6-.9 6.7-1.1"/><path class="O w13 d" d="M522.3 362c1.3-.5 5.1-2.3 7.6-2.8c2.5-.5 5.1-.3 7.6-.2c2.5 .1 5.1 .6 7.6 1c2.5 .4 6.2 1.3 7.5 1.6"/><path class="T w13 d" d="M583.9 383.4c.9 .7 3.6 3.1 5.5 4c1.9 .9 3.7 1.6 5.6 1.6c1.9 0 4.7-1.3 5.6-1.6"/><path class="G w14 d" d="M523.9 377.2c1.1-.6 4.5-3.2 6.8-3.9c2.3-.6 4.6-.6 6.9 0c2.3 .6 5.7 2.9 6.8 3.5"/><path class="PT w12" d="M511.5 380.1c1.2-.3 5-1.3 7.5-1.9c2.5-.6 5-1.5 7.5-1.8c2.5-.3 5-.2 7.5-.1c2.5 .1 5 .3 7.5 .5c2.5 .2 5 .2 7.5 .8c2.5 .6 6.2 2.2 7.5 2.6"/><path class="PT w15 d" d="M638.4 394.1c1.2 1 4.8 4.3 7.2 5.8c2.4 1.5 4.7 2.9 7.1 3c2.4 .1 6-2 7.2-2.4"/><path class="T w10" d="M564.7 383.9c.9-.3 3.7-1.5 5.5-1.7c1.8-.2 3.7-.1 5.5 .4c1.8 .5 4.6 2 5.5 2.4"/><path class="O w13 d" d="M527.4 385.4c1.1 .1 4.6 .2 6.9 .4c2.3 .2 4.7 .5 7 .6c2.3 .1 4.6 0 6.9 0c2.3 0 4.6 .1 6.9-.1c2.3-.2 5.8-.9 7-1.1"/><path class="O w14 d" d="M556.9 379.4c1.2 .1 4.9 .3 7.4 .5c2.5 .2 4.9 .5 7.3 .5c2.5 0 4.9-.6 7.4-.6c2.5 0 6.2 .3 7.4 .4"/><path class="G w12" d="M512.4 371.7c1.1-.4 4.5-1.9 6.7-2.5c2.2-.6 4.5-1 6.8-1.3c2.3-.3 4.6-.6 6.8-.4c2.2 .2 4.4 .8 6.7 1.4c2.2 .6 5.7 1.7 6.8 2"/><path class="GO w12 d" d="M538.8 381.5c1.2-.4 4.9-1.8 7.3-2.2c2.4-.4 4.9-.1 7.3-.1c2.4 0 4.9 0 7.3 .2c2.5 .2 5 .3 7.4 .8c2.4 .5 6.1 1.7 7.3 2"/><path class="G w13" d="M597 378.2c1.3 .5 5.1 2.2 7.6 3c2.5 .8 5.1 1.3 7.6 1.9c2.5 .6 5.1 1.6 7.7 2c2.5 .4 6.3 .6 7.6 .7"/><path class="G w14 d" d="M553.6 384c1.2 0 4.7 .1 7.1 .2c2.4 .1 4.8 .3 7.2 .4c2.4 .1 4.7-.1 7.1 0c2.4 .1 4.8 .2 7.2 .5c2.4 .3 6 .9 7.2 1.1"/><path class="G w14 d" d="M572.6 378.2c1-.2 4.2-1.2 6.3-1.4c2.1-.1 4.2 0 6.3 .5c2.1 .5 4.1 1.3 6.2 2.6c2.1 1.3 5.3 4.5 6.3 5.4"/><path class="T w13 d" d="M589.1 371.8c1.1 .3 4.3 1.2 6.5 1.8c2.2 .6 4.3 1 6.5 1.5c2.2 .5 5.4 1.4 6.5 1.7"/><path class="GO w12" d="M519 371.1c1.1 .4 4.5 1.9 6.8 2.5c2.2 .6 4.5 .6 6.7 .8c2.2 .1 4.5 .2 6.8 .1c2.3-.1 4.6-.4 6.8-.9c2.2-.5 5.6-1.8 6.7-2.2"/><path class="PG w12" d="M569.6 377.7c1.3 .7 5.3 3.8 7.9 4c2.6 .2 6.6-2.4 7.9-2.9"/><path class="O w11" d="M579.2 383c1.2 .4 4.8 1.8 7.2 2.7c2.4 .9 4.8 2 7.2 2.7c2.4 .7 4.8 .9 7.2 1.5c2.4 .6 4.7 1.5 7.1 1.8c2.4 .3 4.8 .1 7.2-.1c2.4-.1 6-.7 7.2-.8"/><path class="O w14 d" d="M613.5 380.2c1.1 .7 4.3 3 6.5 4c2.2 1 4.4 1.7 6.6 2c2.2 .3 5.4-.3 6.5-.4"/><path class="T w13 d" d="M566.8 378.5c1.3-.2 5.2-1 7.8-1.4c2.6-.4 5.2-.8 7.8-.7c2.6 .1 5.1 .5 7.7 1c2.6 .5 5.2 1.3 7.8 2c2.6 .7 6.5 1.9 7.8 2.3"/><path class="PG w14 d" d="M588.7 376.9c1 .2 4.2 .6 6.3 1.1c2.1 .6 4.2 1.6 6.3 2.2c2.1 .6 5.2 1.2 6.3 1.5"/><path class="O w12 d" d="M603.7 379c1.3-.1 5.1-1.3 7.7-.9c2.6 .4 6.4 2.6 7.7 3.1"/><path class="T w14 d" d="M580.3 383.7c1.1 .1 4.5 .1 6.7 .4c2.2 .3 4.5 .8 6.7 1.3c2.2 .5 4.5 .9 6.8 1.5c2.2 .6 4.5 1.5 6.7 2.2c2.2 .7 4.5 1.4 6.7 2.2c2.2 .8 5.6 2.1 6.7 2.5"/><path class="GO w12" d="M640.1 391.5c1.1-.2 4.3-1.6 6.5-1.5c2.2 .1 4.4 .8 6.6 1.8c2.2 1 5.4 3.5 6.5 4.2"/><path class="G w13 d" d="M637.5 390.8c1.3-.4 5.2-2.4 7.9-2.2c2.6 .2 6.7 2.8 8 3.4"/><path class="G w15 d" d="M556.6 363.4c1.1 .1 4.6 .3 6.9 .3c2.3 0 4.7-.3 7-.2c2.3 .1 4.7 .4 7 .8c2.3 .4 4.7 .9 7 1.5c2.3 .6 4.6 1.3 6.9 2.2c2.3 .9 5.8 2.7 7 3.2"/><path class="G w12 d" d="M632.8 391c1.2-.1 4.7-.4 7.1-.5c2.4-.1 4.7 0 7.1-.1c2.4-.1 4.7-.5 7.1-.3c2.4 .2 4.7 1.2 7.1 1.7c2.4 .5 5.9 1.2 7.1 1.4"/><path class="GO w12 d" d="M650.9 392.2c1-.1 3.9-.6 5.8-.3c1.9 .3 3.9 1.1 5.8 1.9c1.9 .8 4.8 2.4 5.8 2.9"/><path class="PG w14 d" d="M636.8 399.2c1.3 .5 5.3 2.2 7.9 3c2.6 .8 5.2 1.2 7.8 1.6c2.6 .4 5.3 .6 7.9 .5c2.6-.1 6.6-.9 7.9-1.1"/><path class="GO w15 d" d="M523.7 382.5c1.2 .2 4.8 .9 7.2 1.2c2.4 .3 4.8 .4 7.2 .5c2.4 .1 4.7-.1 7.1-.1c2.4 0 4.8 .1 7.2 0c2.4-.1 4.8-.2 7.2-.4c2.4-.2 5.9-.6 7.1-.7"/><path class="LG w11" d="M553.4 385.3c1.1-.2 4.6-.9 6.9-1.1c2.3-.2 4.6-.2 6.9 0c2.3 .2 4.7 .6 7 1c2.3 .4 5.8 1.2 6.9 1.5"/><path class="G w12" d="M506.4 368c1.3-.1 5.3-.5 7.9-.8c2.6-.3 5.3-.8 7.9-.9c2.6-.1 5.3 0 7.9 .1c2.6 .1 5.3 .3 7.9 .6c2.6 .3 6.6 .9 7.9 1.1"/><path class="G w14 d" d="M644.6 395.4c.9-.1 3.7-1 5.5-.8c1.8 .2 3.6 1.1 5.5 1.9c1.9 .8 4.7 2.3 5.6 2.8"/><path class="T w13 d" d="M520.4 378.2c1.1 .4 4.5 2 6.8 2.4c2.3 .4 4.6 .6 6.9 .2c2.3-.4 5.7-2.4 6.8-2.9"/><path class="O w13 d" d="M535.6 358.9c1.1-.4 4.6-1.9 6.9-2.5c2.3-.6 4.5-1.1 6.8-1.2c2.3-.1 4.6 .2 6.9 .5c2.3 .3 4.5 .6 6.8 1.2c2.3 .6 5.8 2.2 6.9 2.6"/><path class="O w11" d="M587.6 382.6c1.3 .2 5.3 1 7.9 1.5c2.6 .5 5.2 .9 7.9 1.6c2.6 .7 5.4 1.9 8 2.7c2.6 .8 5.3 1.1 7.9 2c2.6 .9 6.6 3 7.9 3.6"/><path class="GO w13" d="M564.9 376.1c1.2 .2 4.9 1.1 7.4 1.4c2.5 .2 4.9 .1 7.4 .1c2.5 .1 6.2 .2 7.5 .2"/><path class="PG w12 d" d="M606.3 389.4c1.1 .1 4.4 .5 6.6 .9c2.2 .4 4.3 1.1 6.5 1.4c2.2 .3 4.3 .4 6.5 .5c2.2 .1 4.4 .1 6.6 0c2.2-.1 5.4-.5 6.5-.6"/><path class="G w12" d="M610.2 390.8c1.2 0 4.7-.1 7.1-.1c2.4 0 4.8-.1 7.2 .1c2.4 .2 5.9 1 7.1 1.2"/><path class="PT w13" d="M615.1 376.8c1.3 .6 5.1 2.7 7.7 3.9c2.6 1.2 5.1 2.4 7.7 3.2c2.6 .8 5.1 1.2 7.7 1.5c2.6 .3 5.1 .5 7.7 .5c2.6 0 6.4-.3 7.7-.4"/><path class="PT w15 d" d="M624.9 388.3c1.1 .1 4.5 .7 6.8 .9c2.3 .2 4.5 .4 6.8 .5c2.3 .1 4.5 .2 6.8 .3c2.3 .1 4.5 .3 6.8 .4c2.3 .1 4.5 0 6.8-.1c2.3-.1 5.7-.2 6.8-.3"/><path class="PG w12 d" d="M550.6 377.3c1.2 .5 4.9 2.3 7.3 2.9c2.4 .6 4.9 .8 7.4 .4c2.5-.4 6.1-2.3 7.3-2.8"/><path class="T w13 d" d="M600.8 387.2c1.3-.1 5.3-.3 7.9-.3c2.6 0 5.3 .2 7.9 .5c2.6 .3 5.3 .8 7.9 1.4c2.6 .6 6.6 1.9 7.9 2.3"/><path class="G w13 d" d="M616.7 380.2c1.2 0 4.9-.1 7.3-.1c2.4 0 4.9 0 7.3 .3c2.4 .3 4.9 1 7.3 1.4c2.4 .4 4.9 .4 7.3 1.1c2.4 .7 4.9 2 7.3 3c2.5 1 6.2 2.3 7.4 2.8"/><path class="G w15 d" d="M577 367.3c1.2-.2 4.7-1 7-1c2.3 0 4.7 .3 7 1c2.3 .7 4.7 2 7 3.2c2.3 1.2 5.8 3.5 7 4.2"/><path class="G w12 d" d="M536.7 375.3c1.2 .2 5 .8 7.5 1.4c2.5 .6 4.9 1.7 7.4 2c2.5 .3 4.9-.1 7.4-.1c2.5 0 4.9 .3 7.4 .3c2.5-.1 4.9-.3 7.4-.6c2.5-.3 6.2-1.1 7.4-1.3"/><path class="T w13 d" d="M629.1 385.6c1.3-.2 5.2-1.1 7.8-1.2c2.6-.1 5.2 .1 7.8 .6c2.6 .5 5.2 1.4 7.8 2.4c2.6 .9 6.5 2.8 7.8 3.3"/><path class="G w11" d="M577.4 393.3c1.1-.4 4.5-1.8 6.8-2.1c2.3-.3 4.6-.1 6.9 .2c2.3 .2 4.5 .7 6.8 1.3c2.3 .6 4.6 1.4 6.9 2.3c2.3 .9 5.8 2.6 6.9 3.1"/><path class="PG w11" d="M591.7 381.4c1.3 .1 5.4 .4 8 .9c2.6 .5 5.2 1.1 7.9 2c2.6 .9 5.3 2.1 8 3.2c2.7 1.1 6.7 2.8 8 3.3"/><path class="G w13 d" d="M581.8 389.5c1.2 .3 5 1 7.5 1.6c2.5 .6 5 1.7 7.5 2.3c2.5 .6 5 1 7.5 1.4c2.5 .4 5 .5 7.5 .8c2.5 .3 6.2 1 7.5 1.2"/><path class="G w14 d" d="M591.7 358.4c1.3 .3 5.1 1 7.6 1.6c2.5 .6 5.1 1.3 7.6 1.9c2.5 .6 5.1 .9 7.6 1.5c2.5 .6 5.1 1.6 7.6 2.3c2.5 .7 6.3 1.5 7.6 1.8"/><path class="G w15 d" d="M611.6 369.6c1.2 .4 4.9 2 7.4 2.7c2.5 .7 4.9 .9 7.4 1.3c2.5 .4 4.9 1.2 7.4 1.2c2.5 0 6.2-.8 7.4-1"/><path class="T w11" d="M654.5 397.2c1.1 .1 4.6 .2 6.9 .6c2.3 .4 5.8 1.5 6.9 1.8"/><path class="LG w13 d" d="M565.2 381.3c1.2-.3 4.9-1.5 7.4-1.8c2.5-.3 4.9-.5 7.4-.1c2.5 .4 4.9 1.4 7.4 2.7c2.5 1.3 6.1 4.2 7.3 5.1"/><path class="O w12 d" d="M590.7 368.2c1 .2 3.9 .8 5.8 1.1c1.9 .3 3.9 .8 5.8 .8c1.9 0 4.8-.5 5.8-.6"/><path class="LG w14 d" d="M652.3 397.3c.9-.1 3.5-1 5.3-.8c1.8 .2 3.6 1.1 5.4 1.9c1.8 .8 4.4 2.2 5.3 2.6"/><path class="G w14 d" d="M607.3 381.1c1.2 .1 4.9 .2 7.3 .4c2.4 .1 4.9 .1 7.3 .5c2.4 .4 4.9 1.2 7.3 2c2.4 .8 4.9 1.6 7.3 2.5c2.4 .9 4.9 1.4 7.3 2.6c2.4 1.2 6.1 3.7 7.3 4.4"/><path class="GO w12 d" d="M657 399.7c1 .7 3.8 3.6 5.7 3.9c1.9 .3 4.7-1.6 5.6-1.9"/><path class="G w14 d" d="M542.8 359.8c1.1-.1 4.5-.5 6.7-.7c2.2-.2 4.5-.2 6.8-.3c2.2-.1 4.5-.6 6.7-.5c2.2 .1 4.5 .5 6.8 .9c2.2 .4 5.6 1.2 6.7 1.5"/><path class="PG w14 d" d="M627.4 380.1c1.3 .2 5.1 1.1 7.6 1.5c2.5 .4 5.1 .6 7.7 .9c2.6 .3 5.1 .6 7.7 .8c2.6 .2 5.1 .6 7.7 .5c2.6-.1 6.4-1.1 7.7-1.3"/><path class="GO w13 d" d="M637.2 388.7c1.3 .6 5.2 2.2 7.8 3.4c2.6 1.2 5.2 2.8 7.8 3.7c2.6 .9 5.1 1.2 7.7 1.5c2.6 .3 6.5 .2 7.8 .2"/><path class="O w13 d" d="M552.1 384.1c1.2-.1 4.7-.4 7-.3c2.3 .1 4.6 .7 6.9 .9c2.3 .2 4.7 0 7 .2c2.3 .2 4.7 .4 7 .8c2.3 .4 4.7 .9 7 1.5c2.3 .6 5.8 1.7 6.9 2"/><path class="G w13 d" d="M629.4 392.4c.9-.5 3.7-2.7 5.6-3.2c1.9-.5 3.7-.4 5.6 .2c1.9 .6 4.7 2.9 5.6 3.5"/><path class="O w14 d" d="M568.5 377.2c1.2-.2 4.9-.9 7.4-1c2.5-.1 4.9-.2 7.4 .2c2.5 .4 4.9 1.4 7.4 2.3c2.5 .9 4.9 2.1 7.4 3.2c2.5 1.1 4.9 2.2 7.4 3.4c2.5 1.2 6.2 3 7.4 3.6"/><path class="T w14 d" d="M536.9 372.4c1.2 .4 4.7 1.9 7.1 2.3c2.4 .4 4.7 .2 7.1 .3c2.4 .1 4.8 .6 7.2 .5c2.4-.1 4.7-.5 7.1-1c2.4-.5 5.9-1.7 7.1-2"/><path class="GO w14 d" d="M577.9 383c1.2 .6 4.8 2.4 7.2 3.3c2.4 .9 4.7 1.6 7.1 2.1c2.4 .5 4.7 .9 7.1 1.1c2.4 .2 4.8 0 7.2-.1c2.4-.1 5.9-.6 7.1-.7"/><path class="S w12 d" d="M614.5 391c1.3 .4 5.3 1.4 7.9 2.3c2.6 .9 5.3 2.4 7.9 3.2c2.6 .8 5.3 1.1 7.9 1.6c2.6 .5 5.3 .9 7.9 1.2c2.6 .3 6.6 .3 7.9 .4"/><path class="T w12 d" d="M549.7 385.5c1.2 .1 4.9 .4 7.4 .8c2.5 .4 5 1.2 7.5 1.5c2.5 .3 5 .3 7.5 .4c2.5 .1 5 .1 7.5 .2c2.5 .1 5 .1 7.5 .1c2.5 0 6.2-.1 7.5-.1"/><path class="G w12 d" d="M646 391.8c1.2 .3 4.9 1.7 7.4 2.1c2.5 .4 5 .4 7.5 .3c2.5-.1 6.2-.7 7.4-.8"/><path class="GO w13 d" d="M537 383.4c1.1-.5 4.6-2.6 6.9-3.1c2.3-.5 4.7-.5 7 .1c2.3 .6 5.8 3.1 7 3.7"/><path class="O w14 d" d="M562.1 375.3c1.2 .1 4.7 .5 7.1 .7c2.4 .2 4.7 .1 7.1 .4c2.4 .3 4.7 .9 7.1 1.5c2.4 .6 4.8 1.2 7.2 2c2.4 .8 4.7 1.7 7.1 2.5c2.4 .8 5.9 1.8 7.1 2.1"/><path class="S w13 d" d="M546 362.8c1.3 .4 5.2 2 7.7 2.6c2.5 .6 5 .9 7.6 1c2.5 .1 5.2 .2 7.7-.2c2.5-.4 6.3-2 7.6-2.4"/><path class="S w12 d" d="M590.1 377.6c.9 .6 3.7 2.8 5.6 3.6c1.9 .8 3.8 1.3 5.7 1.1c1.9-.2 4.8-2.1 5.7-2.5"/><path class="G w14 d" d="M527 377c1.1 .2 4.5 .8 6.8 1c2.3 .2 4.5 .2 6.8 .3c2.3 .1 4.5 .4 6.8 .3c2.3-.1 4.5-.6 6.8-.9c2.3-.3 5.7-.8 6.8-.9"/><path class="R w16 d" d="M514.3 325.4c.1 .7 .4 2.8 .6 4.4c.2 1.7 .4 4.6 .5 5.5"/><path class="R w16 d" d="M516.5 340.8c1.3 .7 5 3 7.7 4.4c2.8 1.4 5.9 2.6 8.8 3.9c2.9 1.3 6 2.2 8.8 3.8c2.8 1.6 6.4 4.6 7.7 5.5"/><path class="S w10 d" d="M533 311.1c.7 .9 2.9 3.9 4.4 5.5c1.5 1.6 2.9 3.1 4.4 4.4c1.5 1.3 3.7 2.8 4.4 3.3"/><path class="G w10 d" d="M544 318.8c.7 1.1 2.9 4.4 4.4 6.6c1.5 2.2 2.9 5 4.4 6.6c1.5 1.6 2.9 2.2 4.4 3.3c1.5 1.1 3.7 2.8 4.4 3.3"/><path class="T w10 d" d="M565.9 325.4c.7 1.1 2.9 4.8 4.4 6.6c1.5 1.8 2.6 2.9 4.4 4.4c1.8 1.5 5.5 3.7 6.6 4.4"/><path class="S w10 d" d="M572.5 321c.7-1.3 2.8-5.3 4.4-7.7c1.6-2.4 4.2-5.5 5.1-6.6"/><path class="T w10 d" d="M557.2 345.2c1.5 .7 5.8 3.3 8.7 4.4c2.9 1.1 6.1 1.6 8.8 2.2c2.7 .6 6.1 .9 7.3 1.1"/><path class="S w10 d" d="M504.4 346.3c.7 .9 2.9 3.5 4.4 5.5c1.5 2 2.9 4.6 4.4 6.6c1.5 2 2.9 3.7 4.4 5.5c1.5 1.8 3.7 4.6 4.4 5.5"/><path class="PO w10 d" d="M496.7 371.6c1.3 .2 5.3 1.1 7.7 1.1c2.4 0 5.5-.9 6.6-1.1"/><path class="GO w10 d" d="M534.1 357.9c.9 .1 3.5 .5 5.5 .9c2 .4 5.5 1.5 6.6 1.8"/><path class="R w10 d" d="M535.2 369.4c1.1 .6 4.4 2.4 6.6 3.3c2.2 .9 4.4 1.4 6.6 2.1c2.2 .7 5.5 1.8 6.6 2.2"/><path class="T w10 d" d="M522 380.3c1.8 .6 7.3 2.2 11 3.3c3.7 1.1 7.3 2.4 11 3.3c3.7 .9 7.4 1.5 11 2.2c3.6 .7 7.2 1.5 10.9 2.2c3.6 .7 9.2 1.5 11 1.8"/><path class="LG w10 d" d="M522 384.7c1.8 .4 7.3 1.9 11 2.7c3.7 .8 7.3 1.5 11 2.2c3.7 .7 7.4 1.6 11 2.2c3.6 .6 9.1 1.4 10.9 1.7"/><path class="GO w10 d" d="M528.6 388c1.8 .4 7.3 1.5 11 2.2c3.7 .7 7.3 1.6 11 2.2c3.7 .6 7.4 1.1 11 1.6c3.6 .5 7.5 1 10.9 1.3c3.4 .3 7.9 .3 9.5 .4"/><path class="LG w10 d" d="M565.9 362.8c1.5 .2 6.1 .7 8.8 1.1c2.7 .4 6.1 .9 7.3 1.1"/><path class="S w10 d" d="M544 378.1c1.8 .4 7.4 1.6 11 2.2c3.6 .6 9.1 .9 10.9 1.1"/><path class="G w10" d="M522 326.5c1.1 .9 4.4 3.7 6.6 5.5c2.2 1.8 4.4 3.7 6.6 5.5c2.2 1.8 4.4 3.9 6.6 5.5c2.2 1.6 4.4 3.3 6.6 4.4c2.2 1.1 5.5 1.8 6.6 2.2"/><path class="S w10" d="M544 312.6c1.1 .2 4.4 .6 6.6 1.3c2.2 .7 4.4 1.7 6.6 2.7c2.2 1 5.5 2.7 6.6 3.3"/><path class="T w11" d="M550.6 338.6c1.1 .6 4.1 2.2 6.6 3.3c2.5 1.1 5.8 2.9 8.7 3.3c2.9 .4 6.1-1.1 8.8-1.1c2.7 0 6.1 .9 7.3 1.1"/><path class="G w12" d="M574.7 321l7.3-1.1"/><path class="LG w9" d="M508.8 359.5c.4 .6 1.3 2.2 2.2 3.3c.9 1.1 2.8 2.8 3.3 3.3"/><path class="S w10" d="M494.5 370.5c.7 .9 2.8 4 4.4 5.4c1.6 1.4 3.7 2 5.5 2.7c1.8 .7 4 1.2 5.5 1.7c1.5 .5 2.8 .9 3.3 1.1"/><path class="O w16" d="M523.1 375.5c1.3 .4 5.3 1.6 7.7 2.6c2.4 1 4.4 2.5 6.6 3.3c2.2 .8 4.4 1.1 6.6 1.6c2.2 .5 4.4 1 6.6 1.3c2.2 .3 5.5 .3 6.6 .4"/><path class="G w10" d="M517.6 360.6c1.1 .6 4.4 2.2 6.6 3.3c2.2 1.1 4 2.2 6.6 3.3c2.6 1.1 5.9 2.4 8.8 3.3c2.9 .9 5.9 1.5 8.8 2.2c2.9 .7 7.3 1.8 8.8 2.1"/><path class="O w13" d="M561.6 381.4c1.4 .3 5.8 1.1 8.7 1.6c2.9 .5 6.9 1 8.8 1.3c2 .3 2.4 .3 2.9 .4"/><path class="T w11" d="M565.9 386.9c1.5 .2 6.1 .8 8.8 1.1c2.7 .3 6.1 .6 7.3 .7"/><path class="G w10" d="M565.9 375.9c1.5 .4 6.1 1.7 8.8 2.2c2.7 .6 6.1 .9 7.3 1.1"/><path class="S w10" d="M581 305.6c.7-.4 2.9-2.8 4.4-2.6c1.5 .2 2.9 2.3 4.4 3.7c1.5 1.4 2.8 2.9 4.4 4.4c1.6 1.5 4.6 3.7 5.5 4.4"/><path class="LG w13" d="M581 319.9c1.1 .1 4.4 .1 6.6 .6c2.2 .6 4.8 1.8 6.6 2.7c1.8 .9 3.1 1.7 4.4 2.6c1.3 .9 2.8 2.4 3.3 2.9"/><path class="T w10" d="M581 333.1c1.1-.4 4.4-1.5 6.6-2.2c2.2-.7 4.4-2.4 6.6-2.2c2.2 .2 4.4 2 6.6 3.3c2.2 1.3 4.6 2.8 6.6 4.4c2 1.6 4 3.9 5.5 5.5c1.5 1.6 2.8 3.7 3.3 4.4"/><path class="S w10 d" d="M587.6 340.8l6.6 1.1"/><path class="T w10" d="M581 344.1c1.1 .4 4.4 1.6 6.6 2.2c2.2 .6 4.8 1 6.6 1.5c1.8 .5 3.7 1.1 4.4 1.3"/><path class="G w10" d="M587.6 350.7c1.1 .2 4.4 .9 6.6 1.1c2.2 .2 5.5 0 6.6 0"/><path class="S w10 d" d="M581 351.8c1.5 .4 5.9 1.1 8.8 2.2c2.9 1.1 6.2 2.9 8.8 4.4c2.6 1.5 5.5 3.7 6.6 4.4"/><path class="G w10" d="M598.6 357.3c1.5 .2 6.2 .7 8.8 1.1c2.6 .4 5.5 .9 6.6 1.1"/><path class="R w12" d="M607.4 372.7c.6-.6 2.2-2 3.3-3.3c1.1-1.3 2-3.3 3.3-4.4c1.3-1.1 2.9-1.5 4.4-2.2c1.5-.7 2.4-1.8 4.4-2.2c2-.4 6.4 0 7.7 0"/><path class="S w10 d" d="M618.4 346.3c.6 .9 2.2 3.5 3.3 5.5c1.1 2 2 4.4 3.3 6.6c1.3 2.2 2.9 4.4 4.4 6.6c1.5 2.2 3.3 4.6 4.4 6.6c1.1 2 1.8 4.5 2.2 5.4"/><path class="G w10 d" d="M637.1 366.1c.5 .2 2 .2 3.3 1.1c1.3 .9 3.3 2.2 4.4 4.4c1.1 2.2 1.5 6.5 2.2 8.7c.7 2.2 1.8 3.7 2.2 4.4"/><path class="G w10 d" d="M618.4 358.4c1.1 .7 4.4 2.8 6.6 4.4c2.2 1.7 4.4 3.3 6.6 5.5c2.2 2.2 4.4 5.2 6.6 7.6c2.2 2.4 4.8 4.8 6.6 6.6c1.8 1.8 3.7 3.7 4.4 4.4"/><path class="O w13" d="M581 373.8c1.5 .3 5.9 1.3 8.8 2.1c2.9 .8 5.9 1.6 8.8 2.7c2.9 1.1 5.9 2.6 8.8 3.9c2.9 1.3 5.9 2.7 8.8 4c2.9 1.3 5.9 2.5 8.8 3.7c2.9 1.2 5.9 2.2 8.8 3.3c2.9 1.1 5.9 2.4 8.8 3.3c2.9 .9 7.3 1.8 8.8 2.2"/><path class="O w13" d="M603 375.9c1.5 .4 5.9 1.5 8.8 2.2c2.9 .7 5.9 1.1 8.8 2.2c2.9 1.1 5.9 2.8 8.8 4.4c2.9 1.6 5.9 3.7 8.8 4.9c2.9 1.2 7.3 1.8 8.8 2.2"/><path class="GO w14" d="M581 380.3c1.5 .4 5.9 1.3 8.8 2.2c2.9 .9 5.9 2.2 8.8 3.3c2.9 1.1 5.9 2.1 8.8 3.3c2.9 1.2 5.9 2.8 8.8 4c2.9 1.2 5.9 2.1 8.8 3.1c2.9 1 7.3 2.3 8.8 2.8"/><path class="O w16" d="M581 386.9c1.5 .4 5.9 1.4 8.8 2.2c2.9 .8 5.9 1.8 8.8 2.7c2.9 .9 5.9 1.8 8.8 2.8c2.9 1 5.9 2.3 8.8 3.3c2.9 1 5.9 2 8.8 2.7c2.9 .7 7.3 1.1 8.8 1.3"/><path class="T w14" d="M581 384.7c1.8 .4 7.3 1.3 11 2.2c3.7 .9 7.3 2.3 11 3.3c3.7 1 7.3 2 11 2.9c3.7 .9 7.3 1.7 11 2.6c3.7 .9 7.3 1.9 11 2.7c3.7 .8 7.3 1.6 11 2.2c3.7 .6 7.4 .8 11 1.3c3.6 .5 9.1 1.2 10.9 1.5"/><path class="T w12" d="M581 393.5c1.8 .4 7.3 1.5 11 2.2c3.7 .7 7.3 1.1 11 1.8c3.7 .7 7.3 1.6 11 2.2c3.7 .6 7.3 1.1 11 1.5c3.7 .4 7.3 .8 11 1.1c3.7 .3 9.2 .4 11 .5"/><path class="G w12" d="M592 380.3c1.8 .4 7.3 1.8 11 2.7c3.7 .9 7.3 1.8 11 2.8c3.7 1 7.3 2.2 11 3.3c3.7 1.1 7.3 2.2 11 3.3c3.7 1.1 7.3 2.2 11 3.3c3.7 1.1 9.2 2.8 11 3.3"/><path class="LG w10 d" d="M581 391.3c1.8 .3 7.3 1.1 11 1.8c3.7 .7 7.3 1.5 11 2.2c3.7 .7 9.2 1.8 11 2.2"/><path class="T w10 d" d="M581 356.2c1.5 .7 5.9 2.8 8.8 4.4c2.9 1.6 5.9 3.9 8.8 5.5c2.9 1.6 7.3 3.7 8.8 4.4"/><path class="G w10 d" d="M581 365c1.5 .6 5.9 2.2 8.8 3.3c2.9 1.1 7.3 2.8 8.8 3.3"/><path class="S w11" d="M581 380.3c1.1 .4 4.4 1.5 6.6 2.2c2.2 .7 5.5 1.5 6.6 1.8"/><path class="GO w10 d" d="M638.2 391.3c1.5 .3 6.2 1.4 8.8 1.8c2.6 .4 5.5 .3 6.6 .4"/></g></g><path d="M488.5 366.4c2.1-.1 8.1-.4 12.8-.5c4.7-.1 10.1-.1 15.2-.1c5.1 0 10.2 0 15.2 .1c5 .1 10.5 .2 15.1 .4c4.5 .2 8.7 .4 12.2 .6c3.5 .2 6.1 .4 9.1 .6c3 .2 6.6 .5 9.1 .9c2.5 .4 4.1 .6 6.1 1.2c2 .6 3.6 1.2 6.1 2.4c2.5 1.2 6.1 3.2 9.1 4.6c3 1.4 6.1 2.7 9.1 3.9c3 1.2 6.1 2.1 9.1 3.1c3 1 6.1 1.9 9.1 3c3 1.1 6.1 2.2 9.1 3.3c3 1.1 6.1 2 9.1 3c3 1 6.1 2.3 9.1 3.2c3 .9 5.6 1.4 9.1 2.1c3.5 .7 10.2 1.6 12.2 1.9L674.4 409.7c-2-.7-8.6-2.7-12.2-4.1c-3.5-1.4-6.1-2.5-9.1-4c-3-1.5-6.1-3.3-9.1-4.8c-3-1.5-6.1-2.8-9.1-4.2c-3-1.4-6.1-2.8-9.1-4c-3-1.2-6.1-2-9.1-3c-3-1-6.1-1.9-9.1-3.1c-3-1.2-6.1-2.5-9.1-3.9c-3-1.4-6.6-3.4-9.1-4.6c-2.5-1.2-4.1-1.8-6.1-2.4c-2-.6-3.6-.9-6.1-1.2c-2.5-.4-6.1-.6-9.1-.9c-3-.2-5.6-.4-9.1-.6c-3.5-.2-7.7-.4-12.2-.6c-4.5-.1-10-.5-15.1-.3c-5 .2-10.1 .7-15.2 1.3c-5.1 .6-10.5 1.4-15.2 2.3c-4.7 .9-10.7 2.7-12.8 3.2Z" fill="#9a9a9a" fill-opacity="0.45"/><path d="M488.5 370.6c2.1-.3 8.1-1.3 12.8-1.8c4.7-.5 10.1-.9 15.2-1.2c5.1-.3 10.2-.7 15.2-.7c5-.1 10.5 .2 15.1 .4c4.5 .2 8.7 .4 12.2 .6c3.5 .2 6.1 .4 9.1 .6c3 .2 6.6 .5 9.1 .9c2.5 .4 4.1 .6 6.1 1.2c2 .6 3.6 1.2 6.1 2.4c2.5 1.2 6.1 3.2 9.1 4.6c3 1.4 6.1 2.7 9.1 3.9c3 1.2 6.1 2.1 9.1 3.1c3 1 6.1 1.9 9.1 3c3 1.1 6.1 2.4 9.1 3.6c3 1.2 6.1 2.4 9.1 3.7c3 1.3 6.1 2.7 9.1 3.9c3 1.2 5.6 2.1 9.1 3.1c3.5 1 10.2 2.5 12.2 3" fill="none" stroke="#111" stroke-width="1.35"/></g>
<clipPath id="cC3"><rect x="478.6" y="289.3" width="205.9" height="124.3"/></clipPath>
<rect x="478.6" y="289.3" width="205.9" height="124.3" fill="none" stroke="#bfbfbf" stroke-width="1"/>
<g font-family="Liberation Sans, sans-serif" font-size="3.6" fill="#3a3a3a"><line x1="477.4" y1="305.7" x2="478.6" y2="305.7" stroke="#444" stroke-width="0.7"/><text x="477" y="306.9" text-anchor="end">1500</text><line x1="477.4" y1="338.6" x2="478.6" y2="338.6" stroke="#444" stroke-width="0.7"/><text x="477" y="339.8" text-anchor="end">1000</text><line x1="477.4" y1="371.6" x2="478.6" y2="371.6" stroke="#444" stroke-width="0.7"/><text x="477" y="372.8" text-anchor="end">500</text><line x1="477.4" y1="404.8" x2="478.6" y2="404.8" stroke="#444" stroke-width="0.7"/><text x="477" y="406" text-anchor="end">0</text><line x1="530.9" y1="413.6" x2="530.9" y2="414.8" stroke="#444" stroke-width="0.7"/><text x="530.9" y="418.2" text-anchor="middle">0.25</text><line x1="583.7" y1="413.6" x2="583.7" y2="414.8" stroke="#444" stroke-width="0.7"/><text x="583.7" y="418.2" text-anchor="middle">0.50</text><line x1="636.4" y1="413.6" x2="636.4" y2="414.8" stroke="#444" stroke-width="0.7"/><text x="636.4" y="418.2" text-anchor="middle">0.75</text></g>
<g><line x1="28.2" y1="439.2" x2="235.4" y2="439.2" stroke="#f3f3f3" stroke-width="0.6"/><line x1="28.2" y1="477.6" x2="235.4" y2="477.6" stroke="#f3f3f3" stroke-width="0.6"/><line x1="28.2" y1="515.9" x2="235.4" y2="515.9" stroke="#f3f3f3" stroke-width="0.6"/><line x1="54.3" y1="428.3" x2="54.3" y2="553.3" stroke="#f3f3f3" stroke-width="0.6"/><line x1="107.4" y1="428.3" x2="107.4" y2="553.3" stroke="#f3f3f3" stroke-width="0.6"/><line x1="160.5" y1="428.3" x2="160.5" y2="553.3" stroke="#f3f3f3" stroke-width="0.6"/><line x1="213.5" y1="428.3" x2="213.5" y2="553.3" stroke="#f3f3f3" stroke-width="0.6"/><line x1="28.2" y1="458.4" x2="235.4" y2="458.4" stroke="#ebebeb" stroke-width="0.8"/><line x1="28.2" y1="496.8" x2="235.4" y2="496.8" stroke="#ebebeb" stroke-width="0.8"/><line x1="28.2" y1="535.1" x2="235.4" y2="535.1" stroke="#ebebeb" stroke-width="0.8"/><line x1="80.8" y1="428.3" x2="80.8" y2="553.3" stroke="#ebebeb" stroke-width="0.8"/><line x1="133.9" y1="428.3" x2="133.9" y2="553.3" stroke="#ebebeb" stroke-width="0.8"/><line x1="187" y1="428.3" x2="187" y2="553.3" stroke="#ebebeb" stroke-width="0.8"/></g>
<g clip-path="url(#cD1)"><g filter="url(#bl)"><g fill="none" stroke-linecap="round" stroke-linejoin="round"><path class="LG w11 d" d="M88.8 493.1c1.2 .3 4.9 1.5 7.4 1.9c2.5 .4 4.9 .4 7.4 .3c2.5-.1 6.2-.5 7.4-.6"/><path class="S w10 d" d="M162.3 465.4c1 .2 4 .9 6 1.2c2 .3 4 .5 6 .8c2 .3 4.1 1 6.1 1.2c2 .2 5-.1 6-.1"/><path class="T w11 d" d="M169.9 466.8c1.2 0 4.8 0 7.2 .2c2.4 .2 4.8 .7 7.2 .9c2.4 .2 4.8 .3 7.2 .5c2.4 .2 4.9 .8 7.3 .9c2.4 .2 6 0 7.2 0"/><path class="T w12 d" d="M96.2 477.3c1.2 .1 5 .5 7.5 .9c2.5 .4 5.1 1.1 7.6 1.5c2.5 .4 5.1 .5 7.6 .7c2.5 .2 5.1 .2 7.6 .3c2.5 .1 5 .2 7.5 .5c2.5 .2 5.1 .8 7.6 1c2.5 .2 6.3 .2 7.6 .2"/><path class="S w11 d" d="M112.2 465.2c1.2 0 4.7 0 7.1 .1c2.4 .1 4.7 .2 7.1 .6c2.4 .4 5.9 1.3 7.1 1.6"/><path class="G w11" d="M115.4 461.2c1.2 .3 4.8 1.3 7.3 1.9c2.5 .6 4.9 1 7.4 1.5c2.5 .5 5 1 7.4 1.4c2.4 .4 4.9 .9 7.3 1c2.4 .1 4.9 0 7.4-.1c2.4-.1 4.9-.1 7.3-.4c2.4-.3 6.2-1.1 7.4-1.3"/><path class="G w12 d" d="M140.7 476.8c1.1-.1 4.4-.6 6.6-.7c2.2-.1 4.4-.1 6.6 0c2.2 .1 4.3 .2 6.5 .5c2.2 .2 4.4 .5 6.6 1c2.2 .5 5.5 1.8 6.6 2.2"/><path class="G w10 d" d="M167.2 474.5c1.3 .7 5.3 3.6 8 4.4c2.7 .8 5.3 .9 8 .5c2.7-.4 6.6-2.2 7.9-2.6"/><path class="PG w9" d="M179.9 478.1c1.3 .2 5.1 .7 7.6 1.2c2.5 .5 5.1 1.2 7.6 1.6c2.5 .4 5 .7 7.5 .7c2.5 .1 6.3-.3 7.6-.4"/><path class="G w10 d" d="M192 482.5c1 .7 4.1 3.3 6.1 4c2 .7 4 .6 6 .2c2-.4 5.1-2.2 6.1-2.6"/><path class="PT w12 d" d="M146.6 470.3c1.3-.2 5.2-1.1 7.8-1.2c2.6-.1 5.2 .2 7.8 .3c2.6 .1 5.1 0 7.7 .1c2.6 .1 5.2 .5 7.8 .8c2.6 .3 5.2 .6 7.8 1.2c2.6 .6 5.1 1.5 7.7 2.2c2.6 .7 6.5 1.8 7.8 2.1"/><path class="G w12 d" d="M97.1 478.9c1.2 .1 5 .5 7.4 .6c2.5 .1 4.9-.1 7.3 .1c2.4 .2 4.9 .8 7.3 1c2.4 .2 4.9 0 7.3 .1c2.4 .1 4.9 .4 7.3 .6c2.4 .2 4.9 .8 7.3 .9c2.4 .1 6.1-.1 7.3-.1"/><path class="PT w12 d" d="M190.4 480.8c1.1-.3 4.4-1.7 6.6-1.9c2.2-.2 4.4-.1 6.6 .6c2.2 .7 5.5 2.8 6.6 3.4"/><path class="PG w10" d="M187.4 488.4c1.3 .8 5.1 4 7.6 4.8c2.5 .8 5.1 .4 7.6 0c2.5-.4 6.3-1.8 7.6-2.2"/><path class="LG w10 d" d="M99.4 480.5c1.2 .1 4.8 .2 7.2 .3c2.4 .1 4.7 .1 7.1 .3c2.4 .2 4.7 .9 7.1 1.2c2.4 .2 4.8 .2 7.2 .3c2.4 .1 5.9 .3 7.1 .4"/><path class="S w14 d" d="M124.4 494.6c1.3 .3 5.2 1.7 7.8 1.8c2.6 .1 5.2-.1 7.8-1c2.6-.9 6.5-3.6 7.8-4.3"/><path class="R w13 d" d="M98.3 535.5c1.2-.2 4.6-.9 7-1.2c2.4-.3 4.7-.3 7.1-.6c2.4-.2 4.8-.7 7.1-.9c2.3-.2 4.7-.3 7-.6c2.3-.3 4.7-.8 7.1-1.1c2.4-.3 5.9-.5 7.1-.6"/><path class="GO w14 d" d="M77.1 530.5c1.2-.1 4.6-.4 6.9-.7c2.3-.3 4.6-.7 6.9-1c2.3-.3 4.6-.6 6.9-.8c2.3-.2 5.8-.2 7-.3"/><path class="PG w13" d="M191.6 494.1c1 .1 4.1 .4 6.1 .8c2 .4 4.1 .9 6.1 1.4c2.1 .5 5.2 1.4 6.2 1.7"/><path class="T w12 d" d="M93.2 514.6c1.2-.5 4.9-2.2 7.3-2.9c2.4-.7 4.9-1.2 7.3-1.4c2.4-.2 6 0 7.2 0"/><path class="G w13 d" d="M94.3 530.7c1.2 .1 5 1 7.5 .8c2.5-.2 5-.6 7.5-1.9c2.5-1.3 6.2-4.9 7.5-5.9"/><path class="G w13" d="M67.8 534.3c1.1-.2 4.5-.8 6.7-1c2.2-.2 4.5 .1 6.8-.2c2.2-.3 4.5-1.1 6.7-1.6c2.2-.5 4.5-1 6.8-1.4c2.2-.4 4.5-.7 6.7-1.2c2.2-.5 5.6-1.4 6.7-1.7"/><path class="T w12 d" d="M76.7 529.8c1.1-.6 4.5-2.5 6.8-3.5c2.2-1 4.5-1.6 6.7-2.2c2.2-.6 4.5-1.1 6.7-1.5c2.2-.4 4.5-.8 6.8-1c2.2-.2 5.6-.1 6.7-.1"/><path class="S w15 d" d="M103.7 514.4c.9 0 3.8-.1 5.6-.1c1.8 0 3.6 .3 5.5 .1c1.9-.2 4.7-1.2 5.6-1.4"/><path class="G w12" d="M193.6 488.8c1.3-.2 5.1-1.1 7.6-1c2.5 .1 5 .9 7.5 1.8c2.5 .9 6.3 3.1 7.6 3.7"/><path class="GO w12 d" d="M175.8 496.5c1.2 .3 4.6 1.4 6.9 2c2.3 .6 4.6 1.4 6.9 1.7c2.3 .3 4.6 .1 6.9-.1c2.3-.1 4.6-.3 6.9-.8c2.3-.5 5.8-1.8 6.9-2.2"/><path class="GO w14 d" d="M187.2 512c1-.1 4-.6 6-.6c2 0 3.9 .7 5.9 .8c2 .1 5-.3 6-.4"/><path class="PT w14 d" d="M201.3 499.4c1-.3 4-1.6 6-1.6c2 .1 4 .9 6 1.9c2 1 5 3.3 6 3.9"/><path class="G w13 d" d="M69.9 536.2c1.1 .1 4.2 .4 6.4 .6c2.1 .2 4.3 .7 6.5 .5c2.2-.2 4.3-1.1 6.5-1.6c2.2-.5 4.2-.7 6.4-1.4c2.2-.7 5.4-2.2 6.5-2.7"/><path class="T w14 d" d="M156.5 530.8c1.1-.2 4.3-.9 6.4-1.2c2.1-.3 4.2-.6 6.3-.6c2.1 0 4.2 .3 6.3 .5c2.1 .2 5.3 .8 6.4 .9"/><path class="LG w12 d" d="M141.2 519.7c1.3-.5 5.3-2.6 7.9-2.9c2.6-.3 6.6 .8 7.9 1"/><path class="G w12 d" d="M156 510.7c1.1-.3 4.5-1.4 6.7-1.8c2.2-.4 4.5-.5 6.7-.5c2.2 0 4.4 .3 6.6 .6c2.2 .3 5.6 1.1 6.7 1.3"/><path class="PG w13 d" d="M165.2 501.3c1.3 .1 5.3 .8 7.9 .9c2.6 .1 6.6 0 7.9 0"/><path class="S w13 d" d="M73 534.6c1.2-.2 5-1.1 7.5-1.3c2.5-.2 5.1-.2 7.6-.1c2.5 .1 6.3 .4 7.6 .5"/><path class="GO w14 d" d="M82.2 532.6c1.2-.3 4.7-1.4 7-1.9c2.3-.5 4.7-.8 7-1c2.3-.2 4.6-.7 6.9-.5c2.3 .2 4.7 1.1 7 1.6c2.3 .5 5.8 1.2 6.9 1.5"/><path class="G w13" d="M82.7 533.1c1.1 .1 4.6 .8 6.9 .7c2.3-.1 4.6-.6 6.9-1.1c2.3-.5 4.6-1.3 6.9-1.9c2.3-.6 4.6-.9 6.9-1.7c2.3-.8 4.6-2.2 6.9-3.2c2.3-1 5.7-2.5 6.8-3"/><path class="LG w13 d" d="M128.9 503.8c1.3-.3 5.1-1.1 7.6-1.7c2.5-.6 5-1.2 7.5-1.6c2.5-.4 5.1-.6 7.6-.7c2.5-.1 5.1 .1 7.6 .4c2.5 .3 6.3 1.2 7.6 1.5"/><path class="G w12 d" d="M191.6 511.3c1.2 .4 4.6 1.8 6.9 2.4c2.3 .6 4.7 .8 7 1c2.3 .2 4.6 .2 6.9 0c2.3-.2 5.8-1 6.9-1.2"/><path class="T w13 d" d="M203.4 493c1.3 1 5.2 4.9 7.9 5.8c2.7 .9 6.7-.4 8-.5"/><path class="LG w13" d="M185 510.5c1.1 .1 4.5 .3 6.8 .5c2.3 .2 4.6 .3 6.9 .5c2.3 .2 4.6 .6 6.9 .9c2.3 .3 4.5 .7 6.8 .9c2.3 .2 5.8 .2 6.9 .3"/><path class="T w13 d" d="M149.2 493.5c1.2 0 4.9 0 7.4-.1c2.5-.1 4.9-.5 7.4-.6c2.5-.1 4.9 .2 7.4 .3c2.5 .1 4.9 .1 7.4 .3c2.5 .1 4.9 .5 7.4 .6c2.5 .1 6.2 0 7.4 0"/><path class="G w15 d" d="M141.3 481.5c1.2-.5 4.7-2.1 7-3c2.3-.9 4.7-1.8 7-2.2c2.3-.4 4.6-.2 6.9-.1c2.3 .1 4.7 .4 7 .7c2.3 .3 4.7 .6 7 1.3c2.3 .7 5.8 2.3 7 2.8"/><path class="T w13 d" d="M179.2 506.9c1.1 .4 4.4 1.8 6.6 2.5c2.2 .7 4.3 1.1 6.5 1.6c2.2 .5 4.4 1.2 6.6 1.4c2.2 .2 4.3 0 6.5 0c2.2 0 5.5-.1 6.6-.1"/><path class="GO w12 d" d="M205.7 501.2c1.1-.1 4.5-1.2 6.8-.9c2.3 .3 5.7 2.2 6.8 2.6"/><path class="T w13 d" d="M165.4 482.6c1.1 0 4.3 0 6.4 0c2.1 0 4.2-.2 6.4 0c2.2 .2 5.4 1 6.5 1.2"/><path class="PG w11" d="M55.2 538.1c1.1-.3 4.6-1.6 6.9-2c2.3-.4 4.6-.4 6.9-.4c2.3 0 4.6-.1 6.9 .2c2.3 .3 5.8 1.2 6.9 1.5"/><path class="G w15 d" d="M159.2 509.5c1.2 .3 4.9 1.2 7.3 1.8c2.4 .6 5 1.6 7.4 1.9c2.4 .3 4.8-.1 7.3-.3c2.4-.2 4.9-.4 7.4-.8c2.5-.4 6.1-1.5 7.3-1.8"/><path class="G w14 d" d="M56.2 533.5c1.2 .5 5 2.4 7.5 2.7c2.5 .3 5.1-.2 7.6-.7c2.5-.5 6.2-2.2 7.5-2.6"/><path class="T w15 d" d="M206.2 496.6c1.1 .1 4.3 .1 6.5 .5c2.2 .4 5.5 1.6 6.6 1.9"/><path class="GO w11" d="M111.2 508.7c1.3 0 5.1 .1 7.6-.2c2.5-.3 5.1-1.3 7.6-1.8c2.5-.5 5-.6 7.5-1.3c2.5-.7 5.1-1.7 7.6-2.8c2.5-1.1 6.3-3 7.6-3.6"/><path class="GO w12 d" d="M75.8 530.3c1.2-.1 4.6-.4 6.9-.7c2.3-.3 4.5-.6 6.8-1.1c2.3-.5 4.6-1.5 6.9-2.2c2.3-.8 4.6-1.3 6.9-2.3c2.3-1 5.7-2.9 6.8-3.5"/><path class="S w12 d" d="M104.5 520.9c1.2 0 5 .1 7.5 0c2.5-.1 5.1-.2 7.6-.5c2.5-.3 5-.8 7.5-1.2c2.5-.4 5.1-.9 7.6-1.3c2.5-.5 6.2-1.2 7.5-1.4"/><path class="LG w14 d" d="M127.4 506.2c.9 .2 3.6 .8 5.4 .9c1.8 .1 3.7-.1 5.5-.4c1.8-.3 4.5-1.2 5.4-1.5"/><path class="GO w14 d" d="M148.5 526c1.2 .1 4.8 .6 7.2 .9c2.4 .3 4.8 .5 7.2 .7c2.4 .2 4.7 .7 7.1 .8c2.4 .1 4.8-.1 7.2-.4c2.4-.3 6-1.2 7.2-1.4"/><path class="PT w12 d" d="M73.8 538c1.2 .4 4.7 1.8 7 2.3c2.3 .5 4.6 .5 6.9 .7c2.3 .2 4.6 .4 6.9 .4c2.3 0 4.6 .1 6.9-.1c2.3-.2 4.7-.7 7-1.2c2.3-.5 5.8-1.7 6.9-2"/><path class="S w14 d" d="M95.5 521.4c1.2 .3 4.8 1.3 7.3 1.6c2.5 .3 5 .1 7.4 .3c2.5 .2 4.9 .7 7.3 .7c2.4 0 4.8-.2 7.3-.6c2.5-.4 5-1 7.4-1.6c2.4-.6 6.1-1.8 7.3-2.2"/><path class="S w12 d" d="M185.7 481.1c1.1-.1 4.5-.6 6.7-.7c2.2-.1 4.5-.2 6.8 0c2.2 .2 4.5 .6 6.7 1c2.2 .4 4.5 .7 6.7 1.3c2.2 .6 5.6 1.8 6.7 2.2"/><path class="LG w12 d" d="M65.1 541.9c1.3-.5 5.3-3.3 7.9-3.2c2.6 .1 6.6 3 7.9 3.6"/><path class="PG w13 d" d="M78.7 527.3c1.3-.5 5.1-2.6 7.7-3.1c2.6-.5 5.1-.1 7.7 .1c2.5 .2 6.3 1.1 7.6 1.3"/><path class="T w12 d" d="M70.5 526.7c1.1 0 4.3-.1 6.4-.2c2.1-.1 4.2-.5 6.3-.7c2.1-.2 5.2-.7 6.3-.8"/><path class="G w12 d" d="M116.7 511.1c1.2-.2 4.8-1 7.2-1.4c2.4-.4 4.7-.3 7.1-1c2.4-.7 4.7-2.1 7.1-3.2c2.4-1.1 6-2.8 7.2-3.4"/><path class="LG w14 d" d="M200.6 491.1c1 .1 4.1 .6 6.2 .9c2.1 .3 4.2 .4 6.3 .9c2.1 .5 5.2 1.8 6.2 2.2"/><path class="R w13 d" d="M107.3 519.7c1.1-.2 4.5-.9 6.8-1.2c2.3-.4 4.6-.4 6.9-.9c2.3-.5 4.5-1.3 6.8-1.9c2.3-.6 4.6-1 6.9-1.5c2.3-.5 5.7-1.5 6.8-1.8"/><path class="O w12 d" d="M175.1 505.3c1.2 0 4.8 .2 7.3 0c2.5-.2 4.9-1 7.4-1c2.5 0 4.9 .7 7.4 .8c2.5 .1 4.9-.4 7.4-.3c2.5 .1 4.8 .7 7.3 1.1c2.5 .4 6.2 1 7.4 1.2"/><path class="O w13" d="M120 517c1.1 .4 4.3 2 6.4 2.5c2.1 .5 4.2 .9 6.3 .4c2.1-.5 5.3-2.6 6.4-3.1"/><path class="T w11" d="M143.8 500.9c1.2 .2 5 .9 7.5 1.3c2.5 .4 5 1.1 7.5 1.4c2.5 .3 5 .5 7.5 .6c2.5 .1 4.9-.2 7.4-.3c2.5-.1 5-.2 7.5-.6c2.5-.4 6.2-1.3 7.5-1.6"/><path class="GO w13 d" d="M186.1 498.7c.9 0 3.7-.1 5.6 .1c1.9 .2 3.7 .8 5.6 1c1.9 .2 4.7 .3 5.6 .4"/><path class="PG w13 d" d="M91.8 522.7c1.3 .3 5.1 1.7 7.6 2c2.5 .3 5.1 .3 7.6 0c2.5-.3 5.1-1.1 7.6-1.9c2.5-.8 6.3-2.2 7.6-2.7"/><path class="G w12 d" d="M99.5 538.3c1.1-.3 4.5-1 6.8-1.6c2.3-.5 4.6-1.1 6.9-1.7c2.3-.6 4.6-1.4 6.9-2.2c2.3-.8 4.5-1.8 6.8-2.4c2.3-.6 4.6-.8 6.9-1.4c2.3-.6 5.7-1.7 6.8-2"/><path class="G w14 d" d="M81 531.9c1.2-.1 4.9-.2 7.4-.4c2.5-.2 4.9-.5 7.4-.7c2.5-.2 4.9-.2 7.4-.7c2.5-.5 4.9-1.6 7.4-2.2c2.5-.6 6.2-1.4 7.4-1.7"/><path class="T w12 d" d="M95.8 516.2c1.2-.3 5-1.1 7.5-1.6c2.5-.5 5-1.2 7.5-1.5c2.5-.3 5.1-.4 7.6-.5c2.5-.1 5-.1 7.5 .1c2.5 .2 6.2 1.1 7.5 1.3"/><path class="GO w14 d" d="M72.7 526.8c1.2-.5 4.9-2.1 7.4-2.9c2.5-.8 4.9-1.3 7.4-1.9c2.5-.6 4.9-1.5 7.4-1.8c2.5-.3 6.2 0 7.4 0"/><path class="T w14 d" d="M66.7 527.6c1.2-.4 4.9-1.8 7.4-2.2c2.5-.4 5-.4 7.5-.4c2.5 0 6.2 .2 7.4 .3"/><path class="GO w13 d" d="M64.3 537.8c1.3-.3 5.2-1.3 7.8-1.8c2.6-.5 5.1-.8 7.7-1c2.6-.2 5.1-.3 7.7-.3c2.6 0 5.2 .3 7.8 .6c2.6 .2 6.4 .8 7.7 .9"/><path class="T w13 d" d="M133 473.6c1.1-.4 4.2-1.8 6.3-2.4c2.1-.6 4.2-1 6.3-1c2.1 0 4.1 .4 6.2 1c2.1 .6 5.2 2 6.3 2.4"/><path class="O w14 d" d="M69.9 537c1.1 .1 4.5 .7 6.7 .8c2.2 .1 4.4-.1 6.6-.2c2.2-.1 4.5 0 6.7-.2c2.2-.2 5.6-1.1 6.7-1.3"/><path class="T w13" d="M130.2 523.7c.9-.5 3.7-2.6 5.6-3.1c1.9-.5 3.7-.5 5.6-.1c1.9 .4 4.8 1.8 5.7 2.2"/><path class="G w12 d" d="M144 492.1c1.1-.4 4.3-1.7 6.5-2.2c2.2-.6 4.3-1.1 6.5-1.1c2.2 0 4.3 .5 6.5 .9c2.2 .4 5.4 1.1 6.5 1.3"/><path class="T w12" d="M69.3 526.3c1.2 .4 5 2.1 7.5 2.5c2.5 .4 5 .2 7.5-.1c2.5-.3 5-.8 7.5-1.8c2.5-1 6.2-3.6 7.4-4.3"/><path class="LG w12 d" d="M89.7 523.5c1.2-.6 4.7-2.6 7.1-3.7c2.4-1.1 4.8-1.9 7.2-2.7c2.4-.8 4.8-1.4 7.2-1.9c2.4-.5 4.8-1.1 7.2-1.3c2.4-.2 4.7-.1 7.1 .1c2.4 .2 6 .8 7.2 1"/><path class="PT w13" d="M56.7 532.5c1.2 0 5-.2 7.5-.3c2.5-.1 5-.3 7.5-.3c2.5 0 5.1 .4 7.6 .4c2.5 0 5-.4 7.5-.4c2.5 0 6.2 .1 7.5 .1"/><path class="R w14 d" d="M159.1 496.3c1 .1 4.2 .3 6.2 .6c2.1 .2 4.1 .7 6.1 .9c2 .2 4.2 .1 6.2 .1c2 0 5.1-.2 6.1-.2"/><path class="T w14 d" d="M95.4 509.1c1.3 0 5.3 .5 7.9 .2c2.6-.3 5.3-1 7.9-1.8c2.6-.8 5.3-1.8 7.9-3c2.6-1.2 6.6-3.4 7.9-4.1"/><path class="G w12 d" d="M115.6 495.6c1.1-.1 4.3-.4 6.5-.7c2.2-.4 4.4-.8 6.6-1.4c2.2-.6 5.4-2.1 6.5-2.5"/><path class="S w13 d" d="M100 519.9c1.3-.8 5.3-4 8-4.5c2.7-.5 6.6 1.2 7.9 1.4"/><path class="G w15 d" d="M136.4 494.9c1.1 0 4.4 .2 6.6 .1c2.2-.1 4.4-.4 6.6-.5c2.2-.1 4.4-.1 6.6-.3c2.2-.2 4.4-.6 6.6-.8c2.2-.2 5.4-.5 6.5-.6"/><path class="O w11" d="M92.8 527.6c1-.5 4.2-2 6.3-3c2.1-1 4.2-2.2 6.3-3c2.1-.8 4.2-1.4 6.3-2c2.1-.6 5.2-1.5 6.2-1.8"/><path class="PT w11" d="M102.4 530.1c1.2-.4 4.8-1.8 7.1-2.4c2.3-.6 4.7-.9 7-1.5c2.3-.6 4.7-1.6 7-2.4c2.3-.8 4.7-1.6 7-2.4c2.3-.8 4.7-1.8 7-2.4c2.3-.6 5.8-1.2 7-1.5"/><path class="T w14 d" d="M63.4 534.3c1.1 .1 4.3 .5 6.5 .5c2.2 0 4.3-.5 6.5-.8c2.2-.3 4.3-.5 6.5-.8c2.2-.3 4.3-.6 6.5-1.1c2.2-.5 5.4-1.6 6.5-1.9"/><path class="T w13" d="M55.4 531.1c1.2 .2 5 1 7.5 1.4c2.5 .4 4.9 .8 7.4 .9c2.5 .1 5 .2 7.5 0c2.5-.2 4.9-.6 7.4-1c2.5-.4 5-.7 7.5-1.3c2.5-.6 6.2-1.9 7.4-2.3"/><path class="T w12 d" d="M60.1 527.2c1.3 .3 5.3 1.8 8 1.8c2.7 0 6.7-1.5 8-1.8"/><path class="T w12 d" d="M165.1 491.9c1 .2 4.1 .9 6.2 1.4c2.1 .5 4.1 1.4 6.2 1.6c2.1 .2 4.1 0 6.2-.2c2.1-.2 5.2-.8 6.2-1"/><path class="LG w12" d="M119.2 499.4c1.1-.1 4.6-.4 6.9-.5c2.3-.1 4.6 .1 6.9-.3c2.3-.4 4.6-1.6 6.9-2.3c2.3-.7 4.6-1.3 6.9-1.9c2.3-.6 4.6-.9 6.9-1.6c2.3-.7 5.8-2 6.9-2.4"/><path class="T w13 d" d="M143.2 496.1c1.3-.3 5.2-1.6 7.8-2c2.6-.4 5.2-.1 7.8-.2c2.6-.1 5.3-.4 7.9-.2c2.6 .2 5.2 .9 7.8 1.3c2.6 .4 6.5 .7 7.8 .8"/><path class="R w12 d" d="M194.8 511.3c1 .4 4.1 2 6.2 2.7c2.1 .7 4.1 .9 6.1 1.3c2 .4 4.1 .8 6.1 .9c2 .1 5.1-.3 6.1-.4"/><path class="PG w12 d" d="M127.6 527.4c1.3-.5 5.2-2.3 7.8-3.3c2.6-1 5.3-2.1 7.9-2.8c2.6-.7 5.2-1.4 7.8-1.5c2.6-.1 5.3 .6 7.9 1c2.6 .4 6.5 1.3 7.8 1.6"/><path class="O w13 d" d="M117.2 513.7c1.1-.4 4.6-1.6 6.9-2.5c2.3-.9 4.5-2.1 6.8-3c2.3-.9 4.6-1.7 6.9-2.3c2.3-.6 4.6-1 6.9-1.4c2.3-.4 5.7-.9 6.8-1.1"/><path class="G w12 d" d="M199.4 499.6c1.1-.1 4.5-.5 6.7-.3c2.2 .2 4.4 .2 6.6 1.4c2.2 1.2 5.5 4.8 6.6 5.7"/><path class="G w13 d" d="M80.6 530.9c1.1-.5 4.5-2.3 6.7-3.3c2.2-1 4.5-2 6.7-2.6c2.2-.6 4.5-.7 6.7-.9c2.2-.2 5.6-.1 6.7-.1"/><path class="GO w14 d" d="M154 505c1.2-.3 4.8-1.6 7.2-1.9c2.4-.3 4.7-.1 7.1 .3c2.4 .4 6 1.9 7.2 2.3"/><path class="S w12 d" d="M164.3 530.7c1.3-.4 5.1-2 7.7-2.4c2.6-.4 5.1-.2 7.7 .2c2.6 .4 6.4 1.8 7.7 2.2"/><path class="PT w14 d" d="M170 483.5c1.1-.2 4.3-1.3 6.5-1.5c2.2-.2 4.3 .2 6.5 .5c2.2 .2 5.3 .8 6.4 1"/><path class="O w12 d" d="M141.1 514.7c1.2 0 5 0 7.4 0c2.4 0 4.9 0 7.3 0c2.4 0 4.9 0 7.3 0c2.4 0 4.9 .2 7.3 .1c2.4-.1 6.1-.6 7.3-.7"/><path class="GO w15 d" d="M178.8 505.6c.9 .2 3.7 .8 5.5 1c1.8 .2 3.7 .5 5.5 .5c1.8 0 4.5-.6 5.4-.7"/><path class="PT w13 d" d="M81.7 527.2c1.2-.3 5-1.1 7.5-1.9c2.5-.8 5.1-1.8 7.6-2.7c2.5-.9 5.1-1.8 7.6-2.7c2.5-.9 6.3-2.2 7.6-2.6"/><path class="PG w12 d" d="M71 532.2c1.3-.4 5.2-1.8 7.8-2.5c2.6-.8 5.3-1.5 7.9-2c2.6-.5 5.2-.9 7.8-1c2.6-.1 6.5 .2 7.8 .2"/><path class="T w11" d="M181.1 492.3c1.3 .1 5.2 .1 7.7 .3c2.6 .2 5.1 .7 7.6 1.1c2.5 .4 5 .9 7.6 1.3c2.6 .4 5.1 .3 7.7 .8c2.6 .5 6.3 1.7 7.6 2"/><path class="O w14 d" d="M106.5 507.9c1.1-.4 4.5-1.8 6.7-2.3c2.2-.5 4.5-.5 6.7-.8c2.2-.3 4.5-.7 6.7-1.1c2.2-.4 4.5-.9 6.7-1.2c2.2-.3 4.5-.4 6.8-.4c2.2 .1 5.6 .6 6.7 .7"/><path class="S w11" d="M138.9 497.3c1.1-.2 4.3-.9 6.4-1.4c2.1-.5 4.2-1.2 6.4-1.4c2.2-.2 4.3-.2 6.5 0c2.2 .2 4.3 .7 6.4 1.1c2.1 .4 5.3 1 6.4 1.2"/><path class="PT w13 d" d="M136.3 482.3c1.1-.4 4.5-1.6 6.8-2.2c2.2-.6 4.5-1.4 6.7-1.7c2.2-.3 4.5-.1 6.8-.1c2.2 0 4.5-.3 6.7-.1c2.2 .2 4.4 .6 6.7 1.1c2.2 .6 5.7 1.8 6.8 2.2"/><path class="R w12 d" d="M78.9 530.3c1.2-.3 4.7-1.2 7-1.6c2.3-.4 4.7-.4 7-.6c2.3-.2 4.8-.5 7.1-.5c2.3 0 4.7 .1 7 .3c2.3 .2 4.7 .6 7 .8c2.3 .2 5.8 .5 7 .6"/><path class="T w15 d" d="M205 516.2c1.2 .5 4.8 3 7.2 2.9c2.4-.1 5.9-2.8 7.1-3.3"/><path class="O w11" d="M152.9 468.3c1.3-.3 5.1-1.1 7.6-1.7c2.5-.6 5-1.4 7.5-1.6c2.5-.2 5.1 0 7.6 .3c2.5 .3 5.1 .5 7.6 1.3c2.5 .8 6.2 2.7 7.5 3.3"/><path class="T w13 d" d="M146.6 509.9c1.3 .4 5.3 1.6 7.9 2.1c2.6 .5 5.3 .7 7.9 1c2.6 .3 5.3 .7 7.9 .6c2.6-.1 5.3-.9 7.9-1.4c2.6-.4 6.6-1.1 7.9-1.3"/><path class="GO w12 d" d="M101.1 510c1.3-.2 5.3-1.3 7.9-1.5c2.6-.2 5.2 .2 7.8 .2c2.6 0 5.2-.2 7.8 0c2.6 .2 6.5 .8 7.8 1"/><path class="LG w10 d" d="M129.1 474.6l2.9-.4"/><path class="G w10 d" d="M92.9 483c1.3 .4 5.3 1.9 7.7 2.6c2.4 .7 4.1 1.1 6.6 1.8c2.5 .7 5.8 1.5 8.7 2.2c2.9 .7 6.1 1.5 8.8 2.2c2.7 .7 6.1 1.8 7.3 2.2"/><path class="LG w10 d" d="M106.1 480.8c.9 .4 3.5 1.9 5.5 2.6c2 .6 4.3 .9 6.5 1.3c2.2 .4 4.3 .5 6.6 .9c2.3 .4 6.1 1.1 7.3 1.3"/><path class="T w10 d" d="M100.6 498.4c1.5 .1 5.9 .2 8.8 .4c2.9 .2 5.8 .5 8.7 .7c2.9 .2 6.5 .4 8.8 .6c2.3 .2 4.2 .4 5.1 .5"/><path class="G w10 d" d="M92.9 500.6c1.7 .3 6.8 1.3 9.9 1.7c3.1 .4 5.9 .6 8.8 .9c2.9 .3 5.3 .5 8.7 .7c3.4 .2 9.8 .5 11.7 .6"/><path class="O w10 d" d="M115.9 503.9c1.5 .1 6.1 .4 8.8 .6c2.7 .2 6.1 .4 7.3 .5"/><path class="S w10 d" d="M94 511.6c1.5 .1 5.9 .5 8.8 .4c2.9-.1 5.9-.6 8.8-.9c2.9-.2 5.3-.4 8.7-.6c3.4-.2 9.8-.6 11.7-.7"/><path class="R w11 d" d="M63.6 505c.1 .9 .5 3.7 .7 5.5c.2 1.8-.7 4.3 .6 5.4c1.3 1.1 4.4 .6 7.1 1.1c2.7 .5 5.9 1.5 8.8 2.2c2.9 .7 5.9 1.5 8.8 2.2c2.9 .7 7.3 1.8 8.8 2.2"/><path class="S w10 d" d="M83 514.8c1.5 .2 5.9 .7 8.8 1.1c2.9 .4 5.9 .7 8.8 1.1c2.9 .4 5.9 .8 8.8 1.1c2.9 .3 7.2 .4 8.7 .5"/><path class="T w10 d" d="M69.8 526.9c1.5 .2 5.9 .7 8.8 1.1c2.9 .4 7.3 .9 8.8 1.1"/><path class="T w10 d" d="M63.2 540.1c1.5 .4 5.9 1.6 8.8 2.2c2.9 .5 5.9 .8 8.8 1.1c2.9 .3 5.9 .5 8.8 .7c2.9 .2 5.9 .3 8.8 .4c2.9 .1 7.3 0 8.8 0"/><path class="LG w10 d" d="M72 544.5c1.8 .2 7.3 .7 11 1.1c3.7 .4 7.3 .8 11 1.1c3.7 .3 7.3 .5 11 .5c3.7 0 9.1-.4 10.9-.5"/><path class="R w10 d" d="M83 542.3c1.5 .1 5.9 .5 8.8 .5c2.9 0 7.3-.4 8.8-.5"/><path class="T w10 d" d="M111.6 537.9c1.5 .2 5.8 .7 8.7 1.1c2.9 .4 7.3 .9 8.8 1.1"/><path class="G w10 d" d="M115.9 542.3c1.5 .2 6.1 .8 8.8 1.1c2.7 .3 6.1 .6 7.3 .7"/><path class="LG w10 d" d="M115.9 518.1c1.5 .2 6.1 .8 8.8 1.1c2.7 .3 6.1 .6 7.3 .7"/><path class="T w12" d="M114.2 452.2c.6-.6 2.5-2.4 3.9-3.3c1.4-.9 2.9-1.9 4.4-2.2c1.5-.3 2.8 .1 4.4 .6c1.6 .6 4.2 2.2 5.1 2.7"/><path class="GO w11" d="M115.9 450c.7 .3 2.9 .8 4.4 1.7c1.5 .9 2.9 2.6 4.4 3.8c1.5 1.2 3.2 2.2 4.4 3.3c1.2 1.1 2.4 2.8 2.9 3.3"/><path class="S w9" d="M118.1 473.1c1.1-.6 4.3-2.4 6.6-3.3c2.3-.9 6.1-1.8 7.3-2.2"/><path class="G w10" d="M96.2 486.3c1.5 .4 5.9 1.4 8.8 2.2c2.9 .8 6.2 1.7 8.8 2.8c2.5 1.1 5.4 3.2 6.5 3.8"/><path class="GO w10" d="M122.5 494c.7-.4 2.8-1.5 4.4-2.2c1.6-.7 4.2-1.5 5.1-1.8"/><path class="T w10" d="M98.4 513.8c1.5-.2 5.9-.7 8.8-1.1c2.9-.4 7.2-.9 8.7-1.1"/><path class="O w16" d="M75.3 524.3c1.3 .1 5 .7 7.7 .9c2.8 .2 5.9 .7 8.8 .6c2.9-.1 5.9-.7 8.8-1.1c2.9-.4 5.9-.7 8.8-1.1c2.9-.4 5.8-.9 8.7-1.1c2.9-.2 6.5-.2 8.8-.4c2.3-.2 4.2-.6 5.1-.7"/><path class="G w12" d="M64.3 533.1c1.3 .2 5 1 7.7 1.5c2.8 .5 5.9 1.1 8.8 1.6c2.9 .5 5.9 1.2 8.8 1.7c2.9 .5 5.9 .8 8.8 1.1c2.9 .3 7.3 .6 8.8 .7"/><path class="O w12" d="M72 531.3c1.5 .1 5.9 .3 8.8 .5c2.9 .2 5.9 .4 8.8 .6c2.9 .2 7.3 .6 8.8 .7"/><path class="GO w16" d="M80.8 537.5c1.5 .1 5.9 .6 8.8 .9c2.9 .2 5.9 .4 8.8 .6c2.9 .2 7.3 .6 8.8 .7"/><path class="G w14" d="M74.2 535.7c1.5 .2 5.9 .7 8.8 1.1c2.9 .4 7.3 .9 8.8 1.1"/><path class="S w9" d="M44.5 533.5c.7 .4 2.8 1.5 4.4 2.2c1.6 .7 3.5 1.5 5.5 2.2c2 .7 5.5 1.8 6.6 2.2"/><path class="LG w13" d="M57.7 534.6l2.2 1.1"/><path class="T w11" d="M105 529.1c1.5-.1 5.9-.2 8.8-.4c2.9-.2 5.7-.4 8.7-.7c3-.3 7.9-.9 9.5-1.1"/><path class="G w11" d="M105 531.3c1.8-.1 7.2-.2 10.9-.4c3.7-.2 8.3-.5 11-.7c2.7-.2 4.2-.5 5.1-.6"/><path class="GO w12" d="M111.6 533.5c1.5-.1 5.8-.2 8.7-.4c2.9-.2 6.8-.5 8.8-.7c1.9-.2 2.4-.3 2.9-.4"/><path class="PG w10 d" d="M141.9 435.7c1.3-.4 5.3-2 7.7-2.2c2.4-.2 4.8 0 6.6 1.1c1.8 1.1 2 3.9 4.4 5.5c2.4 1.6 8.2 3.7 9.9 4.4"/><path class="S w11" d="M137.5 445.6c.4 .6 1.5 2.4 2.2 3.3c.7 .9 1.8 1.8 2.2 2.2"/><path class="S w10 d" d="M132 451.1c1.5-.2 5.9-1 8.8-1.1c2.9-.1 5.5 .2 8.8 .4c3.3 .2 9.2 .6 11 .7"/><path class="S w10 d" d="M132 459.9c1.1-.4 4.4-1.5 6.6-2.2c2.2-.7 4-2 6.6-2.2c2.6-.2 5.9 .6 8.8 1.1c2.9 .6 5.9 1.3 8.8 2.2c2.9 .9 5.7 2.2 8.8 3.3c3.1 1.1 8.2 2.7 9.9 3.3"/><path class="GO w11 d" d="M132 461c.7 .9 2.9 3.7 4.4 5.5c1.5 1.8 2.9 4 4.4 5.5c1.5 1.5 2.9 2.4 4.4 3.3c1.5 .9 2.9 1.5 4.4 2.2c1.5 .7 3.7 1.8 4.4 2.2"/><path class="LG w10 d" d="M140.8 458.8c1.5 .4 5.9 1.6 8.8 2.2c2.9 .6 5.9 1.3 8.8 1.7c2.9 .4 7.3 .8 8.8 .9"/><path class="O w14" d="M174.9 462.1c.7-.9 2.8-4.1 4.4-5.5c1.7-1.4 3.5-2.6 5.5-2.7c2-.1 4.4 1.2 6.6 2.2c2.2 1 4.8 2.8 6.6 3.8c1.8 1 3.7 1.8 4.4 2.2"/><path class="G w10 d" d="M189.2 465.4c.7-.1 2.9-.9 4.4-.5c1.5 .4 2.9 1.2 4.4 2.7c1.5 1.6 2.9 4 4.4 6.6c1.5 2.6 3.1 5.5 4.4 8.8c1.3 3.3 2.4 7.7 3.3 11c.9 3.3 1.8 7.3 2.2 8.8"/><path class="T w10" d="M132 469.8c1.5 .2 5.9 1 8.8 1.1c2.9 .1 5.9-.4 8.8-.7c2.9-.3 5.9-.6 8.8-.9c2.9-.2 6.4-.9 8.8-.6c2.4 .3 4.6 1.8 5.5 2.2"/><path class="O w13" d="M151.8 467.6c.7 .6 2.9 2.2 4.4 3.3c1.5 1.1 2.9 2.2 4.4 3.3c1.5 1.1 2.9 2.6 4.4 3.3c1.5 .7 3.7 .9 4.4 1.1"/><path class="R w14" d="M158.4 480.8c1.5-.4 5.9-1.8 8.8-2.2c2.9-.4 6.4-.6 8.8-.5c2.4 .1 4.6 .8 5.5 .9"/><path class="O w16" d="M165 476.4c1.1 .1 4.4 .1 6.6 .4c2.2 .3 4.2 .8 6.6 1.3c2.4 .5 6.4 1.3 7.7 1.6"/><path class="O w14" d="M167.2 487.4c.7 .7 2.6 3.5 4.4 4.4c1.8 .9 4.4 1.1 6.6 1.1c2.2 0 5.5-.9 6.6-1.1"/><path class="G w11" d="M176 480.8c1.5 0 6.2-.3 8.8 0c2.6 .3 4.4 1.3 6.6 1.7c2.2 .4 5.5 .4 6.6 .5"/><path class="R w12" d="M169.4 486.3c1.1-.2 4.6-1 6.6-1.1c2-.1 4.6 .3 5.5 .4"/><path class="G w10" d="M154 485.2c1.5-.2 5.9-.8 8.8-1.1c2.9-.3 7.3-.6 8.8-.7"/><path class="T w10" d="M132 481.9c1.5 .2 5.9 1.3 8.8 1.1c2.9-.2 5.9-1.6 8.8-2.2c2.9-.6 7.3-.9 8.8-1.1"/><path class="GO w12" d="M132 484.1c.7 .6 2.9 2.2 4.4 3.3c1.5 1.1 2.9 2.4 4.4 3.3c1.5 .9 3.7 1.8 4.4 2.2"/><path class="O w17" d="M187 494c1.1-.4 4.4-1.8 6.6-2.2c2.2-.4 4.6-.7 6.6 0c2 .7 4 2.8 5.5 4.4c1.5 1.6 2.8 4.6 3.3 5.5"/><path class="T w12" d="M189.2 496.2c1.5 .4 5.9 1.5 8.8 2.2c2.9 .7 6.4 1.1 8.8 2.2c2.4 1.1 4.6 3.7 5.5 4.4"/><path class="S w12" d="M202.4 491.8c.7 .4 2.9 .9 4.4 2.2c1.5 1.3 3.1 3.7 4.4 5.5c1.3 1.8 2.8 4.6 3.3 5.5"/><path class="S w10" d="M154 490.7c1.5 .2 5.9 .7 8.8 1.1c2.9 .4 6.2 .4 8.8 1.1c2.6 .7 5.5 2.8 6.6 3.3"/><path class="G w11" d="M132 502.8c1.5 .2 5.9 1.1 8.8 1.1c2.9 0 5.9-.5 8.8-1.1c2.9-.6 7.3-1.8 8.8-2.2"/><path class="O w13" d="M138.6 502.8c1.1 .2 4 1 6.6 1.1c2.6 .1 5.9-.5 8.8-.7c2.9-.2 5.9-.5 8.8-.4c2.9 .1 5.9 .8 8.8 1.1c2.9 .3 7.3 .5 8.8 .6"/><path class="GO w12" d="M167.2 503.9c1.5 .2 6.2 1 8.8 1.1c2.6 .1 5.5-.4 6.6-.5"/><path class="T w10 d" d="M132 510.5c1.5 .1 5.9 .4 8.8 .6c2.9 .2 5.5 .5 8.8 .5c3.3 0 9.2-.4 11-.5"/><path class="O w17" d="M143 515.9c1.8-.1 7.3-.2 11-.4c3.7-.2 7.3-.7 11-.7c3.7 0 7.3 .5 11 .7c3.7 .2 7.7 .5 11 .4c3.3-.1 7.3-.9 8.8-1.1"/><path class="R w13" d="M145.2 520.3c1.5-.4 5.9-1.6 8.8-2.2c2.9-.5 5.9-1.1 8.8-1.1c2.9 0 5.9 .8 8.8 1.1c2.9 .3 7.3 .4 8.8 .5"/><path class="O w14" d="M149.6 523.6c.6 .5 2.6 2.3 3.3 3.3c.7 1 .9 2.2 1.1 2.7"/><path class="G w13" d="M132 524.7c1.8-.1 7.3-.2 11-.4c3.7-.2 7.3-.5 11-.7c3.7-.2 7.3-.4 11-.6c3.7-.2 7.3-.6 11-.5c3.7 .1 7.3 .7 11 1.1c3.7 .4 7.7 .7 11 1.1c3.3 .4 7.3 .9 8.8 1.1"/><path class="T w13" d="M171.6 520.3c1.5 .2 5.9 .7 8.8 1.1c2.9 .4 5.9 .6 8.8 1.1c2.9 .5 5.9 1.5 8.8 2.2c2.9 .7 6.1 1 8.8 1.8c2.8 .8 6.4 2.6 7.7 3.1"/><path class="O w14" d="M180.4 520.3c1.5 .2 5.9 .7 8.8 1.1c2.9 .4 5.9 1 8.8 1.1c2.9 .1 7.3-.3 8.8-.4"/><path class="G w11" d="M184.8 511.6c1.5-.2 5.9-1.1 8.8-1.1c2.9 0 6.2 .7 8.8 1.1c2.6 .4 5.5 .9 6.6 1.1"/><path class="S w10" d="M132 520.3c1.5 .2 5.9 .8 8.8 1.1c2.9 .3 7.3 .6 8.8 .7"/><path class="T w10 d" d="M132 530.2c1.1 .1 4.4 .5 6.6 .7c2.2 .2 4.8 .3 6.6 .4c1.8 .1 3.7 0 4.4 0"/><path class="T w10 d" d="M132 533.5c1.5 .1 5.9 .5 8.8 .5c2.9 0 7.3-.4 8.8-.5"/><path class="GO w15" d="M132 543.4c1.5 0 5.9 .1 8.8 0c2.9-.1 5.9-.4 8.8-.6c2.9-.2 6.4-.5 8.8-.9c2.4-.4 4.6-1.1 5.5-1.3"/><path class="GO w11 d" d="M132 546.7c1.5 .2 5.9 .9 8.8 1.1c2.9 .2 5.9 .1 8.8 0c2.9-.1 5.9-.3 8.8-.4c2.9-.1 7.3-.2 8.8-.2"/><path class="G w11" d="M149.6 518.1c1.5-.2 5.9-.8 8.8-1.1c2.9-.3 5.9-.4 8.8-.6c2.9-.2 7.3-.4 8.8-.5"/><path class="T w14" d="M130.4 449.6c.3 .3 1.4 1.4 2.1 1.9c.7 .5 1.3 1.4 2.3 1.2c1-.2 3.2-1.8 3.9-2.2"/><path class="S w11" d="M118.1 473.7c1-.6 4.3-2.7 6.2-3.9c1.9-1.2 3.5-2.2 5.2-3.5c1.8-1.2 3.6-2.8 5.3-4c1.8-1.2 3.4-2.1 5.2-3c1.8-.9 3.7-1.7 5.3-2.2c1.6-.5 3.7-.8 4.4-.9"/><path class="LG w13" d="M137.4 459.7c.4-.4 1.6-2 2.6-2.6c1-.6 2.2-.9 3.5-.9c1.3 0 3.1 .3 4.4 .9c1.3 .6 2.3 1.7 3.5 2.6c1.2 .9 2 1.9 3.5 2.6c1.5 .7 3.6 1.1 5.3 1.3c1.7 .2 4 0 4.8 0"/></g></g><path d="M37.1 530.7c2 .5 8.1 2.3 12.2 3.2c4 .9 8.1 2 12.1 2.4c4 .4 8.1 .5 12.1 0c4-.5 8.2-1.5 12.2-3c4-1.5 8-3.8 12.1-6.1c4-2.3 8.2-5 12.2-7.6c4-2.6 8-5.7 12.1-8.2c4-2.5 8.7-5.1 12.2-7c3.6-1.9 6.1-3.3 9.1-4.5c3-1.2 6.1-2.1 9.1-2.5c3-.4 5.5-.2 9.1 0c3.6 .2 8.2 .5 12.2 1c4.1 .5 8.1 .9 12.1 1.8c4 .9 8 2 12.1 3.4c4.1 1.4 8.6 3.6 12.2 5.3c3.6 1.7 6.6 3.6 9.1 5.1c2.5 1.5 5.1 3.2 6.1 3.9L225.4 527.5c-1-1-3.6-4.1-6.1-6.3c-2.5-2.2-5.6-4.8-9.1-7.1c-3.6-2.3-8.1-4.9-12.2-6.8c-4.1-1.9-8.1-3.3-12.1-4.5c-4-1.2-8-1.8-12.1-2.4c-4.1-.6-8.7-.8-12.2-1c-3.6-.2-6.1-.4-9.1 0c-3 .4-6.1 1.3-9.1 2.5c-3 1.2-5.5 2.6-9.1 4.5c-3.6 1.9-8.2 4.5-12.2 7c-4 2.5-8 5.6-12.1 8.2c-4 2.6-8.2 5.3-12.2 7.6c-4 2.3-8 4.6-12.1 6.1c-4 1.5-8.2 2.3-12.2 3c-4 .7-8.1 1.1-12.1 1.3c-4 .2-8.1 0-12.1-.1c-4-.1-10.2-.3-12.2-.4Z" fill="#9a9a9a" fill-opacity="0.45"/><path d="M37.1 534.9c2 .3 8.1 1.3 12.2 1.8c4 .5 8.1 1.1 12.1 1.2c4 .1 8.1 0 12.1-.6c4-.6 8.2-1.5 12.2-3c4-1.5 8-3.8 12.1-6.1c4-2.3 8.2-5 12.2-7.6c4-2.6 8-5.7 12.1-8.2c4-2.5 8.7-5.1 12.2-7c3.6-1.9 6.1-3.3 9.1-4.5c3-1.2 6.1-2.1 9.1-2.5c3-.4 5.5-.2 9.1 0c3.6 .2 8.2 .5 12.2 1c4.1 .5 8.1 1.1 12.1 2.1c4 1 8 2.2 12.1 3.9c4.1 1.7 8.6 4.1 12.2 6.1c3.6 2 6.6 4.2 9.1 6.1c2.5 1.9 5.1 4.2 6.1 5.1" fill="none" stroke="#111" stroke-width="1.35"/></g>
<clipPath id="cD1"><rect x="28.2" y="428.3" width="207.2" height="125"/></clipPath>
<rect x="28.2" y="428.3" width="207.2" height="125" fill="none" stroke="#bfbfbf" stroke-width="1"/>
<g font-family="Liberation Sans, sans-serif" font-size="3.6" fill="#3a3a3a"><line x1="27" y1="458.4" x2="28.2" y2="458.4" stroke="#444" stroke-width="0.7"/><text x="26.6" y="459.6" text-anchor="end">150</text><line x1="27" y1="496.8" x2="28.2" y2="496.8" stroke="#444" stroke-width="0.7"/><text x="26.6" y="498" text-anchor="end">100</text><line x1="27" y1="535.1" x2="28.2" y2="535.1" stroke="#444" stroke-width="0.7"/><text x="26.6" y="536.3" text-anchor="end">50</text><line x1="80.8" y1="553.3" x2="80.8" y2="554.5" stroke="#444" stroke-width="0.7"/><text x="80.8" y="557.9" text-anchor="middle">0.25</text><line x1="133.9" y1="553.3" x2="133.9" y2="554.5" stroke="#444" stroke-width="0.7"/><text x="133.9" y="557.9" text-anchor="middle">0.50</text><line x1="187" y1="553.3" x2="187" y2="554.5" stroke="#444" stroke-width="0.7"/><text x="187" y="557.9" text-anchor="middle">0.75</text></g>
<g><line x1="250.5" y1="436.9" x2="459.4" y2="436.9" stroke="#f3f3f3" stroke-width="0.6"/><line x1="250.5" y1="473.4" x2="459.4" y2="473.4" stroke="#f3f3f3" stroke-width="0.6"/><line x1="250.5" y1="509.9" x2="459.4" y2="509.9" stroke="#f3f3f3" stroke-width="0.6"/><line x1="250.5" y1="546.4" x2="459.4" y2="546.4" stroke="#f3f3f3" stroke-width="0.6"/><line x1="276.8" y1="428.3" x2="276.8" y2="553.3" stroke="#f3f3f3" stroke-width="0.6"/><line x1="330.3" y1="428.3" x2="330.3" y2="553.3" stroke="#f3f3f3" stroke-width="0.6"/><line x1="383.8" y1="428.3" x2="383.8" y2="553.3" stroke="#f3f3f3" stroke-width="0.6"/><line x1="437.4" y1="428.3" x2="437.4" y2="553.3" stroke="#f3f3f3" stroke-width="0.6"/><line x1="250.5" y1="455.1" x2="459.4" y2="455.1" stroke="#ebebeb" stroke-width="0.8"/><line x1="250.5" y1="491.6" x2="459.4" y2="491.6" stroke="#ebebeb" stroke-width="0.8"/><line x1="250.5" y1="528.1" x2="459.4" y2="528.1" stroke="#ebebeb" stroke-width="0.8"/><line x1="303.6" y1="428.3" x2="303.6" y2="553.3" stroke="#ebebeb" stroke-width="0.8"/><line x1="357.1" y1="428.3" x2="357.1" y2="553.3" stroke="#ebebeb" stroke-width="0.8"/><line x1="410.6" y1="428.3" x2="410.6" y2="553.3" stroke="#ebebeb" stroke-width="0.8"/></g>
<g clip-path="url(#cD2)"><g filter="url(#bl)"><g fill="none" stroke-linecap="round" stroke-linejoin="round"><path class="S w12 d" d="M355.7 487.4c1.3 .4 5.3 2 7.9 2.6c2.6 .6 5.3 .8 7.9 1.1c2.6 .3 5.2 .6 7.8 .7c2.6 .1 5.3 0 7.9-.2c2.6-.2 6.5-1 7.8-1.2"/><path class="LG w12 d" d="M355.3 493.5c1.3 .1 5.2 .5 7.8 .9c2.6 .4 5.2 1.2 7.8 1.5c2.6 .3 5.2 .3 7.8 .4c2.6 .1 6.5 0 7.8 0"/><path class="PG w9" d="M374.4 494.6c1.3-.1 5.1-.5 7.6-.6c2.5-.1 5.1 0 7.6 .2c2.6 .2 5.1 .7 7.7 1.2c2.6 .5 6.3 1.5 7.6 1.8"/><path class="PG w11 d" d="M347.3 495c1.1 .2 4.3 .8 6.4 1.2c2.1 .4 4.2 .7 6.3 .9c2.1 .2 4.2 .1 6.3 .1c2.1 0 5.3-.1 6.4-.1"/><path class="T w12 d" d="M386.5 477.3c1.3 .2 5.2 .7 7.8 1c2.6 .3 5.3 .5 7.9 .7c2.6 .2 5.3 .1 7.9 .3c2.6 .2 5.3 .5 7.9 .7c2.6 .2 5.3 .2 7.9 .3c2.6 .1 6.5 0 7.8 0"/><path class="T w11 d" d="M350.8 491.7c1.1-.3 4.5-1.2 6.8-1.6c2.3-.4 4.5-.6 6.8-.7c2.3-.1 4.6-.1 6.9 .2c2.3 .3 4.5 .8 6.8 1.7c2.3 .9 5.7 3 6.8 3.6"/><path class="G w11 d" d="M393.7 482.9c1.2 0 4.9-.2 7.4-.2c2.5 0 5 .1 7.5 .3c2.5 .2 4.9 .5 7.4 .7c2.5 .2 4.9 .2 7.4 .5c2.5 .2 4.9 .8 7.4 1c2.5 .2 6.2 .2 7.5 .3"/><path class="G w12 d" d="M346.4 501.8c1.1 .3 4.6 1.4 6.9 1.9c2.3 .5 4.6 .5 6.9 .9c2.3 .4 4.6 1.2 6.9 1.4c2.3 .1 4.6-.4 6.9-.5c2.3-.1 4.6 .1 6.9-.2c2.3-.2 5.8-1.1 6.9-1.3"/><path class="T w11 d" d="M372.1 488.4c1.3 0 5.1 .1 7.7 .1c2.6 0 5.1-.3 7.7-.3c2.6 0 5.2 .2 7.8 .5c2.6 .2 5.1 .8 7.7 1c2.6 .2 5.1 0 7.7 .3c2.6 .3 5.1 .8 7.7 1.4c2.6 .6 6.4 1.6 7.7 1.9"/><path class="PT w11 d" d="M369.1 472.3c1.2 .5 4.6 2.2 7 2.9c2.4 .7 4.8 1 7.1 1.1c2.3 .1 4.7-.3 7-.6c2.3-.3 5.8-.8 7-1"/><path class="PT w11 d" d="M359.7 492.6c1.1 0 4.5 0 6.7 .2c2.2 .2 4.5 .7 6.7 .9c2.2 .2 4.5 .2 6.7 .3c2.2 .1 4.5 .5 6.7 .6c2.2 .1 5.6-.1 6.7-.1"/><path class="PT w10 d" d="M368.8 488.6c1.3 .5 5.1 2.4 7.6 3c2.5 .6 5.1 .8 7.6 .9c2.6 .1 5.1 .1 7.7-.1c2.6-.2 6.3-.8 7.6-1"/><path class="PT w10 d" d="M398.9 496.3c1.3 .1 5.3 .6 7.9 .8c2.6 .2 5.3 .2 7.9 .4c2.6 .2 5.2 .8 7.8 1c2.6 .2 5.3 .1 7.9 .1c2.6 0 6.6-.2 7.9-.2"/><path class="LG w10 d" d="M350.5 500.4c1.3 0 5.2 .2 7.8 .2c2.6 .1 5.3 0 7.9 .1c2.6 .1 5.2 .3 7.8 .5c2.6 .2 6.5 .5 7.8 .6"/><path class="T w12 d" d="M398.1 478.3c1.1 .3 4.4 1.4 6.6 2c2.2 .6 4.3 .9 6.5 1.3c2.2 .4 4.4 .9 6.6 1c2.2 .1 4.3-.1 6.5-.5c2.2-.4 5.5-1.4 6.6-1.7"/><path class="G w12 d" d="M331.7 528.9c1.2-.4 4.7-1.7 7.1-2.3c2.4-.6 4.8-.9 7.2-1.3c2.4-.4 4.8-.9 7.2-1.2c2.4-.3 4.8-.8 7.2-.8c2.4 0 4.7 .5 7.1 .7c2.4 .2 6 .6 7.2 .7"/><path class="T w15 d" d="M413.1 510.7c1.2-.1 4.6-.3 7-.3c2.4 0 4.8 .1 7.1 .3c2.3 .2 4.6 .7 7 1.1c2.4 .4 5.9 .9 7.1 1.1"/><path class="S w12 d" d="M339.5 519.6c1.1-.3 4.6-1.3 6.9-1.9c2.3-.6 4.7-1.1 7-1.5c2.3-.4 5.8-.6 6.9-.7"/><path class="O w14 d" d="M297.5 533.6c1.3-.1 5.1-.6 7.6-.8c2.6-.2 5.1-.4 7.7-.6c2.6-.2 6.4-.7 7.7-.8"/><path class="G w12 d" d="M289.7 542.4c1 .3 4.1 1.4 6.2 2c2.1 .6 4.1 1.5 6.1 1.5c2.1 0 4.1-.9 6.2-1.7c2.1-.8 5.2-2.5 6.2-3"/><path class="PT w11" d="M420.3 531.6c1.2 .6 4.7 2.9 7 3.5c2.3 .6 4.7 .4 7 .4c2.3 0 5.8-.4 7-.5"/><path class="GO w12 d" d="M294.6 538.8c1.1-.6 4.2-3 6.3-3.7c2.1-.7 4.3-.8 6.4-.4c2.1 .4 5.3 2.2 6.4 2.7"/><path class="G w13 d" d="M424 512.2c1 .2 3.9 .9 5.8 1.2c1.9 .3 3.8 .4 5.7 .4c1.9 0 4.8-.3 5.8-.4"/><path class="G w15 d" d="M394.4 484.8c1.2 0 4.7 .1 7.1 .2c2.4 .1 4.8 .1 7.2 .2c2.4 .1 4.7 .2 7.1 .3c2.4 .1 6 .2 7.2 .2"/><path class="G w14 d" d="M296.1 530.3c1.1 .2 4.4 .6 6.6 1c2.2 .4 4.5 1 6.7 1.2c2.2 .2 4.4 .2 6.6-.1c2.2-.3 4.5-1 6.7-1.5c2.2-.5 5.6-1.4 6.7-1.7"/><path class="G w15 d" d="M366.5 529.9c1.1 0 4.5 .2 6.8 .2c2.3 0 4.6-.1 6.9-.2c2.3-.1 4.6-.6 6.9-.7c2.3-.1 4.6 .1 6.9 0c2.3-.1 4.5-.4 6.8-.5c2.3-.1 5.8 0 6.9 0"/><path class="PT w15 d" d="M406.6 500.1c1.3 .3 5.3 1.1 8 1.7c2.7 .6 5.4 1.1 8 1.6c2.6 .4 5.2 .9 7.9 1.1c2.6 .2 6.7 .2 8 .3"/><path class="T w12 d" d="M284.3 541.9c1 .4 4.1 1.7 6.2 2.1c2.1 .4 4.1 .3 6.2 .1c2.1-.2 4.1-.8 6.2-1.4c2.1-.6 5.2-1.8 6.2-2.1"/><path class="G w12 d" d="M292.3 533.2c1.3 .2 5.1 1.1 7.7 1.1c2.6 0 6.5-.9 7.8-1.1"/><path class="S w12" d="M421 528.3c1.1 .4 4.6 2.1 6.8 2.6c2.2 .5 4.4 .6 6.7 .3c2.2-.3 5.7-1.9 6.8-2.3"/><path class="LG w14 d" d="M400.1 512.5c1.1 .3 4.2 1.2 6.4 1.6c2.1 .4 4.3 .6 6.5 .8c2.2 .2 4.3 .5 6.5 .6c2.2 .1 4.4 0 6.5 0c2.1 0 5.3 .2 6.4 .2"/><path class="T w12 d" d="M321.8 522.9c1.1-.1 4.4-.4 6.6-.9c2.2-.5 4.5-1.3 6.7-2c2.2-.7 4.5-1.4 6.7-2.1c2.2-.7 5.6-1.8 6.7-2.1"/><path class="G w15 d" d="M348.9 531.2c1.1 .2 4.5 1.3 6.8 1.4c2.3 .1 4.5-.4 6.8-.7c2.3-.3 5.7-1.1 6.8-1.3"/><path class="G w14 d" d="M333.4 528.3c1.1-.5 4.5-2.3 6.8-3.2c2.3-.9 4.5-1.5 6.8-1.9c2.3-.4 4.6-.6 6.8-.4c2.2 .2 5.6 1.2 6.7 1.4"/><path class="G w12 d" d="M328.6 520.2c1.3 .5 5.1 3.1 7.7 3.1c2.6 0 6.3-2.6 7.6-3.1"/><path class="PT w13 d" d="M420.4 525.5c1.1-.4 4.6-2.3 6.9-2.5c2.3-.2 4.7 .4 7 1.5c2.3 1.1 5.8 4.2 7 5"/><path class="O w14 d" d="M371.1 519.6c1.2 .3 4.7 1.2 7.1 1.7c2.4 .5 4.8 .8 7.2 1c2.4 .2 4.8 .4 7.2 .3c2.4-.1 4.8-.7 7.2-1c2.4-.3 4.8-.6 7.2-1c2.4-.4 6-.9 7.2-1.1"/><path class="T w12 d" d="M373.7 525.8c1.2-.2 4.6-.9 6.9-1.3c2.3-.4 4.5-.8 6.8-1c2.3-.2 4.6-.4 6.9-.3c2.3 .1 4.6 .6 6.9 .8c2.3 .2 4.6 .3 6.9 .6c2.3 .3 5.7 1.2 6.8 1.4"/><path class="R w12 d" d="M370.8 496.4c1.2 .4 5 1.7 7.5 2.1c2.5 .4 5 .2 7.5 .3c2.5 .1 4.9 .4 7.4 .4c2.5 0 5-.4 7.5-.6c2.5-.2 5-.3 7.5-.7c2.5-.4 6.2-1.3 7.4-1.6"/><path class="PT w13 d" d="M346.5 526.6c1.2-.2 4.7-1.1 7.1-1.5c2.4-.4 4.8-.7 7.2-1.1c2.4-.4 6-1.1 7.2-1.3"/><path class="O w12" d="M307.4 540c1.2 .1 4.7 .4 7.1 .5c2.4 .1 4.8 .3 7.2 .3c2.4 0 4.8-.3 7.2-.4c2.4-.1 4.8 .2 7.2 0c2.4-.2 6-1.1 7.2-1.3"/><path class="GO w13 d" d="M418.1 512.7c1.3 .3 5 1.7 7.6 2c2.6 .3 6.4-.1 7.7-.1"/><path class="O w13 d" d="M415.6 517.4c1.1 .1 4.2 .4 6.4 .6c2.1 .2 4.4 .9 6.5 .9c2.1 0 4.3-.5 6.4-.8c2.1-.2 5.3-.6 6.4-.7"/><path class="GO w13 d" d="M423.4 517.2c1 .2 4 .9 6 1.4c2 .5 3.9 1.4 5.9 1.9c2 .5 5 1.2 6 1.4"/><path class="R w12" d="M368 536.1c1-.2 4-.8 6-1c2-.2 4-.2 6-.1c2 .1 5 .7 6 .8"/><path class="O w13 d" d="M276.8 542c1.2 .2 4.9 1.2 7.4 1.4c2.5 .2 4.9 0 7.4 0c2.5 0 4.9 .3 7.4 0c2.5-.3 6.2-1.4 7.4-1.7"/><path class="R w12 d" d="M405.6 522.6c1.2 .1 4.7 .3 7.1 .6c2.4 .3 4.8 .9 7.2 1.1c2.4 .2 4.7 .1 7.1 .1c2.4 0 4.8 .2 7.2 .1c2.4-.1 5.9-.4 7.1-.5"/><path class="S w11" d="M419.9 511.1c1.2-.4 4.7-2.1 7.1-2.4c2.4-.3 4.8-.3 7.2 .5c2.4 .8 5.9 3.4 7.1 4.1"/><path class="G w14 d" d="M370.7 503.3c1-.2 3.9-1.1 5.8-1.3c1.9-.2 3.8-.1 5.7 .1c1.9 .2 4.8 .8 5.8 .9"/><path class="G w12 d" d="M375.4 517.4c.9-.6 3.6-3.3 5.5-3.9c1.9-.6 3.7-.4 5.6 .1c1.9 .5 4.7 2.7 5.6 3.2"/><path class="G w14 d" d="M425.8 524.3c1.3 .5 5.1 2.9 7.7 3c2.6 .1 6.5-1.8 7.8-2.2"/><path class="G w13 d" d="M401.3 511.7c1.1-.2 4.3-.9 6.4-1.1c2.1-.2 4.3-.1 6.4 0c2.1 .1 4.2 .2 6.4 .8c2.1 .6 5.4 2.5 6.5 3"/><path class="T w12 d" d="M405 488c1.2-.3 4.8-1.6 7.2-2c2.4-.4 4.9-.2 7.3-.1c2.4 .1 4.9 .2 7.3 .9c2.4 .7 4.8 2 7.2 3.2c2.4 1.2 6.1 3.4 7.3 4.1"/><path class="T w14 d" d="M308.7 535.7c1.2 .1 4.8 .6 7.2 .7c2.4 .1 4.7-.1 7.1-.3c2.4-.2 6-.9 7.2-1.1"/><path class="G w13 d" d="M357.1 522.8c1.3-.1 5.2-.4 7.8-.4c2.6 0 5.3 .3 7.9 .1c2.6-.2 5.3-.6 7.9-1.1c2.6-.5 6.5-1.5 7.8-1.8"/><path class="PT w15 d" d="M334 526.1c1 .1 3.9 .7 5.8 .6c1.9-.1 3.9-.5 5.9-1.3c1.9-.8 4.8-2.9 5.8-3.5"/><path class="G w14 d" d="M415.2 511.8c1-.5 4.1-2.5 6.1-3c2-.5 4.1-.5 6.1 .1c2 .6 5.1 2.9 6.1 3.5"/><path class="O w14 d" d="M399.2 525c1.1-.2 4.5-.9 6.8-1.3c2.3-.4 4.5-1.1 6.8-1.3c2.3-.2 4.5-.1 6.8 .1c2.3 .2 4.6 .4 6.9 .9c2.3 .5 4.5 1 6.8 1.9c2.3 .9 5.7 2.7 6.8 3.2"/><path class="S w12 d" d="M363.4 519.5c1.2 .3 4.7 1.5 7 1.9c2.3 .4 4.7 .3 7 .3c2.3 0 4.7-.1 7-.2c2.3-.1 4.7-.3 7-.7c2.3-.4 5.8-1.3 6.9-1.6"/><path class="GO w13" d="M353.9 528.1c1.2 0 4.7 0 7.1-.1c2.4-.1 4.8-.6 7.2-.7c2.4-.1 4.8 .3 7.2 .2c2.4-.1 5.9-.8 7.1-1"/><path class="GO w14 d" d="M349.9 523.8c1.2 0 4.7 0 7.1-.1c2.4-.1 4.8-.3 7.1-.6c2.4-.3 4.6-.6 7-1c2.4-.4 4.7-.9 7.1-1.4c2.4-.5 5.9-1.2 7.1-1.5"/><path class="G w11" d="M309.2 530.3c1.2 .1 4.9 .6 7.3 .8c2.4 .2 4.9 .5 7.3 .3c2.4-.2 4.9-1 7.3-1.8c2.4-.8 6.1-2.2 7.3-2.7"/><path class="G w13 d" d="M410.6 518.2c1.3-.3 5.1-1.6 7.7-1.7c2.6-.1 5 .4 7.6 .8c2.6 .4 5.1 .5 7.7 1.4c2.6 .9 6.4 3.4 7.7 4.1"/><path class="G w13 d" d="M377.2 520.6c1.2 .3 5 1.6 7.5 1.9c2.5 .3 4.9 .1 7.4 0c2.5-.1 5-.4 7.5-.7c2.5-.3 6.2-.9 7.4-1.1"/><path class="PT w15 d" d="M306.7 537.5c1.2-.2 4.8-1.1 7.1-1.5c2.4-.4 4.7-.6 7-.7c2.3-.1 5.9 .2 7.1 .2"/><path class="T w14 d" d="M404.8 513c1.2 .5 4.9 2.3 7.3 3.1c2.4 .8 4.9 1.3 7.3 1.8c2.4 .5 4.9 1 7.3 1.4c2.4 .4 4.9 .6 7.3 .9c2.4 .3 6.1 .7 7.3 .8"/><path class="PT w14 d" d="M364.5 497.6c1.1-.1 4.6-.1 6.9-.3c2.3-.2 4.5-.5 6.8-.7c2.3-.2 4.5-.2 6.8-.3c2.3-.1 4.6-.1 6.9-.1c2.3-.1 4.5-.2 6.8-.2c2.3 .1 5.7 .4 6.8 .5"/><path class="S w14 d" d="M383.4 485.8c1.3 0 5.1 .1 7.6 .2c2.5 .1 5.1 .6 7.6 .7c2.5 .1 5-.3 7.5-.4c2.5-.1 6.3-.1 7.6-.1"/><path class="G w14 d" d="M422.5 515.4c1.1 .5 4.2 2.2 6.3 2.7c2.1 .5 4.1 .6 6.2 .3c2.1-.3 5.2-1.8 6.3-2.1"/><path class="GO w13" d="M395.3 523.2c1.1-.4 4.6-1.7 6.9-2.1c2.3-.4 4.6-.2 6.9-.3c2.3-.1 4.5-.2 6.8-.1c2.3 .1 4.6 .4 6.9 .8c2.3 .4 5.8 1.2 6.9 1.5"/><path class="PG w12 d" d="M335.7 533.4c1.2-.1 4.9-.4 7.3-.5c2.4-.1 4.8 .1 7.2-.1c2.4-.2 4.8-.7 7.2-1.1c2.4-.4 4.9-.6 7.3-1c2.4-.4 4.8-.6 7.2-1.1c2.4-.5 6-1.3 7.2-1.6"/><path class="T w13 d" d="M331.5 517.8c1.3-.3 5.1-1.2 7.6-1.8c2.5-.6 5.1-1.1 7.6-1.6c2.5-.5 5.1-1 7.6-1.6c2.5-.6 5.1-1.6 7.6-2.3c2.5-.7 6.2-1.6 7.5-1.9"/><path class="O w13 d" d="M353.3 525.5c1.1-.3 4.6-1.4 6.9-1.7c2.3-.4 4.6-.1 6.9-.4c2.3-.2 4.6-.8 6.9-1.1c2.3-.3 4.6-.4 6.9-.5c2.3-.1 5.8-.3 6.9-.4"/><path class="O w10" d="M369.9 531c1.2-.4 4.7-1.9 7-2.6c2.3-.7 4.7-1.2 7-1.4c2.3-.2 4.6-.1 6.9 .4c2.3 .5 5.8 2 7 2.4"/><path class="PT w14 d" d="M391.2 496.2c1-.2 4-1.1 5.9-1.4c1.9-.3 3.9-.4 5.8-.2c1.9 .2 4.8 1.3 5.8 1.6"/><path class="G w11" d="M299.3 541.9c1.2-.5 4.8-2.1 7.2-3c2.4-.9 4.9-1.9 7.3-2.4c2.4-.5 4.9-.6 7.3-.9c2.4-.3 4.9-.6 7.3-.7c2.4-.1 6.1 .3 7.3 .3"/><path class="G w13 d" d="M379.2 495.6c1.2 .3 4.7 1.2 7 1.6c2.3 .4 4.6 .8 7 1c2.4 .2 4.8 0 7.1 0c2.4 0 4.7 0 7-.1c2.3-.1 4.7-.1 7-.4c2.3-.3 5.8-1.2 7-1.5"/><path class="GO w13 d" d="M391.5 516.5c1.3 .4 5.3 1.7 8 2.3c2.7 .6 5.3 1 8 1.3c2.7 .3 5.3 .4 8 .4c2.7 0 5.3-.4 8-.7c2.7-.4 6.7-1.2 8-1.4"/><path class="G w15 d" d="M364.6 532.8c1.3 .4 5.1 1.6 7.6 2.1c2.5 .5 5 .6 7.5 .6c2.5 0 5.1-.1 7.6-.7c2.5-.6 6.2-2.4 7.5-2.9"/><path class="LG w11" d="M419.1 514.1c1.2 .1 4.9 .5 7.4 .9c2.5 .4 4.9 .9 7.4 1.5c2.5 .6 6.2 1.6 7.4 1.9"/><path class="G w12 d" d="M353.5 528.8c1 0 4.1 .3 6.2 .3c2.1 0 4.2 0 6.3-.2c2.1-.2 4.2-.4 6.3-.8c2.1-.4 5.2-1.2 6.2-1.5"/><path class="O w11" d="M370.4 518.4c1.3 .1 5.3 .7 7.9 .9c2.6 .2 5.3 .1 7.9 .1c2.6 0 5.3-.3 7.9-.4c2.6-.1 5.3 0 7.9-.2c2.6-.2 6.6-1 7.9-1.2"/><path class="O w14 d" d="M368.3 536.1c1.3 .3 5.1 1.4 7.7 1.9c2.6 .5 5.2 1.1 7.8 1.2c2.6 .1 5.1-.2 7.7-.5c2.6-.3 5.2-.7 7.8-1.2c2.6-.5 6.4-1.5 7.7-1.8"/><path class="O w12 d" d="M377.4 528.5c1.1-.1 4.5-.7 6.8-.9c2.3-.2 4.6-.2 6.9-.3c2.3-.1 4.6-.2 6.9-.3c2.3-.1 4.5-.3 6.8-.1c2.3 .2 4.6 .8 6.9 1.2c2.3 .4 5.7 1.2 6.8 1.4"/><path class="T w12 d" d="M419.1 498.1c1.2 .4 4.9 1.6 7.4 2.2c2.5 .6 4.9 1.1 7.4 1.2c2.5 .1 6.2-.5 7.4-.6"/><path class="PG w15 d" d="M367.2 523c1.3-.7 5.3-4.2 7.9-4.2c2.6 0 6.6 3.3 7.9 3.9"/><path class="R w15 d" d="M298.9 537.7c.9 .1 3.8 .7 5.6 .7c1.9 0 3.6-.4 5.5-.9c1.9-.5 4.7-1.6 5.6-1.9"/><path class="PG w12 d" d="M338.9 536.6c1.2-.6 4.9-2.6 7.4-3.6c2.5-1 4.9-1.5 7.4-2.2c2.4-.7 4.9-1.7 7.3-2.1c2.4-.4 4.9-.4 7.4-.5c2.4-.1 4.9-.2 7.3-.2c2.4 0 6.2 .2 7.4 .3"/><path class="T w13 d" d="M278.2 540.9c1.3-.1 5.1-.4 7.6-.6c2.5-.2 5.1-.4 7.6-.4c2.5 0 5.1 .1 7.6 .2c2.5 .1 6.3 .2 7.6 .2"/><path class="T w14 d" d="M336.7 510.6c1.2 .3 5 1.3 7.5 1.9c2.5 .6 5.1 1.5 7.6 1.8c2.5 .3 5.1 .2 7.6-.1c2.5-.3 5.1-.8 7.6-1.5c2.5-.7 6.2-2.4 7.5-2.9"/><path class="T w14 d" d="M324.6 516.2c1.3 .3 5.3 2.5 7.9 1.9c2.6-.6 6.6-4.4 7.9-5.3"/><path class="G w14 d" d="M322.9 541.4c1.2-.1 4.9-.2 7.3-.5c2.4-.2 4.9-.7 7.3-1c2.4-.3 4.9-.5 7.3-.6c2.4-.1 4.9-.2 7.3-.3c2.4-.1 6.1-.2 7.3-.3"/><path class="GO w12 d" d="M407.7 486.4c1 .4 4.1 1.8 6.1 2.2c2 .4 4.1 .3 6.1 .4c2 .1 5.1 .1 6.1 .1"/><path class="T w12 d" d="M374.9 516.4c1.1 0 4.5-.3 6.7-.3c2.2 0 4.4 .3 6.7 .3c2.2 0 4.6-.3 6.8-.3c2.2 0 4.4 .1 6.7 .1c2.2 0 5.7-.3 6.8-.4"/><path class="T w13" d="M415.4 498.3c1.1-.2 4.4-1.1 6.5-1.2c2.1-.1 4.2 .3 6.4 .7c2.2 .4 4.3 .8 6.5 1.6c2.2 .8 5.4 2.8 6.5 3.4"/><path class="PG w14 d" d="M282 536.5c1.1-.1 4.3-.3 6.5-.4c2.2-.1 4.3-.3 6.5-.4c2.2-.1 4.3 0 6.5-.1c2.2-.1 4.3-.3 6.5-.6c2.2-.3 5.4-.9 6.5-1.1"/><path class="O w12 d" d="M350.6 524.7c1.3-.3 5.1-1.4 7.7-1.8c2.6-.5 5.1-.6 7.7-.9c2.6-.3 5.1-.8 7.7-.9c2.6-.1 5.1 .1 7.6 .2c2.6 0 6.4 .1 7.7 .1"/><path class="T w12" d="M305.2 532.9c1.1-.5 4.3-2.5 6.5-3.1c2.2-.6 4.4-.4 6.6-.4c2.2 0 5.4 .4 6.5 .5"/><path class="R w14 d" d="M396 507.6c1.2-.4 4.7-1.8 7.1-2.4c2.4-.6 4.8-1.1 7.1-1c2.3 .1 4.6 .8 7 1.3c2.4 .5 4.7 .9 7.1 1.8c2.4 .9 5.9 3.2 7.1 3.9"/><path class="S w14 d" d="M304 543.4c1.1 0 4.4 .1 6.5 .2c2.1 .1 4.2 .4 6.4 .4c2.1 0 4.3-.2 6.5-.2c2.2 0 4.3 .4 6.5 .2c2.2-.2 5.4-1 6.5-1.2"/><path class="GO w13" d="M383.6 528.6c1.2 .3 4.8 1.6 7.2 1.8c2.4 .2 4.8-.1 7.2-.5c2.4-.4 5.9-1.4 7.1-1.7"/><path class="G w14 d" d="M380.7 505.3c.9 .2 3.7 1 5.5 1.2c1.8 .2 3.6 .4 5.4 .1c1.8-.3 4.6-1.6 5.5-1.9"/><path class="PG w12" d="M369.6 516.6c1.1-.3 4.2-1.4 6.4-2c2.1-.6 4.4-1.4 6.5-1.6c2.1-.2 4.2 0 6.4 .2c2.1 .2 4.3 .7 6.5 1.2c2.2 .5 5.4 1.5 6.5 1.8"/><path class="T w14 d" d="M322.8 522.4c1.1 .1 4.2 .5 6.3 .6c2.1 .1 4.3 .2 6.4-.1c2.1-.3 5.3-1.4 6.4-1.7"/><path class="GO w15 d" d="M317.7 539.9c1.2 .1 4.8 .3 7.2 .3c2.4 0 4.7-.3 7.1-.4c2.4-.1 4.8-.1 7.2-.5c2.4-.4 4.8-1.1 7.2-1.6c2.4-.5 4.8-1 7.2-1.6c2.4-.6 6-1.7 7.2-2"/><path class="G w12 d" d="M314.8 527.3c1.2 0 4.7 .1 7.1 0c2.4-.1 4.7-.5 7.1-.9c2.4-.4 4.7-.9 7.1-1.5c2.4-.6 4.7-1.5 7.1-2.1c2.4-.6 5.9-1.3 7.1-1.6"/><path class="T w12 d" d="M366.4 513.7c1.3 .6 5.3 3.1 7.9 3.7c2.6 .6 5.2 .4 7.8-.2c2.6-.6 6.6-2.8 7.9-3.4"/><path class="O w12 d" d="M294.9 537.8c1.2-.6 5-2.7 7.5-3.6c2.5-.9 5.1-1.2 7.6-1.7c2.5-.5 5-.9 7.5-1.3c2.5-.4 5.1-1 7.6-.9c2.5 0 6.3 1 7.6 1.2"/><path class="R w14 d" d="M387.9 531.3c1.2-.2 4.7-.7 7-1c2.3-.3 4.6-.6 6.9-.7c2.3-.1 4.7-.2 7-.1c2.3 .1 4.6 .6 6.9 .9c2.3 .3 4.7 .4 7 .8c2.3 .5 5.8 1.6 6.9 1.9"/><path class="G w14 d" d="M294.5 533.8c.9 .2 3.5 1.3 5.3 1.5c1.8 .2 3.5-.1 5.3-.3c1.8-.2 4.5-.8 5.4-1"/><path class="S w13 d" d="M363.6 516.8c1.2-.3 4.7-1.2 7-1.7c2.3-.5 4.7-1.1 7-1.2c2.3-.1 4.7 .4 7 .8c2.3 .4 5.8 1.3 6.9 1.6"/><path class="GO w13" d="M422.4 514.8c1.1-.4 4.2-2 6.3-2.2c2.1-.2 4.2 .3 6.3 1c2.1 .7 5.2 2.8 6.3 3.3"/><path class="LG w12 d" d="M348.1 527c1.1-.3 4.6-1.6 6.9-1.9c2.3-.3 4.6 0 6.9-.1c2.3-.1 4.7-.5 7-.3c2.3 .2 5.8 1.2 6.9 1.4"/><path class="R w14 d" d="M348.3 512.2c1.2-.3 4.7-1.7 7.1-2c2.4-.3 4.7-.3 7.1 .1c2.4 .4 5.9 1.7 7.1 2.1"/><path class="G w14 d" d="M407.4 490.3c1.1 .3 4.4 1.4 6.6 1.9c2.2 .5 4.4 .8 6.6 1.1c2.2 .3 4.4 .6 6.6 .7c2.2 .1 5.5 0 6.6 0"/><path class="G w10 d" d="M346.7 492.9l7.3 .6"/><path class="S w10 d" d="M318.2 506.1c1.5-.1 5.9-.7 8.8-.7c2.9 0 5.9 .4 8.8 .7c2.9 .3 5.7 .7 8.7 1.1c3 .4 7.9 .9 9.5 1.1"/><path class="T w10 d" d="M306.1 508.9c1.6 .3 6.4 1.2 9.9 1.6c3.5 .4 7.4 .7 11 1.1c3.6 .4 7.6 .8 10.9 1.1c3.3 .3 6.1 .4 8.8 .6c2.7 .2 6.1 .4 7.3 .5"/><path class="GO w10 d" d="M346.7 502.8l7.3-.5"/><path class="S w10 d" d="M325.9 520.3c1.6 .2 6.8 .7 9.9 1.1c3.1 .4 5.7 .9 8.7 1.1c3 .2 7.9 0 9.5 0"/><path class="R w11 d" d="M286.3 515.9c.1 .7 .3 3 .6 4.4c.2 1.4-.6 3.1 .9 4c1.6 .9 5.5 1.1 8.4 1.5c2.9 .4 5.9 .7 8.8 1.1c2.9 .4 7.3 .9 8.8 1.1"/><path class="T w10 d" d="M286.3 543.4c1.6 .2 6.4 .7 9.9 1.1c3.5 .4 7.3 .7 11 1.1c3.7 .4 9.2 .9 11 1.1"/><path class="LG w10 d" d="M294 546.7c2.2 .2 8.8 .8 13.2 1.1c4.4 .3 8.8 .6 13.2 .7c4.4 .1 11 0 13.2 0"/><path class="G w10 d" d="M327 533.1c1.8-.1 7.2-.5 10.9-.7c3.6-.2 8.3-.4 11-.6c2.7-.2 4.2-.4 5.1-.5"/><path class="LG w10 d" d="M294 531.3c1.8 .2 7.3 .8 11 1.1c3.7 .3 9.2 .6 11 .7"/><path class="T w10 d" d="M337.9 539c1.5 .1 6.1 .5 8.8 .7c2.7 .2 6.1 .3 7.3 .4"/><path class="GO w10 d" d="M333.6 544.5c1.8 .1 7.5 .3 10.9 .5c3.4 .2 7.9 .5 9.5 .6"/><path class="T w12" d="M337.5 452.6c.6-.6 2.3-2.7 3.7-3.7c1.4-1 2.9-1.9 4.4-2.2c1.5-.3 3 .1 4.4 .6c1.4 .5 3.3 1.8 4 2.2"/><path class="S w9" d="M341.2 469.8c.9-.4 3.4-1.4 5.5-2.2c2.1-.8 6.1-2.3 7.3-2.7"/><path class="O w16" d="M297.3 529.6c1.3 .1 4.9 .4 7.7 .6c2.8 .2 5.9 .6 8.8 .7c2.9 0 5.9-.1 8.8-.4c2.9-.3 7.3-1.2 8.8-1.4"/><path class="T w11" d="M316 526.9c1.5 .2 5.9 .8 8.8 1.1c2.9 .3 5.9 .7 8.8 .7c2.9 0 5.3-.4 8.7-.7c3.4-.3 9.8-.9 11.7-1.1"/><path class="GO w14" d="M296.2 534.6c1.8 .1 7.3 .4 11 .7c3.7 .3 7.3 .7 11 .9c3.7 .2 7.3 .5 11 .6c3.7 .1 6.8 .1 10.9 0c4.1-.1 11.6-.5 13.9-.6"/><path class="G w14" d="M287.4 537.9c1.5 .2 5.9 .7 8.8 1.1c2.9 .4 5.5 .7 8.8 1.1c3.3 .4 7.3 .8 11 1.1c3.7 .3 7.4 .6 11 .7c3.6 .1 9.1 0 10.9 0"/><path class="O w16" d="M305 541.9c1.5 .1 5.9 .2 8.8 .4c2.9 .1 6.2 .5 8.8 .5c2.6 0 5.5-.4 6.6-.5"/><path class="S w10" d="M266.5 539c.9 .2 3.5 .7 5.5 1.1c2 .4 5.5 .9 6.6 1.1"/><path class="LG w10" d="M333.6 524.7c1.4 .1 5.3 .3 8.7 .5c3.4 .2 9.8 .5 11.7 .6"/><path class="LG w12" d="M363.9 436.8c1.3-.4 5.3-2.1 7.7-2.6c2.4-.6 4.8-1.1 6.6-.7c1.8 .4 2.9 2 4.4 3.3c1.5 1.3 2.4 3.1 4.4 4.4c2 1.3 6.4 2.8 7.7 3.3"/><path class="T w11" d="M354 448.9c.7 .4 2.9 2.2 4.4 2.2c1.5 0 3.7-1.8 4.4-2.2"/><path class="S w10 d" d="M354 462.1c1.1-.4 4.4-1.5 6.6-2.2c2.2-.7 4.4-1.4 6.6-2.2c2.2-.8 5.5-2.4 6.6-2.9"/><path class="LG w12" d="M354 466.5c1.1-.3 4.4-1.1 6.6-1.6c2.2-.5 4-.8 6.6-1.3c2.6-.5 7.3-1.2 8.8-1.5"/><path class="PG w10 d" d="M371.6 469.8c1.5-.2 5.9-1.1 8.8-1.1c2.9 0 5.9 .7 8.8 1.1c2.9 .4 7.3 .9 8.8 1.1"/><path class="S w10 d" d="M367.2 485.2c1.5-.7 5.9-2.8 8.8-4.4c2.9-1.6 5.9-4.5 8.8-5.5c2.9-1 5.9-.7 8.8-.7c2.9 0 6.6 .8 8.8 .7c2.2-.1 3.7-.9 4.4-1.1"/><path class="S w10 d" d="M409 465.4c.2 .7 .7 2.9 1.1 4.4c.4 1.5 1.1 2.8 1.1 4.4c0 1.6-.9 4.6-1.1 5.5"/><path class="G w11" d="M406.8 476.4c1.1 .2 4.4 .7 6.6 1.1c2.2 .4 5.1 1.1 6.6 1.5c1.5 .4 1.8 .6 2.2 .7"/><path class="R w14" d="M381.5 490.7c.9-.7 3.5-3.2 5.5-4.4c2-1.2 4.4-2.3 6.6-2.9c2.2-.6 4.6-.8 6.6-.9c2-.1 4.6 0 5.5 0"/><path class="G w10 d" d="M384.8 490c1.5-.1 5.9-.2 8.8-.4c2.9-.1 5.9-.3 8.8-.5c2.9-.2 5.9-.4 8.8-.6c2.9-.2 5.5-.5 8.8-.7c3.3-.2 9.2-.3 11-.4"/><path class="G w11" d="M393.6 494c1.5-.2 5.9-.4 8.8-1.1c2.9-.7 5.9-2.7 8.8-3.3c2.9-.6 5.9-.3 8.8-.5c2.9-.2 6.8-.4 8.8-.6c2-.2 2.8-.6 3.3-.7"/><path class="T w11" d="M354 493.5c1.5 .1 5.9 .4 8.8 .5c2.9 .1 5.9 .2 8.8 .4c2.9 .2 5.9 .5 8.8 .7c2.9 .2 7.3 .5 8.8 .6"/><path class="R w14" d="M374.9 491.8c.6 .4 2 1.5 3.3 2.2c1.3 .7 2.9 1.1 4.4 2.2c1.5 1.1 2.9 2.9 4.4 4.4c1.5 1.5 2.9 3.3 4.4 4.4c1.5 1.1 2.2 1.6 4.4 2.2c2.2 .6 7.3 .9 8.8 1.1"/><path class="GO w11" d="M354 501.7c1.5-.2 5.9-.7 8.8-1.1c2.9-.4 7.3-.9 8.8-1.1"/><path class="S w11" d="M356.2 499.5c.7-.2 2.9-1.2 4.4-1.1c1.5 .1 2.6 1 4.4 1.7c1.8 .7 5.5 2.2 6.6 2.7"/><path class="O w13" d="M382.6 500.6c1.5 .2 5.9 .7 8.8 1.1c2.9 .4 6.4 .7 8.8 1.1c2.4 .4 4.6 .9 5.5 1.1"/><path class="T w12" d="M415.6 500.6c1.1 .6 4.8 2.4 6.6 3.3c1.8 .9 2.9 2.8 4.4 2.2c1.5-.6 2.8-3.5 4.4-5.5c1.6-2 4.6-5.5 5.5-6.6"/><path class="G w10 d" d="M406.8 498.4c1.5 .7 5.9 2.9 8.8 4.4c2.9 1.5 6.2 2.7 8.8 4.4c2.6 1.7 5.5 4.6 6.6 5.5"/><path class="S w10" d="M354 510.5c1.5-.4 5.9-1.5 8.8-2.2c2.9-.7 5.9-1.5 8.8-2.2c2.9-.7 5.9-1.5 8.8-2.2c2.9-.7 7.3-1.8 8.8-2.2"/><path class="O w17" d="M367.2 518.1c1.5-.4 5.9-1.8 8.8-2.2c2.9-.4 5.9-.4 8.8-.4c2.9 0 5.9 .1 8.8 .4c2.9 .2 5.9 .7 8.8 1.1c2.9 .4 5.9 1.1 8.8 1.1c2.9 0 5.9-.7 8.8-1.1c2.9-.4 7.3-.9 8.8-1.1"/><path class="R w13" d="M367.2 520.3c1.5-.1 5.9-.1 8.8-.4c2.9-.3 5.9-1.2 8.8-1.3c2.9-.1 7.3 .5 8.8 .6"/><path class="O w14" d="M373.8 522.5c1.1 .4 4.4 1.7 6.6 2.2c2.2 .5 5.5 .9 6.6 1.1"/><path class="G w13" d="M354 524.7c1.8 .2 7.3 .8 11 1.1c3.7 .3 7.3 .4 11 .7c3.7 .3 7.3 .6 11 .9c3.7 .2 7.3 .6 11 .6c3.7 0 7.3-.2 11-.6c3.7-.4 7.3-1.1 11-1.6c3.7-.5 9.2-.9 11-1.1"/><path class="T w13" d="M354 528c1.8 .1 7.3 .5 11 .7c3.7 .2 7.3 .1 11 .4c3.7 .2 7.3 .8 11 1.1c3.7 .3 7.3 .3 11 .7c3.7 .4 7.3 1.1 11 1.5c3.7 .4 7.3 .7 11 1.1c3.7 .4 7.7 .7 11 1.1c3.3 .4 7.3 .9 8.8 1.1"/><path class="O w14" d="M398 524.7c1.5 .2 5.9 .7 8.8 1.1c2.9 .4 5.9 .7 8.8 1.1c2.9 .4 6.2 .7 8.8 1.1c2.6 .4 5.5 .9 6.6 1.1"/><path class="GO w13" d="M354 532.4c1.8 .1 7.3 .5 11 .7c3.7 .2 7 .2 11 .4c4 .1 11 .4 13.2 .5"/><path class="T w12" d="M400.2 533.5c1.5 .2 5.9 .8 8.8 1.1c2.9 .3 5.9 .6 8.8 .7c2.9 .1 7.3 0 8.8 0"/><path class="O w13" d="M409 529.1c1.5 .2 5.9 .7 8.8 1.1c2.9 .4 6.2 .6 8.8 1.1c2.6 .5 5.5 1.5 6.6 1.8"/><path class="T w10 d" d="M354 535.7c1.1 .1 4.4 .3 6.6 .5c2.2 .2 5.5 .5 6.6 .6"/><path class="GO w16" d="M354 544.5c1.5 0 5.9 .1 8.8 0c2.9-.1 5.9-.2 8.8-.4c2.9-.2 6-.5 8.8-.7c2.8-.2 6.4-.5 7.7-.6"/><path class="GO w11 d" d="M354 547.8c1.8 0 7.3 0 11 0c3.7 0 7 0 11 0c4 0 11 0 13.2 0"/><path class="T w10 d" d="M354 541.2l4.4 1.1"/><path class="G w11" d="M411.2 507.2c1.5 .7 6.2 3 8.8 4.4c2.6 1.5 4.8 3.2 6.6 4.3c1.8 1.1 3.7 1.8 4.4 2.2"/><path class="LG w10 d" d="M409 498.4c1.5 .2 5.9 .7 8.8 1.1c2.9 .4 7.3 .9 8.8 1.1"/><path class="S w11 d" d="M341.8 469.3c1.1-.5 4.3-1.7 6.6-3c2.3-1.3 4.7-3.2 7.1-4.6c2.4-1.4 5-2.7 7.2-3.6c2.2-.9 4.3-1.4 6.1-2c1.8-.6 3.8-1.3 4.6-1.6"/></g></g><path d="M260.6 536.2c2.3 .4 8.9 2 13.7 2.5c4.8 .5 10.1 .9 15.2 .8c5.1-.1 10.1-.7 15.2-1.7c5.1-1 10.1-2.6 15.1-4.5c5.1-1.9 10.1-4.4 15.2-6.7c5.1-2.3 10.6-5.1 15.2-7c4.6-1.9 8.1-3.3 12.2-4.5c4.1-1.2 8.1-1.9 12.1-2.5c4-.6 8.1-1 12.1-1.2c4.1-.2 8.1-.4 12.2-.3c4.1 .1 8 .2 12.1 .8c4.1 .6 8.2 1.4 12.2 2.6c4.1 1.2 8.6 3 12.1 4.6c3.5 1.6 6.7 3.5 9.1 5c2.4 1.5 4.6 3.2 5.5 3.9L449.8 537.6c-.9-1.1-3.1-4.2-5.5-6.5c-2.4-2.3-5.6-5-9.1-7.2c-3.5-2.2-8-4.7-12.1-6.3c-4.1-1.6-8.2-2.8-12.2-3.5c-4.1-.8-8-.9-12.1-1c-4.1-.1-8.1 0-12.2 .3c-4.1 .2-8.1 .6-12.1 1.2c-4 .6-8.1 1.3-12.1 2.5c-4.1 1.2-7.6 2.6-12.2 4.5c-4.6 1.9-10.1 4.7-15.2 7c-5.1 2.3-10.1 4.8-15.2 6.7c-5.1 1.9-10.1 3.3-15.1 4.5c-5.1 1.2-10.1 1.9-15.2 2.6c-5.1 .7-10.4 1.1-15.2 1.5c-4.8 .4-11.4 .6-13.7 .7Z" fill="#9a9a9a" fill-opacity="0.45"/><path d="M260.6 540.4c2.3 .1 8.9 .8 13.7 .9c4.8 .1 10.1 .1 15.2-.3c5.1-.4 10.1-1.1 15.2-2.2c5.1-1.1 10.1-2.6 15.1-4.5c5.1-1.9 10.1-4.4 15.2-6.7c5.1-2.3 10.6-5.1 15.2-7c4.6-1.9 8.1-3.3 12.2-4.5c4.1-1.2 8.1-1.9 12.1-2.5c4-.6 8.1-1 12.1-1.2c4.1-.2 8.1-.4 12.2-.3c4.1 .1 8 .2 12.1 .9c4.1 .7 8.2 1.7 12.2 3.1c4.1 1.4 8.6 3.5 12.1 5.4c3.5 1.9 6.7 4.2 9.1 6.1c2.4 1.9 4.6 4.3 5.5 5.2" fill="none" stroke="#111" stroke-width="1.35"/></g>
<clipPath id="cD2"><rect x="250.5" y="428.3" width="208.9" height="125"/></clipPath>
<rect x="250.5" y="428.3" width="208.9" height="125" fill="none" stroke="#bfbfbf" stroke-width="1"/>
<g font-family="Liberation Sans, sans-serif" font-size="3.6" fill="#3a3a3a"><line x1="249.3" y1="455.1" x2="250.5" y2="455.1" stroke="#444" stroke-width="0.7"/><text x="248.9" y="456.3" text-anchor="end">30</text><line x1="249.3" y1="491.6" x2="250.5" y2="491.6" stroke="#444" stroke-width="0.7"/><text x="248.9" y="492.8" text-anchor="end">20</text><line x1="249.3" y1="528.1" x2="250.5" y2="528.1" stroke="#444" stroke-width="0.7"/><text x="248.9" y="529.3" text-anchor="end">10</text><line x1="303.6" y1="553.3" x2="303.6" y2="554.5" stroke="#444" stroke-width="0.7"/><text x="303.6" y="557.9" text-anchor="middle">0.25</text><line x1="357.1" y1="553.3" x2="357.1" y2="554.5" stroke="#444" stroke-width="0.7"/><text x="357.1" y="557.9" text-anchor="middle">0.50</text><line x1="410.6" y1="553.3" x2="410.6" y2="554.5" stroke="#444" stroke-width="0.7"/><text x="410.6" y="557.9" text-anchor="middle">0.75</text></g>
<g><line x1="477" y1="445.5" x2="684.5" y2="445.5" stroke="#f3f3f3" stroke-width="0.6"/><line x1="477" y1="487.7" x2="684.5" y2="487.7" stroke="#f3f3f3" stroke-width="0.6"/><line x1="477" y1="529.8" x2="684.5" y2="529.8" stroke="#f3f3f3" stroke-width="0.6"/><line x1="503.2" y1="428.3" x2="503.2" y2="553.3" stroke="#f3f3f3" stroke-width="0.6"/><line x1="556.3" y1="428.3" x2="556.3" y2="553.3" stroke="#f3f3f3" stroke-width="0.6"/><line x1="609.5" y1="428.3" x2="609.5" y2="553.3" stroke="#f3f3f3" stroke-width="0.6"/><line x1="662.6" y1="428.3" x2="662.6" y2="553.3" stroke="#f3f3f3" stroke-width="0.6"/><line x1="477" y1="466.6" x2="684.5" y2="466.6" stroke="#ebebeb" stroke-width="0.8"/><line x1="477" y1="508.3" x2="684.5" y2="508.3" stroke="#ebebeb" stroke-width="0.8"/><line x1="477" y1="550.9" x2="684.5" y2="550.9" stroke="#ebebeb" stroke-width="0.8"/><line x1="529.7" y1="428.3" x2="529.7" y2="553.3" stroke="#ebebeb" stroke-width="0.8"/><line x1="582.9" y1="428.3" x2="582.9" y2="553.3" stroke="#ebebeb" stroke-width="0.8"/><line x1="636" y1="428.3" x2="636" y2="553.3" stroke="#ebebeb" stroke-width="0.8"/></g>
<g clip-path="url(#cD3)"><g filter="url(#bl)"><g fill="none" stroke-linecap="round" stroke-linejoin="round"><path class="LG w10 d" d="M562.7 495.6c1.2 0 4.7-.2 7-.2c2.3 0 4.6-.1 6.9 0c2.3 .1 4.7 .6 7 .9c2.3 .3 4.6 .6 6.9 1.1c2.3 .5 4.7 1.3 7 2c2.3 .7 4.7 1.2 7 2c2.3 .8 5.8 2.3 6.9 2.7"/><path class="T w11 d" d="M642.8 507.3c.9 .7 3.7 3.5 5.5 4.4c1.8 .9 3.6 1.1 5.4 .8c1.8-.3 4.6-2.1 5.5-2.5"/><path class="PT w11 d" d="M561 500.9c1.3 .4 5.3 1.7 7.9 2.2c2.6 .6 5.3 1 7.9 1.1c2.6 .1 6.5-.2 7.8-.3"/><path class="S w10 d" d="M543.5 507.7c1.2-.2 4.7-1 7-1.3c2.3-.3 4.7-.7 7-.6c2.3 .1 4.6 .6 6.9 1c2.3 .4 4.7 .9 7 1.4c2.3 .5 4.7 1 7 1.8c2.3 .8 5.8 2.5 7 3"/><path class="PT w10 d" d="M596.2 499c1.1 .3 4.6 1.6 6.9 2c2.3 .4 4.6 .3 6.9 .7c2.3 .4 4.6 1.1 6.9 1.5c2.3 .4 4.6 .8 6.9 1.1c2.3 .3 4.6 .4 6.9 .7c2.3 .3 4.6 .9 6.9 1.3c2.3 .4 5.8 .7 7 .8"/><path class="T w10 d" d="M590.1 493.6c1.2-.1 4.7-.6 7-.7c2.3-.1 4.7-.2 7 .1c2.3 .3 4.7 1.2 7 1.7c2.3 .5 4.6 .8 7 1.3c2.4 .6 5.9 1.7 7.1 2"/><path class="PG w11 d" d="M587.5 496.8c1.2 0 4.7-.1 7-.1c2.3 0 4.6-.3 6.9 0c2.3 .3 4.7 1 7 1.6c2.3 .6 5.8 1.6 7 1.9"/><path class="G w11 d" d="M621.7 504.6c1.2 .6 5 2.6 7.5 3.6c2.5 1 5 1.8 7.5 2.5c2.5 .7 5 1.7 7.5 1.9c2.5 .2 5-.2 7.5-.5c2.5-.2 6.2-.8 7.5-1"/><path class="T w12 d" d="M608.1 499.3c1.2 .5 4.7 2.5 7 3.2c2.3 .7 4.7 .9 7 1.2c2.3 .3 4.7 .6 7 .5c2.3-.1 5.8-1.1 7-1.3"/><path class="G w10 d" d="M576.4 501.8c1.1 .2 4.5 .7 6.8 1.1c2.3 .4 4.6 .8 6.9 1.2c2.3 .4 4.5 .9 6.8 1.1c2.3 .2 4.6 .1 6.9 .2c2.3 .1 4.5 .1 6.8 .1c2.3 .1 5.7 .2 6.8 .2"/><path class="T w11 d" d="M640.6 508.4c1 .6 4.1 3.2 6.2 3.9c2.1 .7 4.1 .7 6.2 .4c2.1-.3 5.2-1.8 6.2-2.1"/><path class="T w11 d" d="M550.3 503c1.3 .4 5.1 1.8 7.7 2.5c2.6 .7 5.1 1.3 7.7 1.8c2.6 .5 5.1 1.1 7.7 1.4c2.6 .3 5.2 .6 7.8 .7c2.6 .1 5.1 .2 7.7 .1c2.6-.1 6.4-.5 7.7-.6"/><path class="T w12 d" d="M579.5 508.4c1.2 .6 4.7 2.7 7 3.6c2.3 .9 4.7 1.1 7 1.6c2.3 .5 4.7 1.4 7 1.7c2.3 .3 4.7 0 7 0c2.3 0 4.7 .4 7 .3c2.3-.1 5.8-.8 6.9-1"/><path class="T w11 d" d="M622.5 494.9c1.2 .1 4.9 .6 7.4 .8c2.5 .2 4.9 .1 7.3 .3c2.4 .2 4.8 .4 7.3 .7c2.5 .3 4.9 .7 7.4 1.1c2.5 .4 6.1 .9 7.3 1.1"/><path class="PT w11 d" d="M630.4 509.1c1.2-.1 4.8-.5 7.2-.6c2.4-.1 4.8-.4 7.2-.1c2.4 .3 4.8 .8 7.2 1.7c2.4 .9 6 2.9 7.2 3.5"/><path class="O w13 d" d="M533.8 541.5c1.3 0 5.3 0 7.9 0c2.6 0 5.3 0 8-.1c2.7-.1 5.4-.4 8-.6c2.6-.2 5.2-.2 7.9-.5c2.6-.3 6.7-1 8-1.2"/><path class="S w12" d="M608.5 532c1.3 .2 5.3 .9 7.9 1.1c2.6 .2 5.2 .1 7.8 .1c2.6 0 5.2-.2 7.8-.3c2.6-.1 5.3 0 7.9-.1c2.6-.1 6.5-.7 7.8-.8"/><path class="PT w14 d" d="M539.6 545.6c1.2-.5 4.8-2.7 7.2-3.2c2.4-.5 4.7-.5 7.1 0c2.4 .5 6 2.7 7.2 3.2"/><path class="PT w14 d" d="M580.9 538.2c1.2 .4 4.8 1.6 7.2 2.3c2.4 .6 4.8 1.2 7.2 1.6c2.4 .4 4.8 .7 7.2 .8c2.4 .1 4.8-.2 7.2-.4c2.4-.2 4.8-.2 7.2-.7c2.4-.5 6-2.2 7.2-2.6"/><path class="G w14 d" d="M525.3 540.5c1.2-.2 4.8-.8 7.1-1.1c2.4-.3 4.7-.3 7-.6c2.3-.3 4.7-.6 7-1c2.3-.4 4.7-1.1 7-1.4c2.3-.2 4.7 0 7-.1c2.3-.1 5.8-.6 7-.7"/><path class="PG w15 d" d="M571.8 541.2c1.1 .3 4.3 1.6 6.5 2c2.2 .4 4.3 .5 6.5 .4c2.2-.1 4.3-.3 6.5-.7c2.2-.4 5.4-1.4 6.5-1.7"/><path class="G w12 d" d="M535.1 531.8c1.1 .5 4.4 2.4 6.7 3c2.2 .6 4.6 .8 6.8 .7c2.2-.1 4.4-.6 6.7-1.3c2.2-.7 5.7-2.6 6.8-3.1"/><path class="GO w13 d" d="M591.9 521.8c1.2 .4 5 1.7 7.5 2.3c2.5 .6 5 1 7.5 1.1c2.5 .1 5-.1 7.5-.3c2.5-.2 5-.5 7.5-1c2.5-.5 6.2-1.7 7.5-2"/><path class="T w14 d" d="M645.6 525c1.2 .4 5 2.1 7.5 2.6c2.5 .5 5.1 .6 7.6 .2c2.5-.4 6.3-2 7.6-2.4"/><path class="G w11" d="M605.7 527.4c1.3-.1 5.1-.6 7.7-.8c2.6-.2 5.1-.3 7.7-.3c2.6 0 5.1 .1 7.7 .4c2.6 .4 6.4 1.4 7.7 1.7"/><path class="G w13 d" d="M591.8 534.7c1.1 .3 4.5 1.3 6.8 1.8c2.3 .5 4.5 1 6.8 1.3c2.3 .3 4.6 .3 6.9 .3c2.3 0 4.5 0 6.8-.1c2.3-.1 4.5-.4 6.8-.8c2.3-.4 5.7-1.2 6.8-1.4"/><path class="R w14 d" d="M590.9 515.5c1.2 0 4.9-.1 7.4-.1c2.5 0 4.9-.2 7.4-.1c2.5 .1 4.9 .5 7.4 .5c2.5 0 4.9-.3 7.4-.3c2.5 0 4.9 .1 7.4 .1c2.5 0 6.2 .1 7.5 .1"/><path class="T w13" d="M631.6 527.1c1.2 .4 4.9 1.6 7.3 2.3c2.4 .7 4.9 1.1 7.4 1.7c2.5 .6 4.9 1.1 7.3 1.6c2.5 .5 4.9 .9 7.4 1.3c2.5 .4 6.1 .8 7.3 .9"/><path class="PG w15 d" d="M569.1 533.7c1.2 .3 5 1.4 7.5 1.9c2.5 .5 4.9 1 7.4 1c2.5 0 5-.4 7.5-.8c2.5-.4 6.2-1.5 7.5-1.8"/><path class="T w15 d" d="M540.3 535.8c1.1-.3 4.5-1.3 6.8-1.8c2.3-.5 4.5-.9 6.8-1.1c2.3-.2 4.6-.2 6.8-.4c2.2-.2 4.4-.6 6.7-.6c2.2 0 5.7 .3 6.8 .3"/><path class="GO w13 d" d="M642.3 522.8c1 .5 3.8 2.2 5.7 2.7c1.9 .5 3.8 .6 5.7 .3c1.9-.3 4.8-1.7 5.7-2"/><path class="G w14 d" d="M580.3 533.1c1.1-.4 4.4-1.9 6.6-2.3c2.2-.5 4.4-.5 6.6-.4c2.2 .1 4.5 .4 6.7 .9c2.2 .5 5.5 1.9 6.6 2.3"/><path class="O w15 d" d="M539.1 541.2c1-.7 3.9-3.4 5.9-4.2c2-.8 3.8-1.1 5.8-.8c2 .3 4.9 2 5.9 2.4"/><path class="G w14 d" d="M579.2 537.7c1.1-.3 4.2-1.4 6.4-1.7c2.1-.3 4.4-.1 6.5-.1c2.1 0 4.2 0 6.4 .1c2.1 .1 4.4 .4 6.5 .7c2.1 .3 5.3 1.1 6.4 1.3"/><path class="O w12" d="M629.7 515.5c1.2 .6 4.8 2.6 7.2 3.4c2.4 .8 4.9 1.1 7.3 1.5c2.4 .4 4.9 .8 7.3 .8c2.4 0 6.1-.8 7.3-.9"/><path class="S w12" d="M590.4 523.7c1.1 0 4.4-.2 6.5-.2c2.1 0 4.3 .4 6.4 .5c2.1 .1 4.3 .1 6.4 .2c2.1 .1 4.4 0 6.5 .2c2.1 .2 5.3 .9 6.4 1.1"/><path class="G w13" d="M595.8 532.8c1-.4 4-2 5.9-2.4c2-.4 3.8-.2 5.8 .2c2 .4 4.9 1.9 5.9 2.3"/><path class="T w14 d" d="M638.5 532.2c1 .1 4 .1 6 .4c2 .2 4 .6 6 1.1c2 .5 4 .9 6 1.6c2 .6 5 1.9 6 2.3"/><path class="R w11" d="M555.3 533c1.3 .5 5.2 2.6 7.8 3c2.6 .4 5.3 0 7.9-.5c2.6-.5 6.5-2.2 7.8-2.6"/><path class="PT w14 d" d="M641.5 534.4c1.1-.2 4.5-1.2 6.7-1.4c2.2-.2 4.5 .1 6.7 .3c2.2 .2 4.5 .4 6.7 .8c2.2 .5 5.6 1.6 6.7 1.9"/><path class="O w14 d" d="M543.9 534.5c1-.5 3.9-2.5 5.8-3.1c1.9-.6 3.8-.9 5.7-.5c1.9 .4 4.8 2.4 5.7 2.9"/><path class="O w14 d" d="M567.5 533.9c1.1-.3 4.5-1.5 6.7-2c2.2-.5 4.4-.9 6.7-1c2.2-.1 4.6 .1 6.8 .2c2.2 .1 4.5 0 6.7 .3c2.2 .3 5.6 1.2 6.7 1.4"/><path class="G w14 d" d="M545.1 532.5c1.3-.5 5.2-2.4 7.9-3.2c2.6-.9 5.4-1.6 8-1.9c2.6-.3 5.3-.4 7.9 0c2.6 .4 6.6 1.8 7.9 2.2"/><path class="S w12" d="M607.4 527.2c1 .4 4.1 2 6.1 2.3c2 .3 4-.1 6-.4c2-.3 5-1 6-1.2"/><path class="T w12 d" d="M629.9 535.2c1.3-.2 5.1-.9 7.6-1.2c2.5-.3 5.1-.8 7.7-.8c2.6 0 5.1 .4 7.7 .7c2.6 .3 5.1 .5 7.7 .9c2.6 .4 6.4 1.3 7.7 1.6"/><path class="T w13 d" d="M553.1 535.7c1.2-.6 4.6-2.8 7-3.5c2.4-.7 4.8-.9 7.1-.9c2.4 0 4.6 .2 7 .8c2.4 .6 5.9 2.3 7.1 2.8"/><path class="GO w11" d="M539.6 533.9c1.2 .2 5 1.1 7.5 1.4c2.5 .3 4.9 .5 7.4 .2c2.5-.3 6.2-1.8 7.5-2.2"/><path class="G w13 d" d="M580.4 539.1c1.1-.5 4.6-2.4 6.8-2.9c2.2-.5 4.4-.7 6.7-.1c2.2 .6 5.7 2.9 6.8 3.5"/><path class="O w14 d" d="M543.8 540.8c1.2-.1 4.7-.5 7-.7c2.3-.2 4.6-.4 6.9-.7c2.3-.3 4.7-.5 7-.9c2.3-.4 4.7-.9 7-1.2c2.3-.3 4.6-.5 6.9-.8c2.3-.3 5.8-.7 7-.8"/><path class="T w13 d" d="M547.3 528.9c1.1 .3 4.6 1.4 6.9 2c2.3 .6 4.5 1.4 6.8 1.5c2.3 .1 4.6-.5 6.9-.8c2.3-.3 4.5-.4 6.8-1c2.3-.6 5.8-2.2 6.9-2.7"/><path class="G w12" d="M630.3 518.4c1.1 .3 4.6 1.6 6.9 2c2.3 .4 4.5 .2 6.8 .1c2.3-.1 5.8-.5 6.9-.6"/><path class="PG w12" d="M632.7 520.5c1.2-.4 4.7-1.7 7.1-2.2c2.4-.5 4.8-.7 7.2-.7c2.4 0 4.7 .2 7.1 .5c2.4 .2 4.7 .5 7.1 1c2.4 .5 5.9 1.8 7.1 2.1"/><path class="LG w12 d" d="M636.9 522.9c1 .4 3.9 1.8 5.9 2.4c2 .6 3.9 1.1 5.9 1.1c2 0 4.9-.8 5.9-1"/><path class="T w14 d" d="M529.6 538.1c1.3 .2 5.2 1.2 7.8 1.4c2.6 .2 5.2 .2 7.8 0c2.6-.2 5.2-.7 7.8-1.3c2.6-.6 6.5-1.8 7.8-2.2"/><path class="S w14 d" d="M645 513.8c1.3 0 5.2-.4 7.8-.3c2.6 .1 5.1 .8 7.7 1.1c2.6 .3 6.5 .6 7.8 .7"/><path class="T w13 d" d="M614.8 509.2c1.1 .4 4.5 1.9 6.7 2.5c2.2 .6 4.4 1.2 6.6 1.3c2.2 .1 4.5-.4 6.7-.5c2.2-.1 4.4 .1 6.6-.4c2.2-.5 5.6-2.1 6.7-2.5"/><path class="O w14 d" d="M560.1 525.1c1.3-.1 5.3-.1 7.9-.3c2.6-.2 5.2-.7 7.8-.8c2.6-.1 6.5 .1 7.8 .1"/><path class="GO w14 d" d="M531.8 533.2c1.2-.1 4.9-.3 7.4-.5c2.5-.2 4.9-.6 7.4-.7c2.5-.1 5 .2 7.5 .2c2.5 0 6.2-.2 7.4-.2"/><path class="G w12 d" d="M597 538.5c1.1 .5 4.4 2.5 6.6 3.1c2.2 .6 4.4 .5 6.6 .5c2.2 0 4.4-.1 6.6-.5c2.2-.4 5.5-1.8 6.6-2.1"/><path class="GO w13 d" d="M521.2 542.6c1.2 .2 4.7 1.1 7.1 1.4c2.4 .3 4.7 .6 7.1 .6c2.4 0 4.8-.4 7.1-.9c2.4-.5 5.8-1.6 7-1.9"/><path class="T w14 d" d="M510.4 538.6c1.3-.2 5.1-.7 7.7-1c2.6-.3 5.1-.6 7.7-.8c2.6-.2 6.4-.3 7.7-.4"/><path class="T w14 d" d="M628.2 530.8c1.2 .5 4.9 2.1 7.3 2.8c2.4 .7 4.9 1.4 7.3 1.6c2.4 .2 4.9-.1 7.3-.2c2.4-.1 6.1-.6 7.3-.7"/><path class="R w12 d" d="M566.4 538c1.1-.3 4.5-1.3 6.7-1.8c2.2-.5 4.5-1 6.8-1.2c2.2-.2 4.5-.3 6.7-.3c2.2 0 4.5-.1 6.8 .1c2.2 .2 4.5 .5 6.7 1c2.2 .5 5.7 1.5 6.8 1.8"/><path class="G w12" d="M650.3 518.8c1-.3 4-1.5 6-1.6c2-.1 4 0 6 .9c2 .9 5 3.6 6 4.3"/><path class="G w13 d" d="M569.2 538.8c1.2-.2 5-.9 7.4-1.1c2.4-.1 4.9 .1 7.3 .2c2.4 0 4.9 .1 7.4 .1c2.5 0 4.9-.3 7.3-.2c2.5 .1 6.2 .6 7.4 .7"/><path class="T w15 d" d="M563.5 529.5c.9 .2 3.7 1.3 5.6 1.4c1.9 .1 3.7-.6 5.6-.8c1.9-.2 4.8-.5 5.7-.6"/><path class="O w12 d" d="M649.1 530.1c1.1 0 4.3 0 6.4 .3c2.1 .3 4.3 .9 6.4 1.4c2.1 .5 5.3 1.3 6.4 1.6"/><path class="PG w11" d="M606.2 530.8c1.2-.2 4.6-.8 7-1c2.4-.2 4.7 0 7.1-.1c2.4-.1 4.7-.5 7-.5c2.3 0 4.6 0 7 .3c2.4 .2 5.9 1 7.1 1.2"/><path class="LG w14 d" d="M509.5 542.2c1.1 .2 4.5 1.3 6.8 1.4c2.3 .1 4.6-.7 6.9-1c2.3-.3 4.6-.3 6.9-1c2.3-.7 5.8-2.7 6.9-3.2"/><path class="PT w13 d" d="M602.8 531c1.3 .3 5.2 1.3 7.8 1.8c2.6 .5 5.1 .9 7.7 1c2.6 .1 5.1-.1 7.7-.4c2.6-.3 6.5-1.2 7.8-1.5"/><path class="GO w12 d" d="M560.5 536c1.3-.3 5.1-1.4 7.7-1.7c2.6-.3 5.1-.1 7.7-.1c2.6 0 6.4 .3 7.7 .4"/><path class="O w12 d" d="M611.8 530.9c1.1 0 4.6 .1 6.9 .2c2.3 .1 4.6 .2 6.9 .3c2.3 .1 4.7 0 7 .1c2.3 .1 4.6 .2 6.9 .3c2.3 .1 5.8 .2 6.9 .3"/><path class="S w15 d" d="M509.2 541.2c1.2-.3 4.6-1.3 6.9-1.7c2.3-.4 4.7-.7 7-.9c2.3-.2 4.7-.1 7-.2c2.3-.1 4.7-.4 7-.4c2.3 0 5.8 .1 7 .1"/><path class="S w12 d" d="M636.9 511.9c1.2 .6 4.9 3.1 7.4 3.6c2.5 .5 4.9 .2 7.3-.4c2.5-.6 6.2-2.6 7.4-3.1"/><path class="PT w11" d="M574.7 533.7c1.2 .1 4.9 .6 7.3 .9c2.4 .3 4.9 .6 7.3 .9c2.4 .3 4.9 .6 7.3 .7c2.4 .1 4.9 0 7.3-.1c2.4-.1 4.9-.5 7.3-.8c2.5-.3 6.2-.8 7.4-.9"/><path class="T w13 d" d="M597.7 535.1c1.1-.1 4.4-.5 6.5-.7c2.1-.2 4.2-.4 6.4-.4c2.1 0 4.3 .5 6.5 .7c2.2 .2 4.3 0 6.5 .3c2.2 .3 5.4 1.2 6.5 1.4"/><path class="O w14 d" d="M608.4 519.2c1.2 0 4.7 0 7.1 0c2.4 0 4.8-.1 7.1-.1c2.4 0 4.6 .3 7 .4c2.4 .1 4.7 .2 7.1 .2c2.4 0 4.7 .1 7.1 .1c2.4 0 5.9-.1 7.1-.1"/><path class="R w12 d" d="M610.5 516.4c1 .1 3.9 .6 5.9 .9c2 .3 3.9 .9 5.9 .7c2-.2 4.9-1.5 5.9-1.8"/><path class="G w14 d" d="M646.6 511.9c.9-.4 3.7-2.1 5.6-2.4c1.9-.3 3.7 0 5.6 .7c1.9 .7 4.7 3.1 5.6 3.7"/><path class="LG w13 d" d="M531 537.4c1.2-.6 4.9-3.2 7.4-3.8c2.5-.6 4.9-.4 7.4 0c2.5 .4 6.2 1.8 7.4 2.2"/><path class="LG w13 d" d="M530.1 537c1.2 0 4.7 0 7.1-.1c2.4-.1 4.8-.4 7.2-.7c2.4-.3 4.7-.9 7.1-1.3c2.4-.4 4.7-.9 7.1-1.3c2.4-.4 4.8-.7 7.2-1.2c2.4-.5 5.9-1.3 7.1-1.6"/><path class="PT w15 d" d="M550.9 537.2c1.2 .2 5 1.3 7.5 1.5c2.5 .2 5.1 .1 7.6-.5c2.5-.6 6.2-2.8 7.5-3.3"/><path class="G w12 d" d="M525.4 534.3c1.1-.3 4.5-.9 6.8-1.6c2.3-.6 4.5-1.8 6.8-2.3c2.3-.5 4.6-.4 6.9-.5c2.3-.1 4.5-.2 6.8-.1c2.3 .1 5.8 .6 6.9 .7"/><path class="S w12" d="M586.3 528.2c1.2-.2 4.7-.9 7-1.4c2.3-.5 4.7-1.4 7-1.5c2.3-.1 4.7 .4 7 .6c2.3 .2 4.7 .4 7 .8c2.3 .5 5.8 1.6 7 1.9"/><path class="GO w13 d" d="M570 527.8c1.3 .3 5.1 1.5 7.7 2c2.6 .5 5.1 .8 7.7 .8c2.6 0 5.1-.4 7.7-1c2.6-.6 6.4-2.4 7.7-2.9"/><path class="O w15 d" d="M563.4 539.9c1.3 .3 5.1 1.1 7.6 1.6c2.5 .5 5 1 7.5 1.2c2.5 .2 5.1 .5 7.6 .2c2.5-.3 5.1-1.1 7.6-1.8c2.5-.7 6.3-1.8 7.6-2.2"/><path class="PT w14 d" d="M522.3 540.5c1.2 0 4.6 .2 7 0c2.4-.2 4.7-.7 7.1-1c2.4-.3 4.7-.4 7.1-.8c2.4-.4 4.8-1.1 7.1-1.4c2.4-.4 4.6-.4 7-.7c2.4-.3 5.9-1 7.1-1.2"/><path class="LG w15 d" d="M503.7 540.7c1.2-.2 4.9-1.2 7.4-1.5c2.5-.3 4.9-.2 7.4-.3c2.5-.1 4.9-.4 7.4-.6c2.5-.2 4.9-.5 7.4-.7c2.5-.2 4.9-.6 7.4-.7c2.5-.1 6.2 .2 7.4 .2"/><path class="R w13 d" d="M576.8 523.3c1.3-.1 5.3-.7 7.9-.8c2.6-.1 5.3 .1 7.9 .2c2.6 .1 5.3 .4 7.9 .6c2.6 .2 5.3 .6 7.9 .7c2.6 .1 6.6 .1 7.9 .1"/><path class="LG w14 d" d="M536.2 545.4c1.1-.5 4.2-2.2 6.4-2.9c2.1-.7 4.3-1.4 6.5-1.2c2.2 .1 5.4 1.8 6.5 2.1"/><path class="T w14 d" d="M521 535.4c1.3 .3 5.2 1.6 7.8 1.8c2.6 .2 5.1 .1 7.7-.4c2.6-.5 6.5-2.2 7.8-2.7"/><path class="PG w12 d" d="M506.4 541.5c.9 .3 3.6 1.5 5.4 1.8c1.8 .3 3.5 .5 5.3 .1c1.8-.4 4.5-1.9 5.4-2.3"/><path class="T w14 d" d="M553 533.9c1.2 .3 5 1.5 7.5 1.9c2.5 .4 4.9 .4 7.4 .2c2.5-.2 5-.8 7.5-1.3c2.5-.5 6.2-1.7 7.5-2"/><path class="LG w12" d="M542.7 535.8c1.2 .1 4.7 .5 7 .5c2.3 0 4.7-.3 7-.6c2.3-.3 4.7-.6 7-1c2.3-.4 4.7-1 7-1.6c2.3-.6 5.8-1.5 7-1.8"/><path class="G w12 d" d="M565.8 528.4c1.3 .4 5.1 1.7 7.7 2.2c2.6 .5 5.2 .7 7.7 .6c2.5-.1 5-.5 7.6-1.1c2.5-.6 6.4-2.2 7.7-2.6"/><path class="S w14 d" d="M528.9 538.7c1.2 .1 4.8 .4 7.2 .5c2.4 .1 4.8 .3 7.2 .1c2.4-.2 4.8-.9 7.2-1.2c2.4-.3 4.9-.2 7.3-.7c2.4-.5 4.8-1.3 7.2-2c2.4-.7 6-1.7 7.2-2"/><path class="GO w14 d" d="M587.5 525.7c1.2-.2 4.9-.9 7.3-1.3c2.4-.4 4.9-1.1 7.3-1.2c2.4-.1 4.9 .4 7.3 .5c2.4 .1 4.9-.3 7.3-.1c2.4 .2 4.9 .7 7.3 1.1c2.4 .4 6.1 1.1 7.3 1.3"/><path class="T w14 d" d="M622.6 530.5c1.3 .5 5.3 2.4 7.9 3c2.6 .6 5.2 .7 7.9 .9c2.6 .2 5.4 .5 8 .2c2.6-.2 6.6-1.4 7.9-1.7"/><path class="S w14 d" d="M503.9 542.1c1.2-.4 5-1.7 7.5-2.4c2.5-.7 5-1.4 7.5-1.7c2.5-.3 5.1-.2 7.6-.1c2.5 .1 6.2 .4 7.5 .5"/><path class="G w15 d" d="M535 540.5c1.2-.2 5-1 7.5-1.4c2.5-.4 5-.9 7.5-1.2c2.5-.3 4.9-.6 7.4-.7c2.5-.1 5 .1 7.5 0c2.5-.1 6.2-.4 7.5-.5"/><path class="G w14 d" d="M565.5 526c1 .3 4.1 1.4 6.2 1.7c2.1 .3 4.1 .3 6.2 .2c2.1-.1 4.2-.6 6.3-1.1c2.1-.5 5.2-1.7 6.2-2.1"/><path class="GO w14 d" d="M644.8 526c1.3-.2 5.2-1.1 7.8-1c2.6 .1 5.3 .6 7.9 1.7c2.6 1.1 6.5 4.3 7.8 5.2"/><path class="GO w14 d" d="M568.6 536.6c1.2 .4 4.9 2 7.4 2.3c2.5 .3 4.8 0 7.3-.5c2.5-.5 6.2-2.1 7.4-2.5"/><path class="GO w13 d" d="M566.6 537.2c1.2-.1 4.8-.7 7.1-.9c2.4-.2 4.6-.3 7-.5c2.4-.2 4.7-.7 7.1-.6c2.4 .1 4.7 .6 7.1 1c2.4 .4 5.9 .9 7.1 1.1"/><path class="PG w13" d="M531.6 541.4c1 0 4.1 0 6.2-.2c2.1-.1 4.2-.3 6.3-.7c2.1-.4 5.2-1.3 6.2-1.6"/><path class="R w14 d" d="M513 542c1.1 0 4.4 .2 6.6 .2c2.2 0 4.5 0 6.7 .1c2.2 .1 4.4 .6 6.6 .5c2.2-.1 4.5-1 6.7-1.4c2.2-.4 5.5-.8 6.6-1"/><path class="PG w12 d" d="M507.6 539.4c1.3-.2 5.1-.9 7.6-1.1c2.5-.2 5.1-.1 7.7-.2c2.6-.1 5.1-.4 7.7-.4c2.6 0 5.1 .4 7.7 .7c2.6 .3 6.4 .9 7.7 1.1"/><path class="GO w15 d" d="M516.9 540.5c1.3-.4 5.2-1.8 7.8-2.6c2.6-.8 5.2-1.6 7.8-2.2c2.6-.5 5.2-1.1 7.8-1.1c2.6 0 5.2 .6 7.8 .9c2.6 .3 6.4 .7 7.7 .8"/><path class="S w12 d" d="M622.5 525.2c1-.2 4.2-1.1 6.3-1.4c2.1-.3 4.2-.6 6.3-.4c2.1 .2 5.3 1.5 6.4 1.8"/><path class="G w13" d="M641.4 518.9c1.1 .5 4.5 2 6.7 2.8c2.2 .8 4.5 1.8 6.8 2.2c2.2 .4 4.5 .3 6.7 .5c2.2 .2 5.6 .4 6.7 .5"/><path class="S w13" d="M617.8 532.9c1.3 .1 5.3 .5 7.9 .6c2.6 .1 5.2-.1 7.8 0c2.6 .1 5.3 .3 7.9 .6c2.6 .3 5.3 .6 7.9 1.1c2.6 .5 6.5 1.6 7.8 1.9"/><path class="PG w14 d" d="M608.5 530.4c1.2-.1 5-.5 7.5-.6c2.5-.1 5.1 .1 7.6 .2c2.5 .1 5.1 0 7.6 .2c2.5 .2 5.1 .6 7.6 .9c2.5 .2 6.3 .5 7.6 .6"/><path class="G w14 d" d="M627.1 523.5c1.1 .3 4.3 1.4 6.4 1.8c2.1 .4 4.3 .4 6.4 .3c2.1-.1 5.3-.8 6.4-.9"/><path class="GO w14 d" d="M550 527.6c1 .1 3.8 .7 5.8 .7c2 0 4-.4 5.9-.5c2-.1 4.8-.2 5.8-.3"/><path class="PG w12" d="M592.2 513.8c1.3-.1 5.1-.4 7.7-.5c2.6-.1 6.5 .1 7.8 .1"/><path class="GO w15 d" d="M548.3 536.3c1.1 .4 4.6 1.7 6.8 2.1c2.2 .4 4.4 .4 6.7 .2c2.2-.2 4.6-.8 6.8-1.6c2.2-.8 5.6-2.6 6.7-3.1"/><path class="G w11" d="M559.4 536.6c1.1-.4 4.6-1.8 6.9-2.3c2.3-.5 4.6-.8 6.9-1c2.3-.2 4.6-.2 6.9-.4c2.3-.2 4.6-.9 6.9-.8c2.3 .1 4.6 .7 6.9 1.1c2.3 .4 5.8 1 6.9 1.2"/><path class="S w14 d" d="M602.8 543.9c1.2 .5 5 2.6 7.5 3.2c2.5 .6 5 .9 7.5 .4c2.5-.5 6.2-2.8 7.5-3.4"/><path class="T w14 d" d="M570.5 539.8c1.2 0 4.7 .2 7.1 .2c2.4 0 4.7-.4 7.1-.4c2.4 0 4.7 .2 7.1 .3c2.4 .1 4.7 .2 7.1 .1c2.4-.1 4.7-.5 7.1-.5c2.4 0 5.9 .3 7.1 .4"/><path class="T w14 d" d="M649.9 531.9c1 .4 4.1 2.1 6.1 2.6c2 .5 4.2 .4 6.2 .4c2 0 5.1-.2 6.1-.2"/><path class="T w14 d" d="M571.8 524c1-.4 4.1-1.8 6.1-2.1c2-.3 4 .1 6 .2c2 .1 5 .6 6 .7"/><path class="T w14 d" d="M555.3 544.6c1.2 .4 4.9 2 7.4 2.3c2.5 .3 4.9 .3 7.4-.5c2.5-.8 6.2-3.7 7.4-4.4"/><path class="O w12 d" d="M530.3 539.3c1.2-.1 4.7-.6 7-.9c2.3-.3 4.7-.4 7-.7c2.3-.3 4.7-.8 7-1c2.3-.2 4.6-.1 6.9-.1c2.3 0 4.7 .3 7 .4c2.3 .1 5.8 .3 7 .4"/><path class="T w13 d" d="M531.8 538.4c1.3-.3 5.1-1.7 7.7-1.9c2.6-.2 6.4 .4 7.7 .5"/><path class="G w12" d="M585.7 520c1.3 .3 5.3 1.7 8 1.8c2.7 .1 6.7-.9 8-1.1"/><path class="G w11 d" d="M541.9 453.9c.2 1.2 .2 5.2 1.1 7.1c.9 1.9 2.9 3.1 4.4 4.4c1.5 1.3 2.9 3 4.4 3.3c1.5 .3 2.9-1.8 4.4-1.6c1.5 .2 3 1.7 4.4 2.7c1.4 1 2.5 2.4 4.3 3.3c1.8 .9 5.5 1.8 6.6 2.2"/><path class="G w10 d" d="M547.4 486.3c.7 .2 2.6 1 4.4 1.1c1.8 .1 4.4-.5 6.6-.5c2.2 0 4.7 .1 6.5 .5c1.8 .4 3.7 1.8 4.4 2.2"/><path class="S w10 d" d="M567.1 502.8c.7-1.3 2.9-5.5 4.4-7.7c1.5-2.2 2.8-3.9 4.4-5.5c1.6-1.6 4.2-3.7 5.1-4.4"/><path class="LG w10 d" d="M573.7 492.9l7.3 0"/><path class="S w10 d" d="M544.1 507.2c1.3 .2 5.3 .7 7.7 1.1c2.4 .4 4.4 .9 6.6 1.5c2.2 .6 3.9 1.1 6.5 1.8c2.6 .7 6.1 1.7 8.8 2.2c2.7 .5 6.1 .8 7.3 1"/><path class="T w10 d" d="M545.2 511.6c1.1 .5 4.4 2.2 6.6 3.2c2.2 1 4.4 2 6.6 2.9c2.2 .9 5.4 2.2 6.5 2.6"/><path class="GO w10 d" d="M573.7 512.7l7.3-1.1"/><path class="R w11 d" d="M512.6 526.9c.2 .6-.1 2.6 1.3 3.3c1.4 .7 4.5 .5 7.1 .7c2.6 .2 7.3 .3 8.8 .4"/><path class="S w10 d" d="M549.6 529.1c1.1-.2 4.1-.7 6.6-1.1c2.5-.4 7.2-.9 8.7-1.1"/><path class="T w10 d" d="M521 544.5c1.8 .2 7.3 .8 11 1.1c3.7 .3 7.3 .5 11 .7c3.7 .2 7.4 .3 11 .4c3.6 .1 7.2 .1 10.9 0c3.6-.1 9.2-.3 11-.4"/><path class="G w10 d" d="M532 537.9c1.8 .2 7.3 .8 11 1.1c3.7 .3 7.4 .5 11 .7c3.6 .2 9.1 .3 10.9 .4"/><path class="LG w10 d" d="M516.6 533.5c1.5 .2 5.9 .7 8.8 1.1c2.9 .4 7.3 .9 8.8 1.1"/><path class="T w10 d" d="M543 535.7c1.8 .1 7.4 .3 11 .5c3.6 .2 9.1 .5 10.9 .6"/><path class="S w10" d="M532 503.9c1.1 .6 4.8 2.4 6.6 3.3c1.8 .9 3.7 1.8 4.4 2.2"/><path class="T w11" d="M564.9 521.4c1.5-.2 6.1-.9 8.8-1.1c2.7-.2 6.1-.3 7.3-.4"/><path class="O w15" d="M524.3 522.5c.5 .5 1.7 2.2 3.3 3.3c1.6 1.1 4.4 2.5 6.6 3.3c2.2 .9 4.4 1.4 6.6 1.8c2.2 .4 4.4 .4 6.6 .4c2.2 0 5.5-.3 6.6-.4"/><path class="T w10" d="M503.4 535.7c1.1 .4 4.4 1.6 6.6 2.2c2.2 .5 5.5 .9 6.6 1.1"/><path class="S w10" d="M490.2 542.3c1.5 .1 5.9 .3 8.8 .5c2.9 .2 7.3 .5 8.8 .6"/><path class="GO w15" d="M521 541.2c1.5 .1 5.9 .5 8.8 .7c2.9 .2 5.9 .3 8.8 .4c2.9 .1 5.9 .1 8.8 0c2.9-.1 5.9-.2 8.8-.4c2.9-.2 5.8-.4 8.7-.7c2.9-.3 6.1-.9 8.8-1.1c2.7-.2 6.1-.3 7.3-.4"/><path class="T w11" d="M554 533.5c1.8-.1 7.6-.2 10.9-.4c3.3-.2 6.1-.5 8.8-.7c2.7-.2 6.1-.5 7.3-.6"/><path class="GO w12" d="M564.9 536.8c1.5-.1 6.1-.4 8.8-.6c2.7-.2 6.1-.4 7.3-.5"/><path class="G w11 d" d="M631.6 433.5c.4 .4 1.3 .9 2.2 2.2c.9 1.3 2.2 3.1 3.3 5.5c1.1 2.4 2.2 5.5 3.3 8.8c1.1 3.3 2.2 7.3 3.3 11c1.1 3.7 2.4 7.3 3.3 11c.9 3.7 1.5 7.3 2.2 11c.7 3.7 1.6 7 2.2 11c.5 4 .9 11 1.1 13.2"/><path class="G w11 d" d="M631.1 434.6l.9 6.6"/><path class="S w11" d="M581 484.7c1.1 .2 4.4 .3 6.6 .9c2.2 .6 4.8 2 6.6 2.9c1.8 .9 3.7 1.8 4.4 2.2"/><path class="R w12 d" d="M600.8 484.1c.4 .7 1.5 2.8 2.2 4.4c.7 1.6 1.5 3.9 2.2 5.5c.7 1.6 1.5 2.8 2.2 4.4c.7 1.6 1.5 3.9 2.2 5.5c.7 1.6 1.8 3.7 2.2 4.4"/><path class="LG w12" d="M581 491.8c1.1 .2 4.8 .7 6.6 1.1c1.8 .4 2.9 .4 4.4 1.1c1.5 .7 2.9 2.4 4.4 3.3c1.5 .9 3.7 1.8 4.4 2.2"/><path class="GO w12 d" d="M617.3 499.5c.5 .7 2.2 2.9 3.3 4.4c1.1 1.5 2.2 2.9 3.3 4.4c1.1 1.5 2.2 3.1 3.3 4.4c1.1 1.3 2.8 2.7 3.3 3.2"/><path class="S w10 d" d="M626.1 508.3c.7-.4 3.1-2.4 4.4-2.2c1.3 .2 2 1.7 3.3 3.3c1.3 1.6 2.9 4.7 4.4 6.5c1.5 1.8 3.7 3.7 4.4 4.4"/><path class="G w12" d="M581 500.6c1.5 .4 5.9 1.5 8.8 2.2c2.9 .7 5.9 1.5 8.8 2.2c2.9 .7 5.9 1.3 8.8 2.2c2.9 .9 6.2 2.4 8.8 3.3c2.6 .9 5.5 1.8 6.6 2.2"/><path class="O w14" d="M611.8 515.9c1.1 .4 4.4 1.5 6.6 2.2c2.2 .7 4 1.5 6.6 2.2c2.6 .7 5.9 1.3 8.8 2.2c2.9 .9 6.6 2.4 8.8 3.3c2.2 .9 3.7 1.8 4.4 2.2"/><path class="GO w11" d="M589.8 507.2c.2 .7 .7 3.1 1.1 4.4c.4 1.3 .9 2.7 1.1 3.2"/><path class="T w13" d="M581 514.8c1.5 .2 5.9 .7 8.8 1.1c2.9 .4 5.9 .7 8.8 1.1c2.9 .4 5.9 .6 8.8 1.1c2.9 .5 5.9 1.2 8.8 1.8c2.9 .5 5.9 1 8.8 1.5c2.9 .5 5.9 1.1 8.8 1.6c2.9 .5 5.9 1.1 8.8 1.7c2.9 .6 6.2 1.5 8.8 2.2c2.6 .7 5.5 1.8 6.6 2.2"/><path class="G w13" d="M581 520.3c1.5 .2 5.9 .7 8.8 1.1c2.9 .4 5.9 .6 8.8 1.1c2.9 .5 5.9 1.2 8.8 1.8c2.9 .5 5.9 .9 8.8 1.5c2.9 .6 5.9 1.6 8.8 2.2c2.9 .6 5.9 1.1 8.8 1.6c2.9 .5 5.9 1.1 8.8 1.7c2.9 .6 7.3 1.5 8.8 1.8"/><path class="O w17" d="M614 522.5c1.5 .4 5.9 1.3 8.8 2.2c2.9 .9 5.9 2.3 8.8 3.3c2.9 1 6.2 2.2 8.8 2.9c2.6 .7 5.5 1.2 6.6 1.5"/><path class="T w12" d="M647 518.1c.7 .4 2.9 1.5 4.4 2.2c1.5 .7 2.9 1.3 4.4 2.2c1.5 .9 3.1 2.2 4.4 3.3c1.3 1.1 2.8 2.8 3.3 3.3"/><path class="S w10 d" d="M644.8 517c1.1 .2 4.6 .2 6.6 1.1c2 .9 4.6 3.7 5.5 4.4"/><path class="O w14" d="M581 531.3c1.8 .4 7.3 1.5 11 2.2c3.7 .7 7.3 1.5 11 2.2c3.7 .7 7.3 1.2 11 1.8c3.7 .5 7.3 1.1 11 1.5c3.7 .4 7.7 .7 11 1.1c3.3 .4 7.3 .9 8.8 1.1"/><path class="O w17" d="M592 537.9c1.8 .4 7.3 1.6 11 2.2c3.7 .6 7.3 .7 11 1.1c3.7 .4 7.7 .7 11 1.1c3.3 .4 7.3 .9 8.8 1.1"/><path class="T w14" d="M581 533.5c1.8 .4 7.3 1.5 11 2.2c3.7 .7 7.3 1.5 11 2.2c3.7 .7 7.3 1.5 11 2.2c3.7 .7 7.3 1.2 11 1.8c3.7 .5 7.3 1.1 11 1.5c3.7 .4 7.7 .7 11 1.1c3.3 .4 7.3 .9 8.8 1.1"/><path class="GO w14" d="M581 539c1.5 .4 5.9 1.5 8.8 2.2c2.9 .7 5.9 1.6 8.8 2.2c2.9 .5 5.9 .7 8.8 1.1c2.9 .4 7.3 .9 8.8 1.1"/><path class="R w12" d="M594.2 535.7c1.5-.1 5.9-.4 8.8-.4c2.9 0 7.3 .3 8.8 .4"/><path class="G w12" d="M581 540.1c1.5 .3 5.9 1.2 8.8 1.8c2.9 .5 7.3 1.2 8.8 1.5"/><path class="T w10 d" d="M581 544.5c1.8 .2 7.3 .7 11 1.1c3.7 .4 7.3 .8 11 1.1c3.7 .3 9.2 .4 11 .5"/><path class="GO w10 d" d="M581 547.8c1.8 0 7.3-.1 11 0c3.7 .1 9.2 .6 11 .7"/><path class="S w12" d="M625 535.7c1.8 .3 7.3 1.2 11 1.8c3.7 .5 7.7 1.1 11 1.5c3.3 .4 7.3 .9 8.8 1.1"/><path class="LG w10 d" d="M636 533.5c1.5 .2 6.2 .7 8.8 1.1c2.6 .4 5.5 .9 6.6 1.1"/><path class="T w11" d="M581 511.6c1.1 .2 4.4 .7 6.6 1.1c2.2 .4 5.5 .9 6.6 1.1"/><path class="LG w10 d" d="M592 498.4c1.1 .4 4.4 1.5 6.6 2.2c2.2 .7 5.5 1.8 6.6 2.2"/></g></g><path d="M486.1 538.6c2.5 0 10.1 0 15.2-.2c5.1-.2 10.1-.5 15.2-1c5.1-.5 10.2-1.1 15.2-2c5-.9 10-2.5 15.1-3.6c5-1.1 10.6-2.2 15.2-3.1c4.6-.9 8.2-1.6 12.2-2.1c4-.5 8-.9 12.1-.9c4 0 8.2 .3 12.2 .6c4 .2 8.1 .6 12.1 .9c4 .3 8.1 .8 12.2 .9c4 .1 8.1-.4 12.1-.1c4 .3 8.1 .8 12.1 1.7c4 .9 8.7 2.6 12.2 3.7c3.5 1.1 6.5 2 9.1 2.9c2.6 .9 5.6 1.9 6.7 2.3L675 548.2c-1.1-.8-4.1-3.3-6.7-5c-2.6-1.7-5.5-3.3-9.1-5c-3.5-1.7-8.2-4.1-12.2-5.4c-4-1.3-8.1-2.1-12.1-2.6c-4-.5-8.1 .1-12.1-.1c-4-.2-8.1-.6-12.2-.9c-4-.3-8.1-.7-12.1-.9c-4-.2-8.2-.6-12.2-.6c-4 0-8 .4-12.1 .9c-4 .5-7.6 1.2-12.2 2.1c-4.6 .9-10.2 2-15.2 3.1c-5 1.1-10 2.5-15.1 3.6c-5 1.1-10.1 1.9-15.2 2.9c-5.1 1-10.1 2.2-15.2 3.3c-5.1 1.1-12.7 2.8-15.2 3.4Z" fill="#9a9a9a" fill-opacity="0.45"/><path d="M486.1 542.8c2.5-.3 10.1-1.1 15.2-1.8c5.1-.7 10.1-1.4 15.2-2.2c5.1-.8 10.2-1.4 15.2-2.4c5-1 10-2.5 15.1-3.6c5-1.1 10.6-2.2 15.2-3.1c4.6-.9 8.2-1.6 12.2-2.1c4-.5 8-.9 12.1-.9c4 0 8.2 .3 12.2 .6c4 .2 8.1 .6 12.1 .9c4 .3 8.1 .8 12.2 .9c4 .1 8.1-.4 12.1 0c4 .4 8.1 1 12.1 2.1c4 1.1 8.7 3.2 12.2 4.6c3.5 1.4 6.5 2.6 9.1 3.9c2.6 1.3 5.6 3.1 6.7 3.7" fill="none" stroke="#111" stroke-width="1.35"/></g>
<clipPath id="cD3"><rect x="477" y="428.3" width="207.5" height="125"/></clipPath>
<rect x="477" y="428.3" width="207.5" height="125" fill="none" stroke="#bfbfbf" stroke-width="1"/>
<g font-family="Liberation Sans, sans-serif" font-size="3.6" fill="#3a3a3a"><line x1="475.8" y1="466.6" x2="477" y2="466.6" stroke="#444" stroke-width="0.7"/><text x="475.4" y="467.8" text-anchor="end">400</text><line x1="475.8" y1="508.3" x2="477" y2="508.3" stroke="#444" stroke-width="0.7"/><text x="475.4" y="509.5" text-anchor="end">200</text><line x1="475.8" y1="550.9" x2="477" y2="550.9" stroke="#444" stroke-width="0.7"/><text x="475.4" y="552.1" text-anchor="end">0</text><line x1="529.7" y1="553.3" x2="529.7" y2="554.5" stroke="#444" stroke-width="0.7"/><text x="529.7" y="557.9" text-anchor="middle">0.25</text><line x1="582.9" y1="553.3" x2="582.9" y2="554.5" stroke="#444" stroke-width="0.7"/><text x="582.9" y="557.9" text-anchor="middle">0.50</text><line x1="636" y1="553.3" x2="636" y2="554.5" stroke="#444" stroke-width="0.7"/><text x="636" y="557.9" text-anchor="middle">0.75</text></g>
<g font-family="Liberation Serif, serif" font-size="7.1" fill="#111" stroke="#111" stroke-width="0.08">
<text x="118.2" y="5.0" textLength="30.6" lengthAdjust="spacingAndGlyphs">Prevalence</text>
<text x="306.4" y="5.0" textLength="101.8" lengthAdjust="spacingAndGlyphs">YLDs (Years Lived with Disability)</text>
<text x="526.2" y="5.0" textLength="115.2" lengthAdjust="spacingAndGlyphs">DALYs (Disability-Adjusted Life Years)</text>
<text x="323.6" y="571.3" textLength="72.7" lengthAdjust="spacingAndGlyphs">Socio-demographic Index</text>
</g>
<g font-family="Liberation Serif, serif" font-size="7.4" fill="#111" font-weight="bold">
<text x="-0.5" y="21.9">A</text>
<text x="-0.5" y="158.8">B</text>
<text x="-0.5" y="297.7">C</text>
<text x="-0.5" y="435.7">D</text>
</g>
<g font-family="Liberation Sans, sans-serif" fill="#444" font-size="4.8">
<text transform="translate(18.9 96.3) rotate(-90)" textLength="46.3" lengthAdjust="spacingAndGlyphs">15-49 years Stroke Rate</text>
<text transform="translate(18.9 241.5) rotate(-90)" textLength="57.7" lengthAdjust="spacingAndGlyphs">15-49 years Ischemic stroke Rate</text>
<text transform="translate(18.9 390.9) rotate(-90)" textLength="76.5" lengthAdjust="spacingAndGlyphs">15-49 years Intracerebral hemorrhage Rate</text>
<text transform="translate(18.9 533.2) rotate(-90)" textLength="77.6" lengthAdjust="spacingAndGlyphs">15-49 years Subarachnoid hemorrhage Rate</text>
</g>
</g></svg></body></html>
